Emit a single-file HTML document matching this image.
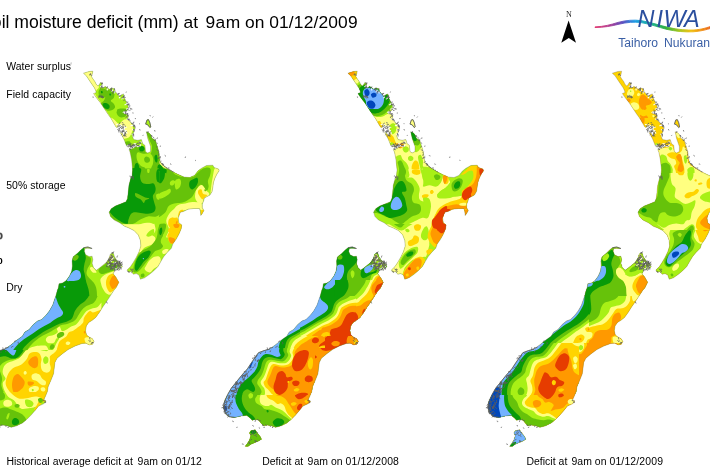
<!DOCTYPE html>
<html><head><meta charset="utf-8"><title>Soil moisture deficit</title>
<style>
html,body{margin:0;padding:0;background:#fff;}
body{width:710px;height:473px;overflow:hidden;position:relative;font-family:"Liberation Sans",sans-serif;}
svg{position:absolute;left:0;top:0;}
text{white-space:pre;font-family:"Liberation Sans",sans-serif;fill:#000;}
.t{font-size:17.4px;}
.l{font-size:10.45px;letter-spacing:0.07px;}
.c{font-size:10.45px;letter-spacing:0.04px;}
</style></head><body>
<svg width="710" height="473" viewBox="0 0 710 473">
<rect width="710" height="473" fill="#fff"/>
<defs><path id="lp" d="M83.5,73.2 86.5,72.3 89.0,71.5 92.8,71.2 92.4,73.6 91.5,76.6 92.8,78.7 94.9,81.6 96.2,84.2 97.9,85.9 99.1,85.0 100.4,82.5 102.1,82.9 102.5,84.2 100.8,85.9 101.2,87.6 103.4,88.1 105.0,86.3 107.2,87.6 109.3,89.2 111.8,88.0 114.3,88.8 115.2,91.4 117.3,93.9 119.4,96.4 121.5,94.7 123.6,93.9 124.1,97.3 125.3,99.8 126.6,102.3 127.9,105.3 128.5,108.6 127.0,110.7 124.2,111.4 123.5,113.5 126.3,114.2 128.5,115.6 127.7,119.2 129.4,121.0 132.3,124.1 135.1,128.3 133.7,132.5 132.3,136.1 133.7,139.6 137.9,140.3 141.4,139.6 142.8,143.8 144.9,145.2 145.6,151.5 147.7,153.0 150.6,151.5 150.6,146.6 149.2,142.4 147.7,138.2 147.0,134.6 146.3,131.8 148.5,132.5 150.6,134.6 152.0,138.2 155.5,140.3 156.2,143.1 157.6,147.3 159.0,152.3 159.7,157.9 160.4,162.1 162.8,164.8 167.0,168.3 172.7,171.8 178.3,174.6 183.9,177.0 189.6,177.5 194.5,175.4 198.0,171.1 201.5,168.3 206.5,165.5 212.8,165.2 214.2,167.6 218.5,169.0 219.2,170.8 217.0,173.9 214.9,178.2 213.5,182.4 212.8,187.3 212.1,191.5 210.0,195.1 207.2,196.5 204.4,197.9 203.7,200.7 202.3,204.2 202.3,207.7 203.9,210.6 202.3,213.4 200.8,215.5 200.4,211.3 199.4,208.5 193.8,208.5 188.2,209.2 183.9,211.3 180.3,212.3 178.2,217.9 178.9,222.8 181.7,224.9 181.2,228.8 179.2,233.5 176.3,239.1 172.8,244.0 171.4,248.2 167.2,252.5 163.7,256.7 160.8,261.6 158.0,266.5 153.8,270.8 149.6,274.3 144.6,277.8 140.4,279.2 139.0,275.0 136.2,273.6 133.4,274.3 131.3,271.5 128.5,272.2 127.0,270.1 130.6,266.5 133.4,262.3 136.2,257.4 139.0,251.8 140.8,246.1 140.4,240.5 138.3,234.9 134.1,230.6 128.5,227.8 124.6,226.3 119.7,222.8 114.1,220.0 110.6,216.5 109.2,212.3 111.3,208.7 115.5,205.9 121.1,203.8 126.1,201.7 127.5,198.2 128.2,192.5 128.9,185.5 130.3,179.9 132.1,175.6 132.7,170.0 132.3,166.3 131.5,159.3 130.1,152.3 129.0,149.5 133.0,148.3 137.0,145.8 136.0,144.2 131.0,146.0 127.5,147.0 126.6,145.9 123.8,138.9 120.3,132.5 122.0,133.0 124.0,136.0 125.5,135.0 124.5,131.0 123.0,127.5 120.0,125.5 117.0,127.5 116.0,126.9 111.1,118.5 108.0,114.2 103.8,107.9 102.1,105.3 100.0,102.3 97.4,99.0 94.9,95.6 93.6,93.5 96.2,92.6 95.8,90.9 94.5,88.0 91.9,84.2 89.0,79.9 86.5,76.1ZM147.0,119.9 148.5,119.6 149.9,122.7 150.8,126.9 149.9,127.6 147.7,124.8 145.6,124.1ZM83.6,247.7 87.9,247.0 92.1,248.5 87.6,248.3 85.0,248.5 84.3,251.3 85.7,254.8 89.3,256.6 92.1,256.2 92.8,259.7 92.1,263.2 93.5,267.5 96.3,270.3 99.1,268.2 102.6,265.4 106.2,262.5 109.0,258.3 110.4,254.1 113.2,252.7 114.6,256.9 117.4,261.1 121.7,264.6 122.4,266.8 118.8,269.6 114.6,271.0 113.2,273.8 116.0,277.3 118.8,282.3 116.0,287.9 114.1,290.0 110.5,295.6 106.3,302.0 102.8,306.9 99.3,312.5 95.7,317.5 92.2,320.3 88.7,322.4 86.3,325.9 85.5,330.8 86.6,335.1 89.4,337.2 92.2,338.6 94.1,341.4 92.5,344.2 89.4,344.9 85.9,343.2 82.0,343.5 75.1,346.0 68.1,349.6 62.1,354.0 57.0,358.3 54.9,362.5 54.2,368.2 53.5,373.8 50.7,380.8 48.2,386.5 47.4,391.4 45.4,396.3 43.9,399.6 46.2,401.6 43.6,403.8 38.6,406.1 35.1,410.4 30.9,415.3 26.7,419.5 22.4,423.0 16.8,425.8 11.2,427.3 6.9,425.8 2.7,425.1 -0.8,425.8 -2.9,423.7 -5.7,420.2 -9.3,419.5 -12.1,420.2 -14.2,418.1 -17.7,415.3 -23.3,416.0 -29.7,417.4 -35.3,416.7 -38.8,413.2 -40.9,408.2 -40.1,402.0 -36.7,394.5 -33.0,388.0 -28.3,382.3 -22.6,375.2 -17.0,368.9 -12.8,362.5 -8.6,356.4 -5.9,352.7 -0.3,350.6 4.8,349.2 10.8,345.0 17.4,339.7 22.3,336.3 24.8,332.1 29.1,329.6 33.3,324.5 37.5,321.1 41.7,319.4 46.0,315.2 49.3,311.0 52.7,305.1 54.4,300.0 55.8,296.0 57.4,290.0 58.3,287.9 59.0,283.7 62.5,283.0 66.0,280.8 69.5,275.9 71.7,271.0 72.4,266.1 72.1,261.1 73.1,256.9 77.3,253.4 80.8,249.9ZM-13.5,430.8 -9.3,429.8 -7.1,432.9 -4.3,436.4 -2.9,439.2 -6.4,441.3 -10.0,442.7 -13.5,444.2 -16.3,446.3 -19.1,446.3 -17.0,443.5 -14.9,439.9 -13.5,435.7 -14.9,432.9Z"/><clipPath id="land"><use href="#lp"/></clipPath><g id="cn"><path d="M115.1,268.9 116.2,269.0 117.4,268.7M120.1,266.7 121.0,266.1 121.6,265.1M113.5,263.6 113.9,263.3 114.3,263.0 114.6,262.5M114.9,270.8 115.5,270.6 115.9,270.2 116.1,269.6M117.5,268.3 118.0,267.6 118.0,266.7M116.7,264.4 117.4,264.2 117.4,263.5 117.8,263.0M107.9,265.1 108.3,264.7 108.8,264.9 109.3,264.6M110.3,261.4 111.0,261.4 111.5,260.8M112.4,259.1 112.9,258.4 113.8,258.1M116.3,271.0 117.1,270.3 117.8,269.5M119.1,269.4 119.3,268.7 119.9,268.3 120.5,267.8M117.1,263.9 117.3,263.1 118.0,262.5M114.1,263.7 115.0,263.0 116.0,262.3M112.8,268.0 113.2,267.6 113.0,267.0 113.4,266.6M101.4,85.3 101.3,86.3 100.4,86.6M107.2,88.7 107.2,89.1 107.3,89.5 107.3,89.9M112.7,90.0 112.3,90.4 112.1,90.9 112.0,91.4M114.4,91.2 114.5,92.1 114.7,92.9M120.1,96.9 119.7,97.4 119.3,97.9M123.4,97.5 123.0,98.1 122.4,98.4 121.9,98.9M126.6,103.4 126.1,104.4 125.0,104.8M128.7,108.1 128.1,108.7 127.3,108.8 126.6,109.1M124.3,111.9 123.7,112.0 123.2,112.4M125.8,112.7 125.0,112.4 124.5,113.1M129.1,119.1 128.0,119.0 126.9,119.1M132.9,125.5 132.2,125.3 131.6,125.5 131.0,125.8M134.6,130.4 133.9,130.3 133.3,130.0 132.7,129.6M133.3,134.7 132.8,134.1 132.0,134.3M120.0,124.8 120.6,125.2 121.2,125.5 121.7,126.0M118.7,126.9 120.2,127.0 121.5,127.7M126.1,130.6 126.0,132.1 127.0,133.2M123.0,126.3 123.3,127.1 123.8,127.8 123.6,128.6M124.4,127.8 124.3,129.3 124.2,130.8M123.7,126.2 124.6,126.7 125.4,127.2 126.4,127.3M121.6,129.0 122.4,129.2 122.8,129.9 123.1,130.7M119.1,129.1 118.8,130.5 119.3,131.9M121.5,128.5 121.9,129.3 121.7,130.2M125.1,130.5 124.7,131.0 124.4,131.6 124.6,132.2M116.7,124.6 117.3,124.8 118.0,124.7 118.6,124.9M120.7,127.3 121.5,128.3 122.2,129.4M126.2,146.8 126.9,145.8 128.1,145.3M126.7,147.8 127.7,147.4 128.6,147.9M139.9,146.2 140.1,145.4 140.7,144.8M134.3,146.2 134.8,146.0 135.4,146.1 136.0,146.1M137.5,146.6 138.3,146.5 138.9,146.0M138.2,146.5 139.0,145.9 139.8,145.5M134.0,143.9 134.8,143.7 135.6,143.9M125.8,146.9 126.5,146.3 127.4,146.6 128.3,146.6M127.9,146.8 128.4,145.5 129.7,145.3M139.6,142.1 140.6,142.2 141.6,142.0" fill="none" stroke="#fff" stroke-width="1.1" stroke-linecap="round"/><use href="#lp" fill="none" stroke="#555" stroke-width="0.35" stroke-opacity="0.8"/><path d="M-27.1,390.3 -28.6,389.2 -29.4,387.7M-34.7,398.8 -35.0,397.0 -35.5,395.2M-31.9,398.1 -31.7,396.2 -30.4,394.9M-36.5,408.9 -36.3,408.0 -36.3,407.0 -36.8,406.2M-41.8,405.7 -41.0,404.2 -40.0,402.9 -38.5,402.1M-39.7,408.4 -39.4,407.5 -39.6,406.6 -40.2,405.9M-20.3,381.5 -20.1,380.7 -20.2,379.9 -20.6,379.1M-27.7,391.7 -28.0,390.6 -28.4,389.5 -28.5,388.4M-40.1,410.8 -39.0,410.5 -38.0,409.9 -37.0,410.2M-36.8,417.4 -35.6,415.7 -35.7,413.7M-36.8,398.3 -35.2,397.2 -33.6,396.1M-23.3,383.6 -21.9,383.1 -20.6,382.2M-27.9,388.5 -26.5,388.8 -25.4,388.0 -24.4,387.0M-38.5,401.0 -37.1,401.5 -35.7,400.8 -34.2,400.7M-20.7,379.4 -20.1,377.4 -20.4,375.3M-33.4,390.6 -31.6,391.6 -30.2,390.1M-38.4,408.6 -37.8,406.2 -39.2,404.2M-35.4,400.3 -36.3,399.0 -35.7,397.5M-21.2,380.6 -21.4,378.7 -22.3,377.0M-22.2,377.9 -22.2,376.9 -22.1,376.0 -21.6,375.3M-29.7,385.2 -28.3,384.6 -26.9,383.9 -26.7,382.4M-30.5,392.4 -30.2,390.9 -30.3,389.4M-38.8,414.3 -40.0,412.7 -40.5,410.8M-28.2,388.9 -28.8,388.2 -28.8,387.2 -29.0,386.2M-40.6,408.7 -40.2,408.0 -39.9,407.3 -39.4,406.7M-32.0,397.9 -32.0,396.8 -32.1,395.6 -31.3,394.8M-22.0,376.1 -21.0,375.7 -20.0,375.1M-27.7,384.0 -28.5,383.1 -28.1,381.9M-26.5,385.3 -25.4,383.1 -22.9,382.8M-39.5,411.0 -38.5,410.4 -38.3,409.2 -38.3,408.1M-33.6,395.2 -32.7,394.4 -31.6,393.7 -30.5,393.2M-25.7,383.8 -25.1,382.8 -24.0,382.4M-39.2,413.6 -38.0,413.4 -36.9,412.8 -36.0,411.9M-29.8,392.6 -28.0,392.3 -26.5,391.4M-23.2,383.5 -23.1,382.7 -23.5,382.1 -23.9,381.4M-28.0,384.8 -27.3,383.2 -27.2,381.5M-39.9,406.7 -40.1,406.0 -39.8,405.3 -40.1,404.6M-21.2,375.7 -19.8,375.6 -18.3,375.6M-35.3,407.7 -35.1,405.9 -34.9,404.0M-24.3,386.9 -23.9,384.8 -24.1,382.6M-28.8,386.8 -28.4,385.7 -28.9,384.7 -28.6,383.5M-17.0,377.3 -16.5,376.0 -17.6,375.0 -17.3,373.6M-25.1,382.9 -23.8,381.8 -22.2,382.4M-34.1,390.3 -32.9,390.8 -31.8,390.2M-33.9,390.0 -32.8,390.6 -31.6,391.0 -30.5,391.5M-32.2,387.4 -30.8,387.4 -29.3,387.3 -28.0,386.9M-41.1,407.3 -40.6,406.0 -39.4,405.3 -38.7,404.0M-37.9,403.0 -38.2,401.8 -38.6,400.8 -39.3,399.8M-27.2,384.9 -27.8,383.8 -28.4,382.7 -28.4,381.5M-31.8,392.1 -30.9,391.5 -30.4,390.6 -29.7,389.8M-33.5,405.1 -33.5,402.9 -31.5,402.0M-32.2,402.8 -32.4,401.3 -32.0,399.9M-30.7,393.0 -29.5,392.5 -28.2,392.2M-28.9,399.1 -29.6,397.0 -31.5,396.0M-34.0,409.6 -34.9,408.8 -35.7,407.9 -35.7,406.7M-35.9,396.8 -35.4,396.4 -35.1,395.7 -35.2,395.0M-33.9,391.9 -33.0,391.7 -32.4,391.1 -32.0,390.3M-36.1,409.1 -35.7,407.5 -34.7,406.3 -34.5,404.6M-19.7,376.3 -19.0,374.0 -16.6,373.6M-37.7,415.2 -37.0,415.2 -36.3,415.3 -35.7,414.9M-21.9,376.7 -21.5,375.9 -20.9,375.3 -20.0,375.2M-36.4,406.4 -35.5,406.0 -34.6,406.4 -33.9,405.6M-39.3,411.7 -38.8,410.4 -39.4,409.1 -40.2,408.0M-31.7,394.7 -30.9,394.9 -30.1,395.1 -29.2,395.1M-31.8,408.9 -32.6,407.9 -33.7,407.1M-28.1,389.7 -27.4,388.6 -26.6,387.5M-34.2,414.5 -33.8,413.9 -33.9,413.1 -34.2,412.5M-36.0,407.6 -35.3,407.2 -34.6,407.0 -34.0,406.5M-33.0,404.4 -34.0,403.3 -34.2,401.9M-30.9,391.4 -29.0,390.9 -27.9,389.2M-37.8,405.0 -37.6,404.1 -37.9,403.2 -37.3,402.5M-42.9,407.8 -41.6,407.6 -40.7,406.6 -40.1,405.5M-19.2,377.1 -18.8,375.6 -18.1,374.2M-21.5,379.8 -20.7,379.6 -20.1,378.9 -19.4,378.4M-38.5,413.0 -37.6,412.0 -36.3,411.7 -35.0,411.3M4.6,349.8 4.9,349.0 5.3,348.2 5.8,347.5M-12.1,367.8 -11.4,367.7 -11.1,367.1 -10.4,367.0M-9.9,356.4 -9.7,355.7 -9.3,355.0M-9.5,366.5 -9.5,365.4 -9.4,364.4 -8.8,363.4M11.0,347.4 11.8,347.1 12.5,346.5 13.3,346.2M-8.9,357.6 -8.2,356.8 -7.4,355.9 -7.4,354.8M-9.1,360.8 -9.0,359.7 -8.8,358.6M-11.9,359.1 -11.7,358.5 -11.6,357.8 -11.0,357.6M5.3,348.1 7.0,347.8 8.6,347.3M-7.0,362.0 -6.7,360.9 -5.7,360.5 -5.7,359.3M1.2,353.0 0.9,352.2 1.1,351.5M17.9,344.3 18.4,343.6 18.2,342.7 18.2,341.8M-10.4,358.7 -10.0,357.7 -9.1,357.3 -8.2,356.9M-14.3,370.0 -13.4,370.0 -12.6,369.5M2.7,350.1 3.1,348.8 2.8,347.5M-20.5,371.5 -19.0,371.9 -17.5,371.9M-4.5,353.7 -3.4,353.3 -2.7,352.5M14.1,341.5 15.0,341.2 15.7,340.6M5.6,352.1 5.9,351.0 6.8,350.2M-15.3,368.4 -14.1,367.4 -12.7,366.9M-7.8,361.2 -7.2,360.5 -6.4,360.3 -5.6,360.2M-16.3,372.8 -15.8,371.8 -15.3,370.8M4.8,349.2 -0.3,350.6 -5.9,352.7 -8.6,356.4 -12.8,362.5 -17.0,368.9 -22.6,375.2 -28.3,382.3 -33.0,388.0 -36.7,394.5 -40.1,402.0 -40.9,408.2 -38.8,413.2 -35.3,416.7 -29.7,417.4M112.1,260.6 112.9,260.6 113.6,260.1M111.8,260.2 112.8,260.0 113.8,260.4M111.1,267.4 111.8,267.8 112.5,268.1 113.3,268.3M119.5,266.8 120.3,266.3 121.1,265.7M111.1,267.1 111.1,266.3 111.0,265.6 110.6,264.9M111.6,264.3 112.8,264.2 113.6,263.4M108.1,261.0 109.7,260.5 110.8,259.1M114.0,265.2 114.8,265.0 115.5,264.6 116.3,264.8M108.4,268.1 109.4,267.0 110.3,265.8M115.9,261.7 116.1,260.9 116.4,260.1M117.1,263.2 117.5,262.7 117.7,262.1 117.5,261.5M119.0,263.7 119.3,262.9 119.5,262.0M113.3,266.8 113.6,265.7 114.2,264.7 114.7,263.7M117.1,266.5 118.1,265.9 119.3,265.5M109.8,264.0 109.7,263.5 109.8,263.0 109.6,262.5M114.1,267.5 114.6,265.9 114.9,264.3M121.0,269.6 121.1,268.1 120.2,266.7M114.8,265.3 115.4,265.2 115.9,264.9 116.5,265.2M119.1,266.0 119.8,265.4 120.8,265.5 121.7,265.4M116.7,263.4 117.5,263.3 118.3,263.7 119.2,263.7M113.4,263.9 114.9,264.0 116.3,264.3M118.6,264.8 119.2,264.0 119.8,263.3 120.7,263.2M106.1,266.5 106.8,266.3 107.6,266.3M113.3,264.0 113.8,264.1 114.3,264.0 114.8,264.3M110.6,265.0 111.3,263.6 112.1,262.3M109.7,263.1 110.3,262.9 110.7,262.2 110.9,261.5M113.8,260.6 113.9,259.1 114.2,257.6M117.1,270.0 117.2,269.5 117.3,269.0 117.8,268.8M113.9,269.0 113.8,268.2 113.6,267.4 113.5,266.5M115.5,268.1 115.7,267.2 115.3,266.3 115.5,265.4M120.5,264.8 119.8,263.3 120.1,261.6M118.6,266.1 118.2,265.5 117.9,264.9 118.0,264.2M114.4,270.8 115.5,270.2 116.2,269.1M117.7,264.3 117.1,263.0 116.5,261.7M107.2,267.1 107.1,266.2 106.6,265.5M107.3,265.2 107.7,264.4 107.5,263.6 107.1,262.8M117.0,267.2 118.4,266.7 119.9,266.8M112.2,266.4 113.8,267.0 115.1,266.1M110.9,268.9 110.9,267.9 110.6,266.9 111.1,265.9M117.9,265.5 117.4,263.9 117.6,262.2M115.4,264.5 116.2,263.8 116.7,263.0 116.8,261.9M116.9,270.0 117.9,269.0 118.4,267.8M109.6,263.2 110.3,263.4 110.9,263.8 111.6,264.2M108.7,264.2 109.6,262.9 110.2,261.4M117.7,265.2 118.9,265.0 120.1,264.7M110.3,268.7 111.4,268.5 112.6,268.4 113.6,268.0M107.5,261.4 108.5,261.1 109.5,260.9 110.4,260.4M105.9,263.6 106.3,263.1 106.8,262.7 107.0,262.0M107.7,260.4 108.3,260.0 109.0,259.7 109.5,259.2M110.5,259.7 111.5,258.6 112.1,257.2M110.5,266.6 110.4,266.0 110.0,265.5 110.2,264.9M109.5,259.9 109.8,258.6 109.7,257.3M109.1,260.7 109.2,260.2 109.0,259.7 109.2,259.2M115.9,264.5 115.4,263.5 114.8,262.6 114.0,261.8M121.1,265.9 121.7,265.0 122.3,264.2 121.8,263.2M109.8,269.5 111.4,269.2 113.0,269.3M117.4,268.5 117.9,268.2 118.4,268.0 118.9,267.6M109.7,265.7 110.2,265.5 110.7,265.2 111.3,265.0M110.2,263.7 111.9,263.4 113.4,264.1M114.4,263.0 115.9,263.4 117.3,262.8M109.0,260.1 109.0,259.0 109.3,258.0M120.6,264.6 119.9,263.6 119.4,262.6M119.7,263.3 119.6,262.4 119.5,261.6 119.0,260.9M112.5,266.3 113.5,266.6 114.4,265.9 115.5,266.1M109.8,261.9 110.3,261.2 109.9,260.6 110.1,259.9M112.0,260.8 111.1,260.2 110.5,259.3 110.6,258.2M109.3,266.1 109.4,265.2 108.9,264.4M115.6,265.1 115.8,264.2 115.6,263.3M112.9,268.7 112.3,267.9 112.1,266.9 112.4,265.9M106.2,263.2 106.6,262.9 107.2,262.8 107.8,263.1M114.6,270.7 114.3,269.0 115.3,267.7M118.8,270.6 119.2,269.7 119.9,269.0 119.9,268.1M115.6,261.0 115.0,259.8 116.0,259.0M116.5,261.1 117.5,261.1 118.4,261.3 119.1,260.8M120.4,268.0 120.3,267.4 120.3,266.8 119.8,266.5M114.5,262.0 114.9,261.1 114.5,260.3 115.0,259.4M120.5,264.1 121.0,262.7 122.5,262.0M118.5,263.2 118.9,262.5 119.0,261.8 119.5,261.3M110.1,263.6 111.2,263.5 112.2,263.4M108.7,263.8 109.2,262.8 110.1,262.1M110.6,255.8 111.1,255.5 111.3,254.9 111.9,254.8M110.5,257.8 111.7,257.8 112.9,257.6M111.1,258.3 111.1,257.7 111.5,257.2 111.6,256.6M112.2,256.9 112.3,256.4 112.0,255.9 111.8,255.4M111.7,256.2 112.4,256.3 113.0,256.0M111.3,256.1 111.8,255.5 112.4,254.9M111.5,253.2 112.1,253.0 112.7,252.6 113.4,252.5M110.7,258.0 110.7,257.3 111.2,256.9M112.8,253.3 113.1,252.7 113.3,252.0 113.8,251.5M110.2,257.7 110.8,256.7 111.2,255.6M111.8,257.9 112.6,257.1 113.4,256.3M112.7,253.6 112.4,252.9 112.0,252.3M100.8,82.9 101.4,83.4 102.2,83.2 103.0,82.9M101.1,84.6 101.7,84.1 102.2,83.5 101.9,82.8M102.0,86.1 101.4,87.5 100.3,88.7M102.5,88.0 102.2,87.0 101.6,86.1 102.1,85.2M104.3,87.7 103.7,87.5 103.1,87.9M106.2,88.7 106.0,88.1 106.0,87.5M107.1,87.9 107.0,87.0 107.9,86.8M110.0,89.5 111.0,90.4 112.1,91.1M111.9,89.1 110.4,88.8 109.8,90.2M111.7,90.6 111.6,89.1 111.6,87.6M113.2,91.4 112.8,92.6 112.6,93.8M115.0,90.2 114.5,89.3 114.5,88.3M114.9,92.1 113.8,91.6 112.6,91.8M117.7,93.9 118.5,94.2 118.8,93.4 119.7,93.4M119.0,96.0 120.2,96.0 121.3,95.5M118.0,95.1 118.0,94.1 118.5,93.3M122.6,96.8 122.1,97.4 122.4,98.1 121.9,98.7M123.2,97.3 123.6,96.6 124.2,96.1 124.2,95.3M123.9,97.8 123.3,96.9 123.9,96.0M125.6,97.5 124.2,97.0 122.6,97.2M124.7,99.7 124.5,100.2 124.0,100.4 123.5,100.6M126.1,101.4 127.0,102.3 128.3,102.0M126.7,103.9 127.0,104.6 127.7,104.8 128.3,105.3M128.5,103.8 128.5,104.9 129.5,105.2 130.3,105.7M127.8,104.3 128.6,104.0 129.5,104.0M129.7,106.3 129.2,106.9 128.9,107.6 128.6,108.3M129.9,108.5 130.8,108.4 131.5,108.8 132.3,109.1M126.9,109.1 127.9,109.4 128.6,110.2 129.5,110.5M125.0,109.8 125.0,110.2 125.4,110.4 125.8,110.5M125.1,111.8 125.7,111.8 126.0,111.4 126.3,111.0M126.5,111.9 125.7,112.0 125.5,112.8 125.5,113.5M125.2,113.6 126.2,113.8 127.2,114.1 128.2,113.6M127.2,113.0 127.6,114.1 127.8,115.3M127.7,115.5 126.8,116.2 126.4,117.1 125.7,117.9M127.8,116.7 127.9,115.6 128.7,114.8M129.4,119.0 128.4,119.3 128.5,120.3M129.0,119.5 128.1,119.2 127.2,118.8M130.3,121.3 129.7,120.2 129.1,119.2M131.1,123.0 131.8,123.4 132.7,123.6 133.5,123.7M132.6,123.1 133.7,122.8 133.9,121.7M133.6,125.5 134.2,126.0 134.9,126.3 135.5,126.9M133.4,125.6 134.0,125.1 134.7,125.4M135.0,126.4 134.5,125.2 133.4,124.4M135.4,127.6 134.5,126.8 133.4,126.3M135.0,130.2 133.9,129.9 133.2,129.1M134.0,131.8 133.7,130.7 133.8,129.5M132.6,133.9 133.1,133.7 133.5,134.0 133.7,134.6M132.9,133.7 133.6,135.0 133.7,136.5M122.0,128.3 123.1,127.6 123.7,126.4M122.4,124.5 123.3,124.4 124.1,124.4 124.5,125.1M121.5,126.7 122.1,126.3 122.8,126.1 123.4,125.8M120.3,123.1 119.2,123.6 118.6,124.6M119.6,129.5 119.4,128.7 118.8,128.1M125.7,127.1 125.3,126.4 125.2,125.6M118.2,125.0 118.1,125.8 117.8,126.6 118.1,127.3M126.1,134.4 125.8,133.6 125.1,133.3 124.8,132.5M118.9,132.4 118.9,131.7 118.7,131.1 118.7,130.4M121.0,135.2 121.4,134.7 121.8,134.3 122.3,133.8M122.2,131.8 123.0,131.3 123.4,130.5 123.3,129.6M121.6,131.0 122.4,131.1 123.2,131.4 124.1,131.4M119.8,130.8 118.9,130.6 118.2,129.9 117.4,129.5M121.8,122.7 122.6,122.7 123.3,123.0M124.7,134.4 123.7,135.4 122.9,136.6M124.0,127.4 123.5,127.6 123.2,128.1 123.0,128.6M124.0,134.8 124.4,135.7 124.9,136.4M125.1,135.5 125.6,135.6 125.9,136.1 126.4,136.3M118.9,126.6 119.3,126.2 119.9,126.0 120.2,125.5M124.9,136.3 124.7,135.4 124.6,134.5 124.7,133.6M122.0,130.9 123.2,131.1 124.4,131.2M121.6,129.1 121.2,127.7 119.8,127.1M118.4,130.1 119.1,129.6 119.1,128.7 119.5,127.8M126.8,131.4 125.5,132.3 124.9,133.8M121.9,131.5 122.2,131.9 122.5,132.2 122.3,132.6M120.1,130.7 120.9,131.4 121.6,132.3 122.6,131.9M133.6,146.4 134.2,146.7 134.7,147.2 135.4,147.2M130.3,147.5 130.3,146.8 130.3,146.1 130.5,145.4M135.5,146.1 135.2,145.8 134.7,145.6 134.2,145.6M133.4,143.8 133.6,144.3 133.6,144.9 133.9,145.4M131.1,149.6 130.4,149.4 129.6,149.1 129.5,148.4M133.9,144.6 133.2,145.5 132.1,145.9M130.4,145.0 130.9,144.1 131.2,143.1M140.7,143.0 139.8,143.1 139.2,142.5 138.7,141.8M136.3,144.3 137.0,145.6 138.5,145.6M133.3,146.0 132.3,145.9 131.5,146.4 130.5,146.5M136.0,144.9 136.9,143.8 137.6,142.6M131.7,145.0 132.5,144.7 133.4,144.9M131.4,145.5 132.0,145.9 132.7,145.7 133.5,145.6M130.3,146.0 130.0,145.5 130.0,145.0 129.7,144.6M141.1,143.6 140.3,143.2 140.2,142.3 139.6,141.6M138.8,144.7 138.8,145.5 139.1,146.2 139.8,146.7M135.0,146.1 134.7,145.5 134.6,144.8M130.3,148.5 130.2,149.2 130.8,149.7M129.1,143.9 128.8,144.8 128.5,145.6 128.7,146.5M130.9,147.6 130.4,146.2 129.3,145.3M132.8,148.0 132.2,147.1 131.5,146.3M132.4,148.2 131.8,147.2 131.3,146.2M139.1,145.4 138.8,145.7 138.4,146.0 138.0,146.2M137.3,143.4 138.6,143.4 139.8,142.8M128.4,144.6 128.9,144.3 129.4,144.4 130.0,144.2M128.5,146.9 127.7,146.1 126.8,145.6M98.6,95.8 99.0,96.9 98.8,98.1M100.3,97.2 101.1,97.1 101.7,97.7 102.2,98.3M100.9,94.9 101.1,95.7 101.4,96.5 101.7,97.2M101.9,96.6 103.0,97.2 103.9,98.1M99.0,95.2 99.6,96.1 99.6,97.3M102.3,95.9 102.1,96.7 102.7,97.3 102.7,98.2M102.4,96.1 102.9,96.4 103.2,97.0 103.8,97.3M99.7,96.5 100.5,96.2 101.4,96.3M90.5,75.1 90.4,74.7 90.7,74.2M90.7,74.2 90.7,73.9 90.6,73.6 90.6,73.3M91.1,74.3 90.5,74.2 89.9,74.0M89.7,74.2 89.7,74.9 89.8,75.5M91.8,75.7 91.6,75.3 91.2,75.2 90.9,74.8M147.6,132.9 147.7,132.2 148.0,131.6 148.2,131.0M151.8,135.3 151.6,136.2 152.5,136.5M151.8,136.2 151.3,135.8 151.3,135.1M154.1,138.3 154.0,137.8 153.6,137.5 153.1,137.2M155.5,140.2 155.3,139.5 155.9,139.0M155.4,140.8 154.4,140.5 153.8,139.7M157.6,143.7 157.3,143.4 157.0,143.0 156.8,142.6M157.1,146.2 156.9,146.7 156.7,147.2 156.2,147.2M158.5,150.4 157.8,150.4 157.1,150.1 156.7,149.5M159.2,151.9 158.9,152.2 158.6,152.1 158.2,152.3M158.9,153.6 158.7,154.7 158.3,155.7M159.7,157.5 158.5,157.8 158.5,159.0M160.3,158.2 160.3,157.5 160.2,156.8 160.8,156.4M161.4,161.2 160.8,161.7 160.2,162.1 159.7,162.7M163.0,164.0 163.2,164.6 163.2,165.3 163.9,165.5M163.4,164.3 162.6,164.7 162.0,165.2M140.0,123.7 139.5,123.8 139.2,123.5M152.5,117.5 152.8,117.2 153.0,116.9 153.2,116.6M155.0,131.5 154.7,130.8 154.8,130.0M158.0,138.0 157.3,138.1 156.6,138.5M161.0,146.0 160.4,146.2 159.8,146.3M166.0,156.0 165.3,155.9 164.7,155.3M170.0,164.0 170.5,163.9 170.9,164.1 171.2,164.5M136.0,118.5 135.6,118.6 135.2,118.6 135.1,119.0M133.5,113.0 133.1,113.1 132.8,112.9 132.4,113.0M131.0,109.5 130.6,110.0 130.1,110.3M139.5,129.0 139.8,129.7 140.1,130.4M143.0,136.0 142.8,135.7 143.0,135.4 143.3,135.2M150.5,116.0 150.1,116.0 150.0,115.6 150.0,115.3M185.0,158.0 185.3,157.6 185.2,157.1 185.5,156.6M196.0,160.5 195.6,160.6 195.3,160.3 195.0,160.4M93.0,96.5 93.0,97.2 93.4,97.8M126.5,92.0 126.0,91.9 125.8,92.3M147.0,119.9 148.5,119.6 149.9,122.7 150.8,126.9 149.9,127.6 147.7,124.8 145.6,124.1 147.0,119.9M131.5,272.6 132.3,272.0 132.8,271.2M132.1,270.3 132.3,270.7 132.6,271.0 133.0,271.2M131.2,270.8 131.6,270.7 131.8,270.5 132.2,270.5M128.5,272.1 128.8,272.2 129.2,272.2 129.6,272.3M130.6,269.7 130.8,269.1 130.4,268.6M127.5,271.4 128.1,271.2 128.6,271.6 129.2,271.6M132.6,269.4 131.6,269.3 130.7,269.7M133.3,269.6 132.9,269.4 132.6,269.1 132.1,269.1M117.0,257.5 117.2,256.5 117.6,255.6M119.5,262.0 119.7,261.3 120.4,260.9M132.4,177.5 132.8,178.0 133.4,178.3 133.9,178.8M132.4,175.6 132.7,176.6 133.4,177.4M133.7,179.4 133.1,179.3 132.6,179.1 132.6,178.6M131.0,176.7 131.2,177.7 130.4,178.4M132.6,177.3 131.6,177.1 130.5,177.3M133.5,177.4 133.4,176.9 133.3,176.4M129.5,176.1 130.0,175.9 130.5,176.2 130.9,176.6M161.6,163.1 161.8,163.8 162.0,164.4M161.7,163.3 162.7,163.6 163.1,164.5M164.3,165.8 164.7,166.6 165.0,167.4M165.4,166.7 166.2,167.6 167.1,168.3M167.4,168.2 168.4,168.0 169.4,168.0M168.5,168.9 169.0,169.2 169.3,169.6 169.7,169.9M170.4,170.1 171.0,170.3 171.6,170.6M172.0,171.1 172.4,171.5 172.9,171.7 173.5,171.7M92.6,342.6 92.3,342.3 91.8,342.3M90.8,343.5 91.8,343.2 92.6,342.5M89.6,337.4 89.7,338.4 90.0,339.4M93.1,342.9 92.6,342.7 92.1,343.1 91.4,343.1M89.3,341.8 90.1,341.3 91.0,340.8M92.3,342.6 92.7,342.6 93.1,342.6 93.4,342.4M88.8,341.0 89.0,340.5 88.8,340.0M44.1,400.4 43.9,400.6 43.8,400.8 43.5,400.8M45.6,402.7 45.5,402.1 45.0,401.8 44.6,401.4M44.4,400.4 43.7,400.4 43.0,400.4M45.8,400.9 45.4,401.0 45.0,401.1M44.6,401.9 44.6,402.3 44.9,402.6 44.9,403.1M106.3,301.5 107.3,303.4M-6.7,432.6 -7.4,432.8 -8.1,432.5 -8.7,433.0M-7.6,434.4 -8.2,434.7 -8.8,434.5M-9.3,441.3 -9.3,440.7 -9.8,440.4M-9.8,431.5 -9.3,431.1 -9.2,430.4M-11.0,433.5 -10.7,432.9 -10.2,432.4 -10.0,431.7M-15.3,443.7 -15.4,442.9 -15.5,442.2M-14.3,440.6 -13.5,439.8 -12.4,439.4M-14.0,434.6 -13.1,434.4 -12.3,434.5M-11.2,433.5 -11.7,432.8 -12.0,432.0M-12.2,434.2 -11.9,433.7 -11.8,433.2M-10.1,435.5 -10.3,435.0 -10.8,434.7 -11.1,434.2M-7.5,436.6 -8.2,436.3 -8.8,435.7 -9.3,435.0M-7.7,441.3 -8.3,441.1 -8.9,441.3 -9.6,441.2M-7.7,441.4 -8.6,441.4 -9.3,440.9M-12.1,431.7 -11.4,431.3 -11.1,430.6 -10.4,430.4M-14.2,444.0 -14.7,443.3 -14.9,442.5 -14.9,441.7M-27.0,428.0 -27.5,427.5 -27.2,426.8M-12.0,425.0 -11.6,425.5 -11.4,426.0 -10.9,426.4M-5.0,427.5 -5.4,427.8 -5.1,428.2 -4.8,428.6M0.5,427.0 -0.1,427.4 -0.9,427.4M-22.5,444.0 -21.9,444.0 -21.4,444.4 -20.8,444.3M-32.0,421.0 -31.4,421.1 -31.1,421.5 -31.1,422.1M-8.9,420.2 -9.1,421.0 -9.4,421.8M-5.9,420.2 -6.2,419.8 -6.5,419.3 -7.0,419.5M-5.5,420.5 -4.8,420.4 -4.4,420.9 -3.8,420.9M-1.9,424.6 -2.0,425.0 -1.6,425.3 -1.8,425.8M-0.9,425.6 -1.1,425.2 -1.6,425.2 -1.9,424.9M2.1,425.8 1.7,425.1 1.1,424.4M5.2,425.8 6.0,426.4 6.7,425.8M9.3,426.6 8.6,427.3 7.6,427.5M83.6,247.7 87.9,247.0 92.1,248.5" fill="none" stroke="#5c5c5c" stroke-width="0.8"/></g><clipPath id="c0"><rect x="-50" y="200" width="174.5" height="96"/></clipPath><clipPath id="c1"><rect x="-50" y="296" width="350" height="54"/></clipPath><clipPath id="c2"><rect x="-50" y="350" width="350" height="42"/></clipPath><clipPath id="c3"><rect x="-50" y="392" width="350" height="88"/></clipPath><clipPath id="c4"><rect x="100" y="224" width="200" height="76"/></clipPath><clipPath id="c5"><rect x="-60" y="200" width="184.5" height="96"/></clipPath><clipPath id="c6"><rect x="-60" y="296" width="120.6" height="52"/></clipPath><clipPath id="c7"><rect x="60.6" y="296" width="239.4" height="52"/></clipPath><clipPath id="c8"><rect x="35.6" y="296" width="55.99999999999999" height="40"/></clipPath><clipPath id="c9"><rect x="91.6" y="296" width="40.0" height="24"/></clipPath><clipPath id="c10"><rect x="70.6" y="280" width="61.0" height="16"/></clipPath><clipPath id="c11"><rect x="-60" y="348" width="110.6" height="47"/></clipPath><clipPath id="c12"><rect x="50.6" y="348" width="249.4" height="47"/></clipPath><clipPath id="c13"><rect x="-60" y="395" width="360" height="85"/></clipPath><clipPath id="c14"><rect x="0" y="0" width="300" height="118"/></clipPath><clipPath id="c15"><rect x="0" y="118" width="300" height="55"/></clipPath><clipPath id="c16"><rect x="0" y="173" width="300" height="57"/></clipPath><clipPath id="c17"><rect x="124.2" y="230" width="175.8" height="70"/></clipPath><clipPath id="c18"><rect x="-60" y="200" width="184.2" height="96"/></clipPath><clipPath id="c19"><rect x="-60" y="296" width="120.2" height="47"/></clipPath><clipPath id="c20"><rect x="60.2" y="296" width="239.8" height="47"/></clipPath><clipPath id="c21"><rect x="-60" y="343" width="110.2" height="52"/></clipPath><clipPath id="c22"><rect x="50.2" y="343" width="249.8" height="52"/></clipPath></defs>
<g transform="translate(0,0)">
<g clip-path="url(#land)">
<rect x="-40" y="60" width="300" height="400" fill="#a8f016"/>
<path fill="#ffff80" d="M81.3,71.3C83.2,70.6 91.8,69.4 93.9,69.9C96.0,70.4 93.4,72.2 93.7,74.1C94.0,76.0 94.7,79.0 95.6,81.1C96.5,83.2 98.8,85.3 98.9,86.8C99.1,88.3 97.1,89.1 96.5,90.3C95.9,91.5 94.4,91.8 95.1,93.8C95.8,95.8 98.7,99.3 100.7,102.3C102.7,105.3 104.9,108.8 106.9,111.8C108.9,114.8 110.8,117.8 112.5,120.3C114.2,122.8 117.1,125.8 117.2,126.9C117.3,128.0 114.9,128.7 113.0,126.9C111.1,125.1 107.4,118.5 105.9,116.3C104.4,114.1 104.9,114.9 104.2,113.8C103.5,112.8 102.5,111.3 101.7,110.0C100.9,108.7 99.9,107.2 99.2,106.2C98.5,105.1 98.7,105.6 97.5,103.7C96.3,101.8 93.1,97.3 91.8,94.5C90.5,91.7 90.3,88.5 89.7,86.8C89.1,85.1 88.8,85.2 88.3,84.2C87.7,83.1 86.9,81.7 86.2,80.4C85.5,79.2 84.7,77.8 84.1,76.7C83.6,75.7 83.2,75.0 82.7,74.1C82.2,73.2 79.4,72.0 81.3,71.3Z"/>
<path fill="#66c20a" d="M98.9,90.3C99.4,89.1 100.4,88.3 101.7,88.2C103.0,88.1 104.8,89.1 106.6,89.6C108.4,90.1 111.0,90.3 112.3,91.0C113.6,91.7 114.2,92.6 114.4,93.8C114.6,95.0 114.3,96.8 113.7,98.0C113.1,99.2 110.8,99.8 110.8,100.8C110.8,101.8 113.0,102.6 113.7,103.7C114.4,104.8 115.3,106.2 115.1,107.2C114.9,108.2 113.5,109.4 112.3,110.0C111.1,110.6 109.4,111.0 108.0,110.7C106.6,110.4 105.0,109.1 103.8,107.9C102.6,106.7 101.0,104.9 101.0,103.7C101.0,102.5 103.1,101.9 103.8,100.8C104.5,99.7 105.5,97.8 105.2,97.3C104.9,96.8 102.8,98.3 101.7,98.0C100.7,97.7 99.4,96.5 98.9,95.2C98.4,93.9 98.4,91.5 98.9,90.3Z"/>
<path fill="#089a08" d="M102.7,103.9C103.1,103.2 104.8,102.8 105.9,103.0C107.0,103.2 108.6,104.3 109.2,105.1C109.8,105.9 109.8,107.2 109.4,107.9C109.0,108.6 107.8,109.1 106.9,109.0C106.0,108.9 104.5,108.0 103.8,107.2C103.1,106.4 102.3,104.6 102.7,103.9Z"/>
<path fill="#089a08" d="M101.0,91.3C101.2,91.0 102.1,91.0 102.4,91.3C102.7,91.6 102.9,92.7 102.7,93.0C102.5,93.3 101.6,93.5 101.3,93.2C101.0,92.9 100.8,91.6 101.0,91.3Z"/>
<path fill="#089a08" d="M109.4,93.8C109.6,93.5 110.5,93.6 110.8,93.8C111.1,94.0 111.3,94.9 111.1,95.2C110.9,95.5 110.0,95.7 109.7,95.5C109.4,95.3 109.2,94.1 109.4,93.8Z"/>
<path fill="#66c20a" d="M117.9,110.7C118.4,110.9 118.6,112.8 119.3,113.5C120.0,114.2 121.0,115.1 122.1,115.2C123.1,115.3 125.0,114.0 125.6,114.2C126.2,114.4 126.3,115.8 125.6,116.3C124.9,116.8 122.7,117.6 121.4,117.5C120.1,117.4 118.7,116.5 117.9,115.6C117.1,114.7 116.5,112.9 116.5,112.1C116.5,111.3 117.4,110.5 117.9,110.7Z"/>
<path fill="#ffff80" d="M126.3,120.8C126.5,119.6 127.8,118.9 128.9,119.9C130.0,120.9 132.9,125.7 132.7,126.9C132.5,128.1 128.6,127.9 127.5,126.9C126.4,125.9 126.1,122.0 126.3,120.8Z"/>
<path fill="#66c20a" d="M119.3,122.7C120.0,121.8 122.3,121.6 123.5,121.7C124.7,121.8 126.0,122.5 126.3,123.4C126.6,124.3 126.8,126.3 125.6,126.9C124.4,127.5 120.3,127.6 119.3,126.9C118.2,126.2 118.6,123.6 119.3,122.7Z"/>
<path fill="#ffff80" d="M111.1,117.7C111.7,117.5 113.3,119.0 114.6,119.9C115.9,120.9 117.1,123.5 118.9,123.4C120.7,123.3 123.2,119.1 125.2,119.2C127.2,119.3 129.5,122.6 130.8,124.1C132.1,125.6 132.9,126.8 133.0,128.3C133.1,129.8 132.2,131.7 131.5,133.2C130.8,134.7 130.0,136.4 128.7,137.5C127.4,138.6 124.1,138.2 123.8,139.6C123.5,141.0 126.7,144.7 126.9,145.9C127.1,147.1 126.1,147.8 125.2,146.9C124.3,146.0 123.1,142.9 121.7,140.3C120.3,137.7 118.6,134.3 116.8,131.1C115.0,127.9 112.0,123.5 111.1,121.3C110.1,119.1 110.5,117.9 111.1,117.7Z"/>
<path fill="#66c20a" d="M117.5,109.3C118.9,108.2 125.8,108.5 127.3,109.3C128.8,110.1 127.3,112.9 126.6,114.2C125.9,115.5 124.4,116.8 123.1,117.0C121.8,117.2 119.8,116.9 118.9,115.6C118.0,114.3 116.1,110.3 117.5,109.3Z"/>
<path fill="#66c20a" d="M125.2,142.1C125.9,141.4 128.4,140.9 129.4,141.3C130.4,141.7 131.3,143.6 131.1,144.5C130.9,145.4 128.9,146.8 128.0,146.9C127.1,147.0 126.0,146.0 125.5,145.2C125.0,144.4 124.5,142.8 125.2,142.1Z"/>
<path fill="#66c20a" d="M130.1,150.1C130.5,148.6 132.4,149.4 133.7,148.7C135.0,148.0 136.2,146.2 137.9,145.9C139.7,145.6 142.9,145.8 144.2,146.9C145.5,148.0 144.5,151.2 145.6,152.3C146.7,153.4 149.5,154.6 150.6,153.7C151.7,152.8 152.1,148.7 152.0,146.6C151.9,144.5 150.7,143.0 149.9,141.0C149.1,139.0 147.6,136.2 147.0,134.6C146.4,132.9 145.7,131.3 146.3,131.1C146.9,130.9 149.5,132.0 150.6,133.2C151.7,134.4 151.8,136.9 152.7,138.2C153.6,139.5 155.3,139.4 156.2,141.0C157.1,142.6 157.7,145.4 158.3,148.0C158.9,150.6 159.3,153.8 159.7,156.5C160.0,159.2 159.3,162.2 160.4,164.2C161.5,166.2 163.8,167.0 166.1,168.5C168.4,170.0 171.9,171.7 174.5,173.1C177.1,174.5 180.8,176.3 181.5,176.9C182.2,177.5 182.7,176.9 178.5,176.9C174.3,176.9 163.6,176.9 156.2,176.9C148.7,176.9 138.0,176.9 133.8,176.9C129.6,176.9 131.1,178.7 130.8,176.9C130.6,175.1 132.2,169.5 132.3,166.3C132.4,163.1 131.9,160.6 131.5,157.9C131.1,155.2 129.7,151.6 130.1,150.1Z"/>
<path fill="#a8f016" d="M137.9,152.3C139.1,151.8 141.4,153.4 143.5,153.7C145.6,154.0 149.0,153.2 150.6,153.9C152.2,154.6 152.6,156.3 153.0,157.9C153.4,159.5 153.3,161.9 153.0,163.5C152.7,165.1 151.7,166.3 151.3,167.7C150.9,169.1 151.3,171.0 150.8,172.0C150.3,173.0 149.4,173.7 148.5,173.7C147.6,173.7 146.2,173.0 145.6,172.0C145.0,171.0 145.6,168.6 144.9,167.7C144.2,166.8 142.6,167.2 141.4,166.3C140.2,165.4 138.7,163.7 137.9,162.1C137.1,160.5 136.5,158.1 136.5,156.5C136.5,154.9 136.7,152.8 137.9,152.3Z"/>
<path fill="#66c20a" d="M144.2,158.6C144.4,157.7 145.4,156.6 146.3,156.5C147.2,156.4 148.8,157.2 149.4,157.9C150.0,158.7 150.2,160.2 149.9,161.0C149.6,161.8 148.3,162.7 147.5,162.8C146.7,162.9 145.5,162.5 144.9,161.8C144.3,161.1 144.0,159.5 144.2,158.6Z"/>
<path fill="#089a08" d="M139.3,147.7C139.6,146.9 140.6,146.0 141.4,145.9C142.2,145.8 143.4,146.3 143.9,146.9C144.4,147.5 144.7,148.9 144.4,149.7C144.1,150.5 142.9,151.3 142.1,151.5C141.3,151.7 140.1,151.2 139.6,150.6C139.1,150.0 139.0,148.5 139.3,147.7Z"/>
<path fill="#089a08" d="M154.8,155.8C155.1,155.2 156.0,154.3 156.5,154.8C157.0,155.3 157.5,157.3 157.6,158.6C157.7,159.9 157.4,161.9 157.0,162.4C156.6,162.9 155.8,162.4 155.4,161.8C155.0,161.2 154.6,159.6 154.5,158.6C154.4,157.6 154.5,156.4 154.8,155.8Z"/>
<path fill="#089a08" d="M157.9,165.6C158.5,164.7 160.2,164.3 161.1,164.9C162.0,165.5 162.8,167.2 163.2,169.2C163.6,171.2 164.3,175.6 163.5,176.9C162.7,178.2 159.3,178.0 158.3,176.9C157.3,175.8 157.7,172.5 157.6,170.6C157.5,168.7 157.3,166.5 157.9,165.6Z"/>
<path fill="#089a08" d="M135.1,164.2C135.7,163.0 137.2,162.7 137.9,163.5C138.7,164.3 139.4,167.0 139.6,169.2C139.8,171.4 140.1,175.6 139.3,176.9C138.5,178.2 135.6,178.0 134.8,176.9C134.0,175.8 134.4,172.7 134.4,170.6C134.4,168.5 134.5,165.4 135.1,164.2Z"/>
<path fill="#ffff80" d="M146.8,170.8C146.9,170.4 148.1,170.1 148.5,170.3C148.9,170.5 149.5,171.6 149.4,172.0C149.3,172.4 148.1,173.0 147.7,172.8C147.3,172.6 146.7,171.2 146.8,170.8Z"/>
<path fill="#ffff80" d="M159.4,161.4C160.2,161.7 162.7,164.7 164.6,166.1C166.5,167.5 168.8,168.7 171.0,169.9C173.2,171.1 175.8,172.2 178.0,173.4C180.2,174.6 184.1,176.3 184.4,176.9C184.8,177.5 182.1,177.6 180.1,176.9C178.1,176.2 174.8,174.0 172.4,172.7C170.0,171.4 167.5,170.3 165.4,168.9C163.3,167.5 161.1,165.4 160.1,164.2C159.1,162.9 158.7,161.1 159.4,161.4Z"/>
<path fill="#a8f016" d="M145.6,119.9C146.2,119.0 148.9,117.9 149.9,119.2C150.9,120.5 151.4,126.1 151.3,127.6C151.2,129.1 150.0,128.5 149.2,128.0C148.4,127.5 146.9,126.1 146.3,124.8C145.7,123.5 145.0,120.8 145.6,119.9Z"/>
<path fill="#66c20a" d="M131.7,168.6C132.3,168.1 128.9,168.6 134.7,168.6C140.4,168.6 155.7,168.6 166.2,168.6C176.7,168.6 191.9,168.6 197.7,168.6C203.4,168.6 200.2,168.1 200.7,168.6C201.2,169.1 200.7,170.3 200.7,171.6C200.7,172.9 200.7,174.8 200.7,176.3C200.7,177.9 200.7,179.8 200.7,181.1C200.7,182.4 201.3,182.9 200.7,184.1C200.1,185.3 198.5,186.7 197.2,188.3C195.9,189.9 194.7,192.2 193.0,193.9C191.3,195.6 189.7,197.1 187.3,198.2C185.0,199.3 181.7,199.7 178.9,200.3C176.1,200.9 172.5,200.9 170.4,201.7C168.3,202.5 167.6,203.4 166.2,205.2C164.8,207.0 163.7,210.4 162.0,212.3C160.3,214.2 158.7,215.8 156.3,216.5C154.0,217.2 150.5,216.0 147.9,216.5C145.3,217.0 143.2,218.1 140.8,219.3C138.5,220.5 136.0,222.7 133.8,223.5C131.6,224.3 129.6,224.2 127.5,224.2C125.4,224.2 122.6,223.9 121.1,223.5C119.6,223.1 119.5,222.6 118.5,222.0C117.4,221.5 116.0,220.7 114.8,220.0C113.6,219.3 112.2,218.5 111.1,218.0C110.1,217.4 109.2,217.9 108.5,216.5C107.8,215.1 105.6,211.8 107.0,209.4C108.4,207.1 113.6,203.9 116.9,202.4C120.2,200.9 125.1,201.1 126.8,200.3C128.5,199.5 126.8,200.0 127.3,197.3C127.7,194.7 128.6,188.7 129.2,184.4C129.9,180.2 130.8,174.2 131.2,171.6C131.7,168.9 131.1,169.1 131.7,168.6Z"/>
<path fill="#a8f016" d="M170.4,169.3C170.6,170.1 172.7,172.7 174.6,173.9C176.5,175.2 179.1,176.2 181.7,176.8C184.3,177.4 187.6,177.9 190.1,177.7C192.6,177.5 194.7,176.5 196.5,175.6C198.3,174.7 200.0,173.3 200.7,172.1C201.4,170.9 201.2,169.2 200.7,168.6C200.2,168.0 200.2,168.6 197.7,168.7C195.2,168.7 189.6,168.9 185.6,168.9C181.5,169.0 175.9,169.2 173.4,169.2C170.9,169.3 170.2,168.5 170.4,169.3Z"/>
<path fill="#089a08" d="M131.7,168.6C133.3,168.1 139.4,167.2 140.8,168.6C142.2,170.0 139.8,174.7 140.1,177.0C140.3,179.3 141.0,181.5 142.3,182.7C143.6,183.9 146.0,184.0 147.9,184.1C149.8,184.2 152.2,182.7 153.5,183.4C154.8,184.1 155.4,186.8 155.6,188.3C155.8,189.8 155.4,191.2 154.9,192.5C154.4,193.8 152.9,194.4 152.8,196.1C152.7,197.8 153.7,200.4 154.2,202.4C154.7,204.4 155.7,206.3 155.6,208.0C155.5,209.7 154.8,211.4 153.5,212.3C152.2,213.2 150.0,213.6 147.9,213.7C145.8,213.8 143.2,213.2 140.8,213.0C138.5,212.8 135.6,212.0 133.8,212.3C132.1,212.7 131.2,213.7 130.3,215.1C129.4,216.5 128.7,219.2 128.2,220.7C127.7,222.1 128.4,223.5 127.5,223.8C126.5,224.1 124.3,223.2 122.5,222.4C120.7,221.6 118.5,220.2 116.9,219.0C115.3,217.8 113.9,216.5 112.7,215.4C111.5,214.3 110.7,213.5 109.9,212.3C109.1,211.1 106.5,209.7 107.7,208.0C108.9,206.3 113.7,203.8 116.9,202.4C120.1,201.0 125.1,200.6 126.8,199.6C128.5,198.6 127.0,197.9 127.1,196.6C127.2,195.3 127.4,193.4 127.5,191.8C127.6,190.3 127.8,188.4 127.9,187.1C128.0,185.8 128.0,185.1 128.2,184.1C128.4,183.1 128.6,182.5 128.9,181.2C129.2,179.9 129.6,178.0 129.9,176.3C130.3,174.7 130.7,172.8 131.0,171.5C131.3,170.2 130.1,169.1 131.7,168.6Z"/>
<path fill="#66c20a" d="M135.2,193.2C135.8,192.8 137.8,193.9 139.4,194.6C141.1,195.3 143.4,196.9 145.1,197.5C146.8,198.1 149.2,197.7 149.3,198.2C149.4,198.7 146.3,199.5 145.4,200.3C144.5,201.1 144.5,203.2 143.7,203.1C142.9,203.0 142.1,200.6 140.8,199.6C139.5,198.6 136.8,197.9 135.9,196.8C135.0,195.7 134.6,193.6 135.2,193.2Z"/>
<path fill="#089a08" d="M157.7,169.3C159.3,168.0 164.9,168.2 166.2,169.3C167.5,170.4 166.2,173.6 165.5,175.6C164.8,177.6 163.3,180.2 162.0,181.3C160.7,182.4 158.6,182.7 157.7,182.0C156.8,181.3 156.3,179.1 156.3,177.0C156.3,174.9 156.0,170.6 157.7,169.3Z"/>
<path fill="#089a08" d="M190.1,182.7C190.8,181.5 192.4,180.6 193.7,179.9C195.0,179.2 197.0,178.0 197.9,178.5C198.8,179.0 199.2,181.2 198.9,182.7C198.6,184.2 197.0,186.4 195.8,187.6C194.6,188.8 192.6,189.8 191.5,189.7C190.4,189.6 189.6,188.1 189.4,186.9C189.2,185.7 189.4,183.9 190.1,182.7Z"/>
<path fill="#a8f016" d="M156.3,194.6C156.9,193.6 158.9,194.0 160.6,193.2C162.2,192.4 164.7,190.5 166.2,189.7C167.7,188.9 169.0,188.1 169.7,188.3C170.4,188.5 171.0,189.8 170.4,191.1C169.8,192.4 167.8,194.7 166.2,196.1C164.6,197.5 162.1,199.1 160.6,199.6C159.1,200.1 157.7,199.7 157.0,198.9C156.3,198.1 155.7,195.6 156.3,194.6Z"/>
<path fill="#a8f016" d="M170.4,182.7C170.9,182.0 173.4,181.2 174.6,180.6C175.8,180.0 176.6,179.1 177.5,179.2C178.4,179.3 180.1,180.2 180.3,181.3C180.5,182.4 179.6,184.1 178.9,185.5C178.2,186.9 176.8,189.5 176.1,189.7C175.4,189.9 175.3,187.7 174.6,186.9C173.9,186.1 172.5,185.5 171.8,184.8C171.1,184.1 169.9,183.4 170.4,182.7Z"/>
<path fill="#a8f016" d="M147.2,169.3C147.5,168.7 149.2,168.8 149.6,169.3C149.9,169.8 149.6,171.9 149.3,172.5C149.0,173.1 147.9,173.3 147.6,172.8C147.2,172.3 146.9,169.9 147.2,169.3Z"/>
<path fill="#ffff80" d="M133.8,232.0C134.0,230.2 135.9,227.7 137.3,226.3C138.7,224.9 140.5,224.1 142.3,223.5C144.1,222.9 146.0,222.7 147.9,222.8C149.8,222.9 152.2,223.1 153.5,224.2C154.8,225.3 155.6,227.7 155.6,229.2C155.6,230.7 154.8,232.9 153.5,233.4C152.2,233.9 149.5,231.4 147.9,232.0C146.3,232.6 145.7,236.1 143.7,236.9C141.7,237.7 137.6,237.7 135.9,236.9C134.2,236.1 133.6,233.8 133.8,232.0Z"/>
<path fill="#ffff80" d="M166.2,220.7C166.4,217.9 168.8,214.5 170.4,212.3C172.1,210.1 173.8,209.0 176.1,207.7C178.4,206.4 181.7,205.3 184.5,204.5C187.3,203.7 190.3,203.4 193.0,203.1C195.7,202.8 199.4,201.6 200.7,202.4C202.0,203.2 202.2,206.9 200.7,208.0C199.2,209.1 194.2,208.3 191.5,208.7C188.8,209.0 186.4,209.4 184.5,210.1C182.6,210.8 181.2,211.7 180.3,213.0C179.4,214.3 178.4,215.7 178.9,217.9C179.4,220.1 182.5,223.1 183.1,226.3C183.7,229.5 183.0,235.1 182.4,236.9C181.8,238.7 180.8,236.9 179.4,236.9C178.1,236.9 176.0,236.9 174.3,236.9C172.6,236.9 170.5,236.9 169.2,236.9C167.8,236.9 166.2,238.2 166.2,236.9C166.2,235.6 169.0,231.9 169.0,229.2C169.0,226.5 166.0,223.5 166.2,220.7Z"/>
<path fill="#ffd400" d="M169.0,219.3C169.8,218.0 171.8,217.4 173.2,217.2C174.6,217.0 176.6,216.8 177.5,217.9C178.4,219.0 178.2,222.2 178.9,223.5C179.7,224.8 181.7,224.2 182.0,225.6C182.3,227.0 181.5,230.1 181.0,232.0C180.5,233.9 181.1,236.1 178.9,236.9C176.7,237.7 169.0,238.2 167.6,236.9C166.2,235.6 170.3,231.2 170.4,229.2C170.5,227.2 168.5,226.6 168.3,224.9C168.1,223.2 168.2,220.6 169.0,219.3Z"/>
<path fill="#ff9900" d="M176.3,221.4C176.7,220.6 177.3,220.2 177.5,220.7C177.7,221.2 177.4,223.1 177.2,224.2C177.0,225.2 176.4,226.8 176.1,227.0C175.8,227.2 175.4,226.5 175.4,225.6C175.4,224.7 176.0,222.2 176.3,221.4Z"/>
<path fill="#ffff80" d="M195.8,191.1C196.3,189.6 197.8,188.3 198.6,187.6C199.4,186.9 200.3,186.5 200.7,186.9C201.0,187.3 200.7,188.7 200.7,189.9C200.7,191.1 200.7,192.8 200.7,194.3C200.7,195.8 200.7,197.5 200.7,198.7C200.7,199.9 201.2,201.4 200.7,201.7C200.2,202.0 198.7,201.1 197.9,200.3C197.1,199.5 196.2,198.3 195.8,196.8C195.5,195.3 195.3,192.6 195.8,191.1Z"/>
<path fill="#ffd400" d="M198.3,191.1C198.7,190.2 200.3,188.9 200.7,189.7C201.1,190.5 201.0,195.2 200.7,196.1C200.3,197.0 199.0,195.9 198.6,195.1C198.2,194.3 198.0,192.0 198.3,191.1Z"/>
<path fill="#66c20a" d="M159.2,224.9C159.8,223.8 161.9,223.5 162.7,224.2C163.4,224.9 163.8,227.1 163.7,229.2C163.6,231.3 163.2,235.6 162.3,236.9C161.4,238.2 158.8,238.0 158.2,236.9C157.6,235.8 158.7,232.6 158.9,230.6C159.1,228.6 158.6,226.0 159.2,224.9Z"/>
<path fill="#089a08" d="M160.6,229.2C160.9,228.5 161.7,227.9 162.0,228.5C162.3,229.1 162.5,231.6 162.3,232.7C162.2,233.8 161.4,235.1 161.1,235.1C160.8,235.1 160.4,233.7 160.3,232.7C160.2,231.7 160.3,229.9 160.6,229.2Z"/>
<path fill="#66c20a" d="M159.3,171.1C160.8,171.1 165.6,173.4 168.5,174.2C171.4,174.9 174.1,174.7 176.9,175.6C179.7,176.5 182.8,179.2 185.4,179.6C188.0,180.0 190.3,179.4 192.4,178.2C194.5,177.0 196.3,174.0 198.0,172.5C199.7,171.0 200.7,169.8 202.3,169.0C204.0,168.2 206.5,167.5 207.9,167.6C209.3,167.7 210.3,168.4 210.7,169.7C211.0,171.0 210.5,173.5 210.0,175.4C209.5,177.3 208.1,179.1 207.9,181.0C207.7,182.9 208.8,185.0 208.6,186.6C208.4,188.2 207.6,191.0 206.5,190.8C205.4,190.6 203.7,186.1 202.3,185.2C200.9,184.3 199.2,184.3 198.0,185.2C196.8,186.1 196.1,188.9 195.2,190.8C194.3,192.7 193.8,194.8 192.4,196.5C191.0,198.2 188.7,199.6 186.8,200.7C184.9,201.8 183.2,202.3 181.1,202.8C179.0,203.3 176.2,202.9 174.1,203.5C172.0,204.1 169.9,204.9 168.5,206.3C167.1,207.7 167.1,210.2 165.6,212.0C164.1,213.8 160.4,216.6 159.3,216.9C158.2,217.2 159.3,217.7 159.3,213.9C159.3,210.1 159.3,200.6 159.3,194.0C159.3,187.4 159.3,177.9 159.3,174.1C159.3,170.3 157.8,171.1 159.3,171.1Z"/>
<path fill="#089a08" d="M159.3,167.6C159.9,167.2 161.9,167.5 162.8,168.3C163.7,169.1 164.7,170.8 164.9,172.5C165.1,174.2 164.8,176.5 164.2,178.2C163.6,179.9 162.2,181.9 161.4,182.7C160.6,183.5 159.7,183.5 159.3,183.1C159.0,182.7 159.3,181.4 159.3,180.1C159.3,178.8 159.3,176.9 159.3,175.3C159.3,173.8 159.3,171.9 159.3,170.6C159.3,169.3 158.7,168.0 159.3,167.6Z"/>
<path fill="#a8f016" d="M175.5,180.3C176.3,179.2 178.8,178.6 179.7,178.9C180.6,179.2 181.1,181.0 181.1,182.4C181.1,183.8 180.5,186.1 179.7,187.3C178.9,188.5 177.0,189.8 176.2,189.4C175.4,189.1 174.9,186.7 174.8,185.2C174.7,183.7 174.7,181.4 175.5,180.3Z"/>
<path fill="#a8f016" d="M169.9,182.4C170.2,181.6 171.8,180.4 172.7,180.3C173.6,180.2 175.1,180.9 175.2,181.7C175.3,182.5 174.2,184.3 173.4,184.9C172.6,185.5 171.2,185.6 170.6,185.2C170.0,184.8 169.6,183.2 169.9,182.4Z"/>
<path fill="#a8f016" d="M159.3,193.7C160.4,192.4 163.8,191.6 165.6,190.8C167.4,190.0 169.1,188.4 169.9,188.7C170.7,188.9 171.3,191.0 170.6,192.3C169.9,193.6 167.5,195.4 165.6,196.5C163.7,197.6 160.4,199.1 159.3,198.6C158.2,198.1 158.2,195.0 159.3,193.7Z"/>
<path fill="#089a08" d="M189.6,181.7C190.3,180.3 192.5,179.5 193.8,178.9C195.1,178.3 196.6,177.4 197.3,177.9C198.0,178.4 198.2,180.2 198.0,181.7C197.8,183.1 196.8,185.3 195.9,186.6C195.0,187.9 193.5,189.3 192.4,189.4C191.3,189.5 190.1,188.6 189.6,187.3C189.1,186.0 188.9,183.1 189.6,181.7Z"/>
<path fill="#ffff80" d="M214.9,168.3C216.0,167.0 218.9,167.3 219.2,169.0C219.5,170.7 217.4,175.5 216.6,178.2C215.8,180.9 215.2,182.8 214.6,185.2C214.0,187.5 213.8,190.9 213.2,192.3C212.5,193.8 211.0,195.1 210.7,193.9C210.4,192.7 211.1,188.0 211.4,185.2C211.8,182.3 212.2,179.6 212.8,176.8C213.4,174.0 213.8,169.6 214.9,168.3Z"/>
<path fill="#ffff80" d="M195.9,192.3C196.5,190.4 197.6,187.8 198.7,186.6C199.8,185.4 201.0,184.5 202.3,185.2C203.6,185.9 205.3,189.4 206.5,190.8C207.7,192.2 209.1,192.7 209.3,193.7C209.5,194.7 208.8,196.0 207.9,196.8C207.0,197.6 204.8,197.5 203.9,198.6C203.0,199.7 203.5,202.6 202.5,203.2C201.5,203.8 199.2,203.3 198.0,202.4C196.8,201.5 195.5,199.6 195.2,197.9C194.8,196.2 195.3,194.2 195.9,192.3Z"/>
<path fill="#ffd400" d="M198.7,190.1C199.3,189.5 200.8,188.8 201.5,189.4C202.2,190.0 202.1,192.8 203.0,193.7C203.9,194.6 206.8,194.5 207.2,195.1C207.5,195.7 205.9,196.5 205.1,197.2C204.3,197.9 203.2,199.5 202.3,199.3C201.4,199.1 200.1,196.9 199.4,195.8C198.7,194.8 198.1,193.9 198.0,193.0C197.9,192.1 198.1,190.7 198.7,190.1Z"/>
<path fill="#66c20a" d="M204.5,189.4C204.7,189.1 205.6,189.1 205.9,189.4C206.2,189.7 206.3,190.8 206.1,191.1C205.9,191.4 204.9,191.4 204.6,191.1C204.3,190.8 204.3,189.7 204.5,189.4Z"/>
<path fill="#ffff80" d="M172.7,216.9C172.1,215.6 173.2,211.2 174.1,209.2C175.0,207.2 176.4,205.8 178.3,204.9C180.2,204.0 183.1,204.0 185.4,203.5C187.8,203.0 189.8,202.1 192.4,202.1C195.0,202.1 198.7,202.2 200.8,203.5C202.9,204.8 204.6,207.8 204.8,209.9C205.1,212.0 203.1,216.3 202.3,216.2C201.5,216.1 201.5,210.4 200.1,209.2C198.7,208.0 196.0,208.9 193.8,208.9C191.6,208.9 188.9,208.9 186.8,209.4C184.7,209.9 182.6,210.8 181.1,212.0C179.6,213.2 179.0,216.1 177.6,216.9C176.2,217.7 173.3,218.2 172.7,216.9Z"/>
<path fill="#ffd400" d="M179.0,212.0C179.5,210.8 180.3,210.1 181.1,209.9C181.9,209.7 183.5,209.4 183.7,210.6C183.9,211.8 183.4,215.8 182.5,216.9C181.6,218.0 178.9,217.7 178.3,216.9C177.7,216.1 178.5,213.2 179.0,212.0Z"/>
<path fill="#ffd400" d="M200.8,210.6C201.3,209.7 203.5,209.4 203.9,209.9C204.3,210.4 203.9,212.5 203.4,213.4C202.9,214.3 201.2,216.0 200.8,215.5C200.4,215.0 200.3,211.5 200.8,210.6Z"/>
<path fill="#ffff80" d="M121.4,224.3C121.0,223.7 121.6,224.3 124.4,224.3C127.2,224.3 133.4,224.3 137.9,224.3C142.5,224.3 148.7,224.3 151.5,224.3C154.3,224.3 154.1,223.2 154.5,224.3C154.9,225.4 154.5,229.1 153.8,230.6C153.1,232.1 150.1,232.3 150.3,233.5C150.5,234.7 154.6,236.1 155.2,237.7C155.8,239.3 155.0,241.9 153.8,243.3C152.6,244.7 149.8,245.3 148.2,246.1C146.5,246.9 145.1,247.2 143.9,248.2C142.7,249.1 142.0,251.0 141.1,251.8C140.2,252.6 139.2,252.0 138.3,253.2C137.4,254.4 136.4,257.2 135.5,258.8C134.6,260.4 134.3,260.9 132.7,263.0C131.0,265.1 126.8,270.8 125.6,271.5C124.4,272.2 124.2,269.7 125.6,267.3C127.0,264.9 132.0,260.2 134.1,257.4C136.2,254.6 137.5,253.2 138.3,250.4C139.1,247.6 139.2,243.1 139.0,240.5C138.8,237.9 138.0,236.4 136.9,234.9C135.8,233.4 134.3,232.5 132.7,231.3C131.0,230.1 128.9,229.0 127.0,227.8C125.1,226.6 121.8,224.9 121.4,224.3Z"/>
<path fill="#a8f016" d="M146.8,234.2C147.4,233.2 149.1,231.4 150.3,230.6C151.5,229.8 153.2,228.7 153.8,229.2C154.4,229.7 154.4,232.3 153.8,233.5C153.2,234.7 151.5,235.8 150.3,236.3C149.1,236.8 147.4,236.7 146.8,236.3C146.2,236.0 146.2,235.1 146.8,234.2Z"/>
<path fill="#66c20a" d="M158.0,229.2C158.6,227.4 159.5,225.1 160.8,224.3C162.1,223.5 165.1,223.2 165.8,224.3C166.5,225.4 165.7,228.6 165.1,230.6C164.5,232.6 163.0,234.4 162.3,236.3C161.6,238.2 160.7,240.3 160.8,241.9C160.9,243.5 163.0,244.9 163.0,246.1C163.0,247.3 162.1,248.1 160.8,248.9C159.5,249.7 156.7,250.0 155.2,251.1C153.7,252.2 153.1,253.6 151.7,255.3C150.3,257.1 148.6,259.4 146.8,261.6C145.0,263.8 142.8,266.9 141.1,268.7C139.4,270.5 138.2,271.7 136.9,272.2C135.6,272.7 133.9,272.8 133.4,271.5C132.9,270.2 133.4,267.0 134.1,264.4C134.8,261.8 136.2,258.3 137.6,256.0C139.0,253.7 140.5,251.9 142.5,250.4C144.5,248.9 147.5,248.5 149.6,246.8C151.7,245.2 153.9,242.5 155.2,240.5C156.5,238.5 156.8,236.8 157.3,234.9C157.8,233.0 157.4,231.0 158.0,229.2Z"/>
<path fill="#089a08" d="M135.5,263.0C136.1,261.0 137.0,258.4 138.3,256.7C139.6,254.9 141.4,253.6 143.2,252.5C145.0,251.4 147.7,250.4 148.9,250.4C150.2,250.4 150.8,251.3 150.7,252.5C150.6,253.7 149.3,255.9 148.2,257.4C147.1,258.9 145.3,260.0 143.9,261.6C142.5,263.2 140.9,265.8 139.7,267.3C138.5,268.8 137.7,270.6 136.9,270.8C136.1,271.0 135.0,270.0 134.8,268.7C134.6,267.4 134.9,265.0 135.5,263.0Z"/>
<path fill="#089a08" d="M159.7,229.2C160.1,228.2 161.3,227.2 161.7,227.5C162.1,227.8 162.5,230.0 162.3,231.3C162.2,232.6 161.3,234.7 160.8,235.1C160.3,235.5 159.6,234.5 159.4,233.5C159.2,232.5 159.3,230.2 159.7,229.2Z"/>
<path fill="#73b2ff" d="M142.8,258.1C142.9,257.9 143.6,257.8 143.8,258.0C144.0,258.2 144.0,258.9 143.9,259.1C143.8,259.3 143.2,259.4 143.0,259.2C142.8,259.0 142.7,258.3 142.8,258.1Z"/>
<path fill="#ffff80" d="M146.1,265.8C146.9,264.4 148.2,261.7 149.6,260.2C151.0,258.7 152.9,257.3 154.5,256.7C156.1,256.1 158.3,256.0 159.4,256.7C160.5,257.4 160.9,259.4 160.8,260.9C160.7,262.4 159.9,264.5 158.7,265.8C157.5,267.1 155.2,267.6 153.8,268.7C152.4,269.8 151.5,271.7 150.3,272.2C149.1,272.7 147.8,272.1 146.8,271.5C145.9,270.9 144.7,269.6 144.6,268.7C144.5,267.8 145.3,267.2 146.1,265.8Z"/>
<path fill="#ffff80" d="M162.3,251.1C162.7,250.3 164.1,249.4 165.1,249.2C166.1,248.9 168.4,248.9 168.6,249.6C168.8,250.3 167.4,252.5 166.5,253.2C165.6,253.9 163.7,254.2 163.0,253.9C162.3,253.6 162.0,251.9 162.3,251.1Z"/>
<path fill="#ffd400" d="M167.9,230.6C168.1,229.4 169.9,227.4 170.7,226.4C171.5,225.4 170.8,224.7 172.8,224.3C174.8,224.0 181.5,223.0 182.7,224.3C183.9,225.6 181.0,229.5 179.9,232.0C178.8,234.5 177.5,237.1 176.3,239.1C175.1,241.1 174.0,243.5 172.8,244.0C171.6,244.5 170.1,243.0 169.3,241.9C168.5,240.8 167.9,239.1 167.9,237.7C167.9,236.3 169.3,234.7 169.3,233.5C169.3,232.3 167.7,231.8 167.9,230.6Z"/>
<path fill="#ff9900" d="M168.6,238.4C168.7,237.4 170.3,237.3 171.4,237.4C172.5,237.5 174.4,238.2 174.9,239.1C175.4,240.0 174.9,241.9 174.2,242.6C173.5,243.3 171.6,244.0 170.7,243.3C169.8,242.6 168.5,239.4 168.6,238.4Z"/>
<path fill="#ff9900" d="M173.5,224.3C174.2,223.7 178.4,223.8 179.2,224.3C180.0,224.8 179.2,226.9 178.5,227.5C177.8,228.1 175.7,228.3 174.9,227.8C174.1,227.3 172.8,224.9 173.5,224.3Z"/>
<path fill="#66c20a" d="M141.1,274.3C141.6,273.8 143.1,273.3 143.7,273.6C144.3,273.9 144.8,275.4 144.6,276.0C144.4,276.6 143.1,277.3 142.5,277.4C141.9,277.5 141.0,276.9 140.8,276.4C140.6,275.9 140.6,274.8 141.1,274.3Z"/>
<g clip-path="url(#c0)">
<path fill="#66c20a" d="M84.2,254.1C86.1,254.5 86.6,255.9 87.7,256.6C88.8,257.3 90.4,257.1 90.8,258.3C91.2,259.5 90.8,262.2 90.3,263.9C89.8,265.5 88.3,266.5 87.7,268.2C87.1,269.9 86.3,272.2 86.6,273.8C86.8,275.4 88.1,276.6 89.2,278.0C90.3,279.4 92.2,280.7 93.4,282.3C94.6,283.9 95.6,285.6 96.2,287.9C96.8,290.2 97.0,293.0 97.0,296.3C97.0,299.6 96.8,305.7 96.2,307.6C95.6,309.5 94.8,307.6 93.2,307.6C91.6,307.6 88.6,307.6 86.3,307.6C84.1,307.6 81.1,307.6 79.5,307.6C77.9,307.6 77.1,308.1 76.5,307.6C75.9,307.1 76.4,306.7 76.0,304.6C75.7,302.5 74.9,298.2 74.4,295.0C73.9,291.7 73.1,287.4 72.8,285.3C72.4,283.2 72.3,283.3 72.3,282.3C72.3,281.3 72.4,281.7 72.7,279.3C73.1,277.0 73.8,271.9 74.4,268.2C75.0,264.5 75.7,259.4 76.1,257.1C76.4,254.7 75.1,254.6 76.5,254.1C77.9,253.6 82.3,253.7 84.2,254.1Z"/>
<path fill="#089a08" d="M51.1,307.6C50.7,307.1 51.3,306.4 51.7,304.7C52.1,302.9 52.7,299.6 53.2,297.1C53.8,294.5 54.4,291.2 54.8,289.4C55.2,287.7 55.0,287.4 55.4,286.5C55.8,285.6 56.1,285.6 57.2,284.1C58.4,282.6 60.7,279.6 62.4,277.4C64.1,275.1 66.4,272.1 67.6,270.6C68.7,269.1 69.0,269.1 69.4,268.2C69.8,267.3 69.8,266.4 70.0,265.3C70.2,264.1 70.6,262.5 70.8,261.1C71.1,259.8 71.5,258.2 71.7,257.0C71.9,255.9 71.8,254.9 72.3,254.1C72.8,253.3 73.8,253.0 74.7,252.3C75.6,251.6 76.8,250.7 77.9,249.8C79.0,249.0 80.2,248.1 81.1,247.4C82.0,246.7 82.8,244.5 83.5,245.6C84.2,246.7 84.8,252.0 85.2,254.1C85.6,256.2 85.9,256.7 85.8,258.3C85.7,259.9 84.8,262.0 84.4,263.9C84.1,265.8 83.6,267.7 83.7,269.6C83.8,271.5 84.5,273.1 84.9,275.2C85.3,277.3 85.7,279.9 86.3,282.3C86.9,284.7 88.0,287.0 88.5,289.3C89.0,291.6 89.5,294.4 89.2,296.3C88.9,298.2 87.7,299.4 86.6,300.6C85.5,301.8 83.6,302.2 82.4,303.4C81.2,304.6 80.3,306.9 79.3,307.6C78.3,308.3 78.6,307.6 76.3,307.6C74.0,307.6 68.9,307.6 65.2,307.6C61.5,307.6 56.5,307.6 54.1,307.6C51.8,307.6 51.5,308.1 51.1,307.6Z"/>
<path fill="#66c20a" d="M72.3,256.6C72.6,255.6 74.7,254.7 75.8,254.6C76.9,254.5 78.5,255.4 78.7,256.2C79.0,257.0 78.1,258.7 77.3,259.4C76.5,260.1 74.5,261.1 73.7,260.6C72.9,260.1 72.0,257.6 72.3,256.6Z"/>
<path fill="#73b2ff" d="M66.9,280.8C66.6,280.2 67.9,278.6 68.7,277.3C69.5,276.0 70.4,274.3 71.5,273.1C72.6,271.9 73.8,270.7 75.1,270.3C76.4,269.9 78.3,270.2 79.3,271.0C80.3,271.8 80.9,273.9 81.0,275.2C81.1,276.5 80.8,277.8 80.0,278.7C79.2,279.6 78.0,280.2 76.5,280.6C75.0,281.0 72.4,281.1 70.8,281.1C69.2,281.1 67.2,281.4 66.9,280.8Z"/>
<path fill="#73b2ff" d="M63.9,286.1C64.1,285.9 65.0,285.9 65.2,286.1C65.4,286.3 65.4,287.3 65.2,287.5C65.0,287.7 64.1,287.7 63.9,287.5C63.7,287.3 63.7,286.3 63.9,286.1Z"/>
<path fill="#73b2ff" d="M52.5,302.0C53.5,300.6 55.9,298.7 56.8,298.9C57.7,299.1 57.8,301.9 57.7,303.4C57.6,304.8 57.4,306.9 56.3,307.6C55.2,308.3 51.7,308.5 51.1,307.6C50.5,306.7 51.5,303.4 52.5,302.0Z"/>
<path fill="#ffff80" d="M89.9,268.2C90.0,267.5 91.2,266.6 92.0,266.8C92.8,267.0 94.0,268.7 94.8,269.6C95.5,270.5 96.7,271.9 96.5,272.4C96.3,272.9 94.3,272.9 93.4,272.7C92.5,272.5 91.9,271.8 91.3,271.0C90.7,270.2 89.8,268.9 89.9,268.2Z"/>
<path fill="#66c20a" d="M99.0,268.9C99.7,267.8 101.8,266.6 103.2,265.6C104.6,264.7 105.6,263.4 107.5,263.2C109.4,263.0 112.4,264.0 114.5,264.6C116.6,265.2 120.1,265.9 120.1,266.8C120.1,267.8 116.7,269.3 114.5,270.3C112.3,271.3 108.9,272.1 106.8,272.7C104.7,273.3 103.1,274.2 101.8,274.1C100.5,274.0 99.5,273.0 99.0,272.1C98.5,271.2 98.3,270.0 99.0,268.9Z"/>
<path fill="#ffff80" d="M100.4,279.4C100.8,278.1 101.8,276.9 103.2,275.9C104.6,274.8 107.0,273.9 108.9,273.1C110.8,272.3 113.0,271.0 114.5,271.3C116.0,271.6 117.1,273.4 118.0,275.2C118.9,277.0 120.6,279.8 120.1,282.3C119.6,284.8 116.8,287.9 115.2,290.0C113.6,292.1 112.1,294.1 110.6,294.6C109.1,295.1 107.4,294.3 106.1,293.2C104.8,292.1 103.3,289.5 102.5,287.9C101.7,286.3 101.4,285.1 101.1,283.7C100.8,282.3 100.1,280.7 100.4,279.4Z"/>
<path fill="#ffd400" d="M106.1,280.8C106.4,279.3 107.2,277.1 108.2,275.9C109.2,274.7 111.1,274.0 112.4,273.8C113.7,273.6 114.7,273.5 115.9,274.9C117.1,276.3 119.6,279.9 119.4,282.3C119.2,284.7 116.3,287.3 114.8,289.0C113.3,290.7 111.5,292.3 110.3,292.4C109.1,292.4 108.2,290.5 107.5,289.3C106.8,288.1 106.3,286.5 106.1,285.1C105.9,283.7 105.8,282.3 106.1,280.8Z"/>
<path fill="#ff9900" d="M109.6,282.3C109.8,280.9 110.9,278.4 111.7,277.3C112.5,276.2 113.6,275.2 114.5,275.6C115.4,276.0 116.2,278.2 117.0,279.4C117.8,280.6 119.7,281.6 119.4,283.0C119.2,284.4 116.7,286.5 115.5,287.5C114.3,288.5 113.3,289.2 112.4,288.9C111.5,288.6 110.8,286.9 110.3,285.8C109.8,284.7 109.4,283.7 109.6,282.3Z"/>
<path fill="#ffff80" d="M99.7,302.0C100.5,300.6 101.9,300.2 103.2,299.2C104.5,298.2 106.4,296.1 107.5,296.1C108.6,296.1 109.8,297.9 109.6,299.2C109.4,300.5 107.2,302.3 106.1,303.7C105.0,305.1 104.4,307.0 103.2,307.6C102.0,308.2 99.3,308.5 98.7,307.6C98.1,306.7 99.0,303.4 99.7,302.0Z"/>
<path fill="#ffff80" d="M108.9,256.9C109.1,255.8 110.3,254.8 111.0,254.8C111.7,254.8 112.9,255.8 113.1,256.9C113.3,257.9 113.0,260.4 112.4,261.1C111.8,261.8 110.2,261.8 109.6,261.1C109.0,260.4 108.7,257.9 108.9,256.9Z"/>
</g>
<g clip-path="url(#c1)">
<path fill="#ffff80" d="M101.4,302.7C100.7,302.9 98.9,306.2 97.2,307.2C95.5,308.2 93.3,308.0 91.5,308.7C89.7,309.4 88.0,310.0 86.6,311.1C85.2,312.2 84.3,313.9 83.1,315.4C81.9,316.9 80.8,318.8 79.6,320.3C78.4,321.8 77.6,323.4 76.1,324.5C74.6,325.6 72.1,326.0 70.4,326.9C68.8,327.8 67.6,329.0 66.2,329.7C64.8,330.4 63.0,331.6 62.0,331.1C61.0,330.6 60.7,327.3 59.9,326.9C59.1,326.5 57.4,327.8 57.0,328.7C56.6,329.6 58.3,331.2 57.7,332.3C57.1,333.4 55.1,334.4 53.5,335.1C51.9,335.8 49.2,335.7 47.9,336.5C46.6,337.3 45.7,338.9 45.8,340.0C45.9,341.1 47.2,342.8 48.6,343.2C50.0,343.6 52.9,343.2 54.2,342.4C55.5,341.6 55.5,339.2 56.3,338.6C57.1,338.0 59.2,337.8 59.2,338.6C59.2,339.4 57.2,341.7 56.3,343.5C55.3,345.3 54.7,348.0 53.5,349.2C52.3,350.4 50.5,351.1 49.3,350.6C48.1,350.1 47.7,347.1 46.5,346.3C45.3,345.5 44.2,345.6 42.3,345.6C40.4,345.6 37.6,345.7 35.2,346.3C32.9,346.9 30.1,347.3 28.2,349.2C26.3,351.1 24.1,356.2 23.9,357.6C23.7,359.0 20.4,357.6 26.9,357.6C33.4,357.6 50.7,357.6 62.6,357.6C74.6,357.6 91.9,357.6 98.4,357.6C104.9,357.6 100.9,358.1 101.4,357.6C101.9,357.1 101.4,359.2 101.4,354.6C101.4,350.0 101.4,338.3 101.4,330.1C101.4,322.0 101.4,310.3 101.4,305.7C101.4,301.1 102.1,302.4 101.4,302.7Z"/>
<path fill="#ffd400" d="M101.4,309.7C100.7,309.4 98.6,310.6 97.2,311.1C95.8,311.6 94.2,312.5 93.0,312.5C91.8,312.5 91.2,310.9 90.1,311.1C89.0,311.3 87.6,312.7 86.6,313.9C85.5,315.1 84.4,316.8 83.8,318.2C83.2,319.6 83.9,321.0 83.1,322.4C82.3,323.8 80.6,325.2 78.9,326.6C77.2,328.0 74.9,329.9 73.2,330.8C71.5,331.8 70.2,331.4 69.0,332.3C67.8,333.2 67.4,335.3 66.2,336.5C65.0,337.7 63.2,338.4 62.0,339.3C60.8,340.2 59.9,340.9 59.2,342.1C58.5,343.3 58.2,344.7 57.7,346.3C57.2,347.9 56.8,350.1 56.3,352.0C55.8,353.9 54.6,356.7 54.9,357.6C55.2,358.5 54.0,357.6 57.9,357.6C61.8,357.6 71.4,357.6 78.2,357.6C84.9,357.6 94.5,357.6 98.4,357.6C102.3,357.6 100.9,358.1 101.4,357.6C101.9,357.1 101.4,358.6 101.4,354.6C101.4,350.6 101.4,340.6 101.4,333.6C101.4,326.7 101.4,316.7 101.4,312.7C101.4,308.7 102.1,310.0 101.4,309.7Z"/>
<path fill="#ffff80" d="M65.9,342.4C66.2,341.9 67.5,341.3 68.3,341.4C69.0,341.5 70.3,342.2 70.4,342.8C70.5,343.4 69.4,344.6 68.7,344.9C68.0,345.2 66.7,345.0 66.2,344.6C65.7,344.2 65.6,342.9 65.9,342.4Z"/>
<path fill="#ffff80" d="M84.5,338.6C84.7,337.4 86.6,337.3 88.0,337.2C89.4,337.1 91.9,337.2 93.0,337.9C94.1,338.6 94.8,340.2 94.6,341.4C94.3,342.6 92.8,344.7 91.5,345.2C90.2,345.7 87.8,345.3 86.6,344.2C85.4,343.1 84.3,339.8 84.5,338.6Z"/>
<path fill="#ff9900" d="M83.8,331.5C83.9,331.1 84.6,330.9 84.9,331.1C85.2,331.4 85.5,332.6 85.4,333.0C85.3,333.4 84.5,333.6 84.2,333.4C83.9,333.1 83.7,331.9 83.8,331.5Z"/>
<path fill="#66c20a" d="M57.0,334.8C57.4,333.9 58.8,332.7 59.9,332.3C61.0,331.9 62.7,331.8 63.4,332.3C64.1,332.8 64.6,334.2 64.1,335.1C63.6,336.0 61.7,337.1 60.6,337.6C59.5,338.1 58.3,338.4 57.7,337.9C57.1,337.4 56.6,335.7 57.0,334.8Z"/>
<path fill="#66c20a" d="M50.0,346.3C50.3,345.6 51.1,344.4 51.8,344.2C52.5,344.0 53.8,344.3 54.2,344.9C54.6,345.5 54.6,346.9 54.2,347.7C53.8,348.4 52.5,349.3 51.8,349.4C51.1,349.5 50.3,349.0 50.0,348.5C49.7,348.0 49.7,347.0 50.0,346.3Z"/>
<path fill="#ffd400" d="M31.7,353.4C32.4,352.2 33.9,350.8 35.2,350.6C36.5,350.4 38.5,350.8 39.4,352.0C40.3,353.2 42.2,356.7 40.8,357.6C39.4,358.5 32.5,358.3 31.0,357.6C29.5,356.9 31.0,354.6 31.7,353.4Z"/>
<path fill="#66c20a" d="M78.9,278.7C79.5,278.2 80.1,278.7 81.9,278.7C83.7,278.7 87.2,278.7 89.8,278.7C92.4,278.7 95.9,278.7 97.7,278.7C99.5,278.7 100.6,276.9 100.7,278.7C100.8,280.5 99.2,286.2 98.6,289.3C98.0,292.4 98.0,294.8 97.2,297.0C96.4,299.2 95.3,301.3 93.7,302.7C92.1,304.1 89.3,304.6 87.6,305.5C85.9,306.4 84.8,306.9 83.4,308.3C82.0,309.7 80.6,311.9 79.2,313.9C77.8,315.9 76.8,318.6 74.9,320.3C73.0,322.0 70.2,323.0 67.9,323.8C65.6,324.6 62.7,324.5 60.8,325.2C58.9,325.9 58.5,326.8 56.6,328.0C54.7,329.2 52.0,331.0 49.6,332.3C47.2,333.6 44.9,334.4 42.5,335.8C40.1,337.2 37.6,338.9 35.5,340.7C33.4,342.4 31.4,344.4 29.9,346.3C28.4,348.2 27.1,350.1 26.3,352.0C25.5,353.9 25.8,356.7 25.1,357.6C24.4,358.5 23.5,357.6 22.1,357.6C20.7,357.6 18.6,357.6 16.8,357.6C15.0,357.6 12.9,357.6 11.5,357.6C10.1,357.6 8.6,357.9 8.5,357.6C8.4,357.3 7.8,358.2 10.7,355.5C13.5,352.8 20.5,346.1 25.4,341.4C30.3,336.7 37.3,330.0 40.1,327.3C43.0,324.6 41.5,325.8 42.3,325.2C43.1,324.6 42.6,325.0 45.0,323.9C47.3,322.7 52.6,320.1 56.4,318.1C60.1,316.2 65.4,313.6 67.7,312.4C70.1,311.3 69.8,311.8 70.4,311.1C71.0,310.4 70.5,310.9 71.2,308.2C71.9,305.5 73.5,299.3 74.7,294.9C75.8,290.5 77.4,284.3 78.1,281.6C78.8,278.9 78.3,279.2 78.9,278.7Z"/>
<path fill="#089a08" d="M53.5,278.7C54.2,278.3 53.2,278.7 56.5,278.7C59.8,278.7 67.7,278.7 73.2,278.7C78.8,278.7 86.7,278.7 90.0,278.7C93.3,278.7 92.9,276.9 93.0,278.7C93.1,280.5 91.5,286.5 90.8,289.3C90.1,292.1 90.0,293.6 89.0,295.6C88.0,297.6 86.4,299.7 84.8,301.3C83.2,302.9 80.8,303.9 79.2,305.5C77.6,307.1 76.1,309.0 74.9,311.1C73.7,313.2 73.5,316.4 72.1,318.2C70.7,320.0 68.6,320.8 66.5,321.7C64.4,322.6 61.5,323.0 59.4,323.8C57.3,324.6 55.9,325.6 53.8,326.6C51.7,327.7 49.1,328.8 46.8,330.1C44.4,331.4 42.1,332.9 39.7,334.4C37.4,335.9 34.8,337.7 32.7,339.3C30.6,340.9 28.6,342.6 27.0,344.2C25.4,345.8 24.0,347.0 22.8,349.2C21.6,351.4 20.7,356.2 19.7,357.6C18.7,359.0 18.4,357.6 16.7,357.6C15.0,357.6 11.9,357.6 9.5,357.6C7.1,357.6 4.0,357.6 2.3,357.6C0.6,357.6 -0.2,358.1 -0.7,357.6C-1.2,357.1 -0.7,355.8 -0.7,354.6C-0.7,353.4 -0.7,351.9 -0.7,350.6C-0.7,349.2 -0.7,347.7 -0.7,346.5C-0.7,345.3 -1.1,344.3 -0.7,343.5C-0.3,342.7 -0.6,343.5 1.8,341.8C4.2,340.2 9.8,336.4 13.8,333.6C17.7,330.9 23.3,327.1 25.7,325.5C28.1,323.8 27.5,324.5 28.2,323.8C28.9,323.1 27.6,324.9 29.7,321.2C31.8,317.4 37.1,307.9 40.9,301.2C44.6,294.6 49.9,285.1 52.0,281.3C54.1,277.6 52.8,279.1 53.5,278.7Z"/>
<path fill="#73b2ff" d="M55.6,297.0C56.3,297.7 56.9,300.8 57.7,302.7C58.5,304.6 59.7,306.7 60.6,308.3C61.5,309.9 63.0,311.2 63.1,312.5C63.2,313.8 62.5,315.0 61.3,316.1C60.0,317.2 57.7,317.6 55.6,318.9C53.5,320.2 51.1,322.3 48.6,323.8C46.1,325.3 43.5,326.4 40.8,328.0C38.1,329.6 35.2,331.8 32.4,333.7C29.6,335.6 26.5,337.3 23.9,339.3C21.3,341.3 18.9,343.5 16.9,345.6C14.9,347.7 13.1,350.0 12.0,352.0C10.9,354.0 11.2,356.7 10.1,357.6C9.0,358.5 6.6,358.5 5.6,357.6C4.6,356.7 5.2,352.9 4.2,352.0C3.2,351.1 0.1,353.4 -0.7,352.0C-1.5,350.6 -1.1,345.2 -0.7,343.5C-0.3,341.8 -0.7,343.5 1.7,341.7C4.1,340.0 9.7,335.9 13.8,332.9C17.8,330.0 23.4,325.9 25.8,324.2C28.2,322.4 27.4,323.0 28.2,322.4C29.0,321.8 28.3,322.3 30.4,320.3C32.5,318.3 37.4,313.7 40.9,310.4C44.3,307.2 49.2,302.6 51.3,300.6C53.4,298.6 52.8,299.1 53.5,298.5C54.2,297.9 54.9,296.3 55.6,297.0Z"/>
</g>
<g clip-path="url(#c2)">
<path fill="#ffff80" d="M23.9,352.0C25.8,350.5 28.6,349.0 31.0,348.5C33.4,348.0 36.1,348.8 38.0,349.2C39.9,349.6 40.6,350.4 42.3,350.6C43.9,350.8 46.7,351.7 47.9,350.6C49.1,349.6 48.6,345.4 49.3,344.3C50.0,343.2 48.0,344.3 52.3,344.3C56.6,344.3 67.7,344.3 75.3,344.3C83.0,344.3 94.1,344.3 98.4,344.3C102.7,344.3 100.9,343.8 101.4,344.3C101.9,344.8 101.4,341.6 101.4,347.3C101.4,353.0 101.4,368.1 101.4,378.5C101.4,388.8 101.4,403.9 101.4,409.6C101.4,415.3 101.9,412.1 101.4,412.6C100.9,413.1 103.9,412.6 98.4,412.6C92.9,412.6 78.3,412.6 68.3,412.6C58.3,412.6 43.7,412.6 38.2,412.6C32.7,412.6 35.9,413.5 35.2,412.6C34.5,411.7 35.0,408.4 33.8,407.0C32.6,405.6 30.1,405.1 28.2,404.2C26.3,403.2 24.9,401.9 22.5,401.3C20.1,400.7 16.4,401.3 14.1,400.6C11.8,399.9 10.2,398.9 8.5,397.1C6.9,395.4 5.2,392.5 4.2,390.1C3.2,387.8 2.6,384.9 2.8,383.0C3.0,381.1 5.6,380.4 5.6,378.8C5.6,377.2 3.1,375.1 2.8,373.2C2.4,371.3 2.8,369.1 3.5,367.5C4.2,365.9 5.2,364.5 7.0,363.3C8.8,362.1 12.0,361.4 14.1,360.5C16.2,359.6 18.1,359.1 19.7,357.7C21.3,356.3 22.0,353.5 23.9,352.0Z"/>
<path fill="#ffd400" d="M29.6,353.5C31.0,352.3 33.6,352.0 35.2,352.0C36.8,352.0 38.4,352.3 39.4,353.5C40.4,354.7 41.3,357.2 41.5,359.1C41.7,361.0 40.7,362.8 40.8,364.7C40.9,366.6 41.1,369.2 42.3,370.4C43.5,371.6 46.5,372.3 47.9,371.8C49.3,371.3 50.5,369.1 50.7,367.5C50.9,365.9 49.4,363.8 49.3,361.9C49.2,360.0 49.3,357.7 50.0,356.3C50.7,354.9 52.5,354.4 53.5,353.5C54.5,352.6 55.3,352.1 56.3,350.6C57.2,349.1 58.2,345.4 59.2,344.3C60.2,343.2 58.7,344.3 62.2,344.3C65.7,344.3 74.3,344.3 80.3,344.3C86.3,344.3 94.9,344.3 98.4,344.3C101.9,344.3 100.9,343.8 101.4,344.3C101.9,344.8 101.4,342.6 101.4,347.3C101.4,352.1 101.4,364.3 101.4,372.8C101.4,381.3 101.4,393.6 101.4,398.3C101.4,403.1 101.9,400.8 101.4,401.3C100.9,401.8 103.3,401.4 98.4,401.2C93.5,401.0 80.7,400.4 71.8,400.1C63.0,399.7 50.2,399.1 45.3,398.9C40.4,398.7 44.0,398.9 42.3,398.8C40.6,398.7 37.6,398.4 35.2,398.5C32.9,398.6 30.6,399.3 28.2,399.2C25.8,399.1 23.5,398.4 21.1,397.8C18.8,397.2 16.2,397.0 14.1,395.7C12.0,394.4 9.9,392.2 8.5,390.1C7.1,388.0 5.6,385.8 5.6,383.0C5.6,380.2 7.1,375.8 8.5,373.2C9.9,370.6 12.0,368.9 14.1,367.5C16.2,366.1 19.0,366.1 21.1,364.7C23.2,363.3 25.4,361.0 26.8,359.1C28.2,357.2 28.2,354.7 29.6,353.5Z"/>
<path fill="#a8f016" d="M49.6,344.3C50.4,343.8 53.8,343.7 54.6,344.3C55.4,344.9 54.7,347.0 54.2,347.8C53.7,348.6 52.2,349.0 51.4,348.9C50.6,348.8 49.9,347.9 49.6,347.1C49.3,346.3 48.8,344.8 49.6,344.3Z"/>
<path fill="#ffff80" d="M41.5,364.7C41.4,362.7 41.9,360.6 42.3,359.1C42.7,357.6 42.8,356.3 43.7,355.6C44.6,354.9 46.9,354.3 47.9,354.9C48.9,355.5 49.8,357.5 50.0,359.1C50.2,360.7 49.2,363.1 49.3,364.7C49.4,366.3 50.9,367.6 50.7,368.9C50.5,370.2 49.2,372.1 47.9,372.5C46.6,372.9 44.1,372.4 43.0,371.1C41.9,369.8 41.6,366.7 41.5,364.7Z"/>
<path fill="#a8f016" d="M43.4,358.4C43.8,357.5 45.0,356.3 45.8,356.3C46.6,356.3 47.9,357.3 48.3,358.4C48.6,359.4 48.4,361.7 47.9,362.6C47.4,363.5 45.9,364.1 45.1,364.0C44.4,363.9 43.7,362.8 43.4,361.9C43.1,361.0 43.0,359.3 43.4,358.4Z"/>
<path fill="#ffff80" d="M31.7,375.3C32.2,374.2 33.9,373.3 35.2,373.2C36.5,373.1 38.2,373.7 39.4,374.6C40.6,375.5 41.2,377.6 42.3,378.8C43.4,380.0 45.3,380.6 45.8,381.6C46.3,382.7 45.9,384.6 45.1,385.1C44.3,385.6 42.2,385.1 40.8,384.4C39.4,383.7 38.0,381.7 36.6,380.9C35.2,380.1 33.2,380.4 32.4,379.5C31.6,378.6 31.2,376.4 31.7,375.3Z"/>
<path fill="#ffff80" d="M23.9,371.8C24.2,371.3 25.1,370.9 25.6,371.1C26.1,371.3 26.8,372.3 26.8,372.9C26.8,373.5 25.9,374.4 25.4,374.6C24.9,374.8 24.1,374.4 23.9,373.9C23.6,373.4 23.6,372.3 23.9,371.8Z"/>
<path fill="#ffff80" d="M28.9,388.7C29.5,387.6 32.3,386.5 33.8,386.1C35.3,385.7 37.2,385.9 38.0,386.5C38.8,387.1 39.2,388.4 38.7,389.4C38.2,390.3 36.6,391.7 35.2,392.2C33.8,392.7 31.4,393.2 30.3,392.6C29.2,392.0 28.3,389.8 28.9,388.7Z"/>
<path fill="#a8f016" d="M31.8,389.4C31.9,389.0 32.9,388.9 33.2,389.1C33.5,389.3 33.9,390.0 33.8,390.4C33.7,390.8 32.7,391.4 32.4,391.2C32.1,391.0 31.7,389.8 31.8,389.4Z"/>
<path fill="#ffff80" d="M40.8,388.0C41.2,387.4 42.9,387.1 43.7,387.3C44.5,387.5 45.4,388.7 45.4,389.4C45.4,390.1 44.6,391.3 43.9,391.5C43.2,391.7 41.8,391.4 41.3,390.8C40.8,390.2 40.4,388.6 40.8,388.0Z"/>
<path fill="#ff9900" d="M28.2,361.9C28.4,360.5 30.4,358.6 31.7,357.7C33.0,356.8 34.9,356.1 35.9,356.3C36.9,356.5 37.7,357.5 38.0,359.1C38.3,360.7 38.3,364.6 37.7,366.1C37.1,367.6 35.7,368.2 34.5,368.2C33.3,368.2 31.4,367.2 30.3,366.1C29.2,365.1 28.0,363.3 28.2,361.9Z"/>
<path fill="#ff9900" d="M13.4,377.4C14.3,375.4 16.3,374.0 17.6,373.9C18.9,373.8 19.9,375.4 21.1,376.7C22.3,378.0 24.2,379.8 24.6,381.6C25.0,383.4 24.2,385.7 23.2,387.3C22.1,388.9 19.8,390.6 18.3,391.5C16.8,392.4 15.2,393.8 14.1,392.9C13.0,391.9 12.1,388.4 12.0,385.8C11.9,383.2 12.5,379.4 13.4,377.4Z"/>
<path fill="#ff9900" d="M28.2,381.6C29.1,381.2 32.2,381.5 33.1,381.9C34.0,382.2 34.3,383.0 33.8,383.7C33.3,384.4 31.3,385.7 30.3,385.8C29.3,385.9 28.2,385.1 27.9,384.4C27.5,383.7 27.3,382.0 28.2,381.6Z"/>
<path fill="#66c20a" d="M-0.7,370.4C-0.5,370.4 0.2,371.8 0.7,373.2C1.2,374.6 2.0,376.7 2.1,378.8C2.2,380.9 1.0,383.5 1.4,385.8C1.8,388.1 3.0,390.8 4.2,392.9C5.4,395.0 8.3,397.1 8.5,398.5C8.7,399.9 7.1,400.8 5.6,401.3C4.1,401.8 0.4,401.8 -0.7,401.3C-1.8,400.8 -0.7,400.9 -0.7,398.3C-0.7,395.7 -0.7,390.0 -0.7,385.9C-0.7,381.7 -0.7,376.0 -0.7,373.4C-0.7,370.8 -0.9,370.4 -0.7,370.4Z"/>
<path fill="#66c20a" d="M-14.1,330.9C-13.6,330.4 -14.7,330.9 -11.1,330.9C-7.5,330.9 1.2,330.9 7.4,330.9C13.6,330.9 22.3,330.9 25.9,330.9C29.5,330.9 28.4,330.4 28.9,330.9C29.4,331.4 28.8,332.7 28.8,333.9C28.7,335.1 28.6,336.6 28.5,337.9C28.5,339.3 28.4,340.8 28.3,342.0C28.3,343.2 28.7,343.6 28.2,345.0C27.7,346.4 26.6,348.8 25.4,350.6C24.2,352.4 22.8,354.6 21.1,356.0C19.5,357.4 17.6,358.1 15.5,358.8C13.4,359.5 10.6,359.5 8.5,360.2C6.4,360.9 4.2,362.1 2.8,363.0C1.4,363.9 1.0,365.3 0.0,365.8C-1.0,366.3 -1.8,366.0 -3.0,366.2C-4.2,366.3 -5.7,366.5 -7.0,366.6C-8.4,366.8 -9.9,367.0 -11.1,367.1C-12.3,367.3 -13.6,367.9 -14.1,367.5C-14.6,367.1 -14.1,367.6 -14.1,364.5C-14.1,361.4 -14.1,354.3 -14.1,349.2C-14.1,344.1 -14.1,336.9 -14.1,333.9C-14.1,330.8 -14.6,331.4 -14.1,330.9Z"/>
<path fill="#089a08" d="M-14.1,330.9C-13.6,330.4 -14.4,330.9 -11.1,330.9C-7.8,330.9 0.3,330.9 6.0,330.9C11.7,330.9 19.8,330.9 23.1,330.9C26.5,330.9 25.6,330.4 26.1,330.9C26.6,331.4 26.0,332.7 26.0,333.9C25.9,335.1 25.8,336.6 25.8,337.9C25.7,339.3 25.6,340.8 25.5,342.0C25.5,343.2 25.9,343.3 25.4,345.0C24.9,346.7 23.9,349.9 22.5,352.0C21.1,354.1 18.8,356.6 16.9,357.7C15.0,358.8 13.2,358.6 11.3,358.4C9.4,358.2 7.5,356.5 5.6,356.3C3.7,356.1 1.4,356.9 0.0,357.0C-1.4,357.1 -1.8,357.1 -3.0,357.1C-4.2,357.2 -5.7,357.3 -7.0,357.4C-8.4,357.4 -9.9,357.5 -11.1,357.6C-12.3,357.6 -13.6,358.2 -14.1,357.7C-14.6,357.2 -14.1,356.9 -14.1,354.7C-14.1,352.5 -14.1,347.8 -14.1,344.3C-14.1,340.8 -14.1,336.1 -14.1,333.9C-14.1,331.7 -14.6,331.4 -14.1,330.9Z"/>
<path fill="#73b2ff" d="M4.2,330.9C6.4,330.4 15.4,330.4 17.6,330.9C19.8,331.4 17.5,332.7 17.5,333.9C17.4,335.1 17.3,336.6 17.2,337.9C17.2,339.3 17.1,340.8 17.0,342.0C17.0,343.2 17.0,343.6 16.9,345.0C16.8,346.4 16.8,348.8 16.2,350.6C15.6,352.4 14.7,355.4 13.4,355.6C12.1,355.8 10.0,353.4 8.5,352.0C7.0,350.6 4.9,348.4 4.2,347.1C3.5,345.8 4.2,345.5 4.2,344.1C4.2,342.8 4.2,340.7 4.2,339.0C4.2,337.3 4.2,335.2 4.2,333.9C4.2,332.5 2.0,331.4 4.2,330.9Z"/>
</g>
<g clip-path="url(#c3)">
<path fill="#ffff80" d="M4.2,370.9C3.7,371.4 4.2,372.3 4.2,373.9C4.2,375.5 4.2,378.3 4.2,380.5C4.2,382.7 4.2,385.5 4.2,387.1C4.2,388.7 3.5,388.4 4.2,390.1C4.9,391.8 6.9,395.4 8.5,397.1C10.2,398.9 12.5,399.1 14.1,400.6C15.7,402.1 16.7,404.6 18.0,406.0C19.3,407.4 20.5,408.5 22.0,408.9C23.5,409.3 25.1,408.7 27.0,408.5C28.9,408.3 31.7,408.0 33.5,407.5C35.3,407.0 36.7,406.7 38.0,405.6C39.3,404.5 40.4,401.9 41.5,401.1C42.6,400.3 38.6,401.2 44.5,401.0C50.4,400.8 66.2,400.4 77.1,400.1C88.0,399.8 103.8,399.4 109.7,399.2C115.6,399.0 112.2,399.6 112.7,399.1C113.2,398.6 112.7,398.5 112.7,396.1C112.7,393.8 112.7,388.7 112.7,385.0C112.7,381.3 112.7,376.2 112.7,373.9C112.7,371.5 113.2,371.4 112.7,370.9C112.2,370.4 118.7,370.9 109.7,370.9C100.7,370.9 75.5,370.9 58.5,370.9C41.4,370.9 16.2,370.9 7.2,370.9C-1.8,370.9 4.7,370.4 4.2,370.9Z"/>
<path fill="#ffd400" d="M5.6,370.9C5.1,372.9 5.1,379.8 5.6,383.0C6.1,386.2 7.1,388.0 8.5,390.1C9.9,392.2 12.2,394.3 14.1,395.7C16.0,397.1 17.3,398.3 19.7,398.7C22.1,399.1 25.6,398.4 28.2,398.0C30.8,397.6 33.1,396.5 35.2,396.5C37.3,396.5 40.3,397.1 40.8,398.0C41.3,398.9 39.0,400.5 38.3,401.9C37.5,403.2 37.0,404.9 36.3,406.1C35.6,407.3 34.1,408.4 34.2,409.2C34.3,410.0 35.5,412.3 36.9,411.1C38.2,409.9 40.9,403.5 42.3,401.9C43.7,400.3 39.4,402.2 45.3,401.5C51.1,400.8 66.8,399.0 77.5,397.7C88.2,396.4 103.9,394.6 109.7,393.9C115.6,393.2 112.2,394.1 112.7,393.5C113.2,392.9 112.7,392.4 112.7,390.5C112.7,388.6 112.7,385.0 112.7,382.2C112.7,379.4 112.7,375.8 112.7,373.9C112.7,372.0 113.2,371.4 112.7,370.9C112.2,370.4 118.6,370.9 109.7,370.9C100.8,370.9 76.0,370.9 59.1,370.9C42.3,370.9 17.5,370.9 8.6,370.9C-0.3,370.9 6.1,368.9 5.6,370.9Z"/>
<path fill="#ff9900" d="M12.0,370.9C10.0,372.1 11.7,375.6 12.0,378.0C12.3,380.4 13.0,383.9 14.1,385.0C15.2,386.1 16.8,385.2 18.3,384.3C19.8,383.4 22.3,381.6 23.2,379.4C24.1,377.2 25.8,372.3 23.9,370.9C22.0,369.5 14.0,369.7 12.0,370.9Z"/>
<path fill="#a8f016" d="M25.4,399.8C26.2,399.2 28.9,399.6 30.3,400.2C31.7,400.8 33.3,402.2 33.5,403.3C33.7,404.4 32.7,406.2 31.7,406.8C30.7,407.4 28.6,407.3 27.5,406.8C26.4,406.3 25.8,405.2 25.4,404.0C25.0,402.8 24.6,400.4 25.4,399.8Z"/>
<path fill="#66c20a" d="M38.0,399.1C38.3,398.3 40.0,397.9 40.8,398.0C41.6,398.1 42.8,399.0 43.0,399.8C43.2,400.6 42.6,402.1 42.0,402.6C41.4,403.1 39.9,403.2 39.2,402.6C38.5,402.0 37.7,399.9 38.0,399.1Z"/>
<path fill="#ffff80" d="M3.5,401.9C4.0,400.9 5.7,399.9 7.0,399.8C8.3,399.7 10.5,400.4 11.3,401.2C12.1,402.0 12.5,403.8 12.0,404.7C11.5,405.6 9.8,406.6 8.5,406.8C7.2,407.0 5.0,406.6 4.2,405.8C3.4,405.0 3.0,402.9 3.5,401.9Z"/>
<path fill="#66c20a" d="M14.8,404.7C15.2,404.1 16.8,403.8 17.6,403.9C18.4,404.0 19.6,404.8 19.7,405.4C19.8,406.0 19.1,407.2 18.3,407.5C17.6,407.8 15.8,407.8 15.2,407.3C14.6,406.8 14.4,405.3 14.8,404.7Z"/>
<path fill="#66c20a" d="M-0.7,408.9C0.4,408.2 3.6,407.4 5.6,407.5C7.6,407.6 9.4,408.9 11.3,409.6C13.2,410.3 15.0,411.0 16.9,411.8C18.8,412.6 21.0,413.2 22.5,414.6C24.0,416.0 26.3,418.3 26.1,420.2C25.9,422.1 23.1,424.5 21.1,425.8C19.1,427.1 16.2,427.5 14.1,428.0C12.0,428.5 11.0,428.8 8.5,428.7C6.0,428.6 0.8,428.0 -0.7,427.3C-2.2,426.6 -0.7,425.8 -0.7,424.3C-0.7,422.8 -0.7,420.2 -0.7,418.1C-0.7,416.0 -0.7,413.4 -0.7,411.9C-0.7,410.4 -1.8,409.6 -0.7,408.9Z"/>
<path fill="#089a08" d="M12.0,420.9C12.3,419.8 13.8,418.3 14.8,418.1C15.9,417.9 17.6,418.7 18.3,419.5C19.0,420.3 19.4,422.1 19.0,423.0C18.6,423.9 17.2,424.9 16.2,425.1C15.1,425.3 13.4,425.1 12.7,424.4C12.0,423.7 11.7,421.9 12.0,420.9Z"/>
<path fill="#a8f016" d="M6.3,418.1C6.4,417.2 7.2,414.7 7.7,413.9C8.2,413.1 9.4,412.6 9.6,413.2C9.8,413.8 9.1,416.3 8.7,417.4C8.3,418.4 7.7,419.4 7.3,419.5C6.9,419.6 6.2,419.0 6.3,418.1Z"/>
<path fill="#66c20a" d="M-0.7,390.6C-0.2,389.2 1.2,390.6 2.1,391.3C3.0,392.0 4.6,393.6 4.9,394.9C5.2,396.2 5.1,398.3 4.2,399.1C3.3,399.9 0.1,401.2 -0.7,399.8C-1.5,398.4 -1.2,392.0 -0.7,390.6Z"/>
</g>
</g>
<use href="#cn"/>
</g>
<g transform="translate(264.4,0)">
<g clip-path="url(#land)">
<rect x="-40" y="60" width="300" height="400" fill="#a8f016"/>
<path fill="#ffd400" d="M81.6,71.3C82.8,70.0 91.5,68.7 93.5,69.9C95.5,71.1 94.0,76.4 93.5,78.3C93.0,80.2 91.9,81.2 90.7,81.1C89.5,81.0 88.0,79.2 86.5,77.6C85.0,76.0 80.4,72.6 81.6,71.3Z"/>
<path fill="#ff9900" d="M82.3,71.5C83.3,70.9 88.4,70.3 89.6,70.7C90.8,71.1 90.1,73.2 89.6,74.1C89.1,75.0 87.5,76.3 86.5,76.3C85.5,76.3 84.1,74.9 83.4,74.1C82.7,73.3 81.3,72.1 82.3,71.5Z"/>
<path fill="#ffff80" d="M89.3,81.1C89.6,80.3 91.8,78.5 92.8,78.3C93.8,78.1 94.9,78.9 95.0,79.7C95.1,80.5 94.2,82.6 93.5,83.2C92.8,83.8 91.4,83.6 90.7,83.2C90.0,82.8 89.0,81.9 89.3,81.1Z"/>
<path fill="#66c20a" d="M90.7,88.2C91.4,87.0 93.8,84.6 95.7,83.9C97.6,83.2 99.3,83.4 102.0,83.9C104.7,84.4 109.1,85.7 111.9,86.8C114.7,87.9 116.8,89.1 118.9,90.3C121.0,91.5 123.0,91.8 124.5,93.8C126.0,95.8 127.6,100.2 128.1,102.3C128.6,104.4 127.9,105.2 127.3,106.5C126.7,107.8 125.9,108.7 124.5,110.0C123.1,111.3 121.0,113.5 118.9,114.6C116.8,115.7 114.0,116.4 111.9,116.6C109.8,116.8 107.9,116.3 106.2,115.6C104.5,114.8 103.9,114.3 102.0,112.1C100.1,109.9 96.3,104.4 95.0,102.3C93.7,100.2 94.5,100.6 94.1,99.4C93.8,98.3 93.3,96.6 92.8,95.2C92.4,93.9 91.9,92.2 91.6,91.1C91.2,89.9 90.0,89.4 90.7,88.2Z"/>
<path fill="#089a08" d="M92.1,93.8C92.5,92.2 94.5,88.9 95.7,87.5C96.9,86.1 97.7,85.6 99.2,85.4C100.7,85.2 102.7,85.6 104.8,86.1C106.9,86.6 109.8,87.3 111.9,88.2C114.0,89.1 115.7,90.6 117.5,91.7C119.3,92.8 121.5,93.4 122.8,94.9C124.1,96.4 125.3,98.8 125.2,100.8C125.1,102.8 123.3,105.1 122.0,106.8C120.7,108.5 119.2,109.9 117.5,111.0C115.8,112.1 113.8,112.9 111.9,113.2C110.0,113.5 108.0,113.5 106.2,112.7C104.4,111.9 102.8,110.5 101.3,108.6C99.8,106.7 98.4,103.4 97.1,101.5C95.8,99.6 94.3,98.6 93.5,97.3C92.7,96.0 91.7,95.4 92.1,93.8Z"/>
<path fill="#73b2ff" d="M98.5,91.7C98.8,90.3 100.0,88.8 101.3,88.2C102.6,87.6 104.2,87.9 106.2,88.2C108.2,88.5 111.3,89.2 113.3,90.3C115.3,91.3 117.2,93.0 118.2,94.5C119.2,96.0 119.6,97.6 119.6,99.4C119.6,101.2 119.0,103.6 118.2,105.1C117.4,106.6 116.2,107.8 114.7,108.6C113.2,109.4 110.7,110.0 109.0,110.0C107.3,110.0 106.0,109.4 104.8,108.6C103.6,107.8 102.6,106.4 102.0,105.1C101.4,103.8 101.8,102.2 101.3,100.8C100.8,99.4 99.7,98.1 99.2,96.6C98.7,95.1 98.2,93.1 98.5,91.7Z"/>
<path fill="#0047bb" d="M99.9,91.0C100.1,89.8 101.8,88.8 102.7,88.9C103.6,89.0 104.8,90.7 105.1,91.7C105.4,92.8 105.1,94.5 104.5,95.2C103.9,95.9 102.1,96.6 101.3,95.9C100.5,95.2 99.7,92.2 99.9,91.0Z"/>
<path fill="#0047bb" d="M106.5,94.5C106.6,93.7 108.1,92.8 109.0,92.7C109.9,92.6 111.5,93.2 111.9,93.8C112.3,94.4 112.2,95.9 111.6,96.6C111.0,97.2 109.1,98.0 108.3,97.7C107.5,97.4 106.4,95.3 106.5,94.5Z"/>
<path fill="#0047bb" d="M102.3,103.0C102.4,101.8 104.4,100.8 105.5,100.6C106.6,100.3 108.1,100.8 109.0,101.5C109.9,102.2 111.1,103.9 111.1,105.1C111.1,106.3 110.0,108.1 109.0,108.6C108.0,109.1 105.9,108.8 104.8,107.9C103.7,107.0 102.2,104.2 102.3,103.0Z"/>
<path fill="#ffff80" d="M109.7,117.0C110.6,116.1 115.5,117.2 117.5,116.8C119.5,116.4 120.6,115.3 122.0,114.6C123.4,113.9 124.9,113.7 125.7,112.8C126.5,111.9 126.1,109.5 126.6,109.3C127.1,109.1 128.4,109.5 128.8,111.4C129.2,113.3 128.2,117.9 128.8,120.6C129.4,123.3 132.2,126.4 132.3,127.6C132.4,128.8 130.7,127.6 129.3,127.6C128.0,127.6 125.9,127.6 124.2,127.6C122.5,127.6 120.4,127.6 119.1,127.6C117.8,127.6 117.3,128.5 116.1,127.6C114.9,126.7 113.0,123.8 111.9,122.0C110.8,120.2 108.8,117.9 109.7,117.0Z"/>
<path fill="#ffd400" d="M110.4,118.5C110.3,117.1 111.9,117.9 113.3,119.4C114.7,120.9 118.5,126.2 118.6,127.6C118.7,129.0 115.4,129.1 114.0,127.6C112.6,126.1 110.5,119.9 110.4,118.5Z"/>
<path fill="#ffff80" d="M103.7,112.8C104.8,113.1 109.0,115.9 112.1,117.0C115.1,118.1 119.4,119.3 122.0,119.2C124.6,119.1 125.9,115.5 127.6,116.3C129.2,117.1 130.5,122.1 131.9,124.1C133.3,126.1 135.4,126.0 136.1,128.3C136.8,130.7 134.9,136.3 136.1,138.2C137.3,140.1 141.5,138.4 143.1,139.6C144.7,140.8 144.5,143.1 145.9,145.2C147.3,147.3 149.7,152.1 151.6,152.3C153.5,152.5 156.5,148.5 157.2,146.6C157.9,144.7 155.3,140.1 155.8,141.0C156.3,141.9 159.1,148.6 160.0,152.3C160.9,156.1 160.0,160.7 161.4,163.5C162.8,166.3 166.9,168.0 168.5,169.2C170.1,170.4 169.8,169.8 171.2,170.5C172.6,171.2 175.0,172.4 176.9,173.4C178.9,174.4 181.3,175.6 182.7,176.3C184.1,177.0 185.5,177.4 185.4,177.6C185.3,177.8 187.0,177.6 182.4,177.6C177.8,177.6 166.1,177.6 157.9,177.6C149.7,177.6 138.0,177.6 133.4,177.6C128.8,177.6 130.9,178.1 130.4,177.6C129.9,177.1 130.4,176.5 130.4,174.6C130.4,172.7 130.4,169.1 130.4,166.3C130.4,163.6 130.4,160.0 130.4,158.1C130.4,156.2 131.3,157.2 130.4,155.1C129.5,152.9 126.0,147.3 124.8,145.2C123.6,143.1 124.1,144.0 123.3,142.6C122.5,141.2 121.0,138.7 119.9,136.8C118.8,134.8 117.3,132.3 116.5,130.9C115.7,129.5 115.5,129.1 115.0,128.3C114.5,127.5 114.2,127.2 113.2,125.9C112.3,124.6 110.6,122.3 109.3,120.6C108.1,118.8 106.4,116.5 105.5,115.2C104.5,113.9 102.6,112.5 103.7,112.8Z"/>
<path fill="#089a08" d="M104.4,109.3C105.7,108.7 115.3,108.8 117.1,109.3C118.9,109.8 116.5,111.5 115.2,112.1C113.9,112.7 111.1,113.6 109.3,113.1C107.5,112.6 103.1,109.9 104.4,109.3Z"/>
<path fill="#a8f016" d="M125.5,125.5C126.0,123.8 128.6,123.2 129.7,123.4C130.8,123.6 131.9,125.4 132.1,126.9C132.3,128.4 131.6,131.4 130.7,132.5C129.8,133.6 127.8,134.9 126.9,133.7C126.0,132.5 125.0,127.2 125.5,125.5Z"/>
<path fill="#ffd400" d="M113.3,122.0C113.3,121.1 115.0,120.7 115.7,121.3C116.5,121.9 117.0,123.9 117.8,125.5C118.5,127.1 120.2,130.1 120.2,131.1C120.2,132.1 118.5,132.1 117.8,131.4C117.0,130.7 116.5,128.5 115.7,126.9C115.0,125.3 113.3,122.9 113.3,122.0Z"/>
<path fill="#ffd400" d="M121.7,134.6C122.2,134.0 124.3,133.5 125.5,133.9C126.7,134.3 128.1,135.5 129.0,136.8C129.9,138.1 130.3,140.5 131.0,141.7C131.7,142.9 132.1,143.5 133.3,143.8C134.5,144.2 137.3,143.3 138.2,143.8C139.1,144.3 139.5,146.2 138.9,146.9C138.3,147.7 136.0,148.6 134.7,148.3C133.4,148.0 132.2,145.9 131.1,145.2C130.0,144.5 129.4,144.9 128.3,144.1C127.3,143.3 125.7,141.4 124.8,140.3C123.9,139.2 123.2,138.4 122.7,137.5C122.2,136.6 121.2,135.2 121.7,134.6Z"/>
<path fill="#ff9900" d="M131.9,143.8C132.4,143.0 137.0,142.7 138.2,143.2C139.4,143.7 139.4,145.8 138.9,146.6C138.4,147.4 136.2,148.5 135.0,148.0C133.8,147.5 131.4,144.6 131.9,143.8Z"/>
<path fill="#a8f016" d="M125.5,143.1C126.0,142.5 127.6,142.1 128.3,142.4C129.1,142.7 130.1,144.2 130.0,144.9C129.9,145.7 128.7,146.7 127.9,146.9C127.2,147.1 125.9,146.5 125.5,145.9C125.1,145.3 125.0,143.7 125.5,143.1Z"/>
<path fill="#66c20a" d="M145.7,131.1C146.1,130.5 147.9,131.4 149.0,132.5C150.1,133.6 151.2,136.0 152.3,137.5C153.4,139.0 155.6,140.4 155.8,141.7C156.0,143.0 154.8,144.7 153.7,145.2C152.6,145.7 150.5,145.3 149.5,144.5C148.5,143.7 148.1,141.7 147.6,140.3C147.1,138.9 146.9,137.6 146.6,136.1C146.3,134.6 145.3,131.7 145.7,131.1Z"/>
<path fill="#089a08" d="M145.9,131.8C146.2,131.1 147.9,131.7 148.8,132.5C149.8,133.3 151.0,135.5 151.6,136.8C152.2,138.1 152.7,139.6 152.3,140.3C152.0,141.0 150.3,141.6 149.5,141.0C148.7,140.4 147.9,138.3 147.3,136.8C146.7,135.3 145.7,132.5 145.9,131.8Z"/>
<path fill="#a8f016" d="M138.2,148.7C138.3,147.7 140.0,146.4 141.0,146.3C142.0,146.2 143.7,147.1 144.2,148.0C144.7,148.9 144.5,150.8 143.8,151.5C143.2,152.2 141.2,152.8 140.3,152.3C139.4,151.8 138.1,149.7 138.2,148.7Z"/>
<path fill="#a8f016" d="M143.8,157.2C144.2,156.6 145.1,155.8 145.9,155.8C146.7,155.8 148.4,156.5 148.8,157.2C149.2,157.9 149.0,159.4 148.5,160.0C148.0,160.6 146.5,161.1 145.7,161.0C144.9,160.9 144.1,160.2 143.8,159.6C143.5,159.0 143.5,157.8 143.8,157.2Z"/>
<path fill="#a8f016" d="M131.9,156.5C132.6,155.8 135.1,154.6 136.1,155.1C137.1,155.6 137.1,157.9 138.2,159.3C139.2,160.7 141.3,161.8 142.4,163.5C143.5,165.2 144.3,166.8 144.5,169.2C144.7,171.5 146.0,176.2 143.8,177.6C141.6,179.0 133.2,178.1 131.1,177.6C129.0,177.1 131.1,176.4 131.2,174.6C131.3,172.8 131.4,169.6 131.5,167.1C131.6,164.5 131.7,161.3 131.8,159.5C131.9,157.7 131.2,157.2 131.9,156.5Z"/>
<path fill="#66c20a" d="M133.3,162.1C133.7,160.7 135.8,160.0 136.8,160.7C137.9,161.4 138.8,164.4 139.6,166.3C140.4,168.2 141.8,170.1 141.7,172.0C141.6,173.9 140.2,176.7 138.9,177.6C137.6,178.5 134.7,179.0 134.0,177.6C133.3,176.2 134.8,171.8 134.7,169.2C134.6,166.6 133.0,163.5 133.3,162.1Z"/>
<path fill="#ffd400" d="M147.3,166.3C147.7,164.3 149.1,161.4 150.2,160.7C151.3,160.0 152.9,160.7 153.7,162.1C154.5,163.5 154.8,167.2 155.1,169.2C155.4,171.2 156.4,173.1 155.8,174.1C155.2,175.1 152.9,175.3 151.6,175.1C150.3,174.9 148.8,174.2 148.1,172.7C147.4,171.2 147.0,168.3 147.3,166.3Z"/>
<path fill="#a8f016" d="M153.7,156.5C154.0,155.3 155.7,154.4 156.5,155.1C157.3,155.8 158.2,158.8 158.6,160.7C158.9,162.6 158.1,165.1 158.6,166.3C159.1,167.5 160.0,166.8 161.4,167.7C162.8,168.6 165.8,170.3 167.1,172.0C168.4,173.7 170.6,176.7 169.2,177.6C167.8,178.5 160.8,179.2 158.6,177.6C156.4,175.9 156.5,170.3 155.8,167.7C155.1,165.1 154.8,164.0 154.4,162.1C154.1,160.2 153.3,157.7 153.7,156.5Z"/>
<path fill="#ffd400" d="M164.2,167.0C165.0,166.9 167.8,168.8 169.9,169.9C172.0,171.0 174.7,172.3 176.9,173.4C179.1,174.5 182.8,175.8 183.3,176.5C183.8,177.2 181.7,178.4 179.7,177.9C177.7,177.4 173.8,175.0 171.3,173.7C168.9,172.4 166.2,171.4 165.0,170.3C163.8,169.2 163.4,167.1 164.2,167.0Z"/>
<path fill="#ffff80" d="M144.0,169.3C144.2,168.2 145.8,169.3 147.0,169.3C148.2,169.3 149.9,169.3 151.4,169.3C152.9,169.3 154.6,169.3 155.8,169.3C157.0,169.3 158.4,168.2 158.8,169.3C159.2,170.4 157.9,173.7 158.1,175.6C158.3,177.5 159.1,179.9 160.2,180.6C161.2,181.3 163.2,180.4 164.4,179.9C165.6,179.4 166.0,177.6 167.2,177.7C168.4,177.8 169.9,180.3 171.4,180.6C172.9,180.8 175.2,180.0 176.4,179.2C177.6,178.4 177.4,175.8 178.5,175.6C179.6,175.3 181.5,176.5 182.7,177.7C183.9,178.9 185.9,181.0 185.8,182.7C185.7,184.3 183.6,186.2 182.0,187.6C180.4,188.9 177.9,189.5 176.4,190.8C174.9,192.1 172.5,194.3 172.8,195.4C173.2,196.5 176.4,197.4 178.5,197.5C180.6,197.6 183.4,196.2 185.5,196.1C187.6,196.0 188.5,196.9 191.1,196.8C193.7,196.7 199.3,195.1 201.0,195.4C202.7,195.7 201.0,194.9 201.0,198.4C201.0,201.9 201.0,210.5 201.0,216.5C201.0,222.5 201.0,231.1 201.0,234.6C201.0,238.1 201.5,237.1 201.0,237.6C200.5,238.1 203.1,237.6 198.0,237.6C192.9,237.6 179.8,237.6 170.7,237.6C161.6,237.6 148.4,237.6 143.4,237.6C138.4,237.6 141.2,238.9 140.4,237.6C139.6,236.3 138.1,231.9 138.3,229.9C138.6,227.9 140.1,226.9 141.9,225.6C143.7,224.3 146.6,223.3 148.9,222.1C151.2,220.9 153.8,219.5 155.9,218.6C158.0,217.7 160.2,217.6 161.6,216.5C163.0,215.4 163.8,213.8 164.4,212.3C165.1,210.8 165.7,208.8 165.5,207.3C165.3,205.8 164.6,204.3 163.0,203.1C161.4,201.9 157.3,201.6 155.9,200.3C154.5,199.0 154.6,197.4 154.5,195.4C154.4,193.4 155.7,190.7 155.2,188.3C154.7,186.0 153.2,183.4 151.7,181.3C150.2,179.2 147.4,177.6 146.1,175.6C144.8,173.6 143.8,170.4 144.0,169.3Z"/>
<path fill="#a8f016" d="M155.9,169.3C156.2,168.5 157.0,169.3 158.9,169.3C160.8,169.3 164.4,169.3 167.2,169.3C170.0,169.3 173.6,169.3 175.5,169.3C177.4,169.3 178.2,168.2 178.5,169.3C178.8,170.4 177.6,173.8 177.1,175.6C176.6,177.4 176.9,179.0 175.7,179.9C174.5,180.8 171.7,181.2 170.0,181.0C168.3,180.8 167.0,178.6 165.8,178.7C164.6,178.8 164.2,181.3 163.0,181.5C161.8,181.7 159.8,181.1 158.8,179.9C157.9,178.7 157.8,176.0 157.3,174.2C156.8,172.4 155.6,170.1 155.9,169.3Z"/>
<path fill="#66c20a" d="M169.6,176.3C169.7,175.4 171.1,174.9 172.1,174.9C173.1,174.9 174.9,175.6 175.4,176.3C175.9,177.0 175.7,178.6 175.0,179.2C174.3,179.8 172.3,180.6 171.4,180.1C170.5,179.6 169.5,177.2 169.6,176.3Z"/>
<path fill="#ffd400" d="M147.5,170.7C147.8,170.0 149.0,169.4 150.3,169.3C151.6,169.2 154.3,169.3 155.2,170.0C156.1,170.7 156.4,172.7 155.9,173.5C155.4,174.3 153.7,174.9 152.4,174.9C151.1,174.9 149.0,174.2 148.2,173.5C147.4,172.8 147.2,171.4 147.5,170.7Z"/>
<path fill="#ffd400" d="M178.5,176.3C178.8,175.2 180.4,174.1 181.3,174.2C182.2,174.3 183.7,175.6 184.1,177.0C184.5,178.4 184.4,181.5 183.8,182.7C183.2,183.9 181.4,184.4 180.6,184.1C179.8,183.8 179.5,181.9 179.2,180.6C178.8,179.3 178.2,177.4 178.5,176.3Z"/>
<path fill="#a8f016" d="M172.8,195.4C172.5,194.3 174.9,192.4 176.4,191.1C177.9,189.8 180.4,189.0 182.0,187.6C183.6,186.2 184.5,184.1 185.8,182.7C187.1,181.3 187.9,180.1 189.7,179.2C191.5,178.2 194.9,177.1 196.8,177.0C198.7,176.9 200.3,177.1 201.0,178.5C201.7,179.9 201.7,183.4 201.0,185.5C200.3,187.6 198.5,189.3 196.8,191.1C195.2,192.9 193.2,195.2 191.1,196.1C189.0,197.0 186.2,196.3 184.1,196.5C182.0,196.7 180.4,197.7 178.5,197.5C176.6,197.3 173.2,196.5 172.8,195.4Z"/>
<path fill="#66c20a" d="M186.9,184.1C187.2,182.7 188.8,181.5 190.4,180.6C192.1,179.7 195.4,178.3 196.8,178.5C198.2,178.7 198.9,180.5 198.9,182.0C198.9,183.5 198.0,186.2 196.8,187.6C195.6,189.0 193.3,190.2 191.9,190.4C190.5,190.6 189.1,190.1 188.3,189.0C187.5,187.9 186.6,185.5 186.9,184.1Z"/>
<path fill="#089a08" d="M189.0,184.1C189.6,183.2 191.4,181.7 192.6,181.5C193.8,181.3 195.6,181.8 196.1,182.7C196.6,183.6 196.1,185.8 195.4,186.9C194.7,188.0 192.9,188.9 191.9,189.0C190.9,189.1 189.8,188.0 189.3,187.2C188.8,186.4 188.4,185.0 189.0,184.1Z"/>
<path fill="#ffd400" d="M157.6,195.4C158.1,194.7 160.5,194.2 161.6,194.2C162.7,194.1 164.3,194.5 164.4,195.1C164.5,195.7 163.2,197.4 162.3,197.9C161.4,198.4 159.6,198.6 158.8,198.2C158.0,197.8 157.1,196.1 157.6,195.4Z"/>
<path fill="#ffd400" d="M166.1,191.1C166.5,190.6 167.8,190.2 168.3,190.4C168.8,190.6 169.4,191.7 169.3,192.3C169.2,192.9 168.1,193.8 167.5,193.9C166.9,194.1 166.0,193.7 165.8,193.2C165.6,192.7 165.7,191.6 166.1,191.1Z"/>
<path fill="#66c20a" d="M127.8,186.9C128.2,185.5 128.7,183.2 129.9,181.3C131.1,179.4 133.2,176.8 134.8,175.6C136.4,174.4 138.5,173.5 139.7,174.2C140.9,174.9 140.6,178.2 141.9,179.9C143.2,181.6 146.2,182.5 147.5,184.1C148.8,185.7 149.6,187.6 149.6,189.7C149.6,191.8 147.6,194.7 147.5,196.8C147.4,198.9 147.6,201.1 148.9,202.4C150.2,203.7 153.9,203.3 155.2,204.5C156.5,205.7 156.7,207.9 156.6,209.4C156.5,210.9 156.0,212.5 154.5,213.7C153.0,214.9 149.6,215.3 147.5,216.5C145.4,217.7 143.7,219.4 141.9,220.7C140.1,222.0 138.6,224.0 136.9,224.2C135.2,224.4 133.8,223.0 132.0,222.1C130.2,221.2 128.3,219.5 126.4,218.6C124.5,217.7 122.6,217.3 120.7,216.5C118.8,215.7 117.2,214.4 115.1,213.7C113.0,213.0 108.3,213.7 108.1,212.3C107.9,210.9 110.7,207.1 113.7,205.2C116.8,203.3 124.2,202.2 126.4,201.0C128.6,199.8 126.6,199.2 126.7,198.0C126.8,196.8 127.0,195.3 127.1,193.9C127.2,192.6 127.4,191.1 127.5,189.9C127.6,188.7 127.4,188.3 127.8,186.9Z"/>
<path fill="#089a08" d="M128.5,193.9C129.3,191.6 129.0,190.3 129.9,188.3C130.8,186.3 132.7,183.2 134.1,182.0C135.5,180.8 137.1,180.7 138.3,181.3C139.5,181.9 140.5,183.9 141.1,185.5C141.7,187.1 142.5,189.9 141.9,191.1C141.3,192.3 137.8,191.3 137.6,192.5C137.3,193.7 139.7,196.1 140.4,198.2C141.1,200.3 141.5,203.1 141.9,205.2C142.3,207.3 143.3,209.2 142.6,210.8C141.9,212.5 139.6,214.0 137.6,215.1C135.6,216.2 132.7,216.7 130.6,217.2C128.5,217.7 126.9,218.2 125.0,217.9C123.1,217.6 121.2,216.0 119.3,215.1C117.4,214.2 115.0,213.4 113.7,212.3C112.4,211.2 110.9,210.0 111.6,208.7C112.3,207.4 115.7,205.6 117.9,204.5C120.1,203.4 123.2,204.2 125.0,202.4C126.8,200.6 127.7,196.2 128.5,193.9Z"/>
<path fill="#73b2ff" d="M126.4,205.2C126.6,203.7 127.6,201.0 128.5,199.6C129.4,198.2 130.8,196.9 132.0,196.8C133.2,196.7 134.5,197.5 135.5,198.9C136.5,200.3 137.9,203.6 137.9,205.2C137.9,206.8 136.7,207.9 135.5,208.7C134.3,209.5 132.0,210.1 130.6,210.1C129.2,210.1 127.8,209.5 127.1,208.7C126.4,207.9 126.2,206.7 126.4,205.2Z"/>
<path fill="#73b2ff" d="M114.8,210.1C115.0,209.2 116.4,206.9 117.2,206.6C118.0,206.2 119.3,207.2 119.6,208.0C119.9,208.8 119.6,210.4 119.0,211.1C118.4,211.8 116.9,212.2 116.2,212.0C115.5,211.8 114.6,211.0 114.8,210.1Z"/>
<path fill="#ffd400" d="M201.0,197.5C199.3,197.5 193.9,199.5 191.1,200.3C188.3,201.1 186.2,201.6 184.1,202.4C182.0,203.2 180.3,204.0 178.5,205.2C176.7,206.4 174.9,207.5 173.5,209.4C172.1,211.3 171.1,214.2 170.0,216.5C168.9,218.8 167.7,221.8 167.2,223.5C166.7,225.2 167.1,225.3 167.1,226.5C167.0,227.7 166.9,229.2 166.8,230.6C166.8,231.9 166.7,233.4 166.6,234.6C166.6,235.8 166.0,237.1 166.5,237.6C167.0,238.1 166.6,237.6 169.5,237.6C172.4,237.6 179.0,237.6 183.8,237.6C188.5,237.6 195.1,237.6 198.0,237.6C200.9,237.6 200.5,238.1 201.0,237.6C201.5,237.1 201.0,237.9 201.0,234.6C201.0,231.3 201.0,223.2 201.0,217.6C201.0,211.9 201.0,203.8 201.0,200.5C201.0,197.2 202.7,197.5 201.0,197.5Z"/>
<path fill="#ff9900" d="M201.0,201.7C199.6,201.4 195.2,202.5 192.6,203.1C190.0,203.7 187.5,204.3 185.5,205.2C183.5,206.1 182.1,207.3 180.6,208.7C179.1,210.1 177.7,211.9 176.4,213.7C175.1,215.5 173.9,217.2 172.8,219.3C171.7,221.4 170.6,223.2 170.0,226.3C169.4,229.4 168.9,235.7 169.3,237.6C169.7,239.5 169.7,237.6 172.3,237.6C174.9,237.6 180.9,237.6 185.2,237.6C189.4,237.6 195.4,237.6 198.0,237.6C200.6,237.6 200.5,238.1 201.0,237.6C201.5,237.1 201.0,237.6 201.0,234.6C201.0,231.6 201.0,224.6 201.0,219.6C201.0,214.7 201.0,207.7 201.0,204.7C201.0,201.7 202.4,202.0 201.0,201.7Z"/>
<path fill="#e63c00" d="M182.7,208.0C184.4,207.1 186.7,206.2 186.9,206.6C187.1,206.9 185.3,209.1 184.1,210.1C182.9,211.1 180.9,211.0 179.9,212.3C178.9,213.6 178.0,216.0 177.8,217.9C177.6,219.8 177.9,222.1 178.5,223.5C179.1,224.9 181.3,224.9 181.3,226.3C181.3,227.7 179.7,231.1 178.5,232.0C177.3,232.9 175.4,232.9 174.2,232.0C173.0,231.1 172.0,228.0 171.4,226.3C170.8,224.7 170.3,223.7 170.7,222.1C171.0,220.5 172.6,218.1 173.5,216.5C174.4,214.9 174.9,213.7 176.4,212.3C177.9,210.9 180.9,208.9 182.7,208.0Z"/>
<path fill="#ffff80" d="M196.1,203.1C196.8,202.5 200.2,201.5 201.0,202.1C201.8,202.7 201.7,206.0 201.0,206.6C200.3,207.2 197.6,206.5 196.8,205.9C196.0,205.3 195.4,203.7 196.1,203.1Z"/>
<path fill="#ffd400" d="M197.5,191.1C198.0,189.8 200.4,188.5 201.0,189.7C201.6,190.9 201.5,196.9 201.0,198.2C200.5,199.5 198.8,198.7 198.2,197.5C197.6,196.3 197.0,192.4 197.5,191.1Z"/>
<path fill="#ff9900" d="M199.0,191.1C199.3,190.2 200.7,189.4 201.0,190.4C201.3,191.4 201.3,195.9 201.0,196.8C200.7,197.8 199.6,197.1 199.3,196.1C199.0,195.1 198.7,192.0 199.0,191.1Z"/>
<path fill="#ffd400" d="M148.9,226.3C149.4,225.4 151.1,224.3 152.4,224.2C153.7,224.1 155.8,224.6 156.6,225.6C157.4,226.6 157.6,228.9 157.1,229.9C156.6,230.9 155.1,231.3 153.8,231.3C152.6,231.3 150.4,230.7 149.6,229.9C148.8,229.1 148.4,227.2 148.9,226.3Z"/>
<path fill="#a8f016" d="M141.1,229.9C141.4,229.3 142.6,228.4 143.3,228.5C144.0,228.6 145.3,229.6 145.4,230.3C145.5,231.0 144.6,232.4 144.0,232.7C143.4,233.0 142.1,232.8 141.6,232.3C141.1,231.8 140.8,230.5 141.1,229.9Z"/>
<path fill="#a8f016" d="M158.1,232.0C158.7,230.2 160.0,227.6 160.9,227.0C161.8,226.4 163.3,226.7 163.7,228.5C164.0,230.3 164.0,236.1 163.0,237.6C162.0,239.1 158.4,238.5 157.6,237.6C156.8,236.7 157.5,233.8 158.1,232.0Z"/>
<path fill="#a8f016" d="M158.9,166.9C160.4,166.6 164.9,167.2 168.1,168.3C171.3,169.4 176.4,171.1 177.9,173.2C179.4,175.3 178.1,178.8 177.2,181.0C176.3,183.2 174.3,185.9 172.3,186.6C170.3,187.3 167.4,185.2 165.2,185.2C163.0,185.2 159.9,186.9 158.9,186.6C157.9,186.3 158.9,185.2 158.9,183.6C158.9,182.0 158.9,179.0 158.9,176.8C158.9,174.5 158.9,171.5 158.9,169.9C158.9,168.3 157.4,167.2 158.9,166.9Z"/>
<path fill="#66c20a" d="M169.5,176.1C169.6,175.1 171.2,174.2 172.3,174.2C173.4,174.2 175.3,175.3 175.8,176.1C176.3,176.9 175.8,178.3 175.1,178.9C174.4,179.5 172.5,180.4 171.6,179.9C170.7,179.4 169.4,177.1 169.5,176.1Z"/>
<path fill="#a8f016" d="M158.9,197.9C159.8,197.5 163.2,197.2 164.5,198.6C165.8,200.0 166.7,203.1 166.6,206.3C166.5,209.5 165.1,215.7 163.8,217.6C162.5,219.5 159.7,218.1 158.9,217.6C158.1,217.1 158.9,216.2 158.9,214.6C158.9,213.0 158.9,210.0 158.9,207.8C158.9,205.5 158.9,202.5 158.9,200.9C158.9,199.3 158.0,198.3 158.9,197.9Z"/>
<path fill="#a8f016" d="M173.0,195.1C173.7,193.9 176.2,192.5 177.9,190.8C179.7,189.2 181.8,186.9 183.5,185.2C185.2,183.4 186.2,181.6 187.8,180.3C189.5,179.0 191.3,178.2 193.4,177.5C195.5,176.8 198.4,176.1 200.4,176.1C202.4,176.1 204.9,176.6 205.4,177.5C205.9,178.4 204.4,180.2 203.3,181.7C202.2,183.2 200.4,184.8 199.0,186.6C197.6,188.4 196.7,190.5 194.8,192.3C192.9,194.1 190.4,196.1 187.8,197.2C185.2,198.2 181.7,198.5 179.3,198.6C177.0,198.7 174.8,198.5 173.7,197.9C172.6,197.3 172.3,196.3 173.0,195.1Z"/>
<path fill="#66c20a" d="M187.1,185.2C187.2,183.6 187.9,182.2 189.2,181.0C190.5,179.8 193.3,178.3 194.8,178.2C196.3,178.1 198.0,178.9 198.3,180.3C198.7,181.7 197.8,184.8 196.9,186.6C196.0,188.3 194.1,190.1 192.7,190.8C191.3,191.5 189.4,191.7 188.5,190.8C187.6,189.9 187.0,186.8 187.1,185.2Z"/>
<path fill="#089a08" d="M189.5,185.9C189.6,184.9 190.4,183.2 191.3,182.4C192.2,181.6 194.0,181.0 194.8,181.3C195.6,181.7 196.0,183.4 195.9,184.5C195.8,185.6 194.9,187.3 194.1,188.0C193.3,188.7 191.7,189.0 190.9,188.7C190.1,188.3 189.4,186.9 189.5,185.9Z"/>
<path fill="#ffd400" d="M196.9,174.6C197.2,173.9 200.2,171.3 201.9,169.7C203.6,168.1 204.8,166.1 206.8,165.2C208.8,164.3 211.6,163.3 213.8,164.1C216.0,164.8 219.8,167.3 220.2,169.7C220.5,172.0 217.1,175.4 215.9,178.2C214.7,181.0 213.8,184.2 213.1,186.6C212.4,188.9 212.8,190.3 211.7,192.3C210.6,194.3 208.2,197.4 206.8,198.6C205.4,199.8 203.8,197.1 203.5,199.3C203.2,201.5 206.4,210.4 204.7,212.0C203.0,213.6 196.7,209.2 193.4,208.9C190.1,208.6 187.1,208.5 185.0,209.9C182.9,211.3 183.2,216.3 180.7,217.6C178.2,218.9 171.4,218.6 170.2,217.6C169.0,216.6 172.3,213.1 173.7,211.3C175.1,209.5 177.1,208.1 178.6,207.0C180.1,205.9 181.0,205.2 182.8,204.6C184.6,204.0 187.1,204.1 189.2,203.2C191.3,202.3 194.0,200.9 195.5,199.3C197.0,197.7 197.2,195.6 198.3,193.7C199.4,191.8 200.6,189.8 201.9,188.0C203.2,186.2 204.9,184.8 206.1,183.1C207.3,181.3 208.6,179.5 208.9,177.5C209.2,175.5 208.9,172.2 208.2,171.1C207.5,170.0 206.0,170.6 204.7,171.1C203.4,171.6 201.7,173.3 200.4,173.9C199.1,174.5 196.7,175.3 196.9,174.6Z"/>
<path fill="#ff9900" d="M213.1,166.2C214.4,165.8 219.7,167.0 220.2,169.0C220.7,171.0 217.1,175.3 215.9,178.2C214.7,181.1 213.8,184.2 213.1,186.6C212.4,188.9 212.8,190.3 211.7,192.3C210.6,194.3 208.2,197.4 206.8,198.6C205.4,199.8 204.3,199.9 203.5,199.3C202.7,198.7 202.7,196.3 201.9,195.1C201.2,193.9 199.1,193.5 199.0,192.3C198.9,191.1 199.9,189.1 201.1,188.0C202.3,186.9 204.7,186.8 206.1,185.9C207.5,185.0 208.7,183.9 209.6,182.4C210.5,180.9 211.2,178.7 211.7,176.8C212.2,174.9 212.2,172.9 212.4,171.1C212.6,169.3 211.8,166.5 213.1,166.2Z"/>
<path fill="#ffd400" d="M204.0,188.7C204.1,188.1 205.6,187.1 206.1,187.3C206.6,187.5 207.3,189.1 207.2,189.7C207.1,190.3 205.9,191.3 205.4,191.1C204.9,190.9 203.9,189.3 204.0,188.7Z"/>
<path fill="#e63c00" d="M215.2,169.0C215.9,168.3 219.3,168.6 219.5,169.7C219.7,170.8 217.3,174.7 216.6,175.4C215.9,176.1 215.4,175.0 215.2,173.9C215.0,172.8 214.5,169.7 215.2,169.0Z"/>
<path fill="#e63c00" d="M199.3,192.3C199.3,191.1 201.0,189.4 201.9,189.4C202.8,189.4 203.9,191.2 204.7,192.3C205.5,193.4 206.9,194.8 206.8,195.8C206.8,196.9 205.2,198.5 204.4,198.6C203.6,198.7 202.8,197.6 201.9,196.5C201.1,195.4 199.3,193.5 199.3,192.3Z"/>
<path fill="#ff9900" d="M175.1,212.0C176.0,210.3 177.7,208.8 179.3,207.7C181.0,206.6 182.9,206.2 185.0,205.6C187.1,205.0 189.9,204.2 192.0,204.2C194.1,204.2 195.9,205.2 197.6,205.6C199.2,205.9 201.2,205.7 201.9,206.3C202.6,206.9 203.3,208.8 201.9,209.2C200.5,209.6 196.2,208.7 193.4,208.9C190.6,209.1 187.1,208.9 185.0,210.3C182.9,211.8 182.6,216.4 180.7,217.6C178.8,218.8 174.6,218.5 173.7,217.6C172.8,216.7 174.2,213.7 175.1,212.0Z"/>
<path fill="#e63c00" d="M177.9,212.0C178.8,210.6 180.7,209.5 182.1,209.2C183.5,208.8 186.3,209.2 186.4,209.9C186.5,210.6 183.8,212.1 182.8,213.4C181.9,214.7 181.8,216.9 180.7,217.6C179.6,218.3 177.0,218.5 176.5,217.6C176.0,216.7 177.0,213.4 177.9,212.0Z"/>
<path fill="#ffff80" d="M195.5,203.5C196.4,203.0 200.1,202.5 201.1,202.8C202.1,203.1 202.5,204.7 201.6,205.2C200.7,205.7 196.9,205.9 195.9,205.6C194.9,205.3 194.6,204.0 195.5,203.5Z"/>
<path fill="#ff9900" d="M178.6,176.1C179.1,175.1 181.4,174.9 182.1,175.4C182.8,175.9 183.0,177.5 182.8,178.9C182.6,180.3 181.3,183.3 180.7,183.8C180.1,184.3 179.3,183.0 179.0,181.7C178.7,180.4 178.1,177.1 178.6,176.1Z"/>
<path fill="#ffd400" d="M165.9,191.1C166.0,190.5 167.3,189.9 167.8,190.1C168.3,190.2 169.0,191.4 168.9,192.0C168.8,192.6 167.8,193.8 167.3,193.7C166.8,193.5 165.8,191.7 165.9,191.1Z"/>
<path fill="#ff9900" d="M200.4,210.6C200.9,209.6 203.4,209.2 203.8,209.7C204.2,210.2 203.3,212.4 202.8,213.4C202.3,214.4 201.1,215.9 200.7,215.4C200.3,214.9 199.9,211.6 200.4,210.6Z"/>
<path fill="#ffff80" d="M118.9,224.3C119.3,223.8 118.0,224.3 121.9,224.3C125.8,224.3 135.6,224.3 142.5,224.3C149.4,224.3 159.2,224.3 163.1,224.3C167.0,224.3 165.6,223.8 166.1,224.3C166.6,224.8 166.0,225.5 165.9,227.3C165.8,229.1 165.6,232.6 165.4,235.2C165.2,237.8 165.0,241.3 164.9,243.1C164.8,244.9 165.2,244.0 164.7,246.1C164.2,248.2 162.8,254.2 161.9,256.0C161.0,257.8 160.2,256.5 159.0,256.9C157.8,257.2 156.2,257.7 154.9,258.1C153.5,258.5 151.9,259.0 150.7,259.3C149.5,259.7 149.5,258.9 147.8,260.2C146.1,261.5 142.6,264.7 140.7,267.3C138.8,269.9 139.3,274.8 136.5,275.7C133.7,276.6 126.0,273.9 123.8,272.9C121.6,271.9 123.9,274.0 123.5,269.9C123.1,265.9 122.1,255.7 121.3,248.6C120.6,241.5 119.6,231.3 119.2,227.3C118.8,223.2 118.5,224.8 118.9,224.3Z"/>
<g clip-path="url(#c4)">
<path fill="#a8f016" d="M115.0,215.0C115.2,215.9 117.2,217.9 119.2,219.7C121.2,221.5 124.0,223.8 127.0,225.6C130.0,227.4 134.2,230.4 137.0,230.6C139.8,230.8 141.5,227.9 143.8,226.6C146.1,225.3 148.2,223.8 150.7,222.7C153.2,221.5 156.3,220.5 158.6,219.7C160.9,218.9 164.3,219.3 164.5,217.7C164.7,216.1 161.2,211.3 160.0,210.0C158.8,208.7 159.5,210.0 157.0,210.0C154.5,210.0 149.0,210.0 145.0,210.0C141.0,210.0 135.5,210.0 133.0,210.0C130.5,210.0 131.0,209.8 130.0,210.0C129.0,210.2 128.4,210.5 127.2,210.9C125.9,211.4 124.1,212.0 122.5,212.5C120.9,213.0 119.1,213.6 117.8,214.1C116.6,214.5 114.8,214.1 115.0,215.0Z"/>
<path fill="#66c20a" d="M118.0,214.0C116.7,215.1 120.3,217.1 122.1,218.7C123.9,220.3 126.7,222.2 129.0,223.7C131.3,225.2 134.0,227.6 136.0,227.6C138.0,227.6 138.8,224.8 140.9,223.7C143.0,222.5 147.3,222.3 148.8,220.7C150.3,219.1 150.3,215.2 150.0,214.0C149.7,212.8 148.7,213.9 147.0,213.7C145.3,213.5 142.3,213.2 140.0,213.0C137.7,212.8 134.7,212.5 133.0,212.3C131.3,212.1 132.5,211.7 130.0,212.0C127.5,212.3 119.3,212.9 118.0,214.0Z"/>
</g>
<path fill="#a8f016" d="M140.7,229.9C140.8,229.3 142.8,228.7 143.5,228.9C144.2,229.1 145.3,230.3 145.2,230.9C145.1,231.5 143.6,232.5 142.8,232.3C142.1,232.1 140.6,230.5 140.7,229.9Z"/>
<path fill="#a8f016" d="M156.9,233.5C157.4,231.8 158.8,229.0 159.7,227.8C160.6,226.6 161.8,225.7 162.6,226.4C163.4,227.1 164.3,230.0 164.4,232.0C164.5,234.0 164.1,237.0 163.3,238.4C162.5,239.8 160.8,240.3 159.7,240.2C158.6,240.1 157.4,238.8 156.9,237.7C156.4,236.6 156.4,235.2 156.9,233.5Z"/>
<path fill="#ffd400" d="M149.5,226.4C149.7,225.4 151.5,224.4 152.7,224.3C153.9,224.2 156.0,224.8 156.5,225.7C157.0,226.6 156.4,229.1 155.5,229.9C154.6,230.7 152.3,231.2 151.3,230.6C150.3,230.0 149.3,227.4 149.5,226.4Z"/>
<path fill="#ffd400" d="M143.5,241.9C144.0,240.7 146.7,240.2 147.8,239.1C148.9,238.0 148.9,235.9 149.9,235.6C150.9,235.2 153.4,235.9 154.1,237.0C154.8,238.1 154.8,240.6 154.1,241.9C153.4,243.2 151.4,244.0 149.9,244.7C148.4,245.4 146.1,246.6 145.0,246.1C143.9,245.6 143.0,243.1 143.5,241.9Z"/>
<path fill="#a8f016" d="M134.4,263.0C134.6,261.0 135.9,258.7 137.2,256.7C138.5,254.7 140.2,252.6 142.1,251.1C144.0,249.6 146.6,248.1 148.5,247.5C150.4,246.9 152.6,246.5 153.4,247.3C154.2,248.1 153.8,250.9 153.1,252.5C152.4,254.1 150.7,255.2 149.2,256.7C147.7,258.2 145.8,260.0 144.2,261.6C142.5,263.2 140.7,265.3 139.3,266.5C137.9,267.7 136.6,269.3 135.8,268.7C135.0,268.1 134.2,265.0 134.4,263.0Z"/>
<path fill="#66c20a" d="M136.2,262.3C136.3,260.8 138.0,257.9 139.3,256.0C140.6,254.1 142.4,252.2 144.2,251.1C146.0,250.0 148.7,249.0 149.9,249.2C151.1,249.4 151.7,251.2 151.3,252.5C151.0,253.8 149.2,255.3 147.8,256.7C146.4,258.1 144.3,259.5 142.8,260.9C141.3,262.3 139.7,264.9 138.6,265.1C137.5,265.3 136.1,263.8 136.2,262.3Z"/>
<path fill="#089a08" d="M141.9,254.6C142.3,253.8 143.9,252.5 145.0,252.0C146.1,251.5 147.9,251.4 148.5,251.8C149.1,252.2 149.0,253.6 148.5,254.3C148.0,255.1 146.6,255.9 145.7,256.3C144.8,256.7 143.4,257.0 142.8,256.7C142.2,256.4 141.5,255.4 141.9,254.6Z"/>
<path fill="#ffd400" d="M163.3,234.9C163.6,232.8 165.2,229.6 166.1,227.8C167.0,226.0 167.9,224.9 168.9,224.3C169.9,223.7 170.7,224.3 171.9,224.3C173.1,224.3 174.6,224.3 175.9,224.3C177.3,224.3 178.8,224.3 180.0,224.3C181.2,224.3 182.7,223.8 183.0,224.3C183.3,224.8 182.3,225.8 181.7,227.0C181.1,228.2 180.2,230.1 179.4,231.7C178.7,233.3 177.8,235.2 177.2,236.4C176.6,237.6 176.6,237.8 175.9,239.1C175.2,240.4 173.6,242.6 172.8,244.0C172.0,245.4 171.9,247.4 171.0,247.5C170.1,247.6 168.6,245.9 167.5,244.7C166.4,243.5 165.1,242.1 164.4,240.5C163.7,238.9 163.0,237.0 163.3,234.9Z"/>
<path fill="#ff9900" d="M166.1,233.5C166.2,231.7 167.4,229.3 168.2,227.8C169.0,226.3 168.5,224.9 171.0,224.3C173.5,223.7 181.6,223.0 183.0,224.3C184.4,225.6 180.7,229.5 179.5,232.0C178.3,234.5 177.0,237.1 175.9,239.1C174.8,241.1 173.9,243.4 172.8,244.0C171.8,244.6 170.5,243.5 169.6,242.6C168.7,241.7 168.1,239.9 167.5,238.4C166.9,236.9 166.0,235.3 166.1,233.5Z"/>
<path fill="#e63c00" d="M172.4,224.3C173.8,223.4 179.7,223.6 180.9,224.3C182.1,225.0 180.3,227.3 179.5,228.5C178.7,229.7 177.0,231.1 175.9,231.3C174.8,231.5 173.4,231.1 172.8,229.9C172.2,228.7 171.1,225.2 172.4,224.3Z"/>
<path fill="#ffd400" d="M161.9,251.1C162.1,250.2 163.6,249.4 164.7,249.2C165.8,248.9 167.8,248.9 168.2,249.6C168.5,250.3 167.6,252.4 166.8,253.2C166.0,254.0 164.1,254.9 163.3,254.6C162.5,254.2 161.7,252.0 161.9,251.1Z"/>
<path fill="#ffd400" d="M138.6,273.6C139.1,271.4 140.7,269.2 142.1,267.3C143.5,265.4 145.6,263.4 147.1,261.9C148.6,260.4 149.7,259.0 151.3,258.1C152.9,257.2 155.0,256.5 156.5,256.7C158.0,256.9 159.9,258.0 160.4,259.5C160.9,261.0 160.8,263.8 159.7,265.8C158.6,267.8 156.0,269.7 154.1,271.5C152.2,273.3 150.3,274.9 148.5,276.4C146.7,277.8 145.0,279.5 143.5,280.2C142.0,280.9 140.1,281.7 139.3,280.6C138.5,279.5 138.1,275.8 138.6,273.6Z"/>
<path fill="#ff9900" d="M140.7,279.2C139.9,278.6 139.1,276.1 139.3,274.3C139.5,272.6 140.9,270.5 142.1,268.7C143.3,266.9 145.0,265.2 146.4,263.7C147.8,262.2 149.1,260.4 150.6,259.5C152.1,258.6 154.4,258.1 155.5,258.5C156.6,258.9 157.2,260.1 157.3,261.6C157.4,263.1 157.0,265.7 156.2,267.3C155.4,268.9 154.1,270.2 152.7,271.5C151.3,272.8 149.2,273.9 147.8,275.0C146.4,276.1 145.4,277.1 144.2,277.8C143.0,278.5 141.5,279.8 140.7,279.2Z"/>
<path fill="#ffd400" d="M152.0,267.3C152.2,266.7 153.6,266.2 154.1,266.5C154.6,266.8 155.0,268.3 154.8,268.9C154.6,269.5 153.2,270.4 152.7,270.1C152.2,269.8 151.8,267.9 152.0,267.3Z"/>
<path fill="#ffd400" d="M141.4,274.3C141.7,273.8 143.3,273.3 143.8,273.6C144.3,273.9 144.5,275.5 144.2,276.0C143.9,276.5 142.6,276.8 142.1,276.5C141.6,276.2 141.1,274.8 141.4,274.3Z"/>
<path fill="#e63c00" d="M143.5,268.0C143.7,267.5 145.2,267.1 145.7,267.3C146.2,267.5 146.6,268.9 146.4,269.4C146.2,269.9 144.9,270.3 144.4,270.1C143.9,269.9 143.3,268.5 143.5,268.0Z"/>
<path fill="#e63c00" d="M176.4,209.2C177.9,208.0 181.4,205.5 182.3,206.2C183.2,206.8 182.6,211.3 181.9,213.1C181.2,214.9 178.5,215.4 178.0,217.1C177.5,218.8 178.0,221.7 178.8,223.0C179.6,224.3 182.4,223.7 182.7,225.0C183.0,226.3 181.8,229.5 180.7,230.9C179.6,232.3 177.8,233.5 176.4,233.2C175.0,232.9 173.7,230.3 172.4,229.3C171.1,228.3 169.3,228.7 168.5,227.3C167.7,225.9 167.2,222.7 167.5,221.0C167.8,219.3 169.5,218.4 170.5,217.1C171.5,215.8 172.4,214.4 173.4,213.1C174.4,211.8 174.9,210.3 176.4,209.2Z"/>
<path fill="#e63c00" d="M198.1,192.4C198.8,190.9 200.7,189.5 202.0,188.5C203.3,187.5 205.0,186.2 206.0,186.5C207.0,186.8 208.1,188.8 207.9,190.4C207.7,192.1 206.2,194.8 205.0,196.4C203.8,198.1 202.2,200.2 201.0,200.3C199.8,200.5 198.2,198.6 197.7,197.3C197.2,196.0 197.4,193.9 198.1,192.4Z"/>
<path fill="#ffff80" d="M143.8,118.5C145.0,116.8 150.2,116.8 151.6,118.5C153.0,120.2 153.5,127.2 152.3,129.0C151.1,130.8 145.9,130.8 144.5,129.0C143.1,127.2 142.6,120.2 143.8,118.5Z"/>
<g clip-path="url(#c5)">
<path fill="#089a08" d="M31.5,324.5C31.0,324.0 31.5,329.7 31.5,321.5C31.5,313.3 31.5,290.6 31.5,275.2C31.5,259.8 31.5,237.1 31.5,228.9C31.5,220.7 31.0,226.4 31.5,225.9C32.0,225.4 23.9,225.9 34.5,225.9C45.1,225.9 74.8,225.9 94.9,225.9C115.0,225.9 144.7,225.9 155.3,225.9C165.9,225.9 157.8,225.4 158.3,225.9C158.8,226.4 158.3,220.7 158.3,228.9C158.3,237.1 158.3,259.8 158.3,275.2C158.3,290.6 158.3,313.3 158.3,321.5C158.3,329.7 158.8,324.0 158.3,324.5C157.8,325.0 165.9,324.5 155.3,324.5C144.7,324.5 115.0,324.5 94.9,324.5C74.8,324.5 45.1,324.5 34.5,324.5C23.9,324.5 32.0,325.0 31.5,324.5Z"/>
<path fill="#66c20a" d="M92.8,261.1C92.2,262.7 91.7,262.8 90.7,263.9C89.8,265.0 88.3,266.2 87.1,267.5C85.9,268.8 84.4,270.2 83.6,271.7C82.8,273.2 82.6,274.8 82.5,276.6C82.4,278.4 83.0,280.4 83.1,282.3C83.2,284.2 83.6,286.2 83.3,287.9C83.0,289.6 82.6,291.0 81.5,292.4C80.4,293.8 78.5,294.9 76.9,296.3C75.3,297.7 73.4,299.1 71.7,300.6C70.0,302.1 68.2,303.4 66.7,305.5C65.2,307.6 62.7,311.9 62.5,313.2C62.3,314.5 56.3,312.6 65.5,313.5C74.6,314.4 100.1,317.1 117.5,318.9C134.8,320.6 160.3,323.3 169.4,324.2C178.6,325.1 171.9,324.9 172.4,324.5C172.9,324.1 172.4,329.7 172.4,321.5C172.4,313.3 172.4,290.6 172.4,275.2C172.4,259.8 172.4,237.1 172.4,228.9C172.4,220.7 172.9,226.4 172.4,225.9C171.9,225.4 175.3,225.9 169.4,225.9C163.5,225.9 147.9,225.9 137.2,225.9C126.4,225.9 110.8,225.9 104.9,225.9C99.0,225.9 102.5,225.4 101.9,225.9C101.3,226.4 101.8,226.4 101.1,228.8C100.5,231.1 99.1,236.3 98.1,240.0C97.0,243.7 95.6,248.9 95.0,251.2C94.3,253.6 94.6,252.5 94.2,254.1C93.8,255.7 93.4,259.5 92.8,261.1Z"/>
<path fill="#089a08" d="M97.0,270.3C97.6,269.1 98.5,267.9 99.8,268.2C101.1,268.5 103.3,271.8 104.8,272.4C106.3,273.0 107.7,272.1 109.0,271.7C110.3,271.3 112.2,269.6 112.5,269.9C112.8,270.1 111.8,272.4 110.7,273.2C109.7,274.0 107.7,273.9 106.2,274.6C104.7,275.3 103.2,276.7 101.9,277.3C100.6,277.9 99.3,278.4 98.4,278.0C97.5,277.6 96.5,276.5 96.3,275.2C96.1,273.9 96.4,271.5 97.0,270.3Z"/>
<path fill="#a8f016" d="M86.2,273.1C86.2,271.8 87.3,270.4 87.9,270.3C88.5,270.2 89.7,271.3 90.0,272.4C90.3,273.4 89.9,275.7 89.5,276.6C89.1,277.5 88.1,278.6 87.6,278.0C87.0,277.4 86.2,274.4 86.2,273.1Z"/>
<path fill="#a8f016" d="M124.5,268.2C122.8,268.2 118.1,269.5 116.0,270.3C113.9,271.1 113.2,272.4 111.8,273.1C110.4,273.8 108.6,273.3 107.6,274.5C106.5,275.7 106.5,278.2 105.5,280.1C104.5,282.0 103.1,284.4 101.9,285.8C100.7,287.2 99.8,287.5 98.4,288.6C97.0,289.7 95.2,291.3 93.5,292.4C91.8,293.5 89.8,294.3 87.9,295.2C86.0,296.1 84.0,296.7 82.2,297.7C80.4,298.7 78.7,300.1 77.3,301.3C75.9,302.5 75.1,302.8 73.8,304.8C72.5,306.8 69.7,311.7 69.5,313.2C69.3,314.7 63.9,312.6 72.5,313.5C81.1,314.5 104.8,317.1 121.0,318.9C137.1,320.6 160.8,323.2 169.4,324.2C178.0,325.1 172.2,324.8 172.4,324.5C172.6,324.2 174.4,326.9 170.5,322.2C166.5,317.5 155.8,305.0 148.4,296.4C141.1,287.7 130.4,275.2 126.4,270.5C122.5,265.8 126.2,268.2 124.5,268.2Z"/>
<path fill="#ffff80" d="M124.5,271.7C122.9,271.6 118.7,272.6 116.7,273.1C114.7,273.6 113.8,273.9 112.5,274.5C111.2,275.1 109.9,275.6 109.0,276.9C108.1,278.2 107.7,280.6 106.9,282.3C106.1,284.0 105.3,285.7 104.1,287.2C102.9,288.7 101.3,290.2 99.8,291.4C98.3,292.6 96.7,293.2 94.9,294.2C93.2,295.2 91.0,296.4 89.3,297.5C87.6,298.6 86.3,299.5 85.0,300.6C83.7,301.7 82.8,302.0 81.5,304.1C80.2,306.2 77.5,311.6 77.3,313.2C77.1,314.8 72.4,312.6 80.3,313.6C88.2,314.5 110.0,317.1 124.8,318.9C139.7,320.6 161.5,323.2 169.4,324.1C177.3,325.1 172.2,324.8 172.4,324.5C172.6,324.2 174.4,326.7 170.4,322.3C166.4,317.9 155.8,306.2 148.4,298.1C141.1,290.0 130.5,278.3 126.5,273.9C122.5,269.5 126.1,271.8 124.5,271.7Z"/>
<path fill="#ffd400" d="M124.5,274.5C123.0,274.3 119.3,275.0 117.4,275.2C115.5,275.4 114.4,275.0 113.2,275.5C112.0,276.0 111.2,276.8 110.4,278.0C109.6,279.2 109.0,281.4 108.3,283.0C107.6,284.6 107.3,286.3 106.2,287.9C105.1,289.5 103.4,291.1 101.9,292.4C100.4,293.7 98.6,294.5 97.0,295.6C95.4,296.7 93.5,298.0 92.1,299.2C90.7,300.4 89.9,300.4 88.6,302.7C87.3,305.0 84.5,311.4 84.3,313.2C84.1,315.0 79.9,312.6 87.3,313.6C94.6,314.5 114.7,317.1 128.3,318.9C142.0,320.6 162.1,323.2 169.4,324.1C176.8,325.1 172.2,324.8 172.4,324.5C172.6,324.2 174.3,326.5 170.3,322.3C166.3,318.2 155.7,307.1 148.4,299.5C141.2,291.9 130.6,280.8 126.6,276.7C122.6,272.5 126.0,274.7 124.5,274.5Z"/>
<path fill="#ff9900" d="M124.5,277.3C123.1,276.9 119.8,277.5 118.1,277.3C116.4,277.1 115.6,276.0 114.6,276.3C113.5,276.6 112.6,278.2 111.8,279.4C111.0,280.6 110.4,282.2 109.7,283.7C109.0,285.2 108.1,287.0 107.6,288.6C107.1,290.2 107.6,292.2 106.9,293.5C106.2,294.8 104.6,295.4 103.3,296.3C102.0,297.2 100.4,298.1 99.1,299.2C97.8,300.3 96.9,300.4 95.6,302.7C94.3,305.0 91.6,311.4 91.4,313.2C91.2,315.0 87.6,312.7 94.4,313.6C101.1,314.6 119.4,317.1 131.9,318.9C144.4,320.6 162.7,323.1 169.4,324.1C176.2,325.0 172.3,324.8 172.4,324.5C172.5,324.2 174.3,326.3 170.3,322.4C166.3,318.5 155.7,308.1 148.4,300.9C141.2,293.7 130.6,283.3 126.6,279.4C122.6,275.5 125.9,277.7 124.5,277.3Z"/>
<path fill="#e63c00" d="M109.7,289.3C110.2,287.3 111.6,283.7 112.5,282.3C113.4,280.9 114.1,280.7 115.3,280.8C116.5,280.9 119.3,281.8 119.5,283.0C119.7,284.2 118.0,286.1 116.7,287.9C115.4,289.6 113.0,292.4 111.8,293.5C110.6,294.6 110.0,294.9 109.7,294.2C109.4,293.5 109.2,291.3 109.7,289.3Z"/>
<path fill="#a8f016" d="M109.0,258.3C109.3,256.3 110.9,253.6 111.8,253.4C112.7,253.2 113.5,255.6 114.6,256.9C115.6,258.2 116.8,259.7 118.1,261.1C119.4,262.5 122.3,264.2 122.4,265.4C122.5,266.6 120.3,267.8 118.8,268.2C117.3,268.6 114.7,268.0 113.2,267.5C111.7,267.0 110.4,266.9 109.7,265.4C109.0,263.9 108.7,260.3 109.0,258.3Z"/>
<path fill="#ffff80" d="M109.7,256.9C109.7,255.7 111.2,254.0 111.8,254.1C112.4,254.2 113.5,256.4 113.5,257.6C113.5,258.8 112.4,261.2 111.8,261.1C111.2,261.0 109.7,258.1 109.7,256.9Z"/>
<path fill="#73b2ff" d="M73.1,265.4C74.3,264.4 77.6,264.2 78.7,265.1C79.8,266.0 79.9,268.9 79.7,271.0C79.5,273.1 78.5,276.1 77.3,278.0C76.1,279.9 73.9,280.8 72.4,282.3C70.9,283.8 69.6,286.0 68.1,287.2C66.6,288.4 64.6,289.3 63.2,289.3C61.8,289.3 59.6,288.4 59.7,287.2C59.8,286.0 62.4,284.1 63.9,282.3C65.4,280.5 67.5,278.5 68.8,276.6C70.1,274.7 71.0,272.9 71.7,271.0C72.4,269.1 71.9,266.4 73.1,265.4Z"/>
<path fill="#73b2ff" d="M54.1,299.2C54.8,298.2 56.2,295.8 57.6,296.3C59.0,296.8 61.3,299.2 62.5,302.0C63.7,304.8 64.8,311.3 64.6,313.2C64.4,315.1 62.8,313.2 61.6,313.2C60.4,313.2 58.7,313.2 57.2,313.2C55.7,313.2 54.0,313.2 52.8,313.2C51.6,313.2 50.2,313.7 49.8,313.2C49.4,312.7 50.3,311.5 50.7,310.3C51.0,309.2 51.5,307.6 52.0,306.2C52.4,304.8 52.9,303.2 53.2,302.1C53.6,300.9 53.4,300.2 54.1,299.2Z"/>
<path fill="#73b2ff" d="M99.8,268.9C100.1,267.7 101.9,266.8 103.3,266.1C104.7,265.4 107.3,264.4 108.3,264.6C109.2,264.8 109.5,266.3 109.0,267.5C108.5,268.7 106.8,270.8 105.5,271.7C104.2,272.6 102.2,273.6 101.2,273.1C100.2,272.6 99.5,270.1 99.8,268.9Z"/>
<path fill="#66c20a" d="M73.1,256.9C73.3,256.1 74.7,254.9 75.5,254.8C76.3,254.7 77.7,255.5 78.0,256.2C78.3,256.9 77.9,258.5 77.3,259.0C76.7,259.5 74.9,259.8 74.2,259.4C73.5,259.0 72.9,257.7 73.1,256.9Z"/>
</g>
<g clip-path="url(#c6)">
<path fill="#73b2ff" d="M-28.5,275.9C-28.0,275.4 -36.1,275.9 -25.5,275.9C-14.9,275.9 14.8,275.9 34.9,275.9C55.0,275.9 84.7,275.9 95.3,275.9C105.9,275.9 97.8,275.4 98.3,275.9C98.8,276.4 98.3,270.7 98.3,278.9C98.3,287.1 98.3,309.8 98.3,325.2C98.3,340.6 98.3,363.3 98.3,371.5C98.3,379.7 98.8,374.0 98.3,374.5C97.8,375.0 105.9,374.5 95.3,374.5C84.7,374.5 55.0,374.5 34.9,374.5C14.8,374.5 -14.9,374.5 -25.5,374.5C-36.1,374.5 -28.0,375.0 -28.5,374.5C-29.0,374.0 -28.5,379.7 -28.5,371.5C-28.5,363.3 -28.5,340.6 -28.5,325.2C-28.5,309.8 -28.5,287.1 -28.5,278.9C-28.5,270.7 -29.0,276.4 -28.5,275.9Z"/>
<path fill="#089a08" d="M53.2,275.9C52.8,276.4 53.4,277.1 53.7,278.9C54.0,280.6 54.5,283.9 55.0,286.4C55.4,289.0 55.9,292.3 56.2,294.0C56.5,295.8 55.8,295.6 56.7,297.0C57.6,298.4 60.5,300.9 61.7,302.7C62.9,304.5 63.9,305.9 63.8,307.6C63.7,309.4 62.5,311.6 61.0,313.2C59.5,314.8 56.8,316.1 54.6,317.5C52.4,318.9 50.0,320.3 47.6,321.7C45.2,323.1 42.9,324.5 40.5,325.9C38.1,327.3 35.9,328.8 33.5,330.1C31.1,331.4 28.8,332.6 26.4,333.9C24.0,335.2 21.1,336.6 19.4,337.9C17.6,339.1 16.7,340.0 15.9,341.4C15.1,342.8 15.0,344.5 14.5,346.3C14.0,348.1 14.6,350.8 13.1,352.0C11.6,353.2 7.5,352.9 5.3,353.4C3.1,353.9 1.6,353.5 -0.3,355.1C-2.2,356.7 -5.5,361.8 -5.9,363.2C-6.3,364.6 -12.8,362.5 -2.9,363.5C6.9,364.4 34.5,367.1 53.3,368.9C72.0,370.6 99.6,373.3 109.4,374.2C119.3,375.2 111.9,375.0 112.4,374.5C112.9,374.0 112.4,379.7 112.4,371.5C112.4,363.3 112.4,340.6 112.4,325.2C112.4,309.8 112.4,287.1 112.4,278.9C112.4,270.7 112.9,276.4 112.4,275.9C111.9,275.4 114.3,275.9 109.4,275.9C104.5,275.9 91.7,275.9 82.8,275.9C73.9,275.9 61.1,275.9 56.2,275.9C51.3,275.9 53.6,275.4 53.2,275.9Z"/>
<path fill="#66c20a" d="M80.0,275.9C79.4,276.4 79.6,277.7 79.4,278.8C79.2,280.0 78.8,281.6 78.5,282.9C78.3,284.3 77.9,285.9 77.7,287.1C77.5,288.2 77.8,288.3 77.1,290.0C76.4,291.7 74.8,294.9 73.6,297.0C72.4,299.1 71.0,301.1 70.1,302.7C69.2,304.3 68.8,305.4 68.0,306.9C67.2,308.4 66.5,310.1 65.2,311.8C63.9,313.5 62.2,315.2 60.2,316.8C58.2,318.4 55.5,320.2 53.2,321.7C50.9,323.2 48.6,324.6 46.2,325.9C43.9,327.2 41.5,328.1 39.1,329.4C36.8,330.7 34.3,332.4 32.1,333.7C29.9,335.0 27.3,336.0 25.7,337.2C24.1,338.4 23.3,339.2 22.5,340.7C21.7,342.2 21.2,344.4 20.8,346.3C20.4,348.2 20.2,349.2 19.8,352.0C19.4,354.8 18.4,361.3 18.7,363.2C19.0,365.1 13.9,362.6 21.7,363.6C29.5,364.5 50.9,367.1 65.5,368.9C80.2,370.6 101.6,373.2 109.4,374.1C117.2,375.1 111.9,374.9 112.4,374.5C112.9,374.1 112.4,379.7 112.4,371.5C112.4,363.3 112.4,340.6 112.4,325.2C112.4,309.8 112.4,287.1 112.4,278.9C112.4,270.7 112.9,276.4 112.4,275.9C111.9,275.4 112.1,275.9 109.4,275.9C106.7,275.9 100.6,275.9 96.2,275.9C91.8,275.9 85.7,275.9 83.0,275.9C80.3,275.9 80.6,275.4 80.0,275.9Z"/>
<path fill="#a8f016" d="M86.3,275.9C85.7,276.4 85.9,277.6 85.6,278.8C85.3,280.0 84.9,281.6 84.5,282.9C84.2,284.3 83.8,285.9 83.5,287.1C83.2,288.3 83.6,288.3 82.8,290.0C82.0,291.7 80.1,294.8 78.6,297.0C77.1,299.2 74.9,301.5 73.6,303.4C72.3,305.3 71.8,306.7 70.8,308.3C69.8,309.9 68.7,311.6 67.3,313.2C65.9,314.8 64.4,316.5 62.4,318.2C60.4,319.9 57.6,321.7 55.3,323.1C52.9,324.6 50.6,325.6 48.3,326.9C45.9,328.2 43.6,329.5 41.2,330.8C38.9,332.1 36.4,333.5 34.2,334.8C32.0,336.1 29.4,337.4 27.9,338.6C26.4,339.8 25.8,340.6 25.0,342.1C24.2,343.6 23.7,345.8 23.3,347.7C22.9,349.6 22.8,350.8 22.5,353.4C22.2,356.0 21.3,361.5 21.7,363.2C22.1,364.9 17.1,362.6 24.7,363.6C32.2,364.5 52.9,367.1 67.0,368.9C81.2,370.6 101.9,373.2 109.4,374.1C117.0,375.1 111.9,374.9 112.4,374.5C112.9,374.1 112.4,379.7 112.4,371.5C112.4,363.3 112.4,340.6 112.4,325.2C112.4,309.8 112.4,287.1 112.4,278.9C112.4,270.7 112.9,276.4 112.4,275.9C111.9,275.4 111.6,275.9 109.4,275.9C107.2,275.9 102.7,275.9 99.3,275.9C96.0,275.9 91.5,275.9 89.3,275.9C87.1,275.9 86.9,275.4 86.3,275.9Z"/>
<path fill="#ffff80" d="M92.6,275.9C91.9,276.4 92.1,277.2 91.5,278.7C90.9,280.2 89.9,282.9 89.1,285.0C88.3,287.2 87.3,289.9 86.7,291.4C86.1,292.9 86.5,292.8 85.6,294.2C84.7,295.6 82.9,298.0 81.4,299.9C79.9,301.8 77.8,303.8 76.4,305.5C75.0,307.2 74.1,308.8 72.9,310.4C71.7,312.0 70.8,313.8 69.4,315.4C68.0,317.0 66.5,318.3 64.5,319.9C62.5,321.5 59.8,323.3 57.4,324.8C55.0,326.3 52.8,327.4 50.4,328.7C48.0,330.0 45.6,331.2 43.3,332.5C40.9,333.8 38.4,335.2 36.3,336.5C34.1,337.8 31.8,339.0 30.4,340.3C28.9,341.6 28.4,342.7 27.6,344.2C26.8,345.7 26.1,347.4 25.7,349.2C25.3,351.0 25.2,352.5 25.0,354.8C24.8,357.1 23.8,361.7 24.2,363.2C24.6,364.7 19.8,362.6 27.2,363.6C34.5,364.5 54.6,367.1 68.3,368.9C82.0,370.6 102.1,373.2 109.4,374.1C116.8,375.1 111.9,374.9 112.4,374.5C112.9,374.1 112.4,379.7 112.4,371.5C112.4,363.3 112.4,340.6 112.4,325.2C112.4,309.8 112.4,287.1 112.4,278.9C112.4,270.7 112.9,276.4 112.4,275.9C111.9,275.4 111.1,275.9 109.4,275.9C107.8,275.9 104.8,275.9 102.5,275.9C100.2,275.9 97.2,275.9 95.6,275.9C93.9,275.9 93.3,275.4 92.6,275.9Z"/>
<path fill="#ffd400" d="M95.5,275.9C94.8,276.4 95.2,276.8 94.4,278.7C93.7,280.6 92.3,284.4 91.2,287.2C90.2,290.0 88.8,293.8 88.1,295.7C87.3,297.6 87.6,297.3 87.0,298.5C86.4,299.7 85.5,301.2 84.2,302.7C82.9,304.2 80.7,306.0 79.3,307.6C77.9,309.2 77.0,310.9 75.7,312.5C74.5,314.1 73.3,315.9 71.8,317.5C70.3,319.1 68.6,320.5 66.6,322.1C64.5,323.7 61.9,325.4 59.5,326.9C57.1,328.3 54.8,329.5 52.5,330.8C50.2,332.1 47.8,333.5 45.5,334.8C43.2,336.1 40.8,337.3 38.8,338.6C36.8,339.9 34.7,341.1 33.2,342.4C31.8,343.7 30.9,344.8 30.1,346.3C29.3,347.8 28.8,348.5 28.3,351.3C27.8,354.1 26.8,361.2 27.1,363.2C27.4,365.2 23.0,362.7 30.1,363.6C37.2,364.5 56.5,367.1 69.8,368.9C83.0,370.6 102.3,373.2 109.4,374.1C116.5,375.0 111.9,374.9 112.4,374.5C112.9,374.1 112.4,379.7 112.4,371.5C112.4,363.3 112.4,340.6 112.4,325.2C112.4,309.8 112.4,287.1 112.4,278.9C112.4,270.7 112.9,276.4 112.4,275.9C111.9,275.4 110.8,275.9 109.4,275.9C108.0,275.9 105.8,275.9 104.0,275.9C102.1,275.9 99.9,275.9 98.5,275.9C97.1,275.9 96.2,275.4 95.5,275.9Z"/>
<path fill="#ff9900" d="M98.3,275.9C97.6,276.4 98.1,276.4 97.2,278.7C96.2,281.0 94.2,286.0 92.7,289.6C91.1,293.3 89.1,298.3 88.1,300.6C87.2,302.9 87.9,302.0 87.0,303.4C86.1,304.8 84.2,307.2 82.8,309.0C81.4,310.8 80.0,312.2 78.6,313.9C77.2,315.5 75.7,317.4 74.3,318.9C72.9,320.4 71.7,321.9 70.1,323.1C68.5,324.3 66.2,325.1 64.5,325.9C62.9,326.7 61.4,327.8 60.2,328.0C59.0,328.2 58.3,326.4 57.4,326.9C56.5,327.4 54.7,329.4 54.6,330.8C54.5,332.2 56.9,334.2 56.7,335.1C56.5,336.1 54.7,336.0 53.2,336.5C51.7,337.0 49.5,337.1 47.6,337.9C45.7,338.7 43.8,340.2 41.9,341.4C40.0,342.6 37.8,343.6 36.3,344.9C34.8,346.2 33.7,347.5 32.8,349.2C31.9,350.9 31.3,352.5 30.7,354.8C30.1,357.1 29.0,361.7 29.3,363.2C29.6,364.7 25.3,362.7 32.3,363.6C39.2,364.5 58.0,367.1 70.9,368.9C83.7,370.6 102.5,373.2 109.4,374.1C116.4,375.0 111.9,374.9 112.4,374.5C112.9,374.1 112.4,379.7 112.4,371.5C112.4,363.3 112.4,340.6 112.4,325.2C112.4,309.8 112.4,287.1 112.4,278.9C112.4,270.7 112.9,276.4 112.4,275.9C111.9,275.4 110.6,275.9 109.4,275.9C108.2,275.9 106.7,275.9 105.3,275.9C104.0,275.9 102.5,275.9 101.3,275.9C100.1,275.9 99.0,275.4 98.3,275.9Z"/>
<path fill="#e63c00" d="M70.1,329.4C71.3,328.0 71.7,325.7 72.9,323.8C74.1,321.9 75.4,319.9 77.1,318.2C78.8,316.5 80.2,315.1 82.8,313.9C85.4,312.7 91.0,311.1 92.6,311.1C94.2,311.1 92.6,310.9 92.6,314.1C92.6,317.3 92.6,324.8 92.6,330.1C92.6,335.5 92.6,343.0 92.6,346.2C92.6,349.4 94.2,349.6 92.6,349.2C91.0,348.8 85.6,344.2 82.8,343.5C80.0,342.8 77.8,344.2 75.7,344.9C73.6,345.6 72.0,346.8 70.1,347.7C68.2,348.6 66.4,350.1 64.5,350.6C62.6,351.1 60.4,351.3 58.8,350.6C57.1,349.9 54.6,347.7 54.6,346.3C54.6,344.9 57.1,343.5 58.8,342.1C60.4,340.7 63.3,339.5 64.5,337.9C65.7,336.3 65.0,333.7 65.9,332.3C66.8,330.9 68.9,330.8 70.1,329.4Z"/>
<path fill="#ff9900" d="M67.0,343.5C67.3,342.6 68.8,341.3 70.1,341.0C71.4,340.7 74.1,341.2 75.0,341.8C75.9,342.4 76.1,343.9 75.5,344.6C74.9,345.4 72.8,346.1 71.5,346.3C70.2,346.6 68.8,346.6 68.0,346.1C67.2,345.6 66.7,344.4 67.0,343.5Z"/>
<path fill="#e63c00" d="M47.6,340.0C48.0,339.2 49.4,337.8 50.4,337.6C51.4,337.4 53.2,338.0 53.9,338.6C54.5,339.2 54.8,340.6 54.3,341.4C53.8,342.2 52.1,343.0 51.1,343.2C50.1,343.4 48.9,342.9 48.3,342.4C47.7,341.9 47.2,340.8 47.6,340.0Z"/>
<path fill="#e63c00" d="M32.1,354.8C32.7,352.8 33.6,352.1 34.9,351.3C36.2,350.5 38.3,349.9 39.8,349.9C41.3,349.9 43.5,350.5 44.1,351.3C44.7,352.1 43.9,352.8 43.3,354.8C42.7,356.8 42.5,361.8 40.5,363.2C38.5,364.6 32.8,364.6 31.4,363.2C30.0,361.8 31.5,356.8 32.1,354.8Z"/>
<path fill="#ffd400" d="M57.1,333.7C57.3,332.8 59.2,331.6 60.2,331.5C61.2,331.4 62.9,332.3 63.3,333.0C63.7,333.7 63.5,335.2 62.8,335.8C62.0,336.4 59.8,337.2 58.8,336.8C57.8,336.4 56.9,334.6 57.1,333.7Z"/>
<path fill="#ffd400" d="M54.6,347.7C54.8,346.6 57.1,345.8 58.8,345.6C60.4,345.4 63.1,345.7 64.5,346.3C65.9,346.9 67.5,348.2 67.3,349.2C67.1,350.1 64.8,351.5 63.1,352.0C61.5,352.5 58.8,352.7 57.4,352.0C56.0,351.3 54.4,348.8 54.6,347.7Z"/>
</g>
<g clip-path="url(#c7)">
<path fill="#e63c00" d="M41.5,275.9C42.0,275.4 33.9,275.9 44.5,275.9C55.1,275.9 84.8,275.9 104.9,275.9C125.0,275.9 154.7,275.9 165.3,275.9C175.9,275.9 167.8,275.4 168.3,275.9C168.8,276.4 168.3,270.7 168.3,278.9C168.3,287.1 168.3,309.8 168.3,325.2C168.3,340.6 168.3,363.3 168.3,371.5C168.3,379.7 168.8,374.0 168.3,374.5C167.8,375.0 175.9,374.5 165.3,374.5C154.7,374.5 125.0,374.5 104.9,374.5C84.8,374.5 55.1,374.5 44.5,374.5C33.9,374.5 42.0,375.0 41.5,374.5C41.0,374.0 41.5,379.7 41.5,371.5C41.5,363.3 41.5,340.6 41.5,325.2C41.5,309.8 41.5,287.1 41.5,278.9C41.5,270.7 41.0,276.4 41.5,275.9Z"/>
<path fill="#ff9900" d="M41.5,336.5C42.0,334.6 43.3,336.3 44.5,336.2C45.7,336.1 47.2,335.9 48.5,335.8C49.9,335.7 51.4,335.5 52.6,335.4C53.8,335.3 53.9,335.6 55.6,335.1C57.3,334.6 60.4,333.4 62.6,332.3C64.8,331.2 67.0,330.0 69.0,328.7C71.0,327.4 72.8,326.2 74.6,324.5C76.3,322.8 78.1,320.3 79.5,318.2C80.9,316.1 82.0,313.7 83.1,311.8C84.2,309.9 84.5,308.2 85.9,306.9C87.3,305.6 89.8,304.9 91.5,304.1C93.2,303.3 95.1,303.2 96.4,302.0C97.7,300.8 98.3,299.0 99.3,297.0C100.2,295.0 101.6,291.7 102.1,290.0C102.6,288.3 102.4,288.2 102.5,287.0C102.7,285.9 102.9,284.3 103.2,282.9C103.4,281.6 103.6,280.0 103.8,278.9C103.9,277.7 103.6,276.4 104.2,275.9C104.8,275.4 100.7,275.9 107.2,275.9C113.7,275.9 131.3,275.9 143.3,275.9C155.3,275.9 172.9,275.9 179.4,275.9C185.9,275.9 181.9,275.4 182.4,275.9C182.9,276.4 182.4,277.7 182.4,278.9C182.4,280.1 182.4,281.6 182.4,282.9C182.4,284.3 182.4,285.8 182.4,287.0C182.4,288.2 182.9,289.5 182.4,290.0C181.9,290.5 185.0,289.9 179.4,290.1C173.8,290.2 158.9,290.5 148.6,290.7C138.3,290.9 123.4,291.2 117.8,291.3C112.2,291.5 115.9,290.7 114.8,291.4C113.7,292.1 113.1,293.2 111.2,295.6C109.3,298.0 105.0,303.4 103.5,305.5C102.0,307.6 102.6,307.0 102.1,308.3C101.6,309.6 101.3,312.1 100.7,313.2C100.1,314.2 99.1,315.0 98.6,314.6C98.1,314.2 98.4,311.5 97.9,311.1C97.4,310.8 96.9,312.3 95.7,312.5C94.5,312.7 92.4,312.4 90.8,312.5C89.2,312.6 87.5,312.2 85.9,313.2C84.3,314.1 82.5,316.2 81.0,318.2C79.5,320.2 78.4,323.2 76.7,325.2C75.0,327.2 73.0,329.2 71.1,330.1C69.2,331.0 66.9,329.7 65.5,330.8C64.1,331.9 63.8,335.1 62.6,336.5C61.4,337.9 58.9,338.1 58.4,339.3C57.9,340.5 60.3,342.3 59.8,343.5C59.3,344.7 56.8,345.8 55.6,346.3C54.4,346.8 53.8,346.5 52.6,346.6C51.4,346.7 49.9,346.9 48.5,347.0C47.2,347.1 45.7,347.3 44.5,347.4C43.3,347.5 42.0,349.5 41.5,347.7C41.0,345.9 41.0,338.4 41.5,336.5Z"/>
<path fill="#ffd400" d="M41.5,334.4C42.0,334.9 43.3,334.4 44.5,334.4C45.7,334.4 47.2,334.4 48.5,334.4C49.9,334.4 51.4,334.4 52.6,334.4C53.8,334.4 54.6,334.5 55.6,334.4C56.6,334.3 57.2,334.0 58.4,333.7C59.6,333.4 60.8,333.1 62.6,332.3C64.4,331.5 67.0,330.0 69.0,328.7C71.0,327.4 72.8,326.2 74.6,324.5C76.3,322.8 78.1,320.3 79.5,318.2C80.9,316.1 82.0,313.7 83.1,311.8C84.2,309.9 84.5,308.2 85.9,306.9C87.3,305.6 89.8,304.9 91.5,304.1C93.2,303.3 95.1,303.2 96.4,302.0C97.7,300.8 98.3,299.0 99.3,297.0C100.2,295.0 101.6,291.7 102.1,290.0C102.6,288.3 102.4,288.2 102.5,287.0C102.7,285.9 102.9,284.3 103.2,282.9C103.4,281.6 103.6,280.0 103.8,278.9C103.9,277.7 104.9,276.4 104.2,275.9C103.5,275.4 100.1,275.4 99.3,275.9C98.5,276.4 99.2,277.7 99.2,278.9C99.1,280.1 99.0,281.6 98.9,282.9C98.9,284.3 98.8,285.8 98.7,287.0C98.7,288.2 99.0,288.6 98.6,290.0C98.2,291.4 97.5,293.8 96.4,295.6C95.3,297.4 93.7,299.3 92.2,300.6C90.7,301.9 88.8,302.6 87.3,303.4C85.8,304.2 84.3,304.2 83.1,305.5C81.9,306.8 81.3,309.2 80.2,311.1C79.1,313.0 78.1,314.8 76.7,316.8C75.3,318.8 73.5,321.4 71.8,323.1C70.0,324.9 68.1,326.1 66.2,327.3C64.3,328.5 62.3,329.4 60.5,330.1C58.7,330.8 56.9,331.3 55.6,331.5C54.3,331.7 53.8,331.5 52.6,331.5C51.4,331.5 49.9,331.5 48.5,331.5C47.2,331.5 45.7,331.5 44.5,331.5C43.3,331.5 42.0,331.0 41.5,331.5C41.0,332.0 41.0,333.9 41.5,334.4Z"/>
<path fill="#ffff80" d="M41.5,331.5C42.0,332.0 43.3,331.5 44.5,331.5C45.7,331.5 47.2,331.5 48.5,331.5C49.9,331.5 51.4,331.5 52.6,331.5C53.8,331.5 54.3,331.7 55.6,331.5C56.9,331.3 58.7,330.8 60.5,330.1C62.3,329.4 64.3,328.5 66.2,327.3C68.1,326.1 70.0,324.9 71.8,323.1C73.5,321.4 75.3,318.8 76.7,316.8C78.1,314.8 79.1,313.0 80.2,311.1C81.3,309.2 81.9,306.8 83.1,305.5C84.3,304.2 85.8,304.2 87.3,303.4C88.8,302.6 90.7,301.9 92.2,300.6C93.7,299.3 95.3,297.4 96.4,295.6C97.5,293.8 98.2,291.4 98.6,290.0C99.0,288.6 98.7,288.2 98.7,287.0C98.8,285.8 98.9,284.3 98.9,282.9C99.0,281.6 99.1,280.1 99.2,278.9C99.2,277.7 99.8,276.4 99.3,275.9C98.8,275.4 96.9,275.4 96.4,275.9C95.9,276.4 96.3,277.7 96.3,278.9C96.2,280.1 96.1,281.6 96.1,282.9C96.0,284.3 95.9,285.8 95.8,287.0C95.8,288.2 96.4,288.5 95.7,290.0C95.0,291.5 93.1,294.5 91.5,296.3C89.9,298.1 87.8,299.4 85.9,300.6C84.0,301.8 81.6,302.0 80.2,303.4C78.8,304.8 78.5,307.0 77.4,309.0C76.4,311.0 75.3,313.4 73.9,315.4C72.5,317.4 70.8,319.4 69.0,321.0C67.2,322.6 65.1,324.1 63.3,325.2C61.5,326.3 59.7,327.1 58.4,327.7C57.1,328.3 56.6,328.5 55.6,328.7C54.6,328.9 53.8,328.7 52.6,328.7C51.4,328.7 49.9,328.7 48.5,328.7C47.2,328.7 45.7,328.7 44.5,328.7C43.3,328.7 42.0,328.2 41.5,328.7C41.0,329.2 41.0,331.0 41.5,331.5Z"/>
<path fill="#a8f016" d="M41.5,328.7C42.0,329.3 43.3,328.7 44.5,328.7C45.7,328.7 47.2,328.7 48.5,328.7C49.9,328.7 51.4,328.7 52.6,328.7C53.8,328.7 54.6,328.9 55.6,328.7C56.6,328.5 57.1,328.3 58.4,327.7C59.7,327.1 61.5,326.3 63.3,325.2C65.1,324.1 67.2,322.6 69.0,321.0C70.8,319.4 72.5,317.4 73.9,315.4C75.3,313.4 76.4,311.0 77.4,309.0C78.5,307.0 78.8,304.8 80.2,303.4C81.6,302.0 84.0,301.8 85.9,300.6C87.8,299.4 89.9,298.1 91.5,296.3C93.1,294.5 95.0,291.5 95.7,290.0C96.4,288.5 95.8,288.2 95.8,287.0C95.9,285.8 96.0,284.3 96.1,282.9C96.1,281.6 96.2,280.1 96.3,278.9C96.3,277.7 97.4,276.4 96.4,275.9C95.4,275.4 91.2,275.4 90.1,275.9C89.0,276.4 90.0,277.7 90.0,278.9C89.9,280.1 89.8,281.6 89.8,282.9C89.7,284.3 89.6,285.8 89.5,287.0C89.5,288.2 90.0,288.6 89.4,290.0C88.8,291.4 87.3,294.0 85.9,295.6C84.5,297.2 82.7,298.7 81.0,299.9C79.3,301.1 77.3,301.3 76.0,302.7C74.7,304.1 74.2,306.3 73.2,308.3C72.2,310.3 71.1,312.7 69.7,314.6C68.3,316.5 66.5,318.2 64.8,319.6C63.1,321.0 61.3,322.2 59.8,323.1C58.3,324.0 56.8,324.9 55.6,325.2C54.4,325.5 53.8,325.2 52.6,325.2C51.4,325.2 49.9,325.2 48.5,325.2C47.2,325.2 45.7,325.2 44.5,325.2C43.3,325.2 42.0,324.6 41.5,325.2C41.0,325.8 41.0,328.1 41.5,328.7Z"/>
<path fill="#66c20a" d="M41.5,325.2C42.0,325.8 43.3,325.2 44.5,325.2C45.7,325.2 47.2,325.2 48.5,325.2C49.9,325.2 51.4,325.2 52.6,325.2C53.8,325.2 54.4,325.5 55.6,325.2C56.8,324.9 58.3,324.0 59.8,323.1C61.3,322.2 63.1,321.0 64.8,319.6C66.5,318.2 68.3,316.5 69.7,314.6C71.1,312.7 72.2,310.3 73.2,308.3C74.2,306.3 74.7,304.1 76.0,302.7C77.3,301.3 79.3,301.1 81.0,299.9C82.7,298.7 84.5,297.2 85.9,295.6C87.3,294.0 88.8,291.4 89.4,290.0C90.0,288.6 89.5,288.2 89.5,287.0C89.6,285.8 89.7,284.3 89.8,282.9C89.8,281.6 89.9,280.1 90.0,278.9C90.0,277.7 91.1,276.4 90.1,275.9C89.1,275.4 84.9,275.4 83.8,275.9C82.7,276.4 83.7,277.7 83.7,278.9C83.6,280.1 83.5,281.6 83.4,282.9C83.4,284.3 83.3,285.8 83.2,287.0C83.2,288.2 83.7,288.6 83.1,290.0C82.5,291.4 80.8,294.0 79.5,295.6C78.2,297.2 76.7,298.7 75.3,299.9C73.9,301.1 72.1,301.3 71.1,302.7C70.0,304.1 69.9,306.4 69.0,308.3C68.1,310.2 66.8,312.2 65.5,313.9C64.2,315.5 62.9,316.9 61.2,318.2C59.6,319.5 57.0,321.1 55.6,321.7C54.2,322.3 53.8,321.7 52.6,321.7C51.4,321.7 49.9,321.7 48.5,321.7C47.2,321.7 45.7,321.7 44.5,321.7C43.3,321.7 42.0,321.1 41.5,321.7C41.0,322.3 41.0,324.6 41.5,325.2Z"/>
<path fill="#089a08" d="M41.5,321.7C42.0,322.2 43.3,321.7 44.5,321.7C45.7,321.7 47.2,321.7 48.5,321.7C49.9,321.7 51.4,321.7 52.6,321.7C53.8,321.7 54.2,322.3 55.6,321.7C57.0,321.1 59.6,319.5 61.2,318.2C62.9,316.9 64.2,315.5 65.5,313.9C66.8,312.2 68.1,310.2 69.0,308.3C69.9,306.4 70.0,304.1 71.1,302.7C72.1,301.3 73.9,301.1 75.3,299.9C76.7,298.7 78.2,297.2 79.5,295.6C80.8,294.0 82.5,291.4 83.1,290.0C83.7,288.6 83.2,288.2 83.2,287.0C83.3,285.8 83.4,284.3 83.4,282.9C83.5,281.6 83.6,280.1 83.7,278.9C83.7,277.7 84.3,276.4 83.8,275.9C83.3,275.4 84.3,275.9 80.8,275.9C77.3,275.9 68.7,275.9 62.6,275.9C56.6,275.9 48.0,275.9 44.5,275.9C41.0,275.9 42.0,275.4 41.5,275.9C41.0,276.4 41.5,275.1 41.5,278.9C41.5,282.7 41.5,292.2 41.5,298.8C41.5,305.4 41.5,314.9 41.5,318.7C41.5,322.5 41.0,321.2 41.5,321.7Z"/>
<path fill="#73b2ff" d="M41.5,295.6C42.0,295.2 43.0,295.9 44.5,296.1C45.9,296.3 48.1,296.7 50.0,297.1C51.8,297.4 54.0,297.8 55.4,298.0C56.9,298.2 57.2,297.5 58.4,298.5C59.6,299.5 61.9,302.2 62.6,304.1C63.4,306.0 63.4,307.9 62.9,309.7C62.4,311.4 61.0,313.3 59.8,314.6C58.6,315.9 56.8,317.0 55.6,317.5C54.4,318.0 53.8,317.6 52.6,317.6C51.4,317.7 49.9,317.8 48.5,317.9C47.2,317.9 45.7,318.0 44.5,318.1C43.3,318.1 42.0,318.7 41.5,318.2C41.0,317.7 41.5,317.1 41.5,315.2C41.5,313.3 41.5,309.7 41.5,306.9C41.5,304.1 41.5,300.5 41.5,298.6C41.5,296.7 41.0,296.0 41.5,295.6Z"/>
<path fill="#ff9900" d="M83.1,337.2C83.8,335.9 85.2,335.1 86.3,335.1C87.3,335.1 88.4,336.6 89.4,337.2C90.4,337.8 91.7,337.9 92.5,338.6C93.3,339.3 94.2,340.4 94.3,341.4C94.3,342.4 93.6,343.9 92.8,344.6C92.0,345.3 90.6,345.6 89.4,345.4C88.2,345.2 86.7,343.6 85.5,343.2C84.3,342.8 82.8,343.8 82.4,342.8C82.0,341.8 82.4,338.5 83.1,337.2Z"/>
<path fill="#ffd400" d="M89.4,341.0C89.7,340.4 90.9,339.9 91.5,340.0C92.1,340.1 93.0,341.1 93.1,341.8C93.2,342.5 92.5,343.9 91.9,344.2C91.4,344.5 90.2,344.3 89.8,343.8C89.4,343.3 89.1,341.6 89.4,341.0Z"/>
<path fill="#ff9900" d="M66.9,343.5C67.0,342.6 69.1,341.2 70.4,341.0C71.8,340.8 74.3,341.4 75.0,342.1C75.7,342.8 75.5,344.5 74.6,345.2C73.7,345.9 71.0,346.6 69.7,346.3C68.4,346.0 66.8,344.4 66.9,343.5Z"/>
<path fill="#ff9900" d="M41.5,352.0C42.0,350.2 43.3,352.2 44.5,352.4C45.7,352.5 47.2,352.7 48.5,352.9C49.9,353.0 51.4,353.2 52.6,353.3C53.8,353.5 54.2,353.9 55.6,353.7C57.0,353.5 59.3,353.0 61.2,352.3C63.1,351.6 66.4,348.8 66.9,349.4C67.4,350.0 65.0,354.9 64.1,356.2C63.2,357.5 63.1,356.5 61.2,357.1C59.4,357.7 55.6,358.8 52.8,359.7C50.0,360.6 46.2,361.7 44.4,362.3C42.5,362.9 42.0,364.9 41.5,363.2C41.0,361.5 41.0,353.8 41.5,352.0Z"/>
</g>
<g clip-path="url(#c8)">
<path fill="#73b2ff" d="M18.7,279.1C19.2,278.6 13.3,279.1 21.7,279.1C30.1,279.1 53.5,279.1 69.4,279.1C85.3,279.1 108.6,279.1 117.1,279.1C125.5,279.1 119.6,278.6 120.1,279.1C120.6,279.6 120.1,275.8 120.1,282.1C120.1,288.4 120.1,305.5 120.1,317.1C120.1,328.8 120.1,345.9 120.1,352.2C120.1,358.5 120.6,354.7 120.1,355.2C119.6,355.7 125.5,355.2 117.1,355.2C108.6,355.2 85.3,355.2 69.4,355.2C53.5,355.2 30.2,355.2 21.7,355.2C13.3,355.2 19.2,355.7 18.7,355.2C18.2,354.7 18.7,358.5 18.7,352.2C18.7,345.9 18.7,328.8 18.7,317.1C18.7,305.5 18.7,288.4 18.7,282.1C18.7,275.8 18.2,279.6 18.7,279.1Z"/>
<path fill="#089a08" d="M55.0,279.1C54.5,279.6 55.0,280.7 55.1,282.1C55.1,283.5 55.2,285.7 55.2,287.6C55.3,289.4 55.4,291.6 55.4,293.0C55.5,294.4 55.3,294.9 55.5,296.0C55.7,297.1 55.9,298.3 56.7,299.4C57.5,300.4 59.0,301.3 60.1,302.3C61.2,303.3 62.5,304.2 63.1,305.3C63.7,306.4 63.9,307.6 63.5,308.7C63.1,309.8 62.1,311.1 61.0,312.1C59.9,313.2 58.1,314.1 56.7,315.0C55.3,315.9 53.9,316.7 52.5,317.6C51.1,318.5 49.7,319.6 48.3,320.5C46.9,321.4 45.5,322.1 44.1,323.0C42.7,323.9 41.2,324.8 39.8,325.6C38.4,326.4 36.8,327.2 35.6,327.7C34.4,328.2 34.2,328.2 32.8,328.7C31.4,329.3 29.0,330.1 27.1,330.9C25.3,331.6 22.9,332.4 21.5,333.0C20.1,333.5 19.2,333.3 18.7,334.0C18.2,334.7 18.7,335.2 18.7,337.0C18.7,338.8 18.7,342.1 18.7,344.6C18.7,347.1 18.7,350.4 18.7,352.2C18.7,354.0 18.2,354.7 18.7,355.2C19.2,355.7 13.3,355.2 21.7,355.2C30.1,355.2 53.5,355.2 69.4,355.2C85.3,355.2 108.6,355.2 117.1,355.2C125.5,355.2 119.6,355.7 120.1,355.2C120.6,354.7 120.1,358.5 120.1,352.2C120.1,345.9 120.1,328.8 120.1,317.1C120.1,305.5 120.1,288.4 120.1,282.1C120.1,275.8 120.6,279.6 120.1,279.1C119.6,278.6 122.5,279.1 117.1,279.1C111.7,279.1 97.4,279.1 87.5,279.1C77.7,279.1 63.4,279.1 58.0,279.1C52.6,279.1 55.5,278.6 55.0,279.1Z"/>
<path fill="#66c20a" d="M82.9,279.1C82.3,279.6 82.5,280.6 82.2,282.0C81.8,283.4 81.3,285.7 80.8,287.6C80.3,289.4 79.8,291.7 79.4,293.1C79.1,294.5 79.4,295.1 78.7,296.0C78.0,296.9 76.4,297.6 75.3,298.5C74.2,299.4 72.8,300.2 71.9,301.1C71.0,302.0 70.3,302.9 69.8,304.0C69.2,305.1 69.1,306.4 68.6,307.8C68.1,309.2 67.8,310.9 66.9,312.1C66.1,313.3 64.5,314.2 63.5,315.0C62.5,315.8 61.7,316.4 60.6,317.1C59.5,317.8 58.1,318.5 56.7,319.2C55.4,319.9 53.9,320.6 52.5,321.4C51.1,322.2 49.7,323.1 48.3,323.9C46.9,324.7 45.5,325.5 44.1,326.4C42.7,327.2 41.2,328.3 39.8,329.0C38.4,329.7 36.8,330.3 35.6,330.7C34.4,331.1 34.2,331.2 32.8,331.7C31.4,332.2 29.0,333.0 27.1,333.6C25.3,334.3 22.9,335.1 21.5,335.6C20.1,336.1 19.2,335.9 18.7,336.6C18.2,337.3 18.7,338.1 18.7,339.6C18.7,341.2 18.7,343.8 18.7,345.9C18.7,348.0 18.7,350.6 18.7,352.2C18.7,353.8 18.2,354.7 18.7,355.2C19.2,355.7 13.3,355.2 21.7,355.2C30.1,355.2 53.5,355.2 69.4,355.2C85.3,355.2 108.6,355.2 117.1,355.2C125.5,355.2 119.6,355.7 120.1,355.2C120.6,354.7 120.1,358.5 120.1,352.2C120.1,345.9 120.1,328.8 120.1,317.1C120.1,305.5 120.1,288.4 120.1,282.1C120.1,275.8 120.6,279.6 120.1,279.1C119.6,278.6 120.2,279.1 117.1,279.1C114.0,279.1 106.7,279.1 101.5,279.1C96.3,279.1 89.0,279.1 85.9,279.1C82.8,279.1 83.5,278.6 82.9,279.1Z"/>
<path fill="#a8f016" d="M89.7,279.1C89.1,279.6 89.3,280.6 89.0,282.0C88.6,283.4 88.1,285.7 87.6,287.6C87.1,289.4 86.6,291.7 86.2,293.1C85.9,294.5 86.2,295.1 85.5,296.0C84.8,296.9 83.4,297.8 82.1,298.5C80.8,299.2 79.2,299.6 77.9,300.2C76.6,300.8 75.5,301.4 74.5,302.3C73.5,303.2 72.5,304.2 71.9,305.3C71.3,306.4 71.2,307.4 70.7,308.7C70.2,310.0 69.8,311.6 69.0,312.9C68.2,314.2 66.8,315.3 65.6,316.3C64.4,317.3 63.1,318.0 61.8,318.8C60.5,319.6 59.0,320.2 57.6,320.9C56.2,321.6 54.8,322.2 53.4,323.0C52.0,323.8 50.5,324.8 49.1,325.6C47.7,326.5 46.3,327.2 44.9,328.1C43.5,329.0 42.2,329.9 40.7,330.7C39.2,331.5 36.9,332.6 35.6,333.2C34.3,333.8 34.2,333.8 32.8,334.3C31.4,334.9 29.0,335.8 27.1,336.6C25.3,337.4 22.9,338.3 21.5,338.9C20.1,339.4 19.2,339.3 18.7,340.0C18.2,340.7 18.7,341.7 18.7,343.0C18.7,344.3 18.7,346.1 18.7,347.6C18.7,349.1 18.7,350.9 18.7,352.2C18.7,353.5 18.2,354.7 18.7,355.2C19.2,355.7 13.3,355.2 21.7,355.2C30.1,355.2 53.5,355.2 69.4,355.2C85.3,355.2 108.6,355.2 117.1,355.2C125.5,355.2 119.6,355.7 120.1,355.2C120.6,354.7 120.1,358.5 120.1,352.2C120.1,345.9 120.1,328.8 120.1,317.1C120.1,305.5 120.1,288.4 120.1,282.1C120.1,275.8 120.6,279.6 120.1,279.1C119.6,278.6 119.6,279.1 117.1,279.1C114.6,279.1 109.0,279.1 104.9,279.1C100.8,279.1 95.2,279.1 92.7,279.1C90.2,279.1 90.3,278.6 89.7,279.1Z"/>
<path fill="#ffff80" d="M120.1,289.2C119.6,288.8 119.3,289.5 117.2,290.1C115.2,290.7 111.0,292.0 107.8,293.0C104.7,294.0 100.5,295.3 98.5,295.9C96.4,296.5 96.9,296.3 95.6,296.8C94.3,297.3 92.0,298.4 90.5,299.0C89.0,299.6 87.7,299.7 86.3,300.2C84.9,300.7 83.5,301.3 82.1,301.9C80.7,302.5 79.2,303.1 77.9,304.0C76.6,304.9 75.3,305.9 74.5,307.0C73.7,308.1 73.7,309.2 73.2,310.4C72.7,311.6 72.3,313.0 71.5,314.2C70.7,315.4 69.4,316.6 68.1,317.6C66.8,318.7 65.3,319.7 63.9,320.5C62.5,321.3 61.1,321.9 59.7,322.6C58.3,323.3 56.9,323.9 55.5,324.7C54.1,325.5 52.6,326.4 51.2,327.3C49.8,328.2 48.4,329.0 47.0,329.8C45.6,330.6 44.3,331.5 42.8,332.3C41.3,333.1 39.3,334.3 38.1,334.9C36.9,335.5 37.0,335.4 35.3,336.1C33.7,336.8 30.7,338.1 28.4,339.1C26.1,340.1 23.1,341.4 21.5,342.1C19.8,342.8 19.2,341.1 18.7,343.3C18.2,345.5 18.2,353.2 18.7,355.2C19.2,357.2 13.3,355.2 21.7,355.2C30.1,355.2 53.5,355.2 69.4,355.2C85.3,355.2 108.6,355.2 117.1,355.2C125.5,355.2 119.6,355.7 120.1,355.2C120.6,354.7 120.1,357.7 120.1,352.2C120.1,346.7 120.1,332.2 120.1,322.2C120.1,312.2 120.1,297.7 120.1,292.2C120.1,286.7 120.6,289.6 120.1,289.2Z"/>
<path fill="#ffd400" d="M120.1,301.1C119.6,300.6 119.1,301.1 117.1,301.2C115.1,301.3 110.9,301.5 107.8,301.7C104.8,301.9 100.6,302.1 98.6,302.2C96.6,302.3 96.9,302.2 95.6,302.3C94.3,302.4 92.2,302.6 90.5,302.8C88.8,303.0 87.0,303.2 85.5,303.6C84.0,304.0 82.6,304.6 81.2,305.3C79.8,306.0 78.0,306.8 77.0,307.8C76.0,308.9 75.9,310.3 75.3,311.6C74.7,312.9 74.4,314.1 73.6,315.4C72.8,316.7 71.6,318.1 70.3,319.2C69.0,320.3 67.4,321.3 66.0,322.2C64.6,323.1 63.2,323.7 61.8,324.3C60.4,324.9 59.0,325.3 57.6,326.0C56.2,326.7 54.8,327.6 53.4,328.5C52.0,329.4 50.5,330.2 49.1,331.1C47.7,332.0 46.2,332.8 44.9,333.6C43.6,334.4 42.5,335.3 41.5,336.0C40.5,336.7 40.3,336.9 39.1,337.8C37.9,338.7 35.9,340.2 34.3,341.4C32.7,342.5 30.7,344.0 29.5,344.9C28.3,345.8 28.9,345.0 27.1,346.7C25.3,348.4 19.6,353.8 18.7,355.2C17.8,356.6 13.3,355.2 21.7,355.2C30.1,355.2 53.5,355.2 69.4,355.2C85.3,355.2 108.6,355.2 117.1,355.2C125.5,355.2 119.6,355.7 120.1,355.2C120.6,354.7 120.1,356.7 120.1,352.2C120.1,347.7 120.1,336.2 120.1,328.1C120.1,320.1 120.1,308.6 120.1,304.1C120.1,299.6 120.6,301.6 120.1,301.1Z"/>
<path fill="#ff9900" d="M120.1,305.3C119.6,304.8 119.1,305.3 117.1,305.3C115.1,305.4 110.9,305.4 107.8,305.5C104.8,305.6 100.6,305.6 98.6,305.7C96.6,305.7 96.9,305.7 95.6,305.7C94.3,305.7 92.0,305.6 90.5,305.7C89.0,305.8 87.6,305.8 86.3,306.1C85.0,306.4 83.7,306.8 82.5,307.4C81.3,308.0 79.9,308.6 79.1,309.5C78.2,310.4 78.0,311.7 77.4,312.9C76.9,314.1 76.6,315.4 75.8,316.7C75.0,318.0 73.7,319.7 72.4,320.9C71.1,322.1 69.5,323.0 68.1,323.9C66.7,324.8 65.1,325.5 63.9,326.0C62.7,326.5 62.0,326.6 61.0,326.9C60.0,327.2 58.7,327.2 58.0,327.7C57.3,328.2 57.3,329.3 56.7,329.8C56.1,330.3 55.2,330.1 54.2,330.7C53.2,331.3 51.9,332.3 50.8,333.2C49.7,334.1 49.4,333.8 47.4,336.0C45.4,338.2 40.9,344.7 39.0,346.7C37.1,348.7 37.9,347.2 36.2,347.9C34.5,348.6 31.3,349.9 28.9,350.9C26.4,352.0 23.2,353.3 21.5,354.0C19.8,354.7 18.7,355.0 18.7,355.2C18.7,355.4 13.3,355.2 21.7,355.2C30.1,355.2 53.5,355.2 69.4,355.2C85.3,355.2 108.6,355.2 117.1,355.2C125.5,355.2 119.6,355.7 120.1,355.2C120.6,354.7 120.1,356.4 120.1,352.2C120.1,348.0 120.1,337.6 120.1,330.2C120.1,322.9 120.1,312.5 120.1,308.3C120.1,304.1 120.6,305.8 120.1,305.3Z"/>
<path fill="#e63c00" d="M120.1,308.7C119.6,308.2 119.1,308.7 117.1,308.8C115.1,308.9 110.9,309.0 107.8,309.1C104.8,309.2 100.6,309.3 98.6,309.4C96.6,309.5 96.4,308.9 95.6,309.5C94.8,310.1 94.6,312.4 93.9,312.9C93.2,313.4 92.4,312.6 91.4,312.5C90.4,312.4 89.1,312.0 88.0,312.1C86.9,312.2 85.6,312.4 84.6,312.9C83.6,313.4 82.8,314.1 82.1,315.0C81.4,315.9 81.0,316.9 80.4,318.0C79.8,319.1 79.3,320.3 78.7,321.4C78.1,322.5 77.8,323.7 77.0,324.7C76.2,325.7 74.9,326.7 73.6,327.3C72.3,327.9 70.6,328.1 69.4,328.5C68.2,328.9 67.1,329.0 66.5,329.8C65.9,330.6 65.6,332.2 65.6,333.2C65.6,334.2 66.3,335.0 66.5,336.0C66.7,337.0 66.6,337.4 66.7,339.0C66.8,340.6 67.0,343.4 67.1,345.6C67.2,347.8 67.4,350.6 67.5,352.2C67.6,353.8 67.2,354.7 67.7,355.2C68.2,355.7 66.3,355.2 70.7,355.2C75.1,355.2 86.2,355.2 93.9,355.2C101.6,355.2 112.7,355.2 117.1,355.2C121.5,355.2 119.6,355.7 120.1,355.2C120.6,354.7 120.1,356.1 120.1,352.2C120.1,348.3 120.1,338.7 120.1,331.9C120.1,325.2 120.1,315.6 120.1,311.7C120.1,307.8 120.6,309.2 120.1,308.7Z"/>
<path fill="#ffd400" d="M56.7,336.0C56.8,334.9 57.5,333.9 58.4,333.2C59.2,332.5 60.7,332.0 61.8,331.9C62.9,331.8 64.2,332.1 64.8,332.8C65.4,333.5 65.3,334.8 65.2,336.0C65.1,337.2 65.6,339.3 64.3,340.0C63.0,340.7 58.9,340.7 57.6,340.0C56.3,339.3 56.6,337.1 56.7,336.0Z"/>
</g>
<g clip-path="url(#c9)">
<path fill="#089a08" d="M53.7,263.1C54.2,262.6 48.2,263.1 56.7,263.1C65.2,263.1 88.5,263.1 104.4,263.1C120.3,263.1 143.7,263.1 152.1,263.1C160.5,263.1 154.6,262.6 155.1,263.1C155.6,263.6 155.1,259.8 155.1,266.1C155.1,272.4 155.1,289.5 155.1,301.1C155.1,312.8 155.1,329.9 155.1,336.2C155.1,342.5 155.6,338.7 155.1,339.2C154.6,339.7 160.5,339.2 152.1,339.2C143.7,339.2 120.3,339.2 104.4,339.2C88.5,339.2 65.2,339.2 56.7,339.2C48.2,339.2 54.2,339.7 53.7,339.2C53.2,338.7 53.7,342.5 53.7,336.2C53.7,329.9 53.7,312.8 53.7,301.1C53.7,289.5 53.7,272.4 53.7,266.1C53.7,259.8 53.2,263.6 53.7,263.1Z"/>
<path fill="#66c20a" d="M83.3,263.1C82.8,263.6 83.3,264.7 83.3,266.1C83.3,267.5 83.3,269.7 83.3,271.6C83.3,273.4 83.3,275.6 83.3,277.0C83.3,278.4 83.2,278.8 83.3,280.0C83.4,281.2 84.0,282.8 84.1,284.2C84.2,285.6 84.1,287.1 83.7,288.5C83.3,289.9 82.5,291.3 81.6,292.7C80.7,294.1 79.5,295.6 78.2,296.9C76.9,298.2 75.3,299.4 74.0,300.3C72.7,301.2 71.6,301.9 70.6,302.4C69.6,302.9 69.2,302.9 67.7,303.3C66.3,303.8 64.0,304.5 62.1,305.1C60.3,305.8 58.0,306.5 56.6,307.0C55.1,307.4 54.2,307.2 53.7,307.9C53.2,308.6 53.7,308.3 53.7,310.9C53.7,313.5 53.7,319.3 53.7,323.5C53.7,327.8 53.7,333.6 53.7,336.2C53.7,338.8 53.2,338.7 53.7,339.2C54.2,339.7 48.2,339.2 56.7,339.2C65.2,339.2 88.5,339.2 104.4,339.2C120.3,339.2 143.7,339.2 152.1,339.2C160.5,339.2 154.6,339.7 155.1,339.2C155.6,338.7 155.1,342.5 155.1,336.2C155.1,329.9 155.1,312.8 155.1,301.1C155.1,289.5 155.1,272.4 155.1,266.1C155.1,259.8 155.6,263.6 155.1,263.1C154.6,262.6 158.1,263.1 152.1,263.1C146.1,263.1 130.2,263.1 119.2,263.1C108.2,263.1 92.3,263.1 86.3,263.1C80.3,263.1 83.8,262.6 83.3,263.1Z"/>
<path fill="#a8f016" d="M101.9,263.1C101.4,263.6 101.9,264.7 101.8,266.1C101.8,267.5 101.7,269.7 101.7,271.6C101.7,273.4 101.6,275.6 101.6,277.0C101.5,278.4 101.7,278.9 101.5,280.0C101.3,281.1 101.0,282.0 100.2,283.4C99.4,284.8 97.9,286.9 96.8,288.5C95.7,290.1 94.5,291.4 93.4,292.7C92.3,294.0 91.3,295.2 90.0,296.1C88.7,297.0 87.3,297.6 85.8,298.2C84.2,298.8 82.4,299.1 80.7,299.9C79.0,300.7 77.1,301.8 75.7,302.8C74.3,303.9 73.2,305.2 72.3,306.2C71.4,307.2 71.3,308.0 70.6,308.7C69.9,309.4 69.7,309.4 68.3,310.6C66.9,311.7 64.2,313.9 62.1,315.5C60.1,317.1 57.4,319.3 56.0,320.4C54.6,321.6 54.1,321.5 53.7,322.3C53.3,323.1 53.7,323.9 53.7,325.3C53.7,326.7 53.7,328.9 53.7,330.8C53.7,332.6 53.7,334.8 53.7,336.2C53.7,337.6 53.2,338.7 53.7,339.2C54.2,339.7 48.2,339.2 56.7,339.2C65.2,339.2 88.5,339.2 104.4,339.2C120.3,339.2 143.7,339.2 152.1,339.2C160.5,339.2 154.6,339.7 155.1,339.2C155.6,338.7 155.1,342.5 155.1,336.2C155.1,329.9 155.1,312.8 155.1,301.1C155.1,289.5 155.1,272.4 155.1,266.1C155.1,259.8 155.6,263.6 155.1,263.1C154.6,262.6 156.5,263.1 152.1,263.1C147.7,263.1 136.4,263.1 128.5,263.1C120.6,263.1 109.3,263.1 104.9,263.1C100.5,263.1 102.4,262.6 101.9,263.1Z"/>
<path fill="#ffff80" d="M106.5,263.1C106.0,263.6 106.5,264.7 106.4,266.1C106.4,267.5 106.3,269.7 106.3,271.6C106.3,273.4 106.2,275.6 106.2,277.0C106.1,278.4 106.4,278.8 106.1,280.0C105.8,281.2 105.1,282.8 104.4,284.2C103.7,285.6 102.8,287.1 101.9,288.5C101.1,289.9 100.3,291.4 99.3,292.7C98.3,294.0 97.1,295.1 96.0,296.1C94.9,297.2 94.0,298.2 92.6,299.0C91.2,299.8 89.2,300.2 87.5,300.7C85.8,301.2 84.0,301.4 82.4,302.0C80.9,302.6 79.5,303.5 78.2,304.5C76.9,305.5 75.7,306.8 74.8,307.9C73.9,309.0 73.4,310.0 72.7,311.3C72.0,312.6 71.1,314.3 70.6,315.5C70.1,316.7 70.3,316.3 69.6,318.3C68.9,320.3 67.4,324.3 66.3,327.4C65.3,330.4 63.8,334.4 63.1,336.4C62.4,338.4 61.8,338.7 62.1,339.2C62.4,339.7 57.3,339.2 65.1,339.2C72.8,339.2 94.1,339.2 108.6,339.2C123.1,339.2 144.3,339.2 152.1,339.2C159.8,339.2 154.6,339.7 155.1,339.2C155.6,338.7 155.1,342.5 155.1,336.2C155.1,329.9 155.1,312.8 155.1,301.1C155.1,289.5 155.1,272.4 155.1,266.1C155.1,259.8 155.6,263.6 155.1,263.1C154.6,262.6 156.1,263.1 152.1,263.1C148.1,263.1 137.9,263.1 130.8,263.1C123.7,263.1 113.5,263.1 109.5,263.1C105.5,263.1 107.0,262.6 106.5,263.1Z"/>
<path fill="#ffd400" d="M109.5,263.1C109.0,263.6 109.5,264.7 109.4,266.1C109.4,267.5 109.3,269.7 109.3,271.6C109.3,273.4 109.2,275.6 109.2,277.0C109.1,278.4 109.5,278.8 109.1,280.0C108.7,281.2 107.5,282.8 106.9,284.2C106.3,285.6 105.9,287.1 105.3,288.5C104.7,289.9 104.0,291.4 103.1,292.7C102.2,294.0 101.0,295.3 99.8,296.5C98.6,297.7 97.1,298.9 96.0,299.9C94.9,300.9 94.7,301.8 93.4,302.4C92.1,302.9 90.1,302.8 88.4,303.2C86.7,303.6 84.7,303.9 83.3,304.5C81.9,305.1 81.0,306.1 79.9,307.0C78.8,307.9 77.8,308.9 76.9,310.0C76.0,311.1 75.2,312.5 74.4,313.8C73.6,315.1 72.9,316.3 72.3,318.0C71.7,319.7 70.9,322.5 70.6,324.0C70.3,325.5 70.6,325.7 70.6,327.0C70.6,328.3 70.6,330.1 70.6,331.6C70.6,333.1 70.6,334.9 70.6,336.2C70.6,337.5 70.1,338.7 70.6,339.2C71.1,339.7 66.6,339.2 73.6,339.2C80.6,339.2 99.8,339.2 112.8,339.2C125.9,339.2 145.1,339.2 152.1,339.2C159.1,339.2 154.6,339.7 155.1,339.2C155.6,338.7 155.1,342.5 155.1,336.2C155.1,329.9 155.1,312.8 155.1,301.1C155.1,289.5 155.1,272.4 155.1,266.1C155.1,259.8 155.6,263.6 155.1,263.1C154.6,262.6 155.9,263.1 152.1,263.1C148.3,263.1 138.9,263.1 132.3,263.1C125.7,263.1 116.3,263.1 112.5,263.1C108.7,263.1 110.0,262.6 109.5,263.1Z"/>
<path fill="#ff9900" d="M112.4,263.1C111.9,263.6 112.4,264.7 112.3,266.1C112.3,267.5 112.2,269.7 112.2,271.6C112.2,273.4 112.1,275.6 112.1,277.0C112.0,278.4 112.4,279.1 112.0,280.0C111.6,280.9 110.6,281.6 109.9,282.5C109.2,283.4 108.3,284.1 107.8,285.1C107.3,286.1 106.9,287.2 106.9,288.5C106.9,289.8 107.4,291.5 107.8,292.7C108.2,293.9 109.1,294.7 109.1,295.6C109.1,296.5 108.3,297.5 107.8,298.2C107.3,298.9 106.9,299.5 106.1,299.9C105.2,300.3 103.8,300.2 102.7,300.7C101.6,301.2 100.4,302.0 99.3,302.8C98.2,303.6 97.4,304.8 96.0,305.4C94.6,306.0 92.6,305.9 90.9,306.2C89.2,306.5 87.2,306.5 85.8,307.0C84.4,307.5 83.4,308.3 82.4,309.2C81.4,310.1 80.7,311.1 79.9,312.1C79.1,313.2 78.1,314.2 77.4,315.5C76.7,316.8 76.0,318.8 75.7,320.0C75.4,321.2 75.6,321.4 75.4,323.0C75.3,324.6 75.0,327.4 74.8,329.6C74.7,331.8 74.4,334.6 74.3,336.2C74.1,337.8 73.5,338.7 74.0,339.2C74.5,339.7 70.2,339.2 77.0,339.2C83.8,339.2 102.0,339.2 114.5,339.2C127.1,339.2 145.3,339.2 152.1,339.2C158.9,339.2 154.6,339.7 155.1,339.2C155.6,338.7 155.1,342.5 155.1,336.2C155.1,329.9 155.1,312.8 155.1,301.1C155.1,289.5 155.1,272.4 155.1,266.1C155.1,259.8 155.6,263.6 155.1,263.1C154.6,262.6 155.7,263.1 152.1,263.1C148.5,263.1 139.9,263.1 133.8,263.1C127.6,263.1 119.0,263.1 115.4,263.1C111.8,263.1 112.9,262.6 112.4,263.1Z"/>
<path fill="#e63c00" d="M111.2,288.5C111.6,287.5 112.1,286.0 112.9,285.1C113.7,284.2 114.8,284.0 116.2,283.4C117.6,282.8 121.0,281.1 121.3,281.7C121.6,282.3 119.2,285.2 117.9,286.8C116.6,288.4 114.8,289.9 113.7,291.0C112.6,292.1 111.8,293.5 111.2,293.5C110.6,293.5 110.3,291.8 110.3,291.0C110.3,290.2 110.8,289.5 111.2,288.5Z"/>
<path fill="#e63c00" d="M79.1,324.0C78.7,323.3 79.4,321.4 79.9,320.0C80.5,318.6 81.4,316.8 82.4,315.5C83.4,314.2 84.5,313.1 85.8,312.5C87.1,311.9 88.8,311.7 90.0,312.1C91.2,312.5 92.4,313.7 93.0,314.7C93.6,315.7 93.7,316.4 93.8,318.0C93.9,319.6 94.0,323.0 93.4,324.0C92.8,325.0 91.6,324.0 90.4,324.0C89.2,324.0 87.6,324.0 86.2,324.0C84.9,324.0 83.3,324.0 82.1,324.0C80.9,324.0 79.5,324.7 79.1,324.0Z"/>
<path fill="#e63c00" d="M97.8,313.0C97.8,312.2 98.8,309.8 99.3,309.2C99.8,308.6 101.0,308.4 101.0,309.2C101.0,310.0 99.8,313.2 99.3,313.8C98.8,314.4 97.8,313.8 97.8,313.0Z"/>
</g>
<g clip-path="url(#c10)">
<path fill="#089a08" d="M53.7,263.1C54.2,262.6 48.2,263.1 56.7,263.1C65.2,263.1 88.5,263.1 104.4,263.1C120.3,263.1 143.7,263.1 152.1,263.1C160.5,263.1 154.6,262.6 155.1,263.1C155.6,263.6 155.1,259.8 155.1,266.1C155.1,272.4 155.1,289.5 155.1,301.1C155.1,312.8 155.1,329.9 155.1,336.2C155.1,342.5 155.6,338.7 155.1,339.2C154.6,339.7 160.5,339.2 152.1,339.2C143.7,339.2 120.3,339.2 104.4,339.2C88.5,339.2 65.2,339.2 56.7,339.2C48.2,339.2 54.2,339.7 53.7,339.2C53.2,338.7 53.7,342.5 53.7,336.2C53.7,329.9 53.7,312.8 53.7,301.1C53.7,289.5 53.7,272.4 53.7,266.1C53.7,259.8 53.2,263.6 53.7,263.1Z"/>
<path fill="#66c20a" d="M83.3,263.1C82.8,263.6 83.3,264.7 83.3,266.1C83.3,267.5 83.3,269.7 83.3,271.6C83.3,273.4 83.3,275.6 83.3,277.0C83.3,278.4 83.2,278.8 83.3,280.0C83.4,281.2 84.0,282.8 84.1,284.2C84.2,285.6 84.1,287.1 83.7,288.5C83.3,289.9 82.5,291.3 81.6,292.7C80.7,294.1 79.5,295.6 78.2,296.9C76.9,298.2 75.3,299.4 74.0,300.3C72.7,301.2 71.6,301.9 70.6,302.4C69.6,302.9 69.2,302.9 67.7,303.3C66.3,303.8 64.0,304.5 62.1,305.1C60.3,305.8 58.0,306.5 56.6,307.0C55.1,307.4 54.2,307.2 53.7,307.9C53.2,308.6 53.7,308.3 53.7,310.9C53.7,313.5 53.7,319.3 53.7,323.5C53.7,327.8 53.7,333.6 53.7,336.2C53.7,338.8 53.2,338.7 53.7,339.2C54.2,339.7 48.2,339.2 56.7,339.2C65.2,339.2 88.5,339.2 104.4,339.2C120.3,339.2 143.7,339.2 152.1,339.2C160.5,339.2 154.6,339.7 155.1,339.2C155.6,338.7 155.1,342.5 155.1,336.2C155.1,329.9 155.1,312.8 155.1,301.1C155.1,289.5 155.1,272.4 155.1,266.1C155.1,259.8 155.6,263.6 155.1,263.1C154.6,262.6 158.1,263.1 152.1,263.1C146.1,263.1 130.2,263.1 119.2,263.1C108.2,263.1 92.3,263.1 86.3,263.1C80.3,263.1 83.8,262.6 83.3,263.1Z"/>
<path fill="#a8f016" d="M101.9,263.1C101.4,263.6 101.9,264.7 101.8,266.1C101.8,267.5 101.7,269.7 101.7,271.6C101.7,273.4 101.6,275.6 101.6,277.0C101.5,278.4 101.7,278.9 101.5,280.0C101.3,281.1 101.0,282.0 100.2,283.4C99.4,284.8 97.9,286.9 96.8,288.5C95.7,290.1 94.5,291.4 93.4,292.7C92.3,294.0 91.3,295.2 90.0,296.1C88.7,297.0 87.3,297.6 85.8,298.2C84.2,298.8 82.4,299.1 80.7,299.9C79.0,300.7 77.1,301.8 75.7,302.8C74.3,303.9 73.2,305.2 72.3,306.2C71.4,307.2 71.3,308.0 70.6,308.7C69.9,309.4 69.7,309.4 68.3,310.6C66.9,311.7 64.2,313.9 62.1,315.5C60.1,317.1 57.4,319.3 56.0,320.4C54.6,321.6 54.1,321.5 53.7,322.3C53.3,323.1 53.7,323.9 53.7,325.3C53.7,326.7 53.7,328.9 53.7,330.8C53.7,332.6 53.7,334.8 53.7,336.2C53.7,337.6 53.2,338.7 53.7,339.2C54.2,339.7 48.2,339.2 56.7,339.2C65.2,339.2 88.5,339.2 104.4,339.2C120.3,339.2 143.7,339.2 152.1,339.2C160.5,339.2 154.6,339.7 155.1,339.2C155.6,338.7 155.1,342.5 155.1,336.2C155.1,329.9 155.1,312.8 155.1,301.1C155.1,289.5 155.1,272.4 155.1,266.1C155.1,259.8 155.6,263.6 155.1,263.1C154.6,262.6 156.5,263.1 152.1,263.1C147.7,263.1 136.4,263.1 128.5,263.1C120.6,263.1 109.3,263.1 104.9,263.1C100.5,263.1 102.4,262.6 101.9,263.1Z"/>
<path fill="#ffff80" d="M106.5,263.1C106.0,263.6 106.5,264.7 106.4,266.1C106.4,267.5 106.3,269.7 106.3,271.6C106.3,273.4 106.2,275.6 106.2,277.0C106.1,278.4 106.4,278.8 106.1,280.0C105.8,281.2 105.1,282.8 104.4,284.2C103.7,285.6 102.8,287.1 101.9,288.5C101.1,289.9 100.3,291.4 99.3,292.7C98.3,294.0 97.1,295.1 96.0,296.1C94.9,297.2 94.0,298.2 92.6,299.0C91.2,299.8 89.2,300.2 87.5,300.7C85.8,301.2 84.0,301.4 82.4,302.0C80.9,302.6 79.5,303.5 78.2,304.5C76.9,305.5 75.7,306.8 74.8,307.9C73.9,309.0 73.4,310.0 72.7,311.3C72.0,312.6 71.1,314.3 70.6,315.5C70.1,316.7 70.3,316.3 69.6,318.3C68.9,320.3 67.4,324.3 66.3,327.4C65.3,330.4 63.8,334.4 63.1,336.4C62.4,338.4 61.8,338.7 62.1,339.2C62.4,339.7 57.3,339.2 65.1,339.2C72.8,339.2 94.1,339.2 108.6,339.2C123.1,339.2 144.3,339.2 152.1,339.2C159.8,339.2 154.6,339.7 155.1,339.2C155.6,338.7 155.1,342.5 155.1,336.2C155.1,329.9 155.1,312.8 155.1,301.1C155.1,289.5 155.1,272.4 155.1,266.1C155.1,259.8 155.6,263.6 155.1,263.1C154.6,262.6 156.1,263.1 152.1,263.1C148.1,263.1 137.9,263.1 130.8,263.1C123.7,263.1 113.5,263.1 109.5,263.1C105.5,263.1 107.0,262.6 106.5,263.1Z"/>
<path fill="#ffd400" d="M109.5,263.1C109.0,263.6 109.5,264.7 109.4,266.1C109.4,267.5 109.3,269.7 109.3,271.6C109.3,273.4 109.2,275.6 109.2,277.0C109.1,278.4 109.5,278.8 109.1,280.0C108.7,281.2 107.5,282.8 106.9,284.2C106.3,285.6 105.9,287.1 105.3,288.5C104.7,289.9 104.0,291.4 103.1,292.7C102.2,294.0 101.0,295.3 99.8,296.5C98.6,297.7 97.1,298.9 96.0,299.9C94.9,300.9 94.7,301.8 93.4,302.4C92.1,302.9 90.1,302.8 88.4,303.2C86.7,303.6 84.7,303.9 83.3,304.5C81.9,305.1 81.0,306.1 79.9,307.0C78.8,307.9 77.8,308.9 76.9,310.0C76.0,311.1 75.2,312.5 74.4,313.8C73.6,315.1 72.9,316.3 72.3,318.0C71.7,319.7 70.9,322.5 70.6,324.0C70.3,325.5 70.6,325.7 70.6,327.0C70.6,328.3 70.6,330.1 70.6,331.6C70.6,333.1 70.6,334.9 70.6,336.2C70.6,337.5 70.1,338.7 70.6,339.2C71.1,339.7 66.6,339.2 73.6,339.2C80.6,339.2 99.8,339.2 112.8,339.2C125.9,339.2 145.1,339.2 152.1,339.2C159.1,339.2 154.6,339.7 155.1,339.2C155.6,338.7 155.1,342.5 155.1,336.2C155.1,329.9 155.1,312.8 155.1,301.1C155.1,289.5 155.1,272.4 155.1,266.1C155.1,259.8 155.6,263.6 155.1,263.1C154.6,262.6 155.9,263.1 152.1,263.1C148.3,263.1 138.9,263.1 132.3,263.1C125.7,263.1 116.3,263.1 112.5,263.1C108.7,263.1 110.0,262.6 109.5,263.1Z"/>
<path fill="#ff9900" d="M112.4,263.1C111.9,263.6 112.4,264.7 112.3,266.1C112.3,267.5 112.2,269.7 112.2,271.6C112.2,273.4 112.1,275.6 112.1,277.0C112.0,278.4 112.4,279.1 112.0,280.0C111.6,280.9 110.6,281.6 109.9,282.5C109.2,283.4 108.3,284.1 107.8,285.1C107.3,286.1 106.9,287.2 106.9,288.5C106.9,289.8 107.4,291.5 107.8,292.7C108.2,293.9 109.1,294.7 109.1,295.6C109.1,296.5 108.3,297.5 107.8,298.2C107.3,298.9 106.9,299.5 106.1,299.9C105.2,300.3 103.8,300.2 102.7,300.7C101.6,301.2 100.4,302.0 99.3,302.8C98.2,303.6 97.4,304.8 96.0,305.4C94.6,306.0 92.6,305.9 90.9,306.2C89.2,306.5 87.2,306.5 85.8,307.0C84.4,307.5 83.4,308.3 82.4,309.2C81.4,310.1 80.7,311.1 79.9,312.1C79.1,313.2 78.1,314.2 77.4,315.5C76.7,316.8 76.0,318.8 75.7,320.0C75.4,321.2 75.6,321.4 75.4,323.0C75.3,324.6 75.0,327.4 74.8,329.6C74.7,331.8 74.4,334.6 74.3,336.2C74.1,337.8 73.5,338.7 74.0,339.2C74.5,339.7 70.2,339.2 77.0,339.2C83.8,339.2 102.0,339.2 114.5,339.2C127.1,339.2 145.3,339.2 152.1,339.2C158.9,339.2 154.6,339.7 155.1,339.2C155.6,338.7 155.1,342.5 155.1,336.2C155.1,329.9 155.1,312.8 155.1,301.1C155.1,289.5 155.1,272.4 155.1,266.1C155.1,259.8 155.6,263.6 155.1,263.1C154.6,262.6 155.7,263.1 152.1,263.1C148.5,263.1 139.9,263.1 133.8,263.1C127.6,263.1 119.0,263.1 115.4,263.1C111.8,263.1 112.9,262.6 112.4,263.1Z"/>
<path fill="#e63c00" d="M111.2,288.5C111.6,287.5 112.1,286.0 112.9,285.1C113.7,284.2 114.8,284.0 116.2,283.4C117.6,282.8 121.0,281.1 121.3,281.7C121.6,282.3 119.2,285.2 117.9,286.8C116.6,288.4 114.8,289.9 113.7,291.0C112.6,292.1 111.8,293.5 111.2,293.5C110.6,293.5 110.3,291.8 110.3,291.0C110.3,290.2 110.8,289.5 111.2,288.5Z"/>
<path fill="#e63c00" d="M79.1,324.0C78.7,323.3 79.4,321.4 79.9,320.0C80.5,318.6 81.4,316.8 82.4,315.5C83.4,314.2 84.5,313.1 85.8,312.5C87.1,311.9 88.8,311.7 90.0,312.1C91.2,312.5 92.4,313.7 93.0,314.7C93.6,315.7 93.7,316.4 93.8,318.0C93.9,319.6 94.0,323.0 93.4,324.0C92.8,325.0 91.6,324.0 90.4,324.0C89.2,324.0 87.6,324.0 86.2,324.0C84.9,324.0 83.3,324.0 82.1,324.0C80.9,324.0 79.5,324.7 79.1,324.0Z"/>
<path fill="#e63c00" d="M97.8,313.0C97.8,312.2 98.8,309.8 99.3,309.2C99.8,308.6 101.0,308.4 101.0,309.2C101.0,310.0 99.8,313.2 99.3,313.8C98.8,314.4 97.8,313.8 97.8,313.0Z"/>
</g>
<g clip-path="url(#c11)">
<path fill="#73b2ff" d="M-63.5,325.9C-63.0,325.4 -71.1,325.9 -60.5,325.9C-49.9,325.9 -20.2,325.9 -0.1,325.9C20.0,325.9 49.7,325.9 60.3,325.9C70.9,325.9 62.8,325.4 63.3,325.9C63.8,326.4 63.3,320.7 63.3,328.9C63.3,337.1 63.3,359.8 63.3,375.2C63.3,390.6 63.3,413.3 63.3,421.5C63.3,429.7 63.8,424.0 63.3,424.5C62.8,425.0 70.9,424.5 60.3,424.5C49.7,424.5 20.0,424.5 -0.1,424.5C-20.2,424.5 -49.9,424.5 -60.5,424.5C-71.1,424.5 -63.0,425.0 -63.5,424.5C-64.0,424.0 -63.5,429.7 -63.5,421.5C-63.5,413.3 -63.5,390.6 -63.5,375.2C-63.5,359.8 -63.5,337.1 -63.5,328.9C-63.5,320.7 -64.0,326.4 -63.5,325.9Z"/>
<path fill="#089a08" d="M16.8,325.9C16.3,326.4 16.8,327.7 16.8,328.9C16.8,330.1 16.8,331.6 16.8,332.9C16.8,334.3 16.8,335.8 16.8,337.0C16.8,338.2 17.0,338.6 16.8,340.0C16.6,341.4 15.8,343.7 15.4,345.6C15.1,347.5 14.6,349.7 14.7,351.3C14.8,352.9 16.5,354.6 16.1,355.5C15.8,356.4 14.1,357.0 12.6,356.9C11.1,356.8 8.8,355.3 6.9,354.8C5.0,354.3 2.9,353.8 1.3,354.1C-0.3,354.5 -1.7,355.7 -2.9,356.9C-4.1,358.1 -5.0,359.5 -5.7,361.1C-6.4,362.8 -6.4,365.0 -7.1,366.8C-7.8,368.6 -8.8,370.2 -10.0,371.7C-11.2,373.2 -12.6,374.4 -14.2,375.9C-15.8,377.4 -18.2,379.3 -19.8,380.8C-21.4,382.3 -22.8,383.5 -24.0,385.1C-25.2,386.8 -26.2,388.8 -26.9,390.7C-27.6,392.6 -27.9,394.4 -28.3,396.3C-28.7,398.2 -28.8,399.2 -29.0,402.0C-29.2,404.8 -30.1,411.3 -29.7,413.2C-29.3,415.1 -35.6,412.6 -26.7,413.5C-17.8,414.5 7.0,417.1 23.9,418.9C40.7,420.6 65.5,423.2 74.4,424.2C83.3,425.1 76.9,424.9 77.4,424.5C77.9,424.1 77.4,429.7 77.4,421.5C77.4,413.3 77.4,390.6 77.4,375.2C77.4,359.8 77.4,337.1 77.4,328.9C77.4,320.7 77.9,326.4 77.4,325.9C76.9,325.4 79.5,325.9 74.4,325.9C69.4,325.9 56.2,325.9 47.1,325.9C38.0,325.9 24.8,325.9 19.8,325.9C14.7,325.9 17.3,325.4 16.8,325.9Z"/>
<path fill="#66c20a" d="M22.4,325.9C21.9,326.4 22.3,327.7 22.3,328.9C22.2,330.1 22.1,331.6 22.0,332.9C22.0,334.3 21.9,335.8 21.8,337.0C21.8,338.2 22.1,338.6 21.7,340.0C21.3,341.4 20.1,343.8 19.6,345.6C19.1,347.4 18.8,349.1 18.9,350.6C19.0,352.1 20.6,353.4 20.3,354.8C20.0,356.2 18.3,358.4 16.8,359.0C15.3,359.6 13.1,358.7 11.2,358.3C9.3,357.9 7.3,356.9 5.5,356.9C3.7,356.9 1.9,357.4 0.6,358.3C-0.7,359.2 -1.5,360.9 -2.2,362.5C-2.9,364.1 -2.9,366.4 -3.6,368.2C-4.3,370.0 -5.3,371.6 -6.4,373.1C-7.5,374.6 -8.9,376.0 -10.0,377.3C-11.1,378.6 -12.7,379.5 -12.8,380.8C-12.9,382.1 -11.3,383.7 -10.7,385.1C-10.1,386.5 -9.2,388.1 -9.3,389.3C-9.4,390.5 -10.1,392.1 -11.4,392.1C-12.7,392.1 -15.4,389.3 -17.0,389.3C-18.6,389.3 -20.3,390.7 -21.2,392.1C-22.1,393.5 -22.2,395.8 -22.6,397.7C-23.0,399.6 -23.2,400.8 -23.3,403.4C-23.4,406.0 -23.8,411.5 -23.3,413.2C-22.8,414.9 -28.7,412.6 -20.3,413.5C-11.9,414.5 11.3,417.1 27.1,418.9C42.8,420.6 66.0,423.2 74.4,424.2C82.8,425.1 76.9,424.9 77.4,424.5C77.9,424.1 77.4,429.7 77.4,421.5C77.4,413.3 77.4,390.6 77.4,375.2C77.4,359.8 77.4,337.1 77.4,328.9C77.4,320.7 77.9,326.4 77.4,325.9C76.9,325.4 79.0,325.9 74.4,325.9C69.8,325.9 58.1,325.9 49.9,325.9C41.7,325.9 30.0,325.9 25.4,325.9C20.8,325.9 22.9,325.4 22.4,325.9Z"/>
<path fill="#a8f016" d="M27.4,325.9C26.9,326.4 27.3,327.7 27.3,328.9C27.2,330.1 27.1,331.6 27.0,332.9C27.0,334.3 26.9,335.8 26.8,337.0C26.8,338.2 27.2,338.6 26.7,340.0C26.2,341.4 24.5,343.7 23.8,345.6C23.1,347.5 22.4,349.7 22.4,351.3C22.4,352.9 24.3,353.9 23.8,355.5C23.3,357.1 21.2,360.2 19.6,361.1C18.0,362.0 16.1,361.3 14.0,361.1C11.9,360.9 8.8,359.7 6.9,359.7C5.0,359.7 3.8,360.2 2.7,361.1C1.7,362.1 1.2,363.9 0.6,365.4C0.0,366.9 -0.2,368.7 -0.8,370.3C-1.4,371.9 -2.0,373.6 -2.9,375.2C-3.8,376.8 -5.7,378.7 -6.4,380.1C-7.1,381.5 -7.4,382.4 -7.1,383.7C-6.8,385.0 -5.0,386.5 -4.3,387.9C-3.6,389.3 -2.7,390.7 -2.9,392.1C-3.1,393.5 -4.6,395.3 -5.7,396.3C-6.8,397.3 -8.8,397.1 -9.3,398.0C-9.8,398.9 -9.0,399.5 -8.6,402.0C-8.2,404.5 -7.8,411.3 -7.1,413.2C-6.4,415.1 -11.2,412.7 -4.1,413.6C2.9,414.5 22.1,417.1 35.1,418.9C48.2,420.6 67.4,423.2 74.4,424.1C81.5,425.0 76.9,424.9 77.4,424.5C77.9,424.1 77.4,429.7 77.4,421.5C77.4,413.3 77.4,390.6 77.4,375.2C77.4,359.8 77.4,337.1 77.4,328.9C77.4,320.7 77.9,326.4 77.4,325.9C76.9,325.4 78.6,325.9 74.4,325.9C70.2,325.9 59.7,325.9 52.4,325.9C45.1,325.9 34.6,325.9 30.4,325.9C26.2,325.9 27.9,325.4 27.4,325.9Z"/>
<path fill="#ffff80" d="M31.6,325.9C31.1,326.4 31.5,327.7 31.5,328.9C31.4,330.1 31.3,331.6 31.2,332.9C31.2,334.3 31.1,335.8 31.0,337.0C31.0,338.2 31.5,338.6 30.9,340.0C30.3,341.4 28.3,343.7 27.4,345.6C26.4,347.5 25.3,349.5 25.2,351.3C25.1,353.1 27.2,354.3 26.7,356.2C26.2,358.1 24.3,361.3 22.4,362.5C20.5,363.7 17.8,363.3 15.4,363.2C13.1,363.1 10.1,361.8 8.3,361.8C6.5,361.8 5.7,362.2 4.8,363.2C3.9,364.1 3.6,366.0 3.0,367.5C2.4,369.0 1.9,370.8 1.3,372.4C0.7,374.0 0.0,375.8 -0.8,377.3C-1.6,378.8 -3.2,380.2 -3.6,381.5C-4.0,382.8 -3.5,383.9 -2.9,385.1C-2.3,386.3 -0.7,387.2 -0.1,388.6C0.5,390.0 0.8,392.0 0.6,393.5C0.4,395.0 -0.7,396.3 -1.5,397.7C-2.3,399.1 -4.1,399.4 -4.3,402.0C-4.5,404.6 -3.6,411.3 -2.9,413.2C-2.2,415.1 -6.6,412.7 0.1,413.6C6.8,414.6 24.9,417.1 37.3,418.9C49.6,420.6 67.7,423.1 74.4,424.1C81.1,425.0 76.9,424.9 77.4,424.5C77.9,424.1 77.4,429.7 77.4,421.5C77.4,413.3 77.4,390.6 77.4,375.2C77.4,359.8 77.4,337.1 77.4,328.9C77.4,320.7 77.9,326.4 77.4,325.9C76.9,325.4 78.2,325.9 74.4,325.9C70.6,325.9 61.1,325.9 54.5,325.9C47.9,325.9 38.4,325.9 34.6,325.9C30.8,325.9 32.1,325.4 31.6,325.9Z"/>
<path fill="#ffd400" d="M35.8,325.9C35.3,326.4 35.7,327.7 35.7,328.9C35.6,330.1 35.5,331.6 35.5,332.9C35.4,334.3 35.3,335.8 35.2,337.0C35.2,338.2 35.8,338.5 35.1,340.0C34.4,341.5 32.1,344.3 30.9,346.3C29.7,348.3 28.5,350.1 28.1,352.0C27.8,353.9 29.4,355.6 28.8,357.6C28.2,359.6 26.5,362.6 24.5,363.9C22.5,365.2 19.2,365.4 16.8,365.4C14.4,365.4 11.5,363.9 9.8,363.9C8.2,363.9 7.7,364.4 6.9,365.4C6.1,366.3 5.5,368.1 4.8,369.6C4.1,371.1 3.6,372.9 3.0,374.5C2.4,376.1 1.9,378.1 1.3,379.4C0.7,380.7 -0.7,381.1 -0.8,382.3C-0.9,383.5 -0.1,385.3 0.6,386.5C1.3,387.7 2.3,388.1 3.4,389.3C4.5,390.5 5.8,392.3 6.9,393.5C8.0,394.7 9.6,395.1 9.8,396.3C10.0,397.5 9.2,399.4 8.3,400.6C7.4,401.8 5.3,401.3 4.1,403.4C2.9,405.5 1.3,411.5 1.3,413.2C1.3,414.9 -2.1,412.7 4.3,413.6C10.6,414.6 27.7,417.1 39.4,418.9C51.0,420.6 68.1,423.1 74.4,424.1C80.8,425.0 76.9,424.9 77.4,424.5C77.9,424.1 77.4,429.7 77.4,421.5C77.4,413.3 77.4,390.6 77.4,375.2C77.4,359.8 77.4,337.1 77.4,328.9C77.4,320.7 77.9,326.4 77.4,325.9C76.9,325.4 77.9,325.9 74.4,325.9C70.9,325.9 62.5,325.9 56.6,325.9C50.7,325.9 42.3,325.9 38.8,325.9C35.3,325.9 36.3,325.4 35.8,325.9Z"/>
<path fill="#ff9900" d="M39.3,325.9C38.8,326.4 39.2,327.7 39.2,328.9C39.1,330.1 39.0,331.6 39.0,332.9C38.9,334.3 38.8,335.8 38.7,337.0C38.7,338.2 39.4,338.3 38.6,340.0C37.8,341.7 35.1,344.9 33.7,347.0C32.3,349.1 30.7,350.8 30.2,352.7C29.7,354.6 31.5,356.2 30.9,358.3C30.3,360.4 28.8,363.9 26.7,365.4C24.6,366.9 20.8,367.4 18.2,367.5C15.6,367.6 12.8,366.0 11.2,366.1C9.6,366.2 9.3,367.1 8.6,368.2C7.9,369.2 7.5,370.9 6.9,372.4C6.3,373.9 5.5,375.8 4.8,377.3C4.1,378.8 3.1,380.2 3.0,381.5C2.9,382.8 3.4,384.0 4.1,385.1C4.8,386.2 5.7,387.0 6.9,387.9C8.1,388.8 9.9,389.5 11.2,390.7C12.5,391.9 13.8,393.5 14.7,394.9C15.6,396.3 16.2,397.8 16.8,399.2C17.4,400.6 18.2,401.1 18.2,403.4C18.2,405.7 16.5,411.5 16.8,413.2C17.1,414.9 14.7,412.8 19.7,413.7C24.8,414.7 38.0,417.1 47.1,418.9C56.2,420.6 69.4,423.0 74.5,424.0C79.5,424.9 76.9,424.9 77.4,424.5C77.9,424.1 77.4,429.7 77.4,421.5C77.4,413.3 77.4,390.6 77.4,375.2C77.4,359.8 77.4,337.1 77.4,328.9C77.4,320.7 77.9,326.4 77.4,325.9C76.9,325.4 77.6,325.9 74.4,325.9C71.2,325.9 63.7,325.9 58.4,325.9C53.0,325.9 45.5,325.9 42.3,325.9C39.1,325.9 39.8,325.4 39.3,325.9Z"/>
<path fill="#e63c00" d="M27.8,362.5C28.1,360.5 29.0,357.4 30.2,355.5C31.4,353.6 33.4,352.2 35.1,351.3C36.9,350.4 39.2,349.8 40.7,349.9C42.2,350.0 43.8,350.6 44.3,352.0C44.8,353.4 44.2,356.1 43.6,358.3C43.0,360.5 41.9,363.4 40.7,365.4C39.5,367.4 38.1,369.4 36.5,370.3C34.9,371.2 32.3,371.5 30.9,371.0C29.5,370.5 28.6,368.9 28.1,367.5C27.6,366.1 27.5,364.5 27.8,362.5Z"/>
<path fill="#e63c00" d="M9.1,386.5C9.2,384.4 10.5,381.6 11.2,379.4C11.9,377.2 12.2,374.5 13.3,373.1C14.4,371.7 16.2,370.9 17.5,371.0C18.8,371.1 20.2,372.8 21.0,373.8C21.8,374.9 21.3,376.8 22.4,377.3C23.5,377.8 26.4,376.5 27.4,376.9C28.3,377.2 28.7,378.5 28.1,379.4C27.5,380.3 24.6,380.9 23.8,382.3C23.0,383.7 23.8,386.1 23.1,387.9C22.4,389.6 21.0,391.6 19.6,392.8C18.2,394.0 16.2,395.0 14.7,394.9C13.2,394.8 11.4,393.5 10.5,392.1C9.6,390.7 9.0,388.6 9.1,386.5Z"/>
<path fill="#e63c00" d="M27.8,382.3C28.2,381.4 30.4,380.6 31.6,380.6C32.8,380.6 34.8,381.5 35.1,382.3C35.5,383.1 34.6,384.8 33.7,385.4C32.8,386.0 30.5,386.3 29.5,385.8C28.5,385.3 27.4,383.2 27.8,382.3Z"/>
<path fill="#e63c00" d="M40.5,378.0C40.9,377.1 42.4,375.7 43.6,375.5C44.8,375.3 47.0,376.0 47.8,376.9C48.5,377.8 48.7,379.9 48.1,380.8C47.5,381.7 45.5,382.2 44.3,382.3C43.1,382.4 41.6,381.8 41.0,381.1C40.4,380.4 40.1,378.9 40.5,378.0Z"/>
<path fill="#e63c00" d="M30.6,395.6C31.2,394.8 33.4,393.7 35.1,393.2C36.8,392.7 39.3,392.6 40.7,392.8C42.1,393.0 43.6,393.4 43.6,394.2C43.6,395.0 42.1,396.7 40.7,397.5C39.3,398.3 36.6,398.8 35.1,398.9C33.6,399.0 32.4,398.6 31.6,398.0C30.9,397.4 30.0,396.4 30.6,395.6Z"/>
<path fill="#e63c00" d="M47.1,337.2C47.8,336.3 51.3,336.4 52.0,337.2C52.7,338.0 51.9,341.2 51.3,342.1C50.6,343.0 48.8,343.6 48.1,342.8C47.4,342.0 46.5,338.1 47.1,337.2Z"/>
<path fill="#ffd400" d="M43.8,361.1C44.3,359.6 45.6,357.4 46.4,357.2C47.2,357.0 48.2,358.1 48.5,359.7C48.8,361.3 48.6,365.1 48.1,366.8C47.6,368.5 46.5,369.7 45.7,369.6C45.0,369.5 43.9,367.5 43.6,366.1C43.3,364.7 43.3,362.6 43.8,361.1Z"/>
<path fill="#ffd400" d="M29.5,389.6C29.9,389.0 31.4,387.9 32.3,387.9C33.2,387.8 35.0,388.7 35.1,389.3C35.2,389.9 33.8,391.1 33.0,391.4C32.2,391.7 30.8,391.6 30.2,391.3C29.6,391.0 29.1,390.2 29.5,389.6Z"/>
<path fill="#ffd400" d="M23.1,381.4C23.3,381.1 24.2,380.9 24.5,381.1C24.8,381.3 25.0,382.2 24.8,382.5C24.6,382.8 23.7,383.0 23.4,382.8C23.1,382.6 22.9,381.7 23.1,381.4Z"/>
<path fill="#a8f016" d="M-16.0,395.2C-15.8,394.4 -14.7,393.1 -13.9,393.0C-13.1,392.9 -11.6,393.9 -11.4,394.6C-11.2,395.4 -11.9,397.0 -12.5,397.5C-13.1,398.0 -14.6,398.1 -15.2,397.7C-15.8,397.3 -16.2,396.0 -16.0,395.2Z"/>
<path fill="#0047bb" d="M-15.2,367.5C-15.0,366.6 -13.7,363.4 -13.1,362.5C-12.5,361.6 -11.7,361.7 -11.7,362.3C-11.7,362.9 -12.7,365.1 -13.1,366.1C-13.5,367.1 -13.8,368.0 -14.2,368.2C-14.5,368.4 -15.4,368.4 -15.2,367.5Z"/>
</g>
<g clip-path="url(#c12)">
<path fill="#ff9900" d="M-8.5,325.9C-8.0,325.4 -16.1,325.9 -5.5,325.9C5.1,325.9 34.8,325.9 54.9,325.9C75.0,325.9 104.7,325.9 115.3,325.9C125.9,325.9 117.8,325.4 118.3,325.9C118.8,326.4 118.3,320.7 118.3,328.9C118.3,337.1 118.3,359.8 118.3,375.2C118.3,390.6 118.3,413.3 118.3,421.5C118.3,429.7 118.8,424.0 118.3,424.5C117.8,425.0 125.9,424.5 115.3,424.5C104.7,424.5 75.0,424.5 54.9,424.5C34.8,424.5 5.1,424.5 -5.5,424.5C-16.1,424.5 -8.0,425.0 -8.5,424.5C-9.0,424.0 -8.5,429.7 -8.5,421.5C-8.5,413.3 -8.5,390.6 -8.5,375.2C-8.5,359.8 -8.5,337.1 -8.5,328.9C-8.5,320.7 -9.0,326.4 -8.5,325.9Z"/>
<path fill="#e63c00" d="M55.6,347.0C55.5,345.6 56.9,344.0 58.4,342.1C59.9,340.2 61.4,336.9 64.8,335.8C68.2,334.8 75.4,334.8 78.8,335.8C82.2,336.9 85.2,340.7 85.2,342.1C85.2,343.5 81.0,343.3 78.8,344.2C76.6,345.1 74.1,346.6 71.8,347.7C69.5,348.8 66.9,350.1 64.8,350.6C62.7,351.1 60.6,351.2 59.1,350.6C57.6,350.0 55.7,348.4 55.6,347.0Z"/>
<path fill="#ff9900" d="M67.1,343.5C67.2,342.6 69.1,341.3 70.4,341.1C71.7,340.9 74.2,341.4 74.9,342.1C75.6,342.8 75.2,344.7 74.3,345.4C73.4,346.1 70.9,346.6 69.7,346.3C68.5,346.0 67.0,344.4 67.1,343.5Z"/>
<path fill="#e63c00" d="M47.9,335.8C48.8,334.6 53.8,334.8 54.9,335.8C56.0,336.9 55.1,340.9 54.2,342.1C53.3,343.3 50.3,343.9 49.3,342.8C48.2,341.8 47.0,337.0 47.9,335.8Z"/>
<path fill="#e63c00" d="M49.5,356.6C49.5,356.1 50.5,355.4 51.0,355.5C51.5,355.6 52.4,356.4 52.4,356.9C52.4,357.4 51.5,358.4 51.0,358.3C50.5,358.2 49.5,357.1 49.5,356.6Z"/>
</g>
<g clip-path="url(#c13)">
<path fill="#ff9900" d="M-63.5,370.9C-63.0,370.4 -71.1,370.9 -60.5,370.9C-49.9,370.9 -20.2,370.9 -0.1,370.9C20.0,370.9 49.7,370.9 60.3,370.9C70.9,370.9 62.8,370.4 63.3,370.9C63.8,371.4 63.3,365.7 63.3,373.9C63.3,382.1 63.3,404.8 63.3,420.2C63.3,435.6 63.3,458.3 63.3,466.5C63.3,474.7 63.8,469.0 63.3,469.5C62.8,470.0 70.9,469.5 60.3,469.5C49.7,469.5 20.0,469.5 -0.1,469.5C-20.2,469.5 -49.9,469.5 -60.5,469.5C-71.1,469.5 -63.0,470.0 -63.5,469.5C-64.0,469.0 -63.5,474.7 -63.5,466.5C-63.5,458.3 -63.5,435.6 -63.5,420.2C-63.5,404.8 -63.5,382.1 -63.5,373.9C-63.5,365.7 -64.0,371.4 -63.5,370.9Z"/>
<path fill="#ffd400" d="M6.9,370.9C7.4,373.1 6.8,381.0 6.9,384.3C7.0,387.6 6.9,388.8 7.6,390.6C8.3,392.4 9.7,393.9 11.2,394.9C12.7,395.8 15.2,395.6 16.8,396.3C18.4,397.0 19.8,397.9 21.0,399.1C22.2,400.3 22.9,401.9 23.8,403.3C24.8,404.7 25.8,406.1 26.7,407.5C27.6,408.9 28.6,410.6 29.5,411.8C30.4,413.0 30.9,413.4 32.3,414.6C33.7,415.8 37.0,417.6 37.9,418.8C38.8,420.0 37.9,417.6 37.9,421.8C37.9,426.0 37.9,436.7 37.9,444.1C37.9,451.6 37.9,462.3 37.9,466.5C37.9,470.7 38.4,469.0 37.9,469.5C37.4,470.0 43.4,469.5 34.9,469.5C26.4,469.5 3.1,469.5 -12.8,469.5C-28.7,469.5 -52.1,469.5 -60.5,469.5C-69.0,469.5 -63.0,470.0 -63.5,469.5C-64.0,469.0 -63.5,474.7 -63.5,466.5C-63.5,458.3 -63.5,435.6 -63.5,420.2C-63.5,404.8 -63.5,382.1 -63.5,373.9C-63.5,365.7 -64.0,371.4 -63.5,370.9C-63.0,370.4 -66.4,370.9 -60.5,370.9C-54.6,370.9 -39.0,370.9 -28.3,370.9C-17.6,370.9 -2.0,370.9 3.9,370.9C9.8,370.9 6.4,368.7 6.9,370.9Z"/>
<path fill="#ffff80" d="M2.7,370.9C3.2,373.1 2.9,381.0 2.7,384.3C2.5,387.6 1.7,388.6 1.6,390.6C1.6,392.6 1.8,394.9 2.4,396.3C3.0,397.7 4.2,398.4 5.2,399.1C6.2,399.8 7.3,399.7 8.6,400.5C9.9,401.3 11.6,403.5 12.9,404.0C14.2,404.5 15.2,402.9 16.4,403.3C17.6,403.7 19.0,404.8 19.9,406.1C20.8,407.4 21.0,409.7 21.7,411.1C22.4,412.5 22.9,413.5 23.8,414.6C24.8,415.7 26.0,416.5 27.4,417.7C28.8,418.9 31.5,420.5 32.3,421.6C33.1,422.8 32.3,420.6 32.3,424.6C32.3,428.6 32.3,438.6 32.3,445.6C32.3,452.5 32.3,462.5 32.3,466.5C32.3,470.5 32.8,469.0 32.3,469.5C31.8,470.0 37.3,469.5 29.3,469.5C21.3,469.5 -0.6,469.5 -15.6,469.5C-30.6,469.5 -52.5,469.5 -60.5,469.5C-68.5,469.5 -63.0,470.0 -63.5,469.5C-64.0,469.0 -63.5,474.7 -63.5,466.5C-63.5,458.3 -63.5,435.6 -63.5,420.2C-63.5,404.8 -63.5,382.1 -63.5,373.9C-63.5,365.7 -64.0,371.4 -63.5,370.9C-63.0,370.4 -66.0,370.9 -60.5,370.9C-55.0,370.9 -40.4,370.9 -30.4,370.9C-20.4,370.9 -5.8,370.9 -0.3,370.9C5.2,370.9 2.2,368.7 2.7,370.9Z"/>
<path fill="#a8f016" d="M-0.8,370.9C-0.3,373.1 -0.6,381.0 -0.8,384.3C-1.0,387.6 -1.6,388.4 -2.2,390.6C-2.8,392.8 -4.3,395.6 -4.6,397.7C-4.9,399.8 -4.6,401.7 -4.0,403.0C-3.4,404.3 -2.0,404.9 -0.8,405.4C0.4,405.9 2.1,406.2 3.4,406.1C4.7,406.0 5.6,404.5 6.9,404.7C8.2,404.9 9.7,406.7 11.2,407.5C12.7,408.3 14.7,408.9 16.1,409.6C17.5,410.3 18.6,411.0 19.6,411.8C20.7,412.6 21.3,413.6 22.4,414.6C23.5,415.7 24.8,416.9 26.0,418.1C27.2,419.3 28.9,420.5 29.5,421.6C30.1,422.7 29.5,420.6 29.5,424.6C29.5,428.6 29.5,438.6 29.5,445.6C29.5,452.5 29.5,462.5 29.5,466.5C29.5,470.5 30.0,469.0 29.5,469.5C29.0,470.0 34.2,469.5 26.5,469.5C18.8,469.5 -2.5,469.5 -17.0,469.5C-31.5,469.5 -52.8,469.5 -60.5,469.5C-68.2,469.5 -63.0,470.0 -63.5,469.5C-64.0,469.0 -63.5,474.7 -63.5,466.5C-63.5,458.3 -63.5,435.6 -63.5,420.2C-63.5,404.8 -63.5,382.1 -63.5,373.9C-63.5,365.7 -64.0,371.4 -63.5,370.9C-63.0,370.4 -65.7,370.9 -60.5,370.9C-55.3,370.9 -41.6,370.9 -32.1,370.9C-22.7,370.9 -9.0,370.9 -3.8,370.9C1.4,370.9 -1.3,368.7 -0.8,370.9Z"/>
<path fill="#66c20a" d="M-7.1,370.9C-6.6,373.1 -6.8,381.0 -7.1,384.3C-7.3,387.6 -8.6,388.8 -8.6,390.6C-8.6,392.4 -7.0,393.5 -7.1,394.9C-7.2,396.3 -9.2,397.7 -9.3,399.1C-9.4,400.5 -9.0,402.1 -7.9,403.3C-6.8,404.5 -4.2,405.2 -2.9,406.1C-1.6,407.0 -1.4,408.3 -0.1,408.9C1.2,409.5 3.1,409.2 4.8,409.6C6.5,410.0 8.0,410.5 9.8,411.1C11.6,411.7 13.8,412.4 15.4,413.2C17.0,414.0 18.2,415.1 19.6,416.0C21.0,416.9 22.5,417.8 23.8,418.8C25.1,419.9 26.8,421.2 27.4,422.3C28.0,423.4 27.4,421.4 27.4,425.3C27.4,429.2 27.4,439.0 27.4,445.9C27.4,452.8 27.4,462.6 27.4,466.5C27.4,470.4 27.9,469.0 27.4,469.5C26.9,470.0 32.0,469.5 24.4,469.5C16.8,469.5 -3.9,469.5 -18.1,469.5C-32.2,469.5 -52.9,469.5 -60.5,469.5C-68.1,469.5 -63.0,470.0 -63.5,469.5C-64.0,469.0 -63.5,474.7 -63.5,466.5C-63.5,458.3 -63.5,435.6 -63.5,420.2C-63.5,404.8 -63.5,382.1 -63.5,373.9C-63.5,365.7 -64.0,371.4 -63.5,370.9C-63.0,370.4 -65.2,370.9 -60.5,370.9C-55.8,370.9 -43.7,370.9 -35.3,370.9C-26.9,370.9 -14.8,370.9 -10.1,370.9C-5.4,370.9 -7.6,368.7 -7.1,370.9Z"/>
<path fill="#089a08" d="M-19.1,370.9C-18.6,373.1 -18.8,381.0 -19.1,384.3C-19.5,387.6 -20.6,388.4 -21.2,390.6C-21.8,392.8 -22.5,395.6 -22.6,397.7C-22.7,399.8 -22.5,401.4 -21.9,403.3C-21.3,405.2 -20.3,407.2 -19.1,408.9C-17.9,410.5 -16.1,412.1 -14.9,413.2C-13.7,414.3 -13.0,414.4 -12.1,415.3C-11.2,416.2 -9.9,417.5 -9.3,418.8C-8.7,420.1 -8.2,422.3 -8.6,423.0C-9.0,423.7 -7.0,422.9 -11.6,423.2C-16.2,423.6 -27.9,424.5 -36.0,425.1C-44.2,425.8 -55.9,426.7 -60.5,427.1C-65.1,427.4 -63.0,427.8 -63.5,427.3C-64.0,426.8 -63.5,429.0 -63.5,424.3C-63.5,419.6 -63.5,407.5 -63.5,399.1C-63.5,390.7 -63.5,378.6 -63.5,373.9C-63.5,369.2 -64.0,371.4 -63.5,370.9C-63.0,370.4 -64.2,370.9 -60.5,370.9C-56.8,370.9 -47.7,370.9 -41.3,370.9C-34.9,370.9 -25.8,370.9 -22.1,370.9C-18.4,370.9 -19.6,368.7 -19.1,370.9Z"/>
<path fill="#73b2ff" d="M-43.8,410.4C-44.1,409.0 -43.2,409.0 -42.6,407.6C-42.0,406.2 -41.0,403.8 -40.2,401.9C-39.5,400.1 -38.5,397.7 -37.9,396.3C-37.3,394.9 -37.0,394.4 -36.7,393.5C-36.4,392.6 -36.5,392.5 -36.1,390.6C-35.7,388.7 -34.9,385.0 -34.2,382.2C-33.6,379.4 -32.8,375.7 -32.4,373.8C-32.0,371.9 -32.7,371.4 -31.8,370.9C-30.9,370.4 -27.7,368.7 -26.9,370.9C-26.1,373.1 -26.7,381.0 -26.9,384.3C-27.1,387.6 -27.9,388.4 -28.3,390.6C-28.7,392.8 -29.0,395.6 -29.0,397.7C-29.0,399.8 -28.9,401.4 -28.3,403.3C-27.7,405.2 -26.6,407.1 -25.5,408.9C-24.4,410.7 -22.4,412.4 -21.9,413.9C-21.4,415.4 -21.1,417.0 -22.4,417.7C-23.7,418.4 -27.6,418.0 -29.7,418.2C-31.8,418.4 -33.4,419.2 -35.3,418.8C-37.2,418.4 -39.5,417.4 -40.9,416.0C-42.3,414.6 -43.5,411.8 -43.8,410.4Z"/>
<path fill="#0047bb" d="M-40.7,407.5C-40.5,406.7 -39.3,406.0 -38.8,406.1C-38.2,406.2 -37.5,407.4 -37.4,408.2C-37.3,409.0 -37.6,410.6 -38.1,411.1C-38.6,411.6 -39.8,411.7 -40.2,411.1C-40.6,410.5 -40.9,408.3 -40.7,407.5Z"/>
<path fill="#a8f016" d="M-16.0,394.9C-15.8,393.9 -14.7,392.8 -13.9,392.7C-13.1,392.6 -11.7,393.8 -11.4,394.6C-11.1,395.4 -11.5,397.1 -12.1,397.7C-12.7,398.3 -14.2,398.9 -14.9,398.4C-15.6,397.9 -16.2,395.8 -16.0,394.9Z"/>
<path fill="#089a08" d="M8.3,422.3C8.4,421.0 10.5,419.1 11.9,418.5C13.3,417.9 15.5,418.2 16.8,418.8C18.1,419.4 19.9,420.7 19.9,421.9C19.9,423.1 18.2,425.0 16.8,425.8C15.4,426.6 12.6,427.1 11.2,426.5C9.8,425.9 8.2,423.6 8.3,422.3Z"/>
<path fill="#089a08" d="M2.0,410.6C2.1,410.2 3.0,410.0 3.4,410.1C3.8,410.2 4.4,411.1 4.3,411.5C4.2,411.9 3.4,412.6 3.0,412.5C2.6,412.4 1.9,411.0 2.0,410.6Z"/>
<path fill="#e63c00" d="M8.6,387.8C8.7,385.9 8.7,382.0 11.2,380.8C13.7,379.6 21.8,379.4 23.8,380.8C25.8,382.2 23.8,387.2 23.1,389.2C22.4,391.2 21.1,391.9 19.6,392.7C18.1,393.5 15.5,394.3 14.0,394.2C12.5,394.1 11.4,393.1 10.5,392.0C9.6,390.9 8.5,389.7 8.6,387.8Z"/>
<path fill="#e63c00" d="M30.6,395.6C30.6,394.5 32.4,393.4 33.7,392.7C35.0,392.0 37.1,391.3 38.6,391.3C40.1,391.3 42.3,392.0 42.9,392.7C43.5,393.4 42.9,394.7 42.1,395.6C41.3,396.6 39.3,397.8 37.9,398.4C36.5,399.0 34.9,399.6 33.7,399.1C32.5,398.6 30.6,396.7 30.6,395.6Z"/>
<path fill="#e63c00" d="M32.6,407.5C32.8,406.5 34.2,404.5 35.1,404.0C36.0,403.5 37.7,403.9 37.9,404.7C38.1,405.5 37.2,408.0 36.5,408.9C35.8,409.8 34.4,410.3 33.7,410.1C33.1,409.9 32.4,408.5 32.6,407.5Z"/>
<path fill="#ffd400" d="M28.8,389.9C29.0,389.1 30.6,387.9 31.6,387.8C32.6,387.7 34.8,388.5 35.1,389.2C35.5,389.9 34.5,391.5 33.7,392.0C32.9,392.5 31.0,392.7 30.2,392.3C29.4,391.9 28.6,390.6 28.8,389.9Z"/>
<path fill="#ffd400" d="M26.7,403.3C27.1,402.7 28.6,401.9 29.5,401.9C30.4,401.9 32.2,402.7 32.3,403.3C32.4,403.9 31.0,405.0 30.2,405.4C29.4,405.8 28.0,405.8 27.4,405.4C26.8,405.0 26.3,403.9 26.7,403.3Z"/>
<path fill="#ffd400" d="M40.0,401.2C40.0,400.6 41.5,399.7 42.1,399.8C42.7,399.9 43.8,401.0 43.8,401.6C43.8,402.2 42.7,403.4 42.1,403.3C41.5,403.2 40.0,401.8 40.0,401.2Z"/>
<path fill="#66c20a" d="M-21.2,427.3C-20.7,426.8 -20.1,427.3 -18.2,427.3C-16.3,427.3 -12.7,427.3 -9.9,427.3C-7.2,427.3 -3.6,427.3 -1.7,427.3C0.2,427.3 0.8,426.8 1.3,427.3C1.8,427.8 1.3,428.5 1.3,430.3C1.3,432.1 1.3,435.3 1.3,437.9C1.3,440.4 1.3,443.6 1.3,445.4C1.3,447.2 1.8,447.9 1.3,448.4C0.8,448.9 0.2,448.4 -1.7,448.4C-3.6,448.4 -7.2,448.4 -9.9,448.4C-12.7,448.4 -16.3,448.4 -18.2,448.4C-20.1,448.4 -20.7,448.9 -21.2,448.4C-21.7,447.9 -21.2,447.2 -21.2,445.4C-21.2,443.6 -21.2,440.4 -21.2,437.9C-21.2,435.3 -21.2,432.1 -21.2,430.3C-21.2,428.5 -21.7,427.8 -21.2,427.3Z"/>
<path fill="#089a08" d="M-14.2,432.2C-14.3,431.6 -13.4,430.4 -12.5,430.1C-11.6,429.8 -9.5,429.9 -8.8,430.4C-8.2,430.9 -8.1,432.3 -8.6,432.9C-9.1,433.5 -10.8,434.1 -11.7,434.0C-12.6,433.9 -14.1,432.8 -14.2,432.2Z"/>
</g>
</g>
<use href="#cn"/>
</g>
<g transform="translate(528.8,0)">
<g clip-path="url(#land)">
<rect x="-40" y="60" width="300" height="400" fill="#ffd400"/>
<g clip-path="url(#c14)">
<path fill="#ffff80" d="M98.1,93.8C98.2,92.6 99.3,90.4 100.2,89.6C101.1,88.8 102.8,88.4 103.7,88.9C104.6,89.4 105.5,91.2 105.5,92.4C105.5,93.6 104.7,95.5 103.7,96.3C102.7,97.0 100.4,97.3 99.5,96.9C98.6,96.5 98.0,95.0 98.1,93.8Z"/>
<path fill="#a8f016" d="M101.3,90.7C101.5,90.5 102.2,90.5 102.4,90.7C102.6,90.9 102.6,91.6 102.4,91.8C102.2,92.0 101.5,92.0 101.3,91.8C101.1,91.6 101.1,90.9 101.3,90.7Z"/>
<path fill="#ffff80" d="M108.4,93.8C108.7,93.3 109.5,92.6 110.0,92.7C110.5,92.8 111.5,93.9 111.5,94.5C111.5,95.1 110.5,95.9 110.0,96.1C109.5,96.3 108.7,95.9 108.4,95.5C108.1,95.1 108.1,94.3 108.4,93.8Z"/>
<path fill="#ffff80" d="M101.6,104.4C101.8,103.4 103.8,102.4 105.1,102.3C106.4,102.2 108.4,103.0 109.3,103.9C110.2,104.8 110.6,106.9 110.3,107.9C110.0,108.9 108.3,109.9 107.2,110.0C106.1,110.1 104.6,109.5 103.7,108.6C102.8,107.7 101.4,105.5 101.6,104.4Z"/>
<path fill="#ff9900" d="M111.5,96.6C112.2,95.3 113.2,94.5 114.3,94.5C115.3,94.5 116.8,96.1 117.8,96.9C118.8,97.7 119.7,98.5 120.6,99.4C121.5,100.3 123.0,101.4 123.0,102.3C123.0,103.2 121.6,104.2 120.6,104.8C119.6,105.4 117.6,105.2 117.1,105.8C116.6,106.4 118.0,107.9 117.8,108.6C117.6,109.3 116.6,110.0 115.7,110.0C114.8,110.0 113.2,109.9 112.2,108.6C111.2,107.3 110.1,104.3 110.0,102.3C109.9,100.3 110.8,97.9 111.5,96.6Z"/>
<path fill="#ff9900" d="M98.1,99.4C98.3,98.8 100.3,98.4 100.9,98.7C101.5,99.0 102.1,100.5 101.9,101.1C101.7,101.7 100.1,102.6 99.5,102.3C98.9,102.0 97.9,100.0 98.1,99.4Z"/>
<path fill="#ff9900" d="M111.2,114.9C111.5,114.5 113.2,116.2 114.3,116.3C115.4,116.4 116.9,115.1 117.8,115.6C118.7,116.1 119.7,118.0 119.6,119.2C119.5,120.4 118.0,122.2 117.1,122.7C116.2,123.2 114.8,122.7 114.0,122.0C113.2,121.3 112.7,119.7 112.2,118.5C111.7,117.3 110.9,115.3 111.2,114.9Z"/>
<path fill="#ffff80" d="M123.4,115.6C123.5,115.2 124.4,114.8 124.8,114.9C125.2,115.0 125.9,115.9 125.8,116.3C125.7,116.7 124.8,117.4 124.4,117.3C124.0,117.2 123.3,116.0 123.4,115.6Z"/>
</g>
<g clip-path="url(#c15)">
<path fill="#ff9900" d="M108.7,114.2C109.2,113.6 111.7,114.2 112.9,114.9C114.1,115.6 115.4,117.1 115.7,118.5C116.0,119.9 115.6,122.8 115.0,123.4C114.4,124.0 113.0,122.8 112.2,122.0C111.4,121.2 110.7,119.8 110.1,118.5C109.5,117.2 108.2,114.8 108.7,114.2Z"/>
<path fill="#ffff80" d="M146.3,131.8C146.5,131.2 148.0,131.6 148.8,132.3C149.6,133.0 151.1,135.1 151.3,136.1C151.5,137.1 150.8,138.2 150.2,138.2C149.6,138.2 148.3,137.2 147.7,136.1C147.0,135.0 146.1,132.4 146.3,131.8Z"/>
<path fill="#ffff80" d="M125.6,143.8C126.1,143.3 128.5,145.9 130.5,146.6C132.5,147.3 135.4,148.1 137.5,148.0C139.6,147.9 141.9,145.4 143.2,145.9C144.5,146.4 144.4,149.5 145.3,150.8C146.2,152.1 147.5,153.7 148.8,153.7C150.1,153.7 152.1,152.0 153.0,150.8C153.9,149.6 153.6,146.6 154.4,146.6C155.2,146.6 157.3,148.9 158.0,150.8C158.7,152.7 158.3,155.8 158.7,157.9C159.0,160.0 158.9,161.9 160.1,163.5C161.3,165.1 163.6,166.3 165.7,167.7C167.8,169.1 170.3,170.8 172.7,172.0C175.0,173.2 177.7,172.9 179.8,174.8C181.9,176.7 185.0,181.8 185.4,183.2C185.8,184.6 187.2,183.2 182.4,183.2C177.6,183.2 165.2,183.2 156.6,183.2C147.9,183.2 135.5,183.2 130.7,183.2C125.9,183.2 128.1,183.7 127.7,183.2C127.3,182.7 128.0,181.6 128.2,180.2C128.4,178.8 128.8,176.6 129.1,174.8C129.4,172.9 129.8,170.7 130.0,169.3C130.2,167.9 130.5,168.4 130.5,166.3C130.5,164.2 130.3,159.3 129.8,156.5C129.3,153.7 128.4,151.5 127.7,149.4C127.0,147.3 125.1,144.3 125.6,143.8Z"/>
<path fill="#a8f016" d="M131.2,156.5C131.5,154.5 132.9,154.4 134.0,154.4C135.1,154.4 136.7,155.4 137.5,156.5C138.3,157.6 138.2,159.4 138.9,160.7C139.6,162.0 141.0,162.8 141.8,164.2C142.6,165.6 143.6,167.9 143.9,169.2C144.2,170.5 143.8,171.0 143.8,172.2C143.7,173.4 143.6,174.9 143.6,176.2C143.5,177.5 143.4,179.0 143.3,180.2C143.3,181.4 145.1,182.7 143.2,183.2C141.3,183.7 133.8,183.7 131.9,183.2C130.0,182.7 131.9,181.6 132.0,180.2C132.0,178.8 132.0,176.6 132.1,174.8C132.1,172.9 132.1,170.7 132.1,169.3C132.2,167.9 132.4,168.4 132.2,166.3C132.0,164.2 130.9,158.5 131.2,156.5Z"/>
<path fill="#66c20a" d="M132.6,164.2C133.3,163.5 135.4,162.6 136.8,162.8C138.2,163.0 140.3,164.1 141.1,165.6C141.9,167.1 141.9,169.1 141.8,172.0C141.7,174.9 141.9,181.3 140.4,183.2C138.9,185.1 133.9,183.7 132.6,183.2C131.3,182.7 132.6,181.8 132.6,180.2C132.6,178.6 132.6,175.9 132.6,173.7C132.6,171.5 132.6,168.8 132.6,167.2C132.6,165.6 131.9,164.9 132.6,164.2Z"/>
<path fill="#a8f016" d="M126.3,143.8C126.5,143.3 127.9,142.9 128.4,143.1C128.9,143.3 129.6,144.7 129.4,145.2C129.2,145.7 127.9,146.5 127.4,146.3C126.9,146.1 126.1,144.3 126.3,143.8Z"/>
<path fill="#a8f016" d="M139.7,148.0C139.8,147.4 141.4,146.8 142.0,146.9C142.6,147.0 143.6,148.1 143.5,148.7C143.4,149.3 142.1,150.5 141.5,150.4C140.9,150.3 139.6,148.6 139.7,148.0Z"/>
<path fill="#a8f016" d="M155.1,156.5C155.4,155.4 156.8,154.9 157.3,155.4C157.9,155.9 158.4,158.0 158.4,159.3C158.4,160.7 157.8,163.0 157.3,163.5C156.8,164.0 156.0,163.3 155.6,162.1C155.2,160.9 154.8,157.6 155.1,156.5Z"/>
<path fill="#a8f016" d="M158.7,169.2C159.3,168.3 161.0,166.9 162.2,167.0C163.4,167.1 165.3,167.2 165.7,169.9C166.0,172.6 165.4,181.0 164.3,183.2C163.2,185.4 160.2,183.7 159.4,183.2C158.6,182.7 159.3,181.4 159.3,180.2C159.2,179.0 159.1,177.5 159.1,176.2C159.0,174.9 158.9,173.4 158.8,172.2C158.8,171.0 158.1,170.1 158.7,169.2Z"/>
<path fill="#ffd400" d="M138.2,154.4C138.4,153.5 141.5,152.5 143.2,152.3C144.8,152.1 146.7,152.5 148.1,153.0C149.5,153.5 150.7,153.8 151.6,155.1C152.5,156.4 153.1,158.8 153.7,160.7C154.3,162.6 154.8,164.4 155.1,166.3C155.4,168.2 155.7,169.2 155.6,172.0C155.5,174.8 155.8,181.3 154.4,183.2C153.0,185.1 148.6,185.1 147.4,183.2C146.2,181.3 147.4,174.8 147.1,172.0C146.8,169.2 145.2,167.7 145.3,166.3C145.4,164.9 147.3,164.7 147.4,163.5C147.5,162.3 146.9,160.2 146.0,159.3C145.1,158.4 143.1,158.7 141.8,157.9C140.5,157.1 138.0,155.3 138.2,154.4Z"/>
<path fill="#ff9900" d="M147.4,156.5C147.8,155.4 150.0,153.6 150.9,153.7C151.8,153.8 152.5,155.6 153.0,157.2C153.5,158.8 153.3,161.5 153.7,163.5C154.0,165.5 155.3,167.8 155.1,169.2C154.9,170.6 153.4,171.8 152.3,172.0C151.2,172.2 149.3,171.5 148.8,170.6C148.3,169.7 149.2,167.6 149.5,166.3C149.8,165.0 151.0,163.9 150.9,162.8C150.8,161.8 149.4,161.1 148.8,160.0C148.2,158.9 147.1,157.6 147.4,156.5Z"/>
<path fill="#ffd400" d="M159.4,160.7C157.9,160.5 160.7,163.5 162.2,164.9C163.7,166.3 166.3,167.9 168.5,169.2C170.7,170.5 172.8,171.4 175.6,172.7C178.4,174.0 183.8,177.0 185.4,176.9C187.0,176.8 185.9,173.0 185.4,172.0C184.9,171.0 183.8,171.4 182.6,170.9C181.4,170.4 179.8,169.7 178.4,169.2C176.9,168.6 175.3,167.9 174.1,167.4C172.9,166.9 173.7,167.4 171.3,166.3C168.9,165.2 160.9,160.9 159.4,160.7Z"/>
</g>
<g clip-path="url(#c16)">
<path fill="#a8f016" d="M67.1,155.9C67.6,155.4 59.5,155.9 70.1,155.9C80.7,155.9 110.4,155.9 130.5,155.9C150.6,155.9 180.3,155.9 190.9,155.9C201.5,155.9 193.4,155.4 193.9,155.9C194.4,156.4 193.9,150.7 193.9,158.9C193.9,167.1 193.9,189.8 193.9,205.2C193.9,220.6 193.9,243.3 193.9,251.5C193.9,259.7 194.4,254.0 193.9,254.5C193.4,255.0 201.5,254.5 190.9,254.5C180.3,254.5 150.6,254.5 130.5,254.5C110.4,254.5 80.7,254.5 70.1,254.5C59.5,254.5 67.6,255.0 67.1,254.5C66.6,254.0 67.1,259.7 67.1,251.5C67.1,243.3 67.1,220.6 67.1,205.2C67.1,189.8 67.1,167.1 67.1,158.9C67.1,150.7 66.6,156.4 67.1,155.9Z"/>
<path fill="#ffff80" d="M141.8,155.9C142.3,155.4 140.5,155.9 144.8,155.9C149.1,155.9 160.2,155.9 167.9,155.9C175.5,155.9 186.6,155.9 190.9,155.9C195.2,155.9 193.4,155.4 193.9,155.9C194.4,156.4 193.9,150.7 193.9,158.9C193.9,167.1 193.9,189.8 193.9,205.2C193.9,220.6 193.9,243.3 193.9,251.5C193.9,259.7 194.4,254.0 193.9,254.5C193.4,255.0 195.6,254.5 190.9,254.5C186.2,254.5 174.1,254.5 165.7,254.5C157.3,254.5 145.2,254.5 140.5,254.5C135.8,254.5 138.0,255.0 137.5,254.5C137.0,254.0 137.5,253.4 137.5,251.5C137.5,249.6 137.5,246.0 137.5,243.2C137.5,240.5 137.5,236.9 137.5,235.0C137.5,233.1 139.1,233.9 137.5,232.0C135.9,230.1 128.2,224.2 127.7,223.5C127.2,222.8 132.6,227.5 134.7,227.7C136.8,227.9 138.3,225.6 140.4,224.9C142.5,224.2 145.1,223.6 147.4,223.5C149.7,223.4 152.8,224.7 154.4,224.2C156.1,223.7 156.1,221.5 157.3,220.7C158.5,219.9 160.6,220.7 161.5,219.3C162.4,217.9 162.2,214.4 162.9,212.3C163.6,210.2 165.1,208.6 165.7,206.6C166.3,204.6 167.1,201.0 166.4,200.3C165.7,199.6 163.3,201.8 161.5,202.4C159.7,203.0 157.7,204.2 155.8,203.8C153.9,203.5 151.8,201.5 150.2,200.3C148.6,199.1 146.6,198.8 146.0,196.8C145.4,194.8 147.2,190.4 146.7,188.3C146.2,186.2 144.0,186.0 143.2,184.1C142.4,182.2 142.0,178.7 141.8,177.0C141.6,175.3 141.8,175.8 141.8,174.0C141.8,172.2 141.8,169.0 141.8,166.4C141.8,163.9 141.8,160.7 141.8,158.9C141.8,157.1 141.3,156.4 141.8,155.9Z"/>
<path fill="#66c20a" d="M132.6,155.9C134.1,155.4 139.7,155.4 141.1,155.9C142.5,156.4 141.1,157.1 141.0,158.9C140.9,160.7 140.8,163.9 140.8,166.4C140.7,169.0 140.6,172.2 140.5,174.0C140.4,175.8 140.9,175.3 140.4,177.0C139.9,178.7 138.4,181.8 137.5,184.1C136.6,186.4 135.0,189.0 134.7,191.1C134.3,193.2 134.4,194.9 135.4,196.8C136.4,198.7 138.4,201.4 140.4,202.4C142.4,203.4 145.3,202.6 147.4,203.1C149.5,203.6 151.8,204.0 153.0,205.2C154.2,206.4 154.6,208.6 154.4,210.1C154.2,211.6 153.2,213.3 151.6,214.4C150.0,215.5 146.7,216.4 144.6,216.5C142.5,216.6 140.3,215.8 138.9,215.1C137.5,214.4 137.3,212.7 136.1,212.3C134.9,212.0 132.9,212.3 131.9,213.0C130.9,213.7 130.4,215.0 129.8,216.5C129.2,218.0 129.2,221.4 128.4,222.1C127.6,222.8 126.0,221.4 124.9,220.7C123.8,220.0 123.4,218.6 122.0,217.9C120.6,217.2 118.2,217.2 116.4,216.5C114.7,215.8 112.9,214.6 111.5,213.7C110.1,212.8 107.7,212.1 108.0,210.8C108.3,209.5 111.3,207.2 113.6,205.9C115.9,204.6 119.5,204.6 122.0,203.1C124.5,201.6 127.1,200.0 128.4,196.8C129.7,193.6 129.3,187.6 129.8,184.1C130.3,180.6 130.9,177.5 131.2,175.6C131.5,173.7 131.3,174.2 131.4,172.6C131.5,171.0 131.7,168.0 131.9,165.8C132.1,163.5 132.3,160.5 132.4,158.9C132.5,157.3 131.1,156.4 132.6,155.9Z"/>
<path fill="#089a08" d="M112.5,210.1C112.7,209.3 114.1,208.1 115.0,208.0C115.9,207.9 117.5,208.7 117.8,209.4C118.1,210.1 117.8,211.5 117.1,212.0C116.4,212.5 114.7,212.8 113.9,212.5C113.1,212.2 112.3,210.8 112.5,210.1Z"/>
<path fill="#a8f016" d="M158.9,171.4C159.6,169.3 162.7,165.1 163.6,165.8C164.5,166.5 164.8,173.1 164.6,175.6C164.4,178.1 163.1,180.1 162.2,180.6C161.3,181.1 159.9,180.0 159.4,178.5C158.9,177.0 158.2,173.5 158.9,171.4Z"/>
<path fill="#a8f016" d="M171.3,196.8C171.8,195.7 173.2,194.1 175.6,193.2C177.9,192.2 183.8,189.7 185.4,191.1C187.0,192.5 186.8,199.9 185.4,201.7C184.0,203.5 179.1,202.0 177.0,201.7C174.9,201.3 173.6,200.4 172.7,199.6C171.8,198.8 170.8,197.9 171.3,196.8Z"/>
<path fill="#ffd400" d="M148.5,171.4C148.7,169.9 150.5,165.8 151.6,165.8C152.7,165.8 154.6,169.9 155.1,171.4C155.6,172.9 155.2,174.3 154.4,174.9C153.6,175.5 151.2,175.5 150.2,174.9C149.2,174.3 148.3,172.9 148.5,171.4Z"/>
<path fill="#ffd400" d="M155.8,195.4C156.2,194.5 158.0,193.1 159.4,192.5C160.8,191.9 162.9,192.4 164.3,191.8C165.7,191.2 166.8,189.2 167.8,189.0C168.8,188.8 170.2,189.6 170.2,190.4C170.2,191.2 168.9,193.0 167.8,193.9C166.7,194.8 164.9,195.4 163.6,196.1C162.3,196.8 161.2,197.9 160.1,198.2C159.0,198.5 157.7,198.4 157.0,197.9C156.3,197.4 155.4,196.3 155.8,195.4Z"/>
<path fill="#ffd400" d="M169.2,183.4C169.6,183.0 172.0,182.3 172.7,182.4C173.4,182.5 173.9,183.7 173.5,184.1C173.1,184.5 170.9,185.0 170.2,184.9C169.5,184.8 168.8,183.8 169.2,183.4Z"/>
<path fill="#ffd400" d="M165.7,179.9C165.9,179.5 167.0,179.0 167.4,179.2C167.8,179.4 168.2,180.6 168.0,181.0C167.8,181.4 166.7,181.7 166.3,181.5C165.9,181.3 165.5,180.3 165.7,179.9Z"/>
<path fill="#ffd400" d="M177.7,182.7C177.8,181.1 178.5,179.4 179.8,178.5C181.1,177.6 184.5,175.6 185.4,177.0C186.3,178.4 186.5,185.0 185.4,186.9C184.3,188.8 180.4,189.0 179.1,188.3C177.8,187.6 177.6,184.3 177.7,182.7Z"/>
<path fill="#ffd400" d="M185.4,206.6C184.0,206.6 179.1,208.2 177.0,209.4C174.9,210.6 174.1,212.0 172.7,213.7C171.3,215.3 169.4,217.2 168.5,219.3C167.6,221.4 167.0,224.2 167.1,226.3C167.2,228.4 169.2,229.2 169.2,232.0C169.2,234.8 166.9,241.3 167.1,243.2C167.2,245.1 168.6,243.2 170.1,243.2C171.6,243.2 174.2,243.2 176.2,243.2C178.3,243.2 180.9,243.2 182.4,243.2C183.9,243.2 184.9,243.7 185.4,243.2C185.9,242.7 185.4,243.2 185.4,240.2C185.4,237.1 185.4,230.0 185.4,224.9C185.4,219.8 185.4,212.6 185.4,209.6C185.4,206.6 186.8,206.6 185.4,206.6Z"/>
<path fill="#ff9900" d="M185.4,212.3C184.2,212.3 180.3,214.1 178.4,215.1C176.5,216.1 175.4,217.3 174.2,218.6C173.0,219.9 171.3,221.5 171.3,222.8C171.3,224.1 173.0,225.4 174.2,226.3C175.4,227.2 176.5,227.9 178.4,228.5C180.3,229.1 184.2,230.2 185.4,229.9C186.6,229.6 185.4,228.4 185.4,226.9C185.4,225.4 185.4,223.0 185.4,221.1C185.4,219.2 185.4,216.8 185.4,215.3C185.4,213.8 186.6,212.3 185.4,212.3Z"/>
<path fill="#a8f016" d="M141.8,232.7C142.5,230.6 144.4,230.7 146.0,230.6C147.6,230.5 149.7,232.5 151.6,232.0C153.5,231.5 155.4,229.0 157.3,227.7C159.2,226.4 161.5,224.4 162.9,224.2C164.3,224.0 165.2,225.0 165.7,226.3C166.2,227.6 166.2,229.2 165.7,232.0C165.2,234.8 163.9,241.3 162.9,243.2C161.9,245.1 161.7,243.2 159.9,243.2C158.1,243.2 154.9,243.2 152.4,243.2C149.8,243.2 146.6,243.2 144.8,243.2C143.0,243.2 142.3,244.9 141.8,243.2C141.3,241.4 141.1,234.8 141.8,232.7Z"/>
<path fill="#66c20a" d="M148.8,236.2C149.7,234.6 152.8,234.6 154.4,233.4C156.1,232.2 157.3,230.5 158.7,229.2C160.1,227.9 161.8,225.8 162.9,225.6C164.0,225.3 164.8,226.4 165.0,227.7C165.2,229.0 164.9,230.8 164.3,233.4C163.7,236.0 164.1,241.6 161.5,243.2C158.9,244.8 150.9,244.4 148.8,243.2C146.7,242.0 147.9,237.8 148.8,236.2Z"/>
<path fill="#089a08" d="M157.3,233.4C157.9,231.2 159.8,230.4 160.8,229.9C161.8,229.4 162.9,229.8 163.2,230.6C163.5,231.4 163.1,232.7 162.6,234.8C162.1,236.9 161.0,241.8 160.1,243.2C159.2,244.6 157.5,244.8 157.0,243.2C156.5,241.6 156.7,235.6 157.3,233.4Z"/>
</g>
<g clip-path="url(#c17)">
<path fill="#a8f016" d="M67.1,210.9C67.6,210.4 59.5,210.9 70.1,210.9C80.7,210.9 110.4,210.9 130.5,210.9C150.6,210.9 180.3,210.9 190.9,210.9C201.5,210.9 193.4,210.4 193.9,210.9C194.4,211.4 193.9,205.7 193.9,213.9C193.9,222.1 193.9,244.8 193.9,260.2C193.9,275.6 193.9,298.3 193.9,306.5C193.9,314.7 194.4,309.0 193.9,309.5C193.4,310.0 201.5,309.5 190.9,309.5C180.3,309.5 150.6,309.5 130.5,309.5C110.4,309.5 80.7,309.5 70.1,309.5C59.5,309.5 67.6,310.0 67.1,309.5C66.6,309.0 67.1,314.7 67.1,306.5C67.1,298.3 67.1,275.6 67.1,260.2C67.1,244.8 67.1,222.1 67.1,213.9C67.1,205.7 66.6,211.4 67.1,210.9Z"/>
<path fill="#ffff80" d="M120.6,210.9C121.1,210.4 121.7,210.9 123.6,210.9C125.5,210.9 129.1,210.9 131.9,210.9C134.7,210.9 138.3,210.9 140.2,210.9C142.1,210.9 142.7,210.4 143.2,210.9C143.7,211.4 143.1,212.4 143.0,213.9C142.9,215.4 142.7,218.0 142.5,220.1C142.3,222.1 142.1,224.7 142.0,226.2C141.9,227.7 142.1,228.0 141.8,229.2C141.5,230.4 140.5,231.8 140.4,233.5C140.3,235.2 141.2,237.5 141.1,239.1C141.0,240.7 140.3,243.8 139.7,243.3C139.1,242.8 138.3,238.2 137.5,236.3C136.7,234.4 136.1,233.3 134.7,232.0C133.3,230.7 131.2,229.7 129.1,228.5C127.0,227.3 123.2,226.1 122.0,225.0C120.8,223.9 121.8,223.2 121.7,222.0C121.6,220.8 121.4,219.3 121.3,217.9C121.2,216.6 121.0,215.1 120.9,213.9C120.8,212.7 120.1,211.4 120.6,210.9Z"/>
<path fill="#a8f016" d="M132.6,220.8C133.2,219.8 136.2,219.8 136.8,220.8C137.4,221.8 137.0,225.7 136.4,226.7C135.8,227.7 133.9,228.0 133.3,227.0C132.7,226.0 132.0,221.8 132.6,220.8Z"/>
<path fill="#66c20a" d="M143.9,233.5C144.5,232.1 147.1,231.3 148.8,230.6C150.6,229.9 152.9,230.1 154.4,229.2C155.9,228.3 157.4,226.2 158.0,225.0C158.6,223.8 158.2,223.2 158.3,222.0C158.4,220.8 158.6,219.3 158.7,217.9C158.8,216.6 159.0,215.1 159.1,213.9C159.2,212.7 158.2,211.4 159.4,210.9C160.6,210.4 165.3,210.4 166.4,210.9C167.5,211.4 166.3,212.2 166.1,213.9C165.9,215.5 165.6,218.5 165.4,220.8C165.1,223.0 164.8,226.0 164.6,227.6C164.4,229.3 164.6,228.9 164.3,230.6C164.0,232.3 162.7,235.6 162.9,237.7C163.1,239.8 165.5,241.4 165.7,243.3C165.9,245.2 165.2,247.2 164.3,248.9C163.4,250.6 161.8,251.8 160.1,253.2C158.4,254.6 156.3,256.0 154.4,257.4C152.5,258.8 150.4,260.3 148.8,261.6C147.2,262.9 146.0,264.2 144.6,265.1C143.2,266.1 141.7,267.2 140.4,267.3C139.1,267.4 137.6,266.8 136.8,265.8C136.0,264.9 135.3,263.2 135.4,261.6C135.5,260.0 136.4,257.9 137.5,256.0C138.6,254.1 140.6,252.3 141.8,250.4C143.0,248.5 144.0,246.6 144.6,244.7C145.2,242.8 145.4,241.0 145.3,239.1C145.2,237.2 143.3,234.9 143.9,233.5Z"/>
<path fill="#a8f016" d="M148.8,234.6C148.7,233.9 150.2,232.7 150.9,232.7C151.6,232.7 152.9,233.9 153.0,234.6C153.1,235.3 152.0,237.0 151.3,237.0C150.6,237.0 148.9,235.3 148.8,234.6Z"/>
<path fill="#089a08" d="M136.8,263.7C136.4,262.3 137.2,260.1 138.2,258.1C139.1,256.1 141.0,253.8 142.5,251.8C144.0,249.8 145.7,247.8 147.4,246.1C149.2,244.4 151.6,243.5 153.0,241.9C154.4,240.3 154.6,238.2 155.8,236.3C157.0,234.4 159.0,231.3 160.1,230.6C161.2,229.9 162.0,230.6 162.2,232.0C162.4,233.4 161.5,237.0 161.5,239.1C161.5,241.2 162.5,242.9 162.2,244.7C161.8,246.4 160.7,248.1 159.4,249.6C158.1,251.1 156.2,252.4 154.4,253.9C152.6,255.4 150.4,257.3 148.8,258.8C147.2,260.3 146.0,261.7 144.6,263.0C143.2,264.3 141.7,266.4 140.4,266.5C139.1,266.6 137.2,265.1 136.8,263.7Z"/>
<path fill="#73b2ff" d="M138.2,260.2C138.4,258.8 139.4,256.2 140.4,254.6C141.4,253.0 142.5,251.7 143.9,250.4C145.3,249.1 147.3,247.9 148.8,246.8C150.3,245.7 151.6,244.3 153.0,244.0C154.4,243.7 156.2,244.0 157.3,244.7C158.4,245.4 159.5,247.0 159.4,248.2C159.3,249.4 157.7,251.0 156.6,251.8C155.5,252.6 154.1,252.4 153.0,253.2C151.9,254.0 151.4,255.4 150.2,256.7C149.0,258.0 147.4,259.7 146.0,260.9C144.6,262.1 143.0,263.3 141.8,263.7C140.6,264.1 139.5,263.9 138.9,263.3C138.3,262.7 137.9,261.6 138.2,260.2Z"/>
<path fill="#0047bb" d="M143.2,253.9C143.5,252.9 144.9,252.2 146.0,251.8C147.1,251.5 148.8,251.5 149.5,251.8C150.2,252.2 150.5,253.1 150.2,253.9C149.8,254.7 148.4,256.1 147.4,256.7C146.4,257.3 145.0,258.2 144.3,257.7C143.6,257.2 142.9,254.9 143.2,253.9Z"/>
<path fill="#ffff80" d="M143.5,268.0C143.8,266.9 145.0,265.1 146.0,264.4C147.0,263.7 148.8,263.3 149.5,263.7C150.2,264.1 150.5,265.4 150.2,266.5C149.8,267.6 148.4,269.4 147.4,270.1C146.4,270.8 145.0,271.2 144.3,270.8C143.7,270.4 143.2,269.1 143.5,268.0Z"/>
<path fill="#ffff80" d="M165.0,234.9C165.2,233.0 167.3,229.5 167.8,227.8C168.3,226.1 168.1,226.2 168.3,224.8C168.5,223.4 168.9,221.2 169.2,219.4C169.5,217.5 169.9,215.3 170.1,213.9C170.3,212.5 170.0,211.4 170.6,210.9C171.2,210.4 171.7,210.9 173.6,210.9C175.5,210.9 179.4,210.9 182.2,210.9C185.1,210.9 189.0,210.9 190.9,210.9C192.8,210.9 193.4,210.4 193.9,210.9C194.4,211.4 193.9,212.0 193.9,213.9C193.9,215.8 193.9,219.4 193.9,222.2C193.9,225.0 193.9,228.6 193.9,230.5C193.9,232.4 194.4,232.8 193.9,233.5C193.4,234.2 192.4,234.1 191.1,234.5C189.8,235.0 187.8,235.7 186.2,236.3C184.5,236.9 182.5,237.6 181.2,238.1C179.9,238.5 179.7,238.1 178.4,239.1C177.1,240.1 175.0,243.4 173.5,244.0C172.0,244.6 170.4,243.4 169.2,242.6C168.0,241.8 167.1,240.4 166.4,239.1C165.7,237.8 164.8,236.8 165.0,234.9Z"/>
<path fill="#ffd400" d="M167.1,230.6C167.2,228.9 169.3,227.6 169.9,226.4C170.5,225.2 170.2,224.7 170.4,223.4C170.7,222.2 171.0,220.2 171.3,218.7C171.6,217.1 171.9,215.1 172.2,213.9C172.4,212.6 172.1,211.4 172.7,210.9C173.3,210.4 173.9,210.9 175.7,210.9C177.5,210.9 180.8,210.9 183.3,210.9C185.8,210.9 189.1,210.9 190.9,210.9C192.7,210.9 193.4,210.4 193.9,210.9C194.4,211.4 193.9,212.1 193.9,213.9C193.9,215.7 193.9,218.9 193.9,221.4C193.9,224.0 193.9,227.2 193.9,229.0C193.9,230.8 194.4,231.3 193.9,232.0C193.4,232.7 192.4,232.6 191.1,233.0C189.8,233.5 187.8,234.2 186.2,234.8C184.5,235.5 182.5,236.2 181.2,236.7C179.9,237.1 179.6,236.8 178.4,237.7C177.2,238.6 175.5,241.3 174.2,241.9C172.9,242.5 171.4,242.1 170.6,241.2C169.8,240.3 169.8,238.1 169.2,236.3C168.6,234.5 167.0,232.2 167.1,230.6Z"/>
<path fill="#ff9900" d="M172.7,210.9C173.2,210.4 173.9,210.9 175.7,210.9C177.5,210.9 180.8,210.9 183.3,210.9C185.8,210.9 189.1,210.9 190.9,210.9C192.7,210.9 193.7,210.5 193.9,210.9C194.1,211.3 193.3,211.8 192.2,213.4C191.1,214.9 188.9,218.1 187.2,220.4C185.5,222.7 183.3,225.9 182.2,227.4C181.1,229.0 181.6,229.3 180.5,229.9C179.4,230.5 176.8,231.5 175.6,231.3C174.4,231.1 173.9,229.5 173.5,228.5C173.1,227.5 173.4,227.0 173.4,225.5C173.3,224.0 173.2,221.6 173.1,219.7C173.0,217.8 172.9,215.4 172.8,213.9C172.8,212.4 172.2,211.4 172.7,210.9Z"/>
<path fill="#66c20a" d="M141.8,274.3C141.9,273.8 143.0,273.4 143.5,273.6C144.0,273.8 144.7,274.9 144.6,275.4C144.5,275.9 143.4,276.7 142.9,276.5C142.4,276.3 141.7,274.8 141.8,274.3Z"/>
</g>
<g clip-path="url(#c18)">
<path fill="#66c20a" d="M31.1,225.9C31.6,225.4 23.5,225.9 34.1,225.9C44.7,225.9 74.4,225.9 94.5,225.9C114.6,225.9 144.3,225.9 154.9,225.9C165.5,225.9 157.4,225.4 157.9,225.9C158.4,226.4 157.9,220.7 157.9,228.9C157.9,237.1 157.9,259.8 157.9,275.2C157.9,290.6 157.9,313.3 157.9,321.5C157.9,329.7 158.4,324.0 157.9,324.5C157.4,325.0 165.5,324.5 154.9,324.5C144.3,324.5 114.6,324.5 94.5,324.5C74.4,324.5 44.7,324.5 34.1,324.5C23.5,324.5 31.6,325.0 31.1,324.5C30.6,324.0 31.1,329.7 31.1,321.5C31.1,313.3 31.1,290.6 31.1,275.2C31.1,259.8 31.1,237.1 31.1,228.9C31.1,220.7 30.6,226.4 31.1,225.9Z"/>
<path fill="#a8f016" d="M85.3,254.1C85.6,254.4 86.7,252.2 87.5,252.7C88.3,253.2 89.6,255.3 90.3,256.9C91.0,258.5 91.9,260.6 91.7,262.5C91.5,264.4 89.6,266.3 88.9,268.2C88.2,270.1 87.3,272.2 87.5,273.8C87.7,275.4 89.1,276.8 90.3,278.0C91.5,279.2 93.3,279.4 94.5,280.8C95.7,282.2 96.7,284.4 97.3,286.5C97.9,288.6 98.0,291.4 98.0,293.5C98.0,295.6 97.2,297.6 97.3,299.2C97.4,300.8 98.9,301.1 98.7,303.4C98.5,305.7 95.9,311.5 95.9,313.2C95.9,314.9 92.5,312.7 98.9,313.6C105.2,314.6 122.3,317.1 133.9,318.9C145.6,320.6 162.7,323.1 169.0,324.1C175.4,325.0 171.5,324.9 172.0,324.5C172.5,324.1 172.0,329.7 172.0,321.5C172.0,313.3 172.0,290.6 172.0,275.2C172.0,259.8 172.0,237.1 172.0,228.9C172.0,220.7 172.5,226.4 172.0,225.9C171.5,225.4 176.0,225.9 169.0,225.9C162.0,225.9 142.8,225.9 129.8,225.9C116.7,225.9 97.5,225.9 90.5,225.9C83.5,225.9 88.0,225.4 87.5,225.9C87.0,226.4 87.4,226.5 87.3,228.9C87.1,231.2 86.7,236.3 86.4,240.0C86.1,243.7 85.7,248.8 85.5,251.1C85.4,253.5 85.0,253.8 85.3,254.1Z"/>
<path fill="#089a08" d="M79.0,252.7C80.3,251.9 82.1,249.7 83.2,249.9C84.3,250.1 85.5,252.7 85.6,254.1C85.7,255.5 84.4,256.7 83.9,258.3C83.4,259.9 82.5,262.0 82.5,263.9C82.5,265.8 83.6,267.5 83.9,269.6C84.2,271.7 84.9,274.5 84.6,276.6C84.2,278.7 83.2,280.9 81.8,282.3C80.4,283.7 78.3,284.2 76.2,285.1C74.1,286.0 71.2,286.7 69.1,287.9C67.0,289.1 64.9,290.5 63.5,292.1C62.1,293.7 61.4,295.8 60.7,297.7C60.0,299.6 59.6,300.8 59.3,303.4C58.9,306.0 60.5,311.6 58.6,313.2C56.7,314.8 49.6,313.7 48.0,313.2C46.4,312.7 48.5,311.8 49.0,310.4C49.4,308.9 50.2,306.6 50.9,304.8C51.5,302.9 52.3,300.6 52.7,299.1C53.2,297.7 52.7,298.4 53.7,296.3C54.7,294.2 56.7,288.8 58.6,286.5C60.5,284.2 62.9,283.9 64.9,282.3C66.9,280.7 69.2,279.0 70.6,276.6C72.0,274.2 73.1,271.0 73.4,268.2C73.8,265.4 72.4,261.9 72.7,259.7C73.0,257.5 74.5,256.0 75.5,254.8C76.5,253.6 77.7,253.5 79.0,252.7Z"/>
<path fill="#a8f016" d="M73.4,258.3C73.5,257.2 74.6,255.6 75.5,254.8C76.4,254.0 78.2,253.2 79.0,253.4C79.8,253.6 80.5,255.1 80.4,256.2C80.3,257.2 79.2,258.9 78.3,259.7C77.4,260.5 75.6,261.3 74.8,261.1C74.0,260.9 73.3,259.4 73.4,258.3Z"/>
<path fill="#73b2ff" d="M66.3,268.2C67.9,267.4 73.7,265.6 75.5,266.1C77.3,266.6 77.3,269.2 77.3,271.0C77.3,272.8 76.5,275.1 75.5,276.6C74.5,278.1 72.6,279.4 71.3,280.1C70.0,280.9 68.8,280.7 67.7,281.1C66.6,281.5 65.3,282.6 64.9,282.3C64.5,282.0 65.1,280.5 65.2,279.3C65.3,278.1 65.5,276.6 65.6,275.2C65.7,273.9 65.9,272.4 66.0,271.2C66.1,270.0 64.7,269.0 66.3,268.2Z"/>
<path fill="#73b2ff" d="M53.7,284.4C55.3,283.3 62.0,282.8 63.5,283.0C65.0,283.2 63.6,285.1 62.8,285.8C62.0,286.5 60.1,286.6 58.6,287.2C57.1,287.8 54.5,289.8 53.7,289.3C52.9,288.8 52.1,285.4 53.7,284.4Z"/>
<path fill="#73b2ff" d="M48.0,302.0C49.3,299.7 54.5,299.2 55.8,299.2C57.1,299.2 55.9,301.0 55.9,302.2C56.0,303.4 56.1,304.9 56.1,306.2C56.2,307.5 56.3,309.0 56.4,310.2C56.4,311.4 57.9,312.7 56.5,313.2C55.1,313.7 49.4,315.1 48.0,313.2C46.6,311.3 46.7,304.3 48.0,302.0Z"/>
<path fill="#ffff80" d="M87.5,269.6C88.0,268.6 89.2,267.5 90.3,267.5C91.3,267.5 92.6,268.4 93.8,269.6C95.0,270.8 96.0,273.3 97.3,274.5C98.6,275.7 99.8,276.5 101.5,276.6C103.2,276.7 105.5,275.8 107.2,275.2C108.9,274.6 110.2,273.4 111.4,273.1C112.6,272.8 112.8,273.4 114.3,273.7C115.9,274.0 118.5,274.5 120.5,274.9C122.6,275.2 125.2,275.7 126.8,276.0C128.3,276.3 129.2,276.0 129.7,276.6C130.2,277.2 129.7,276.6 129.7,279.6C129.7,282.7 129.7,289.8 129.7,294.9C129.7,300.0 129.7,307.1 129.7,310.2C129.7,313.2 130.2,312.7 129.7,313.2C129.2,313.7 129.9,313.2 126.7,313.2C123.5,313.2 116.0,313.2 110.7,313.2C105.4,313.2 97.9,313.2 94.7,313.2C91.5,313.2 91.2,315.1 91.7,313.2C92.2,311.3 97.0,305.3 98.0,302.0C99.0,298.7 97.8,296.1 97.6,293.5C97.4,290.9 97.6,288.6 97.0,286.5C96.4,284.4 95.4,282.3 94.2,280.8C93.0,279.3 91.1,278.9 90.0,277.7C88.9,276.5 87.9,275.1 87.5,273.8C87.1,272.5 87.0,270.7 87.5,269.6Z"/>
<path fill="#a8f016" d="M96.6,273.8C97.0,272.6 98.6,269.7 100.1,268.2C101.6,266.7 104.1,267.0 105.8,264.6C107.5,262.2 108.9,255.6 110.0,254.1C111.1,252.6 111.5,254.9 112.7,255.4C113.9,256.0 115.6,256.9 117.0,257.6C118.5,258.3 120.2,259.2 121.4,259.8C122.6,260.3 124.1,259.7 124.1,261.1C124.1,262.5 122.2,266.7 121.3,268.2C120.3,269.7 119.8,269.6 118.4,270.3C117.0,271.0 114.7,271.3 112.8,272.1C110.9,272.9 109.1,274.5 107.2,275.2C105.3,275.9 103.1,276.3 101.5,276.3C99.9,276.3 98.4,275.6 97.6,275.2C96.8,274.8 96.2,275.0 96.6,273.8Z"/>
<path fill="#66c20a" d="M100.8,270.3C101.3,269.4 103.1,267.5 104.4,266.8C105.7,266.1 107.8,265.8 108.6,266.1C109.4,266.5 109.8,268.0 109.3,268.9C108.8,269.8 107.1,270.8 105.8,271.3C104.5,271.8 102.3,272.3 101.5,272.1C100.7,271.9 100.3,271.2 100.8,270.3Z"/>
<path fill="#ffff80" d="M109.3,256.9C109.3,255.7 110.8,254.0 111.4,254.1C112.0,254.2 113.1,256.4 113.1,257.6C113.1,258.8 112.0,261.2 111.4,261.1C110.8,261.0 109.3,258.1 109.3,256.9Z"/>
<path fill="#ffd400" d="M103.7,285.1C104.0,283.6 104.9,281.5 105.8,280.1C106.7,278.7 108.1,277.4 109.3,276.6C110.5,275.8 110.8,275.0 112.8,275.2C114.8,275.4 119.9,277.0 121.3,278.0C122.7,279.0 121.3,279.5 121.3,281.0C121.3,282.5 121.3,285.1 121.3,287.1C121.3,289.2 121.3,291.8 121.3,293.3C121.3,294.8 123.2,295.9 121.3,296.3C119.4,296.7 112.5,296.2 110.0,295.6C107.5,295.0 107.5,293.9 106.5,292.8C105.5,291.8 104.6,290.6 104.1,289.3C103.6,288.0 103.4,286.6 103.7,285.1Z"/>
<path fill="#ff9900" d="M107.2,285.1C107.5,283.5 109.0,280.4 110.0,278.7C111.0,277.0 111.6,275.5 113.5,275.2C115.4,274.9 120.0,275.9 121.3,276.6C122.6,277.3 121.3,278.1 121.3,279.6C121.3,281.1 121.3,283.7 121.3,285.8C121.3,287.8 121.3,290.4 121.3,291.9C121.3,293.4 122.8,294.5 121.3,294.9C119.8,295.3 114.1,294.7 112.1,294.2C110.1,293.7 110.0,293.0 109.3,292.1C108.6,291.2 108.2,289.8 107.9,288.6C107.6,287.4 106.9,286.8 107.2,285.1Z"/>
<path fill="#ffd400" d="M99.4,302.0C100.1,299.8 101.6,300.4 102.9,299.9C104.2,299.4 105.8,298.8 107.2,299.2C108.6,299.6 111.0,301.1 111.4,302.0C111.8,302.9 110.3,303.5 109.6,304.4C108.9,305.3 108.0,306.5 107.2,307.6C106.3,308.7 105.4,309.9 104.7,310.8C104.0,311.7 103.9,312.8 102.9,313.2C101.9,313.6 99.3,315.1 98.7,313.2C98.1,311.3 98.7,304.2 99.4,302.0Z"/>
</g>
<g clip-path="url(#c19)">
<path fill="#73b2ff" d="M-28.9,275.9C-28.4,275.4 -36.5,275.9 -25.9,275.9C-15.3,275.9 14.4,275.9 34.5,275.9C54.6,275.9 84.3,275.9 94.9,275.9C105.5,275.9 97.4,275.4 97.9,275.9C98.4,276.4 97.9,270.7 97.9,278.9C97.9,287.1 97.9,309.8 97.9,325.2C97.9,340.6 97.9,363.3 97.9,371.5C97.9,379.7 98.4,374.0 97.9,374.5C97.4,375.0 105.5,374.5 94.9,374.5C84.3,374.5 54.6,374.5 34.5,374.5C14.4,374.5 -15.3,374.5 -25.9,374.5C-36.5,374.5 -28.4,375.0 -28.9,374.5C-29.4,374.0 -28.9,379.7 -28.9,371.5C-28.9,363.3 -28.9,340.6 -28.9,325.2C-28.9,309.8 -28.9,287.1 -28.9,278.9C-28.9,270.7 -29.4,276.4 -28.9,275.9Z"/>
<path fill="#089a08" d="M56.3,275.9C55.8,276.4 56.3,277.1 56.2,278.9C56.1,280.7 56.0,283.9 56.0,286.4C55.9,289.0 55.8,292.2 55.7,294.0C55.6,295.8 55.7,295.3 55.6,297.0C55.5,298.7 55.6,301.8 54.9,304.1C54.2,306.5 52.7,309.0 51.4,311.1C50.1,313.2 48.9,315.0 47.2,316.8C45.6,318.6 43.6,320.2 41.5,321.7C39.4,323.2 36.8,324.3 34.5,325.9C32.2,327.5 29.9,329.6 27.5,331.5C25.1,333.4 22.8,335.3 20.4,337.2C18.0,339.1 15.5,341.1 13.4,342.8C11.3,344.6 9.8,346.2 7.7,347.7C5.6,349.2 2.7,350.7 0.7,352.0C-1.3,353.3 -2.6,353.6 -4.2,355.5C-5.8,357.4 -8.9,361.9 -9.2,363.2C-9.5,364.5 -16.3,362.5 -6.2,363.5C3.9,364.4 32.2,367.1 51.4,368.9C70.6,370.6 98.9,373.3 109.0,374.2C119.1,375.2 111.5,375.0 112.0,374.5C112.5,374.0 112.0,379.7 112.0,371.5C112.0,363.3 112.0,340.6 112.0,325.2C112.0,309.8 112.0,287.1 112.0,278.9C112.0,270.7 112.5,276.4 112.0,275.9C111.5,275.4 113.6,275.9 109.0,275.9C104.4,275.9 92.4,275.9 84.2,275.9C75.9,275.9 63.9,275.9 59.3,275.9C54.7,275.9 56.8,275.4 56.3,275.9Z"/>
<path fill="#66c20a" d="M62.0,275.9C61.5,276.4 61.9,277.7 61.9,278.9C61.8,280.1 61.7,281.6 61.6,282.9C61.6,284.3 61.5,285.8 61.4,287.0C61.4,288.2 61.4,288.3 61.3,290.0C61.2,291.7 60.5,294.6 60.6,297.0C60.7,299.4 61.8,301.8 62.0,304.1C62.2,306.5 62.6,309.1 62.0,311.1C61.4,313.1 59.7,314.6 58.4,316.1C57.1,317.6 55.8,318.9 54.2,320.3C52.6,321.7 50.7,323.1 48.6,324.5C46.5,325.9 43.9,327.3 41.5,328.7C39.1,330.1 36.8,331.5 34.5,333.0C32.2,334.5 29.6,336.3 27.5,337.9C25.4,339.5 23.4,341.2 21.8,342.8C20.2,344.4 19.0,346.2 17.6,347.7C16.2,349.2 15.3,350.9 13.4,352.0C11.5,353.1 8.4,353.4 6.3,354.1C4.2,354.8 2.1,354.7 0.7,356.2C-0.7,357.7 -2.1,362.0 -2.1,363.2C-2.1,364.4 -8.6,362.6 0.9,363.5C10.4,364.4 36.9,367.1 54.9,368.9C73.0,370.6 99.5,373.3 109.0,374.2C118.5,375.1 111.5,375.0 112.0,374.5C112.5,374.0 112.0,379.7 112.0,371.5C112.0,363.3 112.0,340.6 112.0,325.2C112.0,309.8 112.0,287.1 112.0,278.9C112.0,270.7 112.5,276.4 112.0,275.9C111.5,275.4 113.2,275.9 109.0,275.9C104.8,275.9 94.3,275.9 87.0,275.9C79.7,275.9 69.2,275.9 65.0,275.9C60.8,275.9 62.5,275.4 62.0,275.9Z"/>
<path fill="#a8f016" d="M97.9,295.6C95.9,295.6 89.4,297.7 86.6,298.5C83.8,299.3 82.9,299.7 81.0,300.6C79.1,301.5 76.7,302.6 75.3,304.1C73.9,305.6 73.7,308.1 72.5,309.7C71.3,311.3 69.9,312.6 68.3,313.9C66.7,315.2 64.6,316.2 62.7,317.5C60.8,318.8 58.9,320.3 57.0,321.7C55.1,323.1 53.5,324.5 51.4,325.9C49.3,327.3 46.8,328.6 44.4,330.1C42.0,331.6 39.6,333.5 37.3,335.1C34.9,336.8 32.3,338.4 30.3,340.0C28.3,341.6 26.7,343.2 25.3,344.9C23.9,346.5 22.9,348.2 21.8,349.9C20.8,351.5 19.7,352.6 19.0,354.8C18.3,357.0 17.3,361.7 17.6,363.2C17.9,364.7 12.7,362.6 20.6,363.6C28.4,364.5 50.1,367.1 64.8,368.9C79.5,370.6 101.2,373.2 109.0,374.1C116.9,375.1 111.6,374.9 112.0,374.5C112.4,374.1 112.6,378.1 111.5,371.5C110.3,365.0 107.1,347.2 105.0,335.1C102.8,322.9 99.6,305.1 98.4,298.6C97.3,292.0 99.9,295.6 97.9,295.6Z"/>
<path fill="#ffff80" d="M97.9,302.7C95.9,302.7 89.2,304.7 86.6,305.5C84.0,306.3 83.7,306.4 82.4,307.6C81.1,308.8 80.1,311.1 78.9,312.5C77.7,313.9 76.8,315.2 75.3,316.1C73.8,317.1 71.6,317.5 69.7,318.2C67.8,318.9 66.0,319.4 64.1,320.3C62.2,321.2 60.0,322.7 58.4,323.8C56.8,324.9 56.1,325.6 54.2,326.9C52.3,328.2 49.4,329.9 47.2,331.5C45.0,333.1 43.0,334.9 40.8,336.5C38.6,338.1 35.8,339.8 33.8,341.4C31.8,343.0 30.3,344.6 28.9,346.3C27.5,348.0 26.4,348.5 25.3,351.3C24.2,354.1 22.5,361.2 22.5,363.2C22.5,365.2 18.0,362.6 25.5,363.6C32.9,364.5 53.3,367.1 67.2,368.9C81.2,370.6 101.6,373.2 109.0,374.1C116.5,375.1 111.6,374.9 112.0,374.5C112.4,374.1 112.6,377.5 111.4,371.6C110.2,365.6 107.1,349.6 105.0,338.6C102.8,327.6 99.7,311.6 98.5,305.6C97.3,299.7 99.9,302.7 97.9,302.7Z"/>
<path fill="#ffd400" d="M97.9,311.1C95.9,311.1 89.2,312.7 86.6,313.9C84.0,315.1 84.1,316.9 82.4,318.2C80.8,319.5 78.4,320.8 76.7,321.7C75.0,322.6 74.1,323.2 72.5,323.8C70.9,324.4 68.2,324.6 66.9,325.2C65.6,325.8 65.3,326.2 64.8,327.3C64.3,328.4 64.7,330.1 64.1,331.5C63.5,332.9 62.2,334.4 61.3,335.8C60.4,337.2 59.4,338.7 58.7,340.0C58.0,341.3 57.3,342.2 57.3,343.5C57.2,344.8 58.0,346.3 58.4,347.7C58.8,349.1 59.5,349.4 59.6,352.0C59.7,354.6 58.4,361.2 58.7,363.2C59.0,365.2 57.2,362.9 61.6,363.8C66.1,364.8 77.4,367.2 85.3,368.9C93.3,370.5 104.6,372.9 109.1,373.9C113.5,374.8 111.6,374.9 112.0,374.5C112.4,374.1 112.5,376.9 111.3,371.6C110.2,366.3 107.1,352.4 105.0,342.8C102.8,333.2 99.7,319.3 98.6,314.0C97.4,308.7 99.9,311.1 97.9,311.1Z"/>
<path fill="#ff9900" d="M97.9,315.4C95.9,315.3 89.2,316.4 86.6,317.5C84.0,318.6 83.8,320.5 82.4,321.7C81.0,322.9 79.9,323.6 78.2,324.5C76.5,325.4 74.2,326.2 72.5,326.9C70.8,327.6 69.3,327.8 68.3,328.7C67.2,329.6 66.8,331.0 66.2,332.3C65.6,333.6 65.5,335.3 64.8,336.5C64.1,337.7 62.8,338.2 62.0,339.3C61.2,340.4 60.2,341.4 59.8,342.8C59.4,344.2 59.4,346.2 59.6,347.7C59.9,349.2 61.3,349.4 61.3,352.0C61.3,354.6 59.6,361.2 59.8,363.2C60.0,365.2 58.4,362.9 62.7,363.8C67.1,364.8 78.2,367.2 85.9,368.9C93.6,370.5 104.7,372.9 109.1,373.9C113.4,374.8 111.6,374.9 112.0,374.5C112.4,374.1 112.5,376.5 111.3,371.6C110.1,366.7 107.1,353.8 105.0,344.9C102.8,336.1 99.8,323.2 98.6,318.3C97.4,313.4 99.9,315.5 97.9,315.4Z"/>
<path fill="#ffd400" d="M25.3,363.2C25.2,361.4 26.6,355.1 27.5,352.7C28.4,350.2 29.6,349.6 31.0,348.5C32.4,347.4 34.3,346.6 35.9,346.3C37.5,346.1 39.5,347.4 40.8,347.0C42.1,346.6 42.9,345.5 43.7,344.2C44.5,342.9 45.0,340.7 45.8,339.3C46.6,337.9 47.4,336.6 48.6,335.8C49.8,335.0 51.6,334.3 52.8,334.4C54.0,334.5 55.2,335.6 55.6,336.5C56.0,337.4 55.4,339.0 54.9,340.0C54.4,341.0 53.5,341.7 52.5,342.4C51.5,343.1 49.6,343.4 48.6,344.2C47.6,345.0 46.7,345.9 46.5,347.0C46.3,348.1 46.6,349.5 47.2,350.6C47.8,351.7 48.8,352.9 50.0,353.4C51.2,353.9 53.0,353.6 54.2,353.4C55.4,353.2 56.4,350.4 57.0,352.0C57.6,353.6 58.1,361.3 57.7,363.2C57.3,365.1 57.4,363.2 54.7,363.2C52.0,363.2 45.9,363.2 41.5,363.2C37.1,363.2 31.0,363.2 28.3,363.2C25.6,363.2 25.4,364.9 25.3,363.2Z"/>
<path fill="#ff9900" d="M26.7,363.2C26.7,361.6 28.5,355.6 29.6,353.4C30.7,351.2 31.9,350.6 33.1,349.9C34.3,349.2 35.4,348.8 36.6,349.2C37.8,349.6 39.3,349.7 40.1,352.0C40.9,354.3 41.8,361.3 41.5,363.2C41.2,365.1 39.7,363.2 38.5,363.2C37.3,363.2 35.6,363.2 34.1,363.2C32.6,363.2 30.9,363.2 29.7,363.2C28.5,363.2 26.7,364.8 26.7,363.2Z"/>
<path fill="#e63c00" d="M30.6,363.2C29.5,361.7 31.6,355.9 32.4,354.1C33.2,352.4 34.3,352.7 35.2,352.7C36.1,352.7 37.4,352.4 38.0,354.1C38.6,355.9 40.2,361.7 39.0,363.2C37.8,364.7 31.7,364.7 30.6,363.2Z"/>
<path fill="#ff9900" d="M50.4,338.6C50.5,338.2 51.4,337.8 51.8,337.9C52.2,338.0 52.9,338.9 52.8,339.3C52.7,339.7 51.8,340.4 51.4,340.3C51.0,340.2 50.3,339.0 50.4,338.6Z"/>
<path fill="#ffff80" d="M45.1,346.3C45.3,345.2 45.9,344.1 47.2,343.5C48.5,342.9 51.2,342.3 52.8,342.4C54.4,342.5 56.2,343.1 57.0,344.2C57.8,345.3 58.2,347.9 57.7,349.2C57.2,350.5 55.6,351.5 54.2,352.0C52.8,352.5 50.7,352.4 49.3,352.0C47.9,351.6 46.5,350.8 45.8,349.9C45.1,348.9 44.9,347.4 45.1,346.3Z"/>
<path fill="#a8f016" d="M49.3,347.5C49.5,346.6 51.2,345.1 52.1,344.9C53.0,344.7 54.5,345.6 54.9,346.3C55.2,347.0 54.8,348.5 54.2,349.2C53.6,349.9 51.9,350.6 51.1,350.3C50.3,350.0 49.1,348.4 49.3,347.5Z"/>
<path fill="#ffff80" d="M56.3,335.8C56.4,334.8 58.5,333.4 59.8,333.0C61.0,332.6 63.2,332.7 63.8,333.4C64.4,334.1 64.2,336.2 63.4,337.2C62.6,338.2 60.3,339.5 59.1,339.3C57.9,339.1 56.2,336.9 56.3,335.8Z"/>
<path fill="#ffd400" d="M56.3,328.7C56.4,327.8 58.1,327.0 59.1,326.9C60.1,326.8 61.9,327.6 62.4,328.3C62.9,329.0 62.7,330.5 62.0,331.1C61.3,331.7 59.4,332.4 58.4,332.0C57.4,331.6 56.2,329.6 56.3,328.7Z"/>
<path fill="#ff9900" d="M58.9,328.7C59.0,328.3 59.9,328.1 60.3,328.3C60.6,328.5 61.1,329.3 61.0,329.7C60.9,330.1 60.0,330.8 59.6,330.6C59.2,330.4 58.8,329.1 58.9,328.7Z"/>
</g>
<g clip-path="url(#c20)">
<path fill="#ffd400" d="M41.1,275.9C41.6,275.4 33.5,275.9 44.1,275.9C54.7,275.9 84.4,275.9 104.5,275.9C124.6,275.9 154.3,275.9 164.9,275.9C175.5,275.9 167.4,275.4 167.9,275.9C168.4,276.4 167.9,270.7 167.9,278.9C167.9,287.1 167.9,309.8 167.9,325.2C167.9,340.6 167.9,363.3 167.9,371.5C167.9,379.7 168.4,374.0 167.9,374.5C167.4,375.0 175.5,374.5 164.9,374.5C154.3,374.5 124.6,374.5 104.5,374.5C84.4,374.5 54.7,374.5 44.1,374.5C33.5,374.5 41.6,375.0 41.1,374.5C40.6,374.0 41.1,379.7 41.1,371.5C41.1,363.3 41.1,340.6 41.1,325.2C41.1,309.8 41.1,287.1 41.1,278.9C41.1,270.7 40.6,276.4 41.1,275.9Z"/>
<path fill="#ffff80" d="M103.8,275.9C104.3,276.4 103.8,277.7 103.8,278.9C103.8,280.1 103.8,281.6 103.8,282.9C103.8,284.3 103.8,285.8 103.8,287.0C103.8,288.2 104.1,288.6 103.8,290.0C103.5,291.4 102.2,293.7 101.7,295.6C101.2,297.5 101.7,299.5 101.0,301.3C100.3,303.1 98.8,305.0 97.5,306.2C96.2,307.4 94.9,307.8 93.2,308.3C91.5,308.8 89.0,308.3 87.6,309.0C86.2,309.7 85.8,311.1 84.8,312.5C83.8,313.9 82.5,316.0 81.3,317.5C80.1,319.0 79.0,320.5 77.7,321.7C76.4,322.9 74.9,323.9 73.5,324.5C72.1,325.1 70.9,324.8 69.3,325.2C67.7,325.6 65.4,326.1 63.7,326.6C62.1,327.1 60.6,327.7 59.4,328.0C58.2,328.3 58.0,328.2 56.4,328.5C54.9,328.7 52.3,329.1 50.2,329.4C48.2,329.7 45.6,330.1 44.1,330.3C42.5,330.6 41.6,331.2 41.1,330.8C40.6,330.4 41.1,332.4 41.1,327.8C41.1,323.2 41.1,311.5 41.1,303.4C41.1,295.2 41.1,283.5 41.1,278.9C41.1,274.3 40.6,276.4 41.1,275.9C41.6,275.4 38.9,275.9 44.1,275.9C49.3,275.9 63.0,275.9 72.5,275.9C81.9,275.9 95.6,275.9 100.8,275.9C106.0,275.9 103.3,275.4 103.8,275.9Z"/>
<path fill="#ffff80" d="M103.1,294.2C103.6,292.5 105.9,291.4 107.3,291.4C108.7,291.4 111.3,293.0 111.5,294.2C111.7,295.4 109.9,297.3 108.7,298.5C107.5,299.7 105.4,302.0 104.5,301.3C103.6,300.6 102.6,295.9 103.1,294.2Z"/>
<path fill="#a8f016" d="M98.2,275.9C98.7,276.4 98.2,277.7 98.2,278.9C98.2,280.1 98.2,281.6 98.2,282.9C98.2,284.3 98.2,285.8 98.2,287.0C98.2,288.2 98.3,288.6 98.2,290.0C98.1,291.4 97.9,293.7 97.5,295.6C97.1,297.5 97.0,299.8 96.0,301.3C95.0,302.8 93.4,304.0 91.8,304.8C90.2,305.6 87.8,305.7 86.2,306.2C84.6,306.7 83.1,306.6 82.0,307.6C80.9,308.7 80.8,311.0 79.8,312.5C78.8,314.0 77.5,315.5 76.3,316.8C75.1,318.1 74.2,319.2 72.8,320.3C71.4,321.4 69.9,322.2 67.9,323.1C65.9,324.0 62.5,325.4 60.8,325.9C59.1,326.4 59.5,326.0 57.8,326.2C56.2,326.4 53.2,326.7 51.0,326.9C48.7,327.2 45.7,327.5 44.1,327.7C42.4,327.9 41.6,328.4 41.1,328.0C40.6,327.6 41.1,329.3 41.1,325.0C41.1,320.7 41.1,309.6 41.1,301.9C41.1,294.3 41.1,283.2 41.1,278.9C41.1,274.6 40.6,276.4 41.1,275.9C41.6,275.4 39.3,275.9 44.1,275.9C48.9,275.9 61.1,275.9 69.7,275.9C78.2,275.9 90.4,275.9 95.2,275.9C100.0,275.9 97.7,275.4 98.2,275.9Z"/>
<path fill="#66c20a" d="M90.4,275.9C90.9,276.4 90.4,277.7 90.4,278.9C90.4,280.1 90.4,281.6 90.4,282.9C90.4,284.3 90.4,285.8 90.4,287.0C90.4,288.2 90.5,288.6 90.4,290.0C90.3,291.4 90.4,294.1 89.7,295.6C89.0,297.1 87.7,298.2 86.2,299.2C84.7,300.1 82.5,300.6 80.6,301.3C78.7,302.0 76.3,302.2 74.9,303.4C73.5,304.6 72.8,306.6 72.1,308.3C71.4,310.1 71.4,312.2 70.7,313.9C70.0,315.5 69.3,316.9 67.9,318.2C66.5,319.5 63.6,321.0 62.2,321.7C60.8,322.4 61.0,321.9 59.2,322.2C57.5,322.5 54.2,323.0 51.7,323.4C49.1,323.9 45.8,324.4 44.1,324.7C42.3,325.0 41.6,325.6 41.1,325.2C40.6,324.8 41.1,326.3 41.1,322.2C41.1,318.1 41.1,307.8 41.1,300.5C41.1,293.3 41.1,283.0 41.1,278.9C41.1,274.8 40.6,276.4 41.1,275.9C41.6,275.4 40.0,275.9 44.1,275.9C48.2,275.9 58.5,275.9 65.8,275.9C73.0,275.9 83.3,275.9 87.4,275.9C91.5,275.9 89.9,275.4 90.4,275.9Z"/>
<path fill="#089a08" d="M62.9,275.9C63.4,276.4 62.8,277.7 62.8,278.9C62.7,280.1 62.6,281.6 62.5,282.9C62.5,284.3 62.4,285.8 62.3,287.0C62.3,288.2 62.3,288.3 62.2,290.0C62.1,291.7 61.5,294.6 61.5,297.0C61.5,299.4 62.1,301.8 62.2,304.1C62.3,306.5 62.7,309.1 62.2,311.1C61.7,313.1 60.4,315.2 59.4,316.1C58.4,317.0 58.0,316.4 56.5,316.8C55.0,317.1 52.3,317.7 50.2,318.2C48.2,318.7 45.5,319.3 44.0,319.6C42.5,320.0 41.6,320.7 41.1,320.3C40.6,319.9 41.1,321.0 41.1,317.3C41.1,313.6 41.1,304.5 41.1,298.1C41.1,291.7 41.1,282.6 41.1,278.9C41.1,275.2 40.6,276.4 41.1,275.9C41.6,275.4 42.3,275.9 44.1,275.9C45.9,275.9 49.4,275.9 52.0,275.9C54.6,275.9 58.1,275.9 59.9,275.9C61.7,275.9 62.4,275.4 62.9,275.9Z"/>
<path fill="#73b2ff" d="M41.1,294.2C41.6,292.4 42.9,294.4 44.1,294.5C45.3,294.6 47.0,294.8 48.5,294.9C50.0,295.0 51.7,295.2 52.9,295.3C54.1,295.4 55.3,294.8 55.9,295.6C56.5,296.4 56.6,298.5 56.6,299.9C56.6,301.3 56.5,303.4 55.9,304.1C55.3,304.8 54.1,304.3 52.9,304.4C51.7,304.5 50.0,304.7 48.5,304.8C47.0,304.9 45.3,305.1 44.1,305.2C42.9,305.3 41.6,307.3 41.1,305.5C40.6,303.7 40.6,296.0 41.1,294.2Z"/>
<path fill="#ff9900" d="M83.4,318.9C83.9,317.1 84.5,315.7 85.5,314.6C86.5,313.5 88.6,312.4 89.7,312.5C90.8,312.6 91.8,314.2 92.1,315.4C92.4,316.6 92.4,318.3 91.8,319.6C91.2,320.9 89.2,322.1 88.3,323.1C87.4,324.2 86.7,324.7 86.2,325.9C85.7,327.1 85.5,328.6 85.5,330.1C85.5,331.6 86.7,333.9 86.2,335.1C85.7,336.3 83.4,335.9 82.7,337.2C82.0,338.5 83.1,341.5 82.0,342.8C80.9,344.1 78.4,344.1 76.3,344.9C74.2,345.7 71.6,346.5 69.3,347.7C67.0,348.9 63.8,351.0 62.2,352.0C60.6,353.0 61.3,352.5 59.6,353.4C57.8,354.3 54.3,356.2 51.7,357.6C49.0,359.0 45.5,360.9 43.7,361.8C42.0,362.7 41.5,363.5 41.1,363.2C40.7,362.9 41.1,361.6 41.1,360.2C41.1,358.8 41.1,356.6 41.1,354.8C41.1,352.9 41.1,350.7 41.1,349.3C41.1,347.9 40.6,346.9 41.1,346.3C41.6,345.7 42.6,345.9 44.0,345.6C45.4,345.2 47.7,344.7 49.5,344.2C51.4,343.7 53.7,343.2 55.1,342.8C56.5,342.5 56.6,342.9 58.0,342.1C59.4,341.3 62.3,339.5 63.7,337.9C65.1,336.3 65.1,333.6 66.5,332.3C67.9,331.0 70.0,330.6 72.1,330.1C74.2,329.6 77.3,330.2 79.1,329.4C80.9,328.6 82.0,326.9 82.7,325.2C83.4,323.4 82.9,320.7 83.4,318.9Z"/>
<path fill="#ff9900" d="M108.0,275.9C109.3,275.4 114.6,275.4 115.8,275.9C117.0,276.4 115.5,277.3 115.1,278.8C114.8,280.3 114.1,283.0 113.7,285.0C113.2,287.1 112.5,289.8 112.2,291.3C111.8,292.8 112.0,293.5 111.5,294.2C111.0,294.9 109.8,295.9 109.4,295.6C109.0,295.3 109.3,294.2 109.2,292.6C109.1,291.0 108.9,288.0 108.7,285.8C108.5,283.5 108.3,280.5 108.2,278.9C108.1,277.3 106.7,276.4 108.0,275.9Z"/>
<path fill="#ff9900" d="M58.6,328.7C58.8,328.4 59.7,328.1 60.0,328.3C60.3,328.5 60.8,329.4 60.6,329.7C60.5,330.0 59.4,330.5 59.1,330.3C58.8,330.1 58.5,329.0 58.6,328.7Z"/>
<path fill="#ffff80" d="M56.6,335.1C56.7,333.9 58.3,332.7 59.4,332.3C60.5,331.9 62.8,332.2 63.4,333.0C64.0,333.8 63.7,336.1 62.9,337.2C62.1,338.2 59.8,339.6 58.7,339.3C57.7,339.0 56.5,336.3 56.6,335.1Z"/>
<path fill="#ffff80" d="M84.1,337.2C84.8,336.3 87.4,336.5 89.0,337.2C90.6,337.9 93.4,340.1 93.9,341.4C94.4,342.7 93.0,344.3 92.1,344.9C91.2,345.5 89.5,345.5 88.3,345.2C87.1,344.9 85.5,344.1 84.8,342.8C84.1,341.5 83.4,338.1 84.1,337.2Z"/>
</g>
<g clip-path="url(#c21)">
<path fill="#73b2ff" d="M-63.9,325.9C-63.4,325.4 -71.5,325.9 -60.9,325.9C-50.3,325.9 -20.6,325.9 -0.5,325.9C19.6,325.9 49.3,325.9 59.9,325.9C70.5,325.9 62.4,325.4 62.9,325.9C63.4,326.4 62.9,320.7 62.9,328.9C62.9,337.1 62.9,359.8 62.9,375.2C62.9,390.6 62.9,413.3 62.9,421.5C62.9,429.7 63.4,424.0 62.9,424.5C62.4,425.0 70.5,424.5 59.9,424.5C49.3,424.5 19.6,424.5 -0.5,424.5C-20.6,424.5 -50.3,424.5 -60.9,424.5C-71.5,424.5 -63.4,425.0 -63.9,424.5C-64.4,424.0 -63.9,429.7 -63.9,421.5C-63.9,413.3 -63.9,390.6 -63.9,375.2C-63.9,359.8 -63.9,337.1 -63.9,328.9C-63.9,320.7 -64.4,326.4 -63.9,325.9Z"/>
<path fill="#0047bb" d="M-47.0,413.2C-47.3,412.8 -46.5,412.3 -45.6,410.6C-44.6,408.8 -42.8,405.3 -41.4,402.6C-39.9,400.0 -38.1,396.5 -37.1,394.7C-36.2,393.0 -36.6,393.5 -35.7,392.1C-34.8,390.7 -32.7,387.0 -31.5,386.5C-30.3,386.0 -29.3,387.7 -28.7,389.3C-28.1,390.9 -28.0,393.7 -28.0,396.3C-28.0,398.9 -28.3,402.0 -28.7,404.8C-29.1,407.6 -29.4,411.8 -30.1,413.2C-30.8,414.6 -31.7,413.2 -33.1,413.2C-34.5,413.2 -36.7,413.2 -38.5,413.2C-40.4,413.2 -42.6,413.2 -44.0,413.2C-45.4,413.2 -46.7,413.6 -47.0,413.2Z"/>
<path fill="#089a08" d="M17.8,325.9C17.3,326.4 17.8,327.7 17.8,328.9C17.8,330.1 17.8,331.6 17.8,332.9C17.8,334.3 17.8,335.8 17.8,337.0C17.8,338.2 18.7,338.3 17.8,340.0C16.9,341.7 14.1,345.2 12.2,347.0C10.3,348.8 8.6,349.8 6.5,350.6C4.4,351.4 1.4,351.2 -0.5,352.0C-2.4,352.8 -3.3,354.0 -4.7,355.5C-6.1,357.0 -7.6,359.1 -9.0,361.1C-10.4,363.1 -11.8,365.5 -13.2,367.5C-14.6,369.5 -16.0,371.4 -17.4,373.1C-18.8,374.9 -20.3,376.5 -21.6,378.0C-22.9,379.5 -24.4,380.7 -25.2,382.3C-26.0,383.9 -26.2,386.0 -26.6,387.9C-27.0,389.8 -27.3,391.6 -27.3,393.5C-27.3,395.4 -26.8,397.8 -26.6,399.2C-26.4,400.6 -26.4,401.0 -26.3,402.2C-26.2,403.4 -26.0,404.9 -25.9,406.2C-25.8,407.5 -25.6,409.0 -25.5,410.2C-25.4,411.4 -25.7,412.6 -25.2,413.2C-24.7,413.8 -30.7,412.6 -22.2,413.5C-13.7,414.5 9.9,417.1 25.9,418.9C41.9,420.6 65.5,423.2 74.0,424.2C82.5,425.1 76.5,424.9 77.0,424.5C77.5,424.1 77.0,429.7 77.0,421.5C77.0,413.3 77.0,390.6 77.0,375.2C77.0,359.8 77.0,337.1 77.0,328.9C77.0,320.7 77.5,326.4 77.0,325.9C76.5,325.4 78.9,325.9 74.0,325.9C69.1,325.9 56.3,325.9 47.4,325.9C38.5,325.9 25.7,325.9 20.8,325.9C15.9,325.9 18.3,325.4 17.8,325.9Z"/>
<path fill="#66c20a" d="M23.4,325.9C22.9,326.4 23.4,327.7 23.4,328.9C23.4,330.1 23.4,331.6 23.4,332.9C23.4,334.3 23.4,335.8 23.4,337.0C23.4,338.2 24.1,338.4 23.4,340.0C22.7,341.6 20.6,344.4 19.2,346.3C17.8,348.2 16.4,350.0 15.0,351.3C13.6,352.6 12.7,353.5 10.8,354.1C8.9,354.7 5.6,354.3 3.7,354.8C1.8,355.3 0.7,355.8 -0.5,356.9C-1.7,357.9 -2.4,359.5 -3.3,361.1C-4.2,362.8 -5.4,365.0 -6.1,366.8C-6.8,368.6 -6.5,370.3 -7.5,371.7C-8.4,373.1 -10.3,373.9 -11.8,375.2C-13.3,376.5 -15.3,378.0 -16.7,379.4C-18.1,380.8 -19.4,382.0 -20.2,383.7C-21.0,385.4 -21.4,387.2 -21.6,389.3C-21.8,391.4 -21.8,394.2 -21.6,396.3C-21.4,398.4 -20.6,399.2 -20.2,402.0C-19.8,404.8 -20.1,411.3 -19.5,413.2C-18.9,415.1 -24.6,412.6 -16.5,413.5C-8.5,414.5 13.7,417.1 28.8,418.9C43.8,420.6 66.0,423.2 74.0,424.2C82.1,425.1 76.5,424.9 77.0,424.5C77.5,424.1 77.0,429.7 77.0,421.5C77.0,413.3 77.0,390.6 77.0,375.2C77.0,359.8 77.0,337.1 77.0,328.9C77.0,320.7 77.5,326.4 77.0,325.9C76.5,325.4 78.5,325.9 74.0,325.9C69.5,325.9 58.1,325.9 50.2,325.9C42.3,325.9 30.9,325.9 26.4,325.9C21.9,325.9 23.9,325.4 23.4,325.9Z"/>
<path fill="#a8f016" d="M27.0,325.9C26.5,326.4 27.0,327.7 27.0,328.9C27.0,330.1 27.0,331.6 27.0,332.9C27.0,334.3 27.0,335.8 27.0,337.0C27.0,338.2 27.8,338.3 27.0,340.0C26.2,341.7 23.5,344.9 22.0,347.0C20.5,349.1 19.2,351.2 17.8,352.7C16.4,354.2 15.5,355.5 13.6,356.2C11.7,356.9 8.4,356.4 6.5,356.9C4.6,357.4 3.5,357.9 2.3,359.0C1.1,360.1 0.3,361.7 -0.5,363.2C-1.3,364.7 -2.0,366.5 -2.6,368.2C-3.2,369.9 -3.0,371.6 -4.0,373.1C-5.0,374.6 -6.7,375.9 -8.3,377.3C-10.0,378.7 -12.5,380.1 -13.9,381.5C-15.3,382.9 -16.0,384.2 -16.7,385.8C-17.4,387.4 -17.9,389.4 -18.1,391.4C-18.3,393.4 -18.1,395.7 -17.7,397.7C-17.3,399.7 -16.5,400.8 -16.0,403.4C-15.5,406.0 -15.3,411.5 -14.6,413.2C-13.9,414.9 -19.3,412.6 -11.6,413.6C-4.0,414.5 16.9,417.1 31.2,418.9C45.5,420.6 66.4,423.2 74.0,424.1C81.7,425.1 76.5,424.9 77.0,424.5C77.5,424.1 77.0,429.7 77.0,421.5C77.0,413.3 77.0,390.6 77.0,375.2C77.0,359.8 77.0,337.1 77.0,328.9C77.0,320.7 77.5,326.4 77.0,325.9C76.5,325.4 78.2,325.9 74.0,325.9C69.8,325.9 59.3,325.9 52.0,325.9C44.7,325.9 34.2,325.9 30.0,325.9C25.8,325.9 27.5,325.4 27.0,325.9Z"/>
<path fill="#66c20a" d="M-11.1,390.7C-10.8,389.5 -9.3,387.4 -8.3,387.2C-7.3,387.0 -5.6,388.3 -5.0,389.3C-4.4,390.3 -4.3,392.2 -4.7,393.2C-5.1,394.2 -6.5,395.0 -7.5,395.2C-8.4,395.4 -9.8,394.9 -10.4,394.2C-11.0,393.4 -11.4,391.9 -11.1,390.7Z"/>
<path fill="#ffff80" d="M31.2,325.9C30.7,326.4 31.2,327.7 31.2,328.9C31.2,330.1 31.2,331.6 31.2,332.9C31.2,334.3 31.2,335.8 31.2,337.0C31.2,338.2 32.0,338.3 31.2,340.0C30.4,341.7 27.9,344.8 26.3,347.0C24.7,349.2 23.0,351.6 21.3,353.4C19.6,355.2 18.1,356.7 16.4,357.6C14.6,358.5 12.6,358.4 10.8,359.0C9.0,359.6 7.1,360.0 5.8,361.1C4.5,362.2 3.7,363.9 3.0,365.4C2.3,366.9 2.1,368.7 1.6,370.3C1.1,371.9 0.9,373.8 0.2,375.2C-0.5,376.6 -2.2,377.4 -2.6,378.7C-3.0,380.0 -2.1,381.4 -1.9,383.0C-1.7,384.6 -1.2,386.9 -1.2,388.6C-1.2,390.4 -1.3,392.0 -1.9,393.5C-2.5,395.0 -3.8,396.5 -4.7,397.7C-5.6,398.9 -6.8,399.4 -7.5,400.6C-8.2,401.8 -9.0,402.7 -9.0,404.8C-9.0,406.9 -8.2,411.7 -7.5,413.2C-6.8,414.7 -11.6,412.7 -4.5,413.6C2.5,414.5 21.7,417.1 34.8,418.9C47.8,420.6 67.0,423.2 74.0,424.1C81.1,425.0 76.5,424.9 77.0,424.5C77.5,424.1 77.0,429.7 77.0,421.5C77.0,413.3 77.0,390.6 77.0,375.2C77.0,359.8 77.0,337.1 77.0,328.9C77.0,320.7 77.5,326.4 77.0,325.9C76.5,325.4 77.8,325.9 74.0,325.9C70.2,325.9 60.7,325.9 54.1,325.9C47.5,325.9 38.0,325.9 34.2,325.9C30.4,325.9 31.7,325.4 31.2,325.9Z"/>
<path fill="#ffd400" d="M34.7,325.9C34.2,326.4 34.7,327.7 34.7,328.9C34.7,330.1 34.7,331.6 34.7,332.9C34.7,334.3 34.7,335.8 34.7,337.0C34.7,338.2 35.5,338.3 34.7,340.0C33.9,341.7 31.5,344.8 29.8,347.0C28.1,349.2 26.5,351.5 24.8,353.4C23.1,355.3 21.8,357.0 19.9,358.3C18.0,359.6 15.5,360.3 13.6,361.1C11.7,361.9 10.0,362.1 8.7,363.2C7.4,364.3 6.4,366.0 5.8,367.5C5.2,369.0 5.1,370.9 4.8,372.4C4.5,373.9 4.2,375.2 3.7,376.6C3.2,378.0 1.7,379.4 1.6,380.8C1.5,382.2 2.6,383.6 3.0,385.1C3.4,386.6 3.8,388.5 3.7,390.0C3.6,391.5 3.1,392.8 2.3,394.2C1.5,395.6 -0.3,397.2 -1.2,398.5C-2.1,399.8 -3.4,400.9 -3.3,402.0C-3.2,403.1 -1.7,402.9 -0.5,404.8C0.7,406.7 2.5,411.7 3.7,413.2C4.9,414.7 0.6,412.7 6.7,413.7C12.8,414.6 29.1,417.1 40.4,418.9C51.6,420.6 67.9,423.1 74.0,424.0C80.1,425.0 76.5,424.9 77.0,424.5C77.5,424.1 77.0,429.7 77.0,421.5C77.0,413.3 77.0,390.6 77.0,375.2C77.0,359.8 77.0,337.1 77.0,328.9C77.0,320.7 77.5,326.4 77.0,325.9C76.5,325.4 77.5,325.9 74.0,325.9C70.5,325.9 61.9,325.9 55.9,325.9C49.8,325.9 41.2,325.9 37.7,325.9C34.2,325.9 35.2,325.4 34.7,325.9Z"/>
<path fill="#ff9900" d="M57.2,349.0C56.2,349.0 55.6,349.0 54.2,348.9C52.8,348.9 50.6,348.9 48.8,348.9C46.9,348.8 44.7,348.8 43.3,348.8C41.9,348.7 41.5,348.8 40.3,348.7C39.1,348.6 37.4,348.0 36.3,348.2C35.2,348.4 34.6,349.4 33.7,350.1C32.9,350.9 32.0,351.8 31.2,352.7C30.4,353.6 29.5,354.7 28.7,355.6C27.9,356.5 27.0,357.3 26.1,358.2C25.2,359.1 24.3,360.2 23.2,361.1C22.1,362.0 20.8,363.1 19.4,363.7C18.0,364.3 16.4,364.5 15.1,364.9C13.8,365.3 12.8,365.5 11.7,366.2C10.6,366.9 9.6,368.1 8.8,369.2C8.0,370.3 7.5,371.8 7.1,373.0C6.7,374.2 6.6,375.1 6.3,376.3C6.0,377.5 5.5,378.4 5.4,380.0C5.3,381.6 5.6,384.1 5.8,385.8C6.0,387.5 6.6,388.6 6.5,390.0C6.4,391.4 5.6,392.9 5.1,394.2C4.6,395.5 3.0,396.8 3.7,397.7C4.4,398.6 7.8,399.2 9.4,399.9C11.1,400.6 12.4,399.8 13.6,402.0C14.8,404.2 15.4,411.2 16.4,413.2C17.4,415.2 14.3,412.8 19.3,413.7C24.4,414.7 37.6,417.1 46.7,418.9C55.8,420.6 69.0,423.0 74.1,424.0C79.1,424.9 76.5,424.9 77.0,424.5C77.5,424.1 77.0,427.8 77.0,421.5C77.0,415.2 77.0,398.3 77.0,386.8C77.0,375.2 77.0,358.3 77.0,352.0C77.0,345.7 77.5,349.5 77.0,349.0C76.5,348.5 75.7,349.0 74.0,349.0C72.3,349.0 69.4,349.0 67.1,349.0C64.8,349.0 61.9,349.0 60.2,349.0C58.6,349.0 58.2,349.0 57.2,349.0Z"/>
<path fill="#e63c00" d="M26.3,365.4C26.3,363.9 27.5,361.5 28.4,359.7C29.3,357.9 30.5,355.9 31.9,354.8C33.3,353.8 35.4,353.0 36.8,353.4C38.2,353.8 39.8,355.1 40.3,356.9C40.8,358.6 40.2,361.8 39.6,363.9C39.0,366.0 38.1,368.4 36.8,369.6C35.5,370.8 33.3,371.4 31.9,371.3C30.5,371.2 29.3,369.9 28.4,368.9C27.5,367.9 26.3,366.9 26.3,365.4Z"/>
<path fill="#e63c00" d="M9.4,387.9C9.5,386.1 10.8,384.2 11.5,382.3C12.2,380.4 12.9,378.2 13.6,376.6C14.3,375.0 14.8,372.9 15.7,372.4C16.6,371.9 18.1,373.0 19.2,373.8C20.2,374.6 20.6,376.8 22.0,377.3C23.4,377.8 26.2,376.4 27.7,376.9C29.2,377.4 29.9,379.2 31.2,380.1C32.5,381.0 35.0,381.4 35.4,382.3C35.8,383.2 34.5,385.0 33.3,385.8C32.1,386.6 29.6,386.1 28.4,387.2C27.2,388.2 27.1,390.6 26.3,392.1C25.5,393.6 24.6,395.1 23.4,396.3C22.2,397.5 20.7,399.2 19.2,399.2C17.7,399.2 15.7,397.4 14.3,396.3C12.9,395.2 11.6,394.2 10.8,392.8C10.0,391.4 9.3,389.6 9.4,387.9Z"/>
<path fill="#ffd400" d="M23.0,382.3C23.1,381.5 24.1,380.2 24.8,380.1C25.5,380.0 26.7,380.8 27.0,381.5C27.3,382.2 27.0,383.8 26.5,384.4C26.0,385.0 24.7,385.5 24.1,385.1C23.5,384.8 22.9,383.1 23.0,382.3Z"/>
<path fill="#ffd400" d="M29.8,389.6C30.2,389.1 31.7,388.3 32.6,388.3C33.5,388.3 35.3,389.1 35.4,389.6C35.5,390.1 34.1,391.2 33.3,391.5C32.5,391.8 31.1,391.7 30.5,391.4C29.9,391.1 29.4,390.1 29.8,389.6Z"/>
<path fill="#e63c00" d="M29.1,395.2C29.4,394.6 31.0,393.7 31.9,393.5C32.8,393.3 34.5,393.7 34.7,394.2C34.9,394.7 34.0,396.1 33.3,396.6C32.5,397.1 30.9,397.4 30.2,397.2C29.5,397.0 28.8,395.8 29.1,395.2Z"/>
<path fill="#ffd400" d="M38.9,350.6C38.4,347.6 39.6,344.6 39.8,342.8C40.0,341.0 39.8,341.2 39.9,339.8C39.9,338.4 40.0,336.2 40.0,334.4C40.1,332.5 40.2,330.3 40.2,328.9C40.3,327.5 39.8,326.4 40.3,325.9C40.8,325.4 41.9,325.9 43.3,325.9C44.7,325.9 46.9,325.9 48.8,325.9C50.6,325.9 52.8,325.9 54.2,325.9C55.6,325.9 56.7,325.4 57.2,325.9C57.7,326.4 57.2,324.6 57.2,328.9C57.2,333.2 57.2,344.3 57.2,351.9C57.2,359.6 57.2,370.7 57.2,375.0C57.2,379.3 58.8,378.2 57.2,378.0C55.6,377.8 49.6,375.3 47.4,373.8C45.2,372.3 44.7,371.0 43.9,368.9C43.1,366.8 43.3,364.2 42.5,361.1C41.7,358.1 39.4,353.7 38.9,350.6Z"/>
<path fill="#ffff80" d="M41.7,325.9C42.2,325.4 43.4,325.9 44.7,325.9C46.0,325.9 47.9,325.9 49.5,325.9C51.0,325.9 52.9,325.9 54.2,325.9C55.5,325.9 56.7,325.4 57.2,325.9C57.7,326.4 57.2,327.3 57.2,328.9C57.2,330.5 57.2,333.5 57.2,335.8C57.2,338.0 57.2,341.0 57.2,342.6C57.2,344.2 58.6,345.0 57.2,345.6C55.8,346.2 51.1,346.8 48.8,346.3C46.5,345.8 44.2,343.9 43.2,342.8C42.2,341.7 43.1,341.2 42.9,339.8C42.8,338.4 42.6,336.2 42.5,334.4C42.3,332.5 42.1,330.3 42.0,328.9C41.8,327.5 41.2,326.4 41.7,325.9Z"/>
<path fill="#ffff80" d="M44.3,358.3C44.4,357.1 46.0,356.2 46.7,356.2C47.5,356.2 48.5,357.4 48.8,358.3C49.1,359.2 48.9,361.0 48.4,361.8C47.9,362.6 46.7,363.8 46.0,363.2C45.3,362.6 44.2,359.5 44.3,358.3Z"/>
<path fill="#ffff80" d="M44.3,365.1C44.6,364.2 46.8,363.5 47.4,363.9C48.0,364.3 48.4,366.6 48.1,367.5C47.8,368.4 46.3,369.7 45.7,369.3C45.1,368.9 44.0,366.0 44.3,365.1Z"/>
</g>
<g clip-path="url(#c22)">
<path fill="#ff9900" d="M-8.9,325.9C-8.4,325.4 -16.5,325.9 -5.9,325.9C4.7,325.9 34.4,325.9 54.5,325.9C74.6,325.9 104.3,325.9 114.9,325.9C125.5,325.9 117.4,325.4 117.9,325.9C118.4,326.4 117.9,320.7 117.9,328.9C117.9,337.1 117.9,359.8 117.9,375.2C117.9,390.6 117.9,413.3 117.9,421.5C117.9,429.7 118.4,424.0 117.9,424.5C117.4,425.0 125.5,424.5 114.9,424.5C104.3,424.5 74.6,424.5 54.5,424.5C34.4,424.5 4.7,424.5 -5.9,424.5C-16.5,424.5 -8.4,425.0 -8.9,424.5C-9.4,424.0 -8.9,429.7 -8.9,421.5C-8.9,413.3 -8.9,390.6 -8.9,375.2C-8.9,359.8 -8.9,337.1 -8.9,328.9C-8.9,320.7 -9.4,326.4 -8.9,325.9Z"/>
<path fill="#ffd400" d="M29.8,348.5C30.5,346.9 35.0,344.2 36.2,342.8C37.4,341.4 36.7,341.4 37.1,340.0C37.6,338.5 38.4,336.2 39.0,334.4C39.6,332.5 40.4,330.2 40.9,328.7C41.3,327.3 41.1,326.4 41.8,325.9C42.5,325.4 43.4,325.9 44.8,325.9C46.2,325.9 48.4,325.9 50.2,325.9C52.1,325.9 54.3,325.9 55.7,325.9C57.1,325.9 58.2,325.4 58.7,325.9C59.2,326.4 58.7,327.3 58.6,328.9C58.5,330.5 58.4,333.5 58.4,335.8C58.3,338.0 58.2,341.0 58.1,342.6C58.0,344.2 58.6,344.2 58.0,345.6C57.4,347.0 55.5,349.9 54.5,351.3C53.5,352.7 52.9,353.9 51.7,354.1C50.5,354.3 48.7,353.6 47.5,352.7C46.3,351.8 45.8,349.4 44.6,348.5C43.4,347.6 41.8,346.8 40.4,347.0C39.0,347.2 37.6,348.9 36.2,349.9C34.8,350.8 33.1,352.9 32.0,352.7C30.9,352.5 29.1,350.1 29.8,348.5Z"/>
<path fill="#ffff80" d="M44.9,345.6C44.9,344.0 46.4,342.2 47.5,341.4C48.6,340.6 50.4,340.3 51.7,340.7C53.0,341.1 54.7,342.2 55.2,343.5C55.7,344.8 55.4,347.1 54.8,348.5C54.2,349.9 52.9,351.5 51.7,352.0C50.5,352.5 48.6,352.4 47.5,351.3C46.4,350.2 44.9,347.2 44.9,345.6Z"/>
<path fill="#a8f016" d="M50.0,347.0C50.2,346.1 51.3,345.0 52.0,344.9C52.7,344.8 53.9,345.6 54.2,346.3C54.5,347.0 54.3,348.6 53.8,349.2C53.3,349.8 51.6,350.5 51.0,350.1C50.4,349.7 49.8,347.9 50.0,347.0Z"/>
<path fill="#ffd400" d="M42.5,358.3C42.9,356.9 44.2,355.0 45.3,354.8C46.4,354.6 48.3,355.4 48.9,356.9C49.5,358.4 49.3,361.9 49.1,363.9C48.9,365.9 48.4,368.2 47.5,368.9C46.6,369.6 44.7,369.1 43.9,368.2C43.1,367.2 43.1,364.8 42.9,363.2C42.7,361.6 42.1,359.7 42.5,358.3Z"/>
<path fill="#ffff80" d="M44.4,358.3C44.6,357.3 45.7,356.5 46.3,356.6C46.9,356.7 48.0,358.0 48.2,359.0C48.4,360.0 48.0,361.9 47.5,362.5C47.0,363.1 45.4,363.2 44.9,362.5C44.4,361.8 44.2,359.3 44.4,358.3Z"/>
<path fill="#ffd400" d="M86.2,339.3C86.2,337.9 88.2,337.1 89.7,337.2C91.2,337.3 94.6,338.8 95.3,340.0C96.0,341.2 94.8,343.3 93.9,344.2C93.0,345.1 91.0,346.4 89.7,345.6C88.4,344.8 86.2,340.7 86.2,339.3Z"/>
</g>
<g clip-path="url(#c13)">
<path fill="#ff9900" d="M-63.9,370.9C-63.4,370.4 -71.5,370.9 -60.9,370.9C-50.3,370.9 -20.6,370.9 -0.5,370.9C19.6,370.9 49.3,370.9 59.9,370.9C70.5,370.9 62.4,370.4 62.9,370.9C63.4,371.4 62.9,365.7 62.9,373.9C62.9,382.1 62.9,404.8 62.9,420.2C62.9,435.6 62.9,458.3 62.9,466.5C62.9,474.7 63.4,469.0 62.9,469.5C62.4,470.0 70.5,469.5 59.9,469.5C49.3,469.5 19.6,469.5 -0.5,469.5C-20.6,469.5 -50.3,469.5 -60.9,469.5C-71.5,469.5 -63.4,470.0 -63.9,469.5C-64.4,469.0 -63.9,474.7 -63.9,466.5C-63.9,458.3 -63.9,435.6 -63.9,420.2C-63.9,404.8 -63.9,382.1 -63.9,373.9C-63.9,365.7 -64.4,371.4 -63.9,370.9Z"/>
<path fill="#ffd400" d="M3.7,370.9C4.2,373.1 3.2,381.0 3.7,384.3C4.2,387.6 5.5,388.6 6.5,390.6C7.5,392.6 8.2,394.9 9.4,396.3C10.6,397.7 12.4,398.1 13.6,399.1C14.8,400.2 15.2,402.1 16.4,402.6C17.6,403.1 19.2,401.5 20.6,401.9C22.0,402.2 24.3,403.6 24.8,404.7C25.3,405.8 23.9,407.1 23.4,408.2C22.9,409.3 21.5,410.9 22.0,411.1C22.5,411.3 24.9,410.0 26.3,409.6C27.7,409.2 29.1,409.2 30.5,408.9C31.9,408.5 33.1,408.4 34.7,407.5C36.3,406.6 37.9,402.4 40.3,403.3C42.6,404.2 47.4,411.1 48.8,413.2C50.2,415.3 48.8,411.5 48.8,416.2C48.8,420.9 48.8,433.0 48.8,441.4C48.8,449.7 48.8,461.8 48.8,466.5C48.8,471.2 49.3,469.0 48.8,469.5C48.3,470.0 55.2,469.5 45.8,469.5C36.4,469.5 10.2,469.5 -7.5,469.5C-25.3,469.5 -51.5,469.5 -60.9,469.5C-70.3,469.5 -63.4,470.0 -63.9,469.5C-64.4,469.0 -63.9,474.7 -63.9,466.5C-63.9,458.3 -63.9,435.6 -63.9,420.2C-63.9,404.8 -63.9,382.1 -63.9,373.9C-63.9,365.7 -64.4,371.4 -63.9,370.9C-63.4,370.4 -66.5,370.9 -60.9,370.9C-55.3,370.9 -40.4,370.9 -30.1,370.9C-19.8,370.9 -4.9,370.9 0.7,370.9C6.3,370.9 3.2,368.7 3.7,370.9Z"/>
<path fill="#ff9900" d="M4.0,402.6C4.1,401.4 5.4,400.5 6.5,400.2C7.6,399.9 9.8,400.2 10.8,400.8C11.8,401.4 12.6,403.0 12.5,404.0C12.4,405.0 11.2,406.2 10.1,406.8C9.0,407.4 6.8,408.0 5.8,407.3C4.8,406.6 3.9,403.8 4.0,402.6Z"/>
<path fill="#ffff80" d="M-0.5,370.9C0.0,373.1 -0.9,381.0 -0.5,384.3C-0.1,387.6 1.3,388.7 1.6,390.6C1.9,392.5 1.8,394.2 1.2,395.6C0.6,397.0 -1.0,397.9 -1.9,399.1C-2.8,400.3 -4.0,401.4 -4.0,402.6C-4.0,403.8 -3.0,405.3 -1.9,406.1C-0.8,406.9 0.9,407.1 2.3,407.5C3.7,407.9 5.3,407.5 6.5,408.2C7.7,408.9 8.2,410.9 9.4,411.8C10.6,412.8 12.0,413.7 13.6,413.9C15.2,414.1 17.6,413.0 19.2,413.2C20.8,413.4 22.1,414.5 23.4,415.3C24.7,416.1 25.6,417.1 27.0,418.1C28.4,419.2 31.1,420.5 31.9,421.6C32.7,422.7 31.9,420.6 31.9,424.6C31.9,428.6 31.9,438.6 31.9,445.6C31.9,452.5 31.9,462.5 31.9,466.5C31.9,470.5 32.4,469.0 31.9,469.5C31.4,470.0 36.9,469.5 28.9,469.5C20.9,469.5 -1.0,469.5 -16.0,469.5C-31.0,469.5 -52.9,469.5 -60.9,469.5C-68.9,469.5 -63.4,470.0 -63.9,469.5C-64.4,469.0 -63.9,474.7 -63.9,466.5C-63.9,458.3 -63.9,435.6 -63.9,420.2C-63.9,404.8 -63.9,382.1 -63.9,373.9C-63.9,365.7 -64.4,371.4 -63.9,370.9C-63.4,370.4 -66.2,370.9 -60.9,370.9C-55.6,370.9 -41.8,370.9 -32.2,370.9C-22.6,370.9 -8.8,370.9 -3.5,370.9C1.8,370.9 -1.0,368.7 -0.5,370.9Z"/>
<path fill="#a8f016" d="M-3.3,370.9C-2.8,373.1 -3.6,381.0 -3.3,384.3C-2.9,387.6 -1.4,388.7 -1.2,390.6C-1.0,392.5 -1.2,394.2 -1.9,395.6C-2.6,397.0 -4.6,397.8 -5.4,399.1C-6.2,400.4 -6.9,402.0 -6.8,403.3C-6.7,404.6 -5.8,405.9 -4.7,406.8C-3.7,407.7 -2.0,408.2 -0.5,408.9C1.0,409.6 3.0,410.2 4.4,411.1C5.8,412.1 6.4,413.7 7.9,414.6C9.4,415.5 11.7,416.5 13.6,416.7C15.5,416.9 17.4,415.8 19.2,416.0C20.9,416.2 22.5,417.4 24.1,418.1C25.8,418.8 28.3,419.4 29.1,420.2C29.9,421.0 29.1,419.1 29.1,423.2C29.1,427.3 29.1,437.6 29.1,444.9C29.1,452.1 29.1,462.4 29.1,466.5C29.1,470.6 29.6,469.0 29.1,469.5C28.6,470.0 33.9,469.5 26.1,469.5C18.4,469.5 -2.9,469.5 -17.4,469.5C-31.9,469.5 -53.1,469.5 -60.9,469.5C-68.7,469.5 -63.4,470.0 -63.9,469.5C-64.4,469.0 -63.9,474.7 -63.9,466.5C-63.9,458.3 -63.9,435.6 -63.9,420.2C-63.9,404.8 -63.9,382.1 -63.9,373.9C-63.9,365.7 -64.4,371.4 -63.9,370.9C-63.4,370.4 -66.0,370.9 -60.9,370.9C-55.8,370.9 -42.7,370.9 -33.6,370.9C-24.5,370.9 -11.3,370.9 -6.3,370.9C-1.2,370.9 -3.8,368.7 -3.3,370.9Z"/>
<path fill="#66c20a" d="M-16.7,370.9C-16.2,373.1 -16.6,380.8 -16.7,384.3C-16.8,387.8 -17.3,389.8 -17.1,392.0C-16.9,394.2 -16.2,396.1 -15.3,397.7C-14.4,399.3 -12.7,400.3 -11.8,401.9C-10.9,403.5 -10.6,405.9 -9.7,407.5C-8.8,409.1 -7.5,410.6 -6.1,411.8C-4.7,413.0 -2.8,413.6 -1.2,414.6C0.4,415.7 1.9,417.3 3.7,418.1C5.5,418.9 7.5,419.1 9.4,419.5C11.3,419.9 13.1,420.2 15.0,420.2C16.9,420.2 18.7,419.3 20.6,419.5C22.5,419.7 25.4,420.5 26.3,421.3C27.2,422.1 26.3,420.3 26.3,424.3C26.3,428.3 26.3,438.4 26.3,445.4C26.3,452.4 26.3,462.5 26.3,466.5C26.3,470.5 26.8,469.0 26.3,469.5C25.8,470.0 30.8,469.5 23.3,469.5C15.8,469.5 -4.8,469.5 -18.8,469.5C-32.8,469.5 -53.4,469.5 -60.9,469.5C-68.4,469.5 -63.4,470.0 -63.9,469.5C-64.4,469.0 -63.9,474.7 -63.9,466.5C-63.9,458.3 -63.9,435.6 -63.9,420.2C-63.9,404.8 -63.9,382.1 -63.9,373.9C-63.9,365.7 -64.4,371.4 -63.9,370.9C-63.4,370.4 -64.8,370.9 -60.9,370.9C-57.0,370.9 -47.2,370.9 -40.3,370.9C-33.4,370.9 -23.6,370.9 -19.7,370.9C-15.8,370.9 -17.2,368.7 -16.7,370.9Z"/>
<path fill="#66c20a" d="M-10.6,390.6C-10.6,389.4 -9.2,387.7 -8.3,387.5C-7.4,387.3 -5.5,388.2 -5.0,389.2C-4.5,390.1 -4.9,392.2 -5.4,393.2C-6.0,394.1 -7.4,395.3 -8.3,394.9C-9.2,394.5 -10.6,391.8 -10.6,390.6Z"/>
<path fill="#089a08" d="M-19.5,370.9C-19.0,373.1 -19.3,380.8 -19.5,384.3C-19.7,387.8 -20.7,389.5 -20.9,392.0C-21.1,394.5 -21.1,397.0 -20.9,399.1C-20.7,401.2 -20.3,402.9 -19.5,404.7C-18.7,406.4 -17.2,408.2 -16.0,409.6C-14.8,411.0 -13.6,412.1 -12.5,413.2C-11.4,414.3 -10.0,415.1 -9.2,416.3C-8.4,417.5 -7.5,419.5 -7.8,420.2C-8.1,420.9 -6.1,420.0 -10.8,420.6C-15.5,421.2 -27.5,422.7 -35.9,423.8C-44.2,424.8 -56.2,426.3 -60.9,426.9C-65.6,427.5 -63.4,427.7 -63.9,427.3C-64.4,426.9 -63.9,429.0 -63.9,424.3C-63.9,419.6 -63.9,407.5 -63.9,399.1C-63.9,390.7 -63.9,378.6 -63.9,373.9C-63.9,369.2 -64.4,371.4 -63.9,370.9C-63.4,370.4 -64.6,370.9 -60.9,370.9C-57.2,370.9 -48.1,370.9 -41.7,370.9C-35.3,370.9 -26.2,370.9 -22.5,370.9C-18.8,370.9 -20.0,368.7 -19.5,370.9Z"/>
<path fill="#73b2ff" d="M-23.7,370.9C-23.2,373.1 -23.6,380.8 -23.7,384.3C-23.8,387.8 -24.2,389.5 -24.4,392.0C-24.6,394.5 -24.8,396.8 -24.7,399.1C-24.6,401.5 -24.4,404.0 -23.7,406.1C-22.9,408.2 -21.3,410.2 -20.2,411.8C-19.1,413.4 -16.9,414.2 -17.1,415.4C-17.3,416.6 -20.4,418.2 -21.6,418.8C-22.8,419.4 -21.1,418.8 -24.6,419.0C-28.1,419.2 -36.7,419.8 -42.8,420.2C-48.8,420.6 -57.4,421.2 -60.9,421.4C-64.4,421.6 -63.4,422.1 -63.9,421.6C-64.4,421.1 -63.9,422.8 -63.9,418.6C-63.9,414.4 -63.9,403.7 -63.9,396.2C-63.9,388.8 -63.9,378.1 -63.9,373.9C-63.9,369.7 -64.4,371.4 -63.9,370.9C-63.4,370.4 -64.2,370.9 -60.9,370.9C-57.5,370.9 -49.5,370.9 -43.8,370.9C-38.1,370.9 -30.0,370.9 -26.7,370.9C-23.3,370.9 -24.2,368.7 -23.7,370.9Z"/>
<path fill="#0047bb" d="M-27.3,370.9C-26.8,373.1 -27.1,380.8 -27.3,384.3C-27.5,387.8 -28.4,389.5 -28.7,392.0C-29.0,394.5 -29.2,396.8 -29.4,399.1C-29.6,401.5 -30.2,403.8 -30.1,406.1C-30.0,408.5 -29.2,411.1 -28.7,413.2C-28.2,415.3 -27.0,417.8 -27.3,418.8C-27.6,419.8 -27.2,418.8 -30.3,419.0C-33.3,419.3 -40.5,419.8 -45.6,420.2C-50.7,420.6 -57.9,421.1 -60.9,421.4C-64.0,421.6 -63.4,422.1 -63.9,421.6C-64.4,421.1 -63.9,422.8 -63.9,418.6C-63.9,414.4 -63.9,403.7 -63.9,396.2C-63.9,388.8 -63.9,378.1 -63.9,373.9C-63.9,369.7 -64.4,371.4 -63.9,370.9C-63.4,370.4 -63.9,370.9 -60.9,370.9C-57.9,370.9 -50.7,370.9 -45.6,370.9C-40.5,370.9 -33.4,370.9 -30.3,370.9C-27.3,370.9 -27.8,368.7 -27.3,370.9Z"/>
<path fill="#e63c00" d="M10.1,389.2C10.1,387.1 10.8,382.2 11.5,380.8C12.2,379.4 13.2,380.8 14.5,380.8C15.8,380.8 17.7,380.8 19.2,380.8C20.8,380.8 22.7,380.8 24.0,380.8C25.3,380.8 26.6,379.2 27.0,380.8C27.4,382.4 26.9,388.0 26.3,390.6C25.7,393.2 24.6,394.9 23.4,396.3C22.2,397.7 20.6,399.0 19.2,399.1C17.8,399.2 16.3,397.9 15.0,397.0C13.7,396.1 12.3,394.8 11.5,393.5C10.7,392.2 10.1,391.3 10.1,389.2Z"/>
<path fill="#e63c00" d="M29.4,395.6C29.6,395.0 30.9,393.9 31.9,393.7C32.9,393.5 34.8,394.1 35.1,394.6C35.5,395.1 34.7,396.0 34.0,396.5C33.3,397.0 31.6,397.5 30.8,397.4C30.0,397.2 29.2,396.2 29.4,395.6Z"/>
<path fill="#ffd400" d="M30.5,389.9C30.8,389.2 32.4,387.9 33.3,387.8C34.2,387.7 35.9,388.8 36.1,389.5C36.3,390.2 35.1,391.6 34.4,392.0C33.6,392.4 32.2,392.4 31.6,392.0C31.0,391.6 30.2,390.6 30.5,389.9Z"/>
<path fill="#ffff80" d="M38.9,401.2C39.1,400.4 40.5,399.2 41.7,399.1C42.9,399.0 45.5,399.7 46.0,400.5C46.5,401.3 45.6,403.4 44.6,404.0C43.6,404.6 41.2,404.5 40.3,404.0C39.3,403.5 38.7,402.0 38.9,401.2Z"/>
<path fill="#73b2ff" d="M-21.6,427.3C-21.1,426.8 -20.5,427.3 -18.6,427.3C-16.7,427.3 -13.1,427.3 -10.4,427.3C-7.6,427.3 -4.0,427.3 -2.1,427.3C-0.2,427.3 0.4,426.8 0.9,427.3C1.4,427.8 0.9,428.5 0.9,430.3C0.9,432.1 0.9,435.3 0.9,437.9C0.9,440.4 0.9,443.6 0.9,445.4C0.9,447.2 1.4,447.9 0.9,448.4C0.4,448.9 -0.2,448.4 -2.1,448.4C-4.0,448.4 -7.6,448.4 -10.3,448.4C-13.1,448.4 -16.7,448.4 -18.6,448.4C-20.5,448.4 -21.1,448.9 -21.6,448.4C-22.1,447.9 -21.6,447.2 -21.6,445.4C-21.6,443.6 -21.6,440.4 -21.6,437.9C-21.6,435.3 -21.6,432.1 -21.6,430.3C-21.6,428.5 -22.1,427.8 -21.6,427.3Z"/>
<path fill="#089a08" d="M-19.5,447.0C-19.6,446.4 -17.8,444.4 -16.7,443.5C-15.6,442.6 -13.4,441.7 -12.9,441.8C-12.4,441.9 -12.9,443.3 -13.5,444.2C-14.1,445.1 -15.3,446.8 -16.3,447.3C-17.3,447.8 -19.4,447.6 -19.5,447.0Z"/>
</g>
</g>
<use href="#cn"/>
</g>
<g id="labels">
<text class="t" x="-19.9" y="28.3" style="font-size:17.6px">Soil moisture deficit (mm)</text>
<text class="t" y="28.3"><tspan x="183.6">at</tspan><tspan x="205.4" style="letter-spacing:0.45px">9am</tspan><tspan x="245.0">on </tspan><tspan style="letter-spacing:0.15px">01/12/2009</tspan></text>
<text class="l" x="6.2" y="69.7">Water surplus</text>
<path d="M71.2 62.4 L70.9 64.6" stroke="#888" stroke-width="0.6" fill="none"/>
<text class="l" x="6.2" y="97.5">Field capacity</text>
<text class="l" x="6.2" y="189.2">50% storage</text>
<text class="l" x="6.2" y="290.9">Dry</text>
<text x="-2.6" y="238.8" style="font-size:9.4px;font-weight:bold;fill:#444;stroke:#888;stroke-width:0.8px;paint-order:stroke">0</text>
<text x="-2.6" y="264" style="font-size:9.4px;font-weight:bold">0</text>
<text class="c" x="6.4" y="465.3">Historical average deficit at  <tspan dx="-1.2">9am on 01/12</tspan></text>
<text class="c" x="262.2" y="465.3">Deficit at  <tspan dx="-1.5">9am on </tspan><tspan style="letter-spacing:0.12px">01/12/2008</tspan></text>
<text class="c" x="526.4" y="465.3">Deficit at  <tspan dx="-1.8">9am on </tspan><tspan style="letter-spacing:0.14px">01/12/2009</tspan></text>
</g>
<g id="north">
<text x="568.8" y="16.9" style="font-family:'Liberation Serif',serif;font-size:8px;fill:#222" text-anchor="middle">N</text>
<path d="M568.6 20.6 L576 42.7 L568.8 37.9 L561.3 42.7 Z" fill="#000"/>
</g>
<g id="logo">
<defs><linearGradient id="wv" x1="595" y1="0" x2="712" y2="0" gradientUnits="userSpaceOnUse">
<stop offset="0" stop-color="#e0306a"/><stop offset="0.12" stop-color="#b03a90"/><stop offset="0.24" stop-color="#5a50c0"/><stop offset="0.34" stop-color="#1f9be6"/><stop offset="0.46" stop-color="#18b0a0"/><stop offset="0.6" stop-color="#2fb040"/><stop offset="0.72" stop-color="#a8c820"/><stop offset="0.82" stop-color="#f0c010"/><stop offset="0.92" stop-color="#f08a10"/><stop offset="1" stop-color="#e85a20"/></linearGradient></defs>
<path d="M595 26.9 C604 26.6 611 24.6 618 22.4 C626 20.2 634 19.6 641 20.6 C650 22 660 25.5 669 27.6 C678 29.6 687 30.4 694 30 C702 29.4 707 27.6 712 26 L712 28 C706 29.8 700 31.4 693 31.8 C685 32.2 676 31.4 667 29.4 C658 27.2 650 24 641 22.6 C634 21.8 627 22.2 619 24.2 C611 26.2 604 27.4 595 27.5 Z" fill="url(#wv)" stroke="url(#wv)" stroke-width="0.9"/>
<text y="26.7" style="font-family:'Liberation Sans',sans-serif;font-size:23.5px;font-style:italic;fill:#2b4f9e"><tspan x="637.4">N</tspan><tspan x="656.6">I</tspan><tspan x="663.4">W</tspan><tspan x="684.0">A</tspan></text>
<text transform="translate(618.2,46.5) scale(0.9,1)" style="font-family:'Liberation Sans',sans-serif;font-size:13.5px;fill:#3a5fa5">Taihoro</text>
<text transform="translate(664.1,46.5) scale(0.9,1)" style="font-family:'Liberation Sans',sans-serif;font-size:13.5px;fill:#3a5fa5">Nukurangi</text>
</g>
</svg>
</body></html>
